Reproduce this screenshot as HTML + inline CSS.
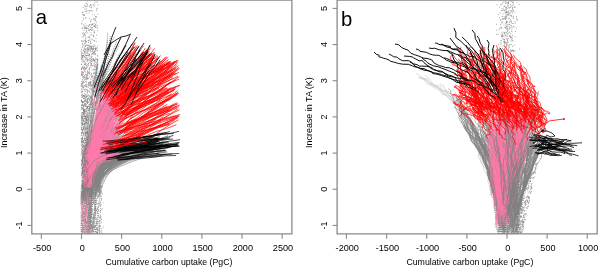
<!DOCTYPE html>
<html><head><meta charset="utf-8"><style>
html,body{margin:0;padding:0;background:#fff;width:598px;height:267px;overflow:hidden}
svg{display:block}
text{font-family:"Liberation Sans",sans-serif;fill:#000}
</style></head><body>
<svg style="will-change:transform" width="598" height="267" viewBox="0 0 598 267">
<rect width="598" height="267" fill="#fff"/>
<defs><clipPath id="pc"><rect x="31.8" y="0" width="260.1" height="233.9"/><rect x="337.1" y="0" width="259.7" height="233.9"/></clipPath></defs>
<g clip-path="url(#pc)">
<path d="M87.8 237.7l-0.6 -4.2 0.6 -4.2 0.9 -5.0 0.0 -4.6 1.2 -4.0 0.2 -3.0 0.1 -4.7 0.2 -3.5 0.7 -3.2 1.0 -5.2M92.7 237.2l-0.6 -5.6 1.5 -5.1 0.3 -5.1 0.0 -3.1 1.5 -4.0 -0.5 -5.5 -0.4 -3.4 -1.3 -5.4 0.3 -5.4 0.4 -5.4 0.7 -5.2M82.4 238.4l-0.5 -4.0 -1.0 -3.2 0.0 -4.1 0.0 -3.2 1.5 -3.3 -0.0 -5.8 0.5 -3.3 0.6 -5.9 -0.4 -3.3 0.1 -5.0 -0.1 -4.9M86.7 238.0l-0.5 -3.8 -0.9 -4.6 0.6 -4.0 -0.3 -5.0 -0.2 -5.7 0.2 -3.7 0.2 -3.2 0.3 -4.0 -1.1 -4.1 0.4 -5.0 -0.8 -5.1 0.9 -4.6 -0.7 -3.4 -0.2 -5.0M88.8 237.1l2.4 -3.1 0.8 -5.2 -0.3 -4.3 -0.5 -5.1 0.1 -5.9 -0.9 -6.0 0.8 -5.8 0.3 -4.4 -0.3 -3.8 -0.3 -5.2 1.1 -5.6 0.5 -3.8M87.9 238.4l-0.1 -4.0 -0.4 -5.1 -0.1 -4.3 0.6 -3.7 0.5 -5.4 0.3 -3.6 -0.1 -3.5 -1.1 -5.0 -0.2 -5.7 0.1 -3.6M90.2 237.3l0.7 -4.8 -0.3 -5.8 -0.8 -5.7 -0.4 -3.4 1.1 -3.3 0.3 -5.1 -2.0 -6.0 -1.5 -4.2 0.6 -3.4 0.2 -4.6 -0.2 -6.0 0.6 -5.2M82.5 238.1l0.7 -5.3 -0.3 -3.1 0.7 -3.9 -0.5 -3.6 0.4 -3.5 0.7 -5.8 0.1 -5.7 -1.3 -3.6 0.2 -5.3 1.0 -3.1M91.7 237.7l-1.0 -5.0 1.0 -5.8 1.5 -4.9 -0.2 -3.2 1.0 -5.0 0.6 -4.1 1.9 -5.6 0.5 -3.1 0.4 -3.2 0.0 -6.0 0.4 -5.5M94.7 236.2l0.7 -5.7 0.6 -4.4 -1.4 -3.5 0.3 -3.2 -1.6 -5.6 -2.0 -5.1 -0.1 -5.2 0.2 -5.3 -0.1 -5.2 0.6 -4.8M86.3 237.4l0.0 -4.7 1.0 -5.6 -0.1 -5.2 0.7 -3.3 0.8 -5.5 0.6 -3.4 0.8 -3.9 0.5 -3.4 0.7 -5.4 0.1 -3.5 -0.3 -3.8 0.7 -5.0 0.0 -3.5M97.0 236.4l0.0 -5.7 1.6 -4.0 -0.6 -5.3 -0.4 -5.7 -0.4 -5.1 0.9 -3.9 2.0 -3.9 -0.8 -3.5 -0.0 -5.7 -0.1 -3.3M89.9 238.2l0.5 -4.3 -0.2 -3.3 -0.7 -4.2 -1.5 -5.6 0.2 -3.0 0.4 -4.8 1.0 -4.2 -0.5 -4.8 0.5 -5.1 1.6 -5.6 0.1 -5.5 -0.5 -3.2 -0.1 -4.1M89.6 237.7l-0.5 -3.5 0.4 -5.4 0.8 -5.3 0.1 -4.9 1.6 -4.0 -1.2 -4.3 0.5 -3.1 -1.4 -4.9 0.1 -4.1 0.3 -4.7 -0.1 -5.4 -0.2 -4.4M96.2 236.5l0.6 -4.5 0.2 -3.9 -1.0 -5.7 -0.1 -3.4 -0.2 -3.6 -0.3 -4.2 0.6 -4.7 -0.8 -5.2 0.5 -5.3M99.0 236.1l0.1 -5.5 0.7 -3.5 0.2 -5.9 -0.2 -4.6 0.6 -3.5 0.1 -5.1 -0.2 -4.6 0.9 -3.2 0.0 -4.0 0.0 -4.1 -0.4 -5.1 0.4 -4.7M90.8 237.9l0.9 -3.6 0.1 -3.3 0.5 -4.6 0.8 -3.8 0.8 -5.2 -1.9 -4.4 0.5 -5.7 -0.6 -5.9 0.7 -5.9 1.1 -5.1 -0.2 -4.8 -0.6 -5.5 0.8 -5.2M89.1 238.4l1.1 -3.2 -0.6 -4.8 -0.3 -3.0 0.7 -4.4 -0.8 -3.4 -0.8 -4.9 -0.4 -4.5 -0.1 -5.5 0.8 -5.6 -1.1 -3.7 1.3 -3.9M82.8 236.0l-1.4 -5.0 -0.3 -5.1 0.3 -5.3 -0.1 -3.3 0.7 -3.9 0.8 -5.2 -0.6 -3.5 0.0 -3.1 -0.1 -3.8 1.2 -5.9 -0.9 -3.2 0.1 -4.9 0.6 -3.4M86.6 238.2l-0.2 -4.0 0.9 -5.9 1.8 -5.0 1.6 -3.7 -0.1 -4.5 0.5 -5.4 0.4 -4.4 -1.7 -5.8 1.8 -4.7 0.1 -5.2M91.2 237.7l0.5 -3.9 0.8 -4.2 -1.3 -4.0 -0.1 -4.8 -1.5 -5.2 1.0 -3.4 0.8 -3.2 0.5 -4.0 1.4 -3.6 0.1 -3.2 0.6 -4.9 -0.1 -4.8 -1.7 -5.7 0.7 -3.1 0.2 -4.7M90.8 238.1l-0.9 -5.1 -0.2 -5.6 -0.2 -3.6 0.4 -4.8 0.3 -5.9 1.5 -4.5 -0.1 -5.3 0.0 -4.3 0.3 -3.7 -0.4 -4.5 -0.3 -4.4M96.8 236.7l0.6 -4.9 -0.3 -3.8 -0.1 -4.5 1.1 -5.9 0.1 -4.6 0.2 -4.9 0.8 -4.3 0.0 -5.4 -1.0 -4.9M81.3 236.6l1.7 -4.0 0.6 -3.6 -1.6 -4.5 -1.0 -5.9 -0.2 -4.5 0.8 -5.4 -0.5 -4.4 0.6 -5.4 -0.9 -3.5 0.0 -3.4 0.2 -4.1M93.6 237.9l-0.3 -3.1 -0.2 -4.2 0.5 -5.4 -1.4 -3.3 2.2 -5.2 0.4 -5.2 0.9 -5.3 -1.2 -5.3 0.3 -5.8 0.1 -5.1 0.3 -3.4 -0.8 -5.3M90.9 237.8l0.1 -3.5 1.6 -5.4 1.3 -4.5 0.1 -5.3 1.1 -4.9 -0.2 -5.4 -0.5 -3.7 2.2 -6.0 -0.9 -3.3 -0.9 -4.8M86.1 238.0l-0.8 -3.1 0.4 -4.4 0.7 -5.1 -0.9 -4.5 -0.3 -5.9 -0.4 -5.8 -0.0 -5.1 0.4 -3.4 0.0 -4.3 -1.4 -5.6 0.0 -4.6 -1.3 -5.2M95.3 238.0l-0.2 -5.0 -1.1 -5.4 -0.5 -5.1 1.6 -4.2 0.4 -5.7 -0.4 -4.0 0.2 -5.8 -0.2 -3.2 0.1 -5.6M88.7 237.4l0.5 -5.7 0.3 -3.3 1.0 -4.4 0.5 -4.8 0.1 -5.2 -0.3 -3.1 -1.3 -4.3 -0.2 -4.0 -0.9 -5.8 -0.2 -5.0M89.9 236.5l-1.0 -3.1 -0.8 -3.6 0.3 -4.8 1.0 -5.9 -0.0 -5.6 0.3 -3.7 -0.5 -4.6 0.7 -4.5 -0.5 -5.7 0.6 -4.0 0.5 -4.7 0.8 -4.5 -1.7 -5.4M89.6 236.9l-0.5 -5.2 0.3 -5.1 -0.1 -5.6 0.4 -5.3 -0.3 -3.8 -0.2 -5.2 -0.3 -3.1 -0.1 -5.9 -0.8 -4.4 -0.5 -3.5 2.0 -3.3 0.1 -5.8 -0.8 -5.3 -0.7 -4.6M88.6 237.0l-0.8 -3.8 -0.3 -3.4 1.5 -3.7 2.2 -3.8 0.5 -3.8 -0.1 -3.6 -0.3 -5.4 1.4 -5.2 0.3 -3.6 0.0 -3.3 -1.9 -4.1 -1.4 -3.9 -0.0 -5.9M84.8 237.2l-0.4 -3.8 0.4 -6.0 0.1 -5.4 1.4 -5.8 -0.3 -3.9 0.6 -5.6 0.5 -4.4 -0.6 -5.2 -0.5 -5.9M85.1 238.2l0.0 -5.9 -0.7 -5.7 0.2 -3.7 -0.1 -3.8 0.5 -3.0 1.0 -3.9 0.9 -4.2 -0.2 -5.9 -0.5 -5.1M88.6 236.5l-0.1 -3.7 0.7 -4.1 0.1 -5.5 -1.3 -3.3 -0.0 -5.8 1.3 -4.9 0.4 -5.6 0.3 -5.5 -1.2 -5.3 0.5 -4.3M86.0 238.5l0.2 -4.3 -0.2 -5.3 0.8 -3.5 0.7 -4.5 0.9 -4.3 -0.1 -3.6 1.1 -4.0 0.8 -5.9 -0.2 -5.1 0.6 -3.7 1.2 -5.8 -0.4 -3.7 1.1 -3.5M89.8 237.1l-0.1 -4.5 0.8 -5.4 -0.8 -4.8 0.3 -5.9 1.0 -5.9 -0.9 -4.3 1.4 -4.6 1.4 -3.5 -0.3 -3.2 -0.3 -5.2 -0.1 -3.9 -1.0 -3.4 -0.0 -4.5M87.7 237.5l-0.0 -4.2 0.0 -5.0 0.7 -4.4 -0.3 -5.8 0.2 -3.7 1.1 -4.6 -0.2 -4.6 -0.8 -3.7 1.4 -5.9 -0.8 -4.1 -1.0 -5.2 0.1 -3.9M81.6 238.3l0.8 -4.5 1.1 -3.9 -0.4 -5.6 0.1 -3.7 -0.9 -3.7 1.6 -4.9 1.2 -3.4 -0.4 -5.4 0.2 -5.3 0.2 -3.2 -0.5 -3.8 1.4 -3.1 0.8 -5.4M83.8 237.1l-0.9 -4.1 -0.1 -5.2 -0.6 -5.3 0.6 -4.7 0.2 -3.5 0.1 -5.3 1.0 -3.5 0.8 -5.0 1.1 -4.3 1.3 -3.7 -0.0 -3.4 -0.6 -5.9M88.7 236.4l0.5 -4.0 1.2 -5.8 0.2 -4.6 -0.8 -4.1 -0.1 -5.1 -0.1 -3.6 -0.4 -5.0 -0.0 -4.1 0.0 -5.8 0.0 -3.2M90.6 238.4l1.2 -3.5 1.1 -5.3 1.0 -4.9 -0.3 -5.2 1.7 -4.2 0.0 -4.4 0.1 -3.2 -0.4 -3.8 -0.8 -5.5 -1.7 -5.6 -0.3 -4.0M88.7 238.0l-0.1 -4.1 0.1 -5.7 -0.7 -5.1 0.1 -3.2 -0.6 -3.4 -1.0 -4.8 -0.3 -3.7 -0.1 -5.5 -0.1 -5.9 1.0 -3.7 0.6 -4.7 0.2 -3.4M84.9 237.4l0.1 -3.4 0.7 -3.5 -0.4 -5.6 -0.6 -5.2 -0.5 -5.3 1.2 -5.2 0.1 -5.4 -0.2 -4.2 -2.0 -4.3 0.9 -4.8M82.1 238.2l-0.8 -4.6 0.6 -5.6 -0.3 -4.7 0.5 -5.3 0.2 -5.9 0.9 -4.4 -0.4 -5.7 -0.3 -5.7 -1.5 -5.6" fill="none" stroke="#828282" stroke-width="0.7" stroke-linejoin="round" stroke-dasharray="0.8 1.3"/>
<path d="M82.9 238.4l-0.3 -4.4 -0.5 -3.7 -0.2 -3.9 -0.5 -5.9 0.1 -3.2 0.3 -5.3 -0.7 -4.1 0.1 -4.9 0.2 -4.2 0.8 -3.9M89.0 237.8l-0.3 -5.9 -0.3 -5.2 -0.6 -4.2 -0.9 -5.3 -0.1 -5.8 0.2 -4.3 -0.2 -4.6 1.2 -5.1 0.1 -3.9 -0.3 -4.9 -0.3 -5.8 0.6 -3.7M81.6 236.1l1.9 -5.0 1.5 -5.2 -0.7 -3.6 0.7 -3.6 0.4 -4.3 0.5 -4.1 -1.0 -5.4 0.1 -5.6 -1.0 -4.2 -1.2 -4.6 0.3 -5.6 -0.0 -5.0 1.0 -4.4M87.0 238.0l0.4 -3.4 1.5 -3.2 -1.5 -5.1 -1.3 -4.9 1.0 -3.9 0.1 -3.2 -0.3 -5.1 0.7 -5.0 0.5 -3.8 0.1 -5.4M88.9 237.5l-0.7 -4.0 -0.6 -3.4 -0.6 -5.2 -1.4 -5.0 -0.4 -3.6 0.4 -5.3 0.8 -4.7 0.7 -4.6 0.6 -3.8M85.1 236.5l0.5 -5.8 -0.2 -3.7 -1.0 -4.2 -0.7 -4.8 2.0 -4.5 -0.0 -5.4 0.0 -3.8 -0.2 -5.8 0.7 -5.1 -0.4 -5.1M86.9 236.3l-0.4 -5.4 1.4 -4.7 -0.7 -4.6 0.2 -4.3 -2.2 -3.9 0.2 -4.6 0.2 -3.2 -1.2 -4.1 -1.1 -5.3 -0.1 -5.9 1.6 -4.0 -2.6 -4.1 -0.7 -4.4M83.6 237.6l-0.1 -3.7 -0.8 -3.0 0.7 -5.8 0.6 -3.1 -0.5 -3.9 0.6 -4.6 -0.7 -5.9 -0.6 -5.5 -0.3 -4.4 -0.8 -5.2M87.4 238.3l-0.0 -3.3 -0.1 -4.2 -0.3 -4.7 -0.6 -4.9 0.4 -5.0 -0.8 -5.8 0.7 -4.4 -0.4 -5.2 -0.9 -3.9 -1.0 -3.2 1.2 -5.3 0.7 -3.4 -0.2 -3.7 0.6 -4.8M84.8 237.9l-0.6 -4.6 -0.4 -5.4 -1.1 -4.9 -0.4 -3.7 0.9 -4.0 -0.9 -4.4 1.2 -6.0 -0.4 -3.4 -0.8 -4.2 0.6 -3.9 0.3 -4.4 -0.3 -3.3 0.8 -4.6M82.8 237.3l0.1 -5.0 0.7 -4.2 1.8 -5.3 -0.0 -5.1 0.6 -5.6 0.3 -5.5 -0.6 -5.1 1.0 -5.4M88.1 236.7l-0.3 -4.3 0.5 -5.4 -0.8 -3.9 -0.1 -4.9 -0.4 -3.5 0.5 -4.7 0.8 -4.7 -0.9 -3.0 1.0 -5.3 -1.5 -3.7 0.4 -4.8 1.0 -5.2 -1.0 -5.6M89.5 237.1l0.3 -6.0 -1.2 -4.9 0.1 -4.6 -1.6 -4.1 -0.0 -3.8 0.5 -3.3 -0.1 -3.6 1.0 -3.9 -0.2 -5.5 0.1 -5.2M84.8 236.0l0.8 -3.2 -0.5 -4.4 0.2 -4.1 -0.5 -4.7 -1.7 -3.4 -0.4 -5.7 0.2 -4.0 0.1 -3.7 -0.1 -3.6 0.3 -4.6 1.6 -3.3 -0.8 -5.8 -1.4 -4.5M85.2 236.7l-0.0 -5.5 -0.2 -4.0 -0.1 -3.0 0.5 -3.7 0.6 -3.4 1.8 -3.2 0.7 -5.4 -1.2 -3.4 1.4 -5.7 -0.2 -5.8 0.2 -3.9" fill="none" stroke="#ff7aaa" stroke-width="0.7" stroke-linejoin="round" stroke-dasharray="0.8 1.3"/>
<path d="M89.3 109.0h0.8M91.3 119.8h0.8M81.8 123.6h0.8M94.4 197.1h0.8M96.3 233.0h0.8M82.0 67.6h0.8M97.2 110.0h0.8M94.8 147.3h0.8M96.9 77.8h0.8M82.5 57.7h0.8M90.1 41.6h0.8M84.4 98.5h0.8M99.2 188.0h0.8M93.7 60.4h0.8M90.8 56.9h0.8M84.7 191.4h0.8M88.3 141.2h0.8M95.4 225.3h0.8M86.0 139.6h0.8M83.1 133.9h0.8M95.7 229.4h0.8M98.8 164.0h0.8M93.0 112.8h0.8M91.6 134.0h0.8M82.2 142.5h0.8M89.2 205.9h0.8M94.8 103.1h0.8M92.5 53.9h0.8M81.0 215.4h0.8M91.9 76.5h0.8M100.2 188.6h0.8M83.1 74.1h0.8M101.3 198.6h0.8M85.4 105.5h0.8M89.6 146.4h0.8M82.4 229.8h0.8M94.0 72.3h0.8M83.2 55.6h0.8M91.3 104.5h0.8M85.3 41.9h0.8M91.1 121.8h0.8M82.7 185.3h0.8M91.0 186.4h0.8M96.3 168.9h0.8M97.6 228.7h0.8M82.5 200.3h0.8M90.3 179.8h0.8M94.2 15.0h0.8M83.6 184.4h0.8M96.7 169.3h0.8M96.7 115.3h0.8M85.7 123.2h0.8M95.0 122.3h0.8M90.4 122.7h0.8M90.9 117.7h0.8M89.3 131.7h0.8M90.6 216.1h0.8M91.3 190.9h0.8M97.3 144.6h0.8M84.0 5.3h0.8M86.7 75.4h0.8M89.7 46.3h0.8M89.6 96.7h0.8M92.3 147.7h0.8M96.0 143.1h0.8M87.8 189.7h0.8M94.0 98.7h0.8M81.1 160.3h0.8M83.4 213.3h0.8M92.3 117.7h0.8M90.3 120.5h0.8M82.1 216.9h0.8M87.1 178.9h0.8M90.8 100.6h0.8M90.1 197.6h0.8M88.1 147.3h0.8M86.4 229.9h0.8M96.7 182.0h0.8M92.9 94.9h0.8M81.0 109.7h0.8M87.0 155.9h0.8M93.5 150.3h0.8M87.5 60.1h0.8M82.4 87.9h0.8M98.0 132.9h0.8M96.3 10.6h0.8M90.9 123.3h0.8M91.0 153.3h0.8M81.0 69.3h0.8M93.4 36.6h0.8M99.2 221.0h0.8M91.6 227.7h0.8M82.8 141.2h0.8M81.7 47.7h0.8M92.0 103.6h0.8M88.1 136.2h0.8M97.0 233.4h0.8M94.4 208.9h0.8M91.3 160.3h0.8M84.5 176.3h0.8M91.2 99.5h0.8M91.6 128.8h0.8M86.5 49.3h0.8M94.6 146.0h0.8M94.3 60.4h0.8M88.6 215.5h0.8M92.2 113.5h0.8M86.1 162.4h0.8M87.8 169.9h0.8M97.7 213.7h0.8M86.8 58.1h0.8M87.3 92.6h0.8M98.6 186.5h0.8M89.9 120.7h0.8M95.4 152.4h0.8M82.5 184.4h0.8M93.7 210.4h0.8M85.3 151.9h0.8M93.6 122.0h0.8M91.4 226.6h0.8M98.0 165.7h0.8M87.8 98.7h0.8M84.3 231.9h0.8M97.0 68.3h0.8M96.7 136.7h0.8M84.4 43.2h0.8M84.7 139.2h0.8M93.5 40.4h0.8M86.3 191.2h0.8M84.5 112.9h0.8M91.9 187.5h0.8M85.9 231.7h0.8M94.1 86.9h0.8M83.4 36.8h0.8M89.7 62.4h0.8M95.8 137.3h0.8M96.1 97.6h0.8M89.9 48.8h0.8M87.3 194.7h0.8M92.7 109.3h0.8M95.1 226.3h0.8M85.3 166.1h0.8M91.1 48.4h0.8M85.9 126.3h0.8M85.5 156.0h0.8M96.6 77.1h0.8M94.6 77.6h0.8M82.4 138.7h0.8M87.6 29.0h0.8M89.3 99.9h0.8M86.5 77.5h0.8M89.3 88.4h0.8M83.6 143.1h0.8M86.8 128.3h0.8M99.4 166.9h0.8M82.2 46.3h0.8M88.5 84.5h0.8M90.4 131.2h0.8M93.9 232.2h0.8M95.8 67.5h0.8M92.1 194.4h0.8M86.4 154.1h0.8M89.5 40.6h0.8M91.5 77.7h0.8M87.7 110.0h0.8M95.3 177.4h0.8M89.8 196.1h0.8M92.0 211.8h0.8M81.7 75.0h0.8M92.2 171.3h0.8M82.0 138.9h0.8M87.4 117.6h0.8M84.8 123.1h0.8M99.5 226.2h0.8M93.3 51.9h0.8M94.0 23.1h0.8M85.7 222.5h0.8M86.8 93.0h0.8M84.2 110.6h0.8M98.1 209.9h0.8M91.4 47.3h0.8M83.3 166.9h0.8M82.1 104.2h0.8M95.3 155.5h0.8M85.7 207.0h0.8M91.9 230.0h0.8M85.8 140.3h0.8M85.5 57.5h0.8M81.5 209.9h0.8M96.3 90.0h0.8M91.9 130.1h0.8M90.9 183.2h0.8M93.8 40.7h0.8M88.2 55.1h0.8M90.9 185.1h0.8M81.4 116.8h0.8M95.9 134.0h0.8M85.2 103.4h0.8M83.2 55.7h0.8M91.2 73.6h0.8M85.1 40.2h0.8M82.1 194.4h0.8M97.0 50.6h0.8M99.9 178.1h0.8M81.6 174.3h0.8M87.4 33.1h0.8M95.0 178.6h0.8M84.9 129.1h0.8M81.5 142.9h0.8M99.8 202.3h0.8M97.2 197.3h0.8M90.0 43.0h0.8M88.6 50.2h0.8M99.4 232.4h0.8M81.1 64.2h0.8M96.2 92.0h0.8M93.6 84.2h0.8M90.9 180.3h0.8M81.5 55.8h0.8M83.1 127.3h0.8M93.5 169.8h0.8M92.7 65.6h0.8M92.3 50.6h0.8M93.9 203.2h0.8M81.8 91.8h0.8M85.5 116.3h0.8M83.6 111.2h0.8M92.8 129.4h0.8M81.9 85.2h0.8M90.6 116.0h0.8M81.2 59.3h0.8M85.3 132.4h0.8M93.0 180.5h0.8M99.9 205.9h0.8M86.0 118.7h0.8M84.0 35.1h0.8M80.8 54.9h0.8M89.0 56.0h0.8M88.0 226.7h0.8M93.9 167.5h0.8M93.6 192.9h0.8M85.6 86.5h0.8M85.0 55.5h0.8M82.9 120.2h0.8M92.6 23.9h0.8M90.2 180.7h0.8M86.0 203.5h0.8M92.8 91.8h0.8M86.4 76.5h0.8M89.8 193.9h0.8M83.5 194.5h0.8M83.9 54.1h0.8M83.8 220.2h0.8M95.3 231.4h0.8M86.3 28.1h0.8M87.0 113.0h0.8M88.9 196.3h0.8M95.4 229.5h0.8M83.7 34.4h0.8M89.0 58.8h0.8M90.3 4.5h0.8M84.6 64.1h0.8M81.7 60.7h0.8M82.1 72.4h0.8M98.7 233.3h0.8M82.0 188.8h0.8M90.6 202.3h0.8M81.2 41.1h0.8M89.4 72.5h0.8M91.5 224.5h0.8M102.2 193.7h0.8M92.6 94.1h0.8M90.4 5.5h0.8M91.5 85.3h0.8M82.8 211.8h0.8M93.2 49.5h0.8M82.6 41.5h0.8M81.0 100.8h0.8M95.5 47.9h0.8M97.3 25.4h0.8M87.6 51.4h0.8M83.9 75.4h0.8M91.4 34.7h0.8M91.6 200.4h0.8M90.6 196.0h0.8M84.6 90.0h0.8M81.3 120.6h0.8M86.8 172.7h0.8M95.3 94.1h0.8M101.9 186.7h0.8M85.5 45.9h0.8M94.3 129.9h0.8M97.7 187.2h0.8M83.8 27.5h0.8M96.9 144.4h0.8M84.5 170.3h0.8M85.8 147.4h0.8M83.0 109.2h0.8M87.1 142.7h0.8M94.5 161.8h0.8M83.2 95.5h0.8M90.4 191.9h0.8M92.6 81.0h0.8M95.4 66.7h0.8M93.2 90.7h0.8M96.7 103.2h0.8M89.5 209.5h0.8M92.5 199.0h0.8M93.5 169.2h0.8M93.6 222.2h0.8M86.1 108.8h0.8M102.8 227.1h0.8M87.0 49.0h0.8M82.4 173.6h0.8M94.1 145.8h0.8M95.6 171.0h0.8M87.9 209.6h0.8M94.0 26.0h0.8M90.3 29.2h0.8M85.7 119.9h0.8M81.7 96.9h0.8M95.0 24.4h0.8M87.6 122.8h0.8M81.0 225.5h0.8M94.4 171.9h0.8M99.0 226.1h0.8M85.2 18.3h0.8M89.0 76.9h0.8M91.5 221.5h0.8M93.1 70.0h0.8M88.8 100.4h0.8M84.5 93.5h0.8M88.9 73.6h0.8M80.9 114.1h0.8M90.8 85.6h0.8M91.3 142.6h0.8M93.4 120.8h0.8M85.3 59.0h0.8M88.0 230.3h0.8M93.4 184.5h0.8M81.3 217.0h0.8M80.9 135.7h0.8M88.1 175.9h0.8M90.9 155.9h0.8M96.7 72.6h0.8M87.7 49.4h0.8M97.9 157.8h0.8M93.8 90.8h0.8M90.6 39.0h0.8M87.3 121.7h0.8M90.5 83.8h0.8M92.4 76.8h0.8M91.8 170.9h0.8M95.8 193.0h0.8M88.9 106.7h0.8M86.5 129.1h0.8M96.4 178.9h0.8M84.1 51.1h0.8M96.0 210.5h0.8M85.1 125.7h0.8M88.9 30.8h0.8M90.4 142.6h0.8M97.6 154.4h0.8M85.4 184.2h0.8M98.8 170.6h0.8M95.9 16.8h0.8M97.3 28.0h0.8M97.8 133.6h0.8M91.0 183.6h0.8M89.6 43.2h0.8M92.6 46.2h0.8M83.7 227.6h0.8M92.2 160.5h0.8M81.4 224.0h0.8M90.5 121.6h0.8M89.7 228.2h0.8M90.0 137.0h0.8M83.3 41.1h0.8M87.3 183.4h0.8M89.5 60.9h0.8M84.7 43.2h0.8M93.6 170.0h0.8M93.5 18.4h0.8M97.3 97.0h0.8M89.4 213.2h0.8M87.4 183.1h0.8M90.7 67.2h0.8M90.9 191.5h0.8M85.0 214.0h0.8M100.2 218.0h0.8M83.6 221.3h0.8M98.8 170.0h0.8M85.9 11.5h0.8M89.9 123.3h0.8M96.8 123.3h0.8M84.2 216.3h0.8M96.2 228.8h0.8M81.1 49.5h0.8M91.7 116.8h0.8M85.9 3.6h0.8M87.4 144.8h0.8M88.1 135.9h0.8M96.1 77.8h0.8M84.4 199.6h0.8M83.7 67.5h0.8M82.4 66.5h0.8M87.1 120.3h0.8M90.4 63.0h0.8M98.3 150.1h0.8M94.2 19.8h0.8M99.5 186.7h0.8M97.0 129.9h0.8M94.8 68.0h0.8M94.4 41.2h0.8M91.2 215.2h0.8M87.6 229.8h0.8M99.9 177.4h0.8M97.1 133.2h0.8M86.7 90.0h0.8M90.4 162.5h0.8M96.7 68.0h0.8M87.3 181.1h0.8M88.8 125.3h0.8M90.5 46.6h0.8M96.8 123.3h0.8M84.7 95.2h0.8M91.6 178.4h0.8M84.0 123.5h0.8M90.0 35.2h0.8M86.9 170.1h0.8M89.0 162.5h0.8M93.7 134.1h0.8M92.2 159.4h0.8M93.2 199.4h0.8M85.9 28.1h0.8M87.7 119.1h0.8M94.0 60.2h0.8M88.1 85.6h0.8M88.2 146.0h0.8M89.5 228.5h0.8M93.0 153.5h0.8M93.7 52.9h0.8M92.7 80.0h0.8M97.4 93.2h0.8M95.3 178.2h0.8M91.3 165.0h0.8M93.8 31.9h0.8M92.6 222.4h0.8M83.2 98.3h0.8M97.5 124.0h0.8M93.5 82.5h0.8M85.4 89.0h0.8M86.5 185.8h0.8M92.5 49.4h0.8M90.6 205.6h0.8M84.5 52.3h0.8M90.0 225.6h0.8M84.5 214.2h0.8M86.9 53.0h0.8M92.4 11.0h0.8M90.7 127.1h0.8M97.2 82.6h0.8M82.5 14.7h0.8M86.9 131.4h0.8M85.2 68.4h0.8M85.5 138.5h0.8M89.3 109.8h0.8M92.8 176.4h0.8M87.7 117.1h0.8M89.6 109.7h0.8M86.9 186.4h0.8M87.4 106.4h0.8M99.2 232.0h0.8M91.8 227.2h0.8M97.4 120.9h0.8M82.8 149.6h0.8M93.5 101.9h0.8M84.8 157.8h0.8M91.8 51.5h0.8M82.5 130.7h0.8M97.2 190.6h0.8M96.8 110.8h0.8M92.2 218.9h0.8M92.7 59.0h0.8M86.6 226.6h0.8M83.9 15.4h0.8M87.7 146.9h0.8M81.6 124.2h0.8M86.3 86.9h0.8M91.1 214.0h0.8M84.9 132.2h0.8M95.2 18.3h0.8M94.9 109.5h0.8M94.8 178.1h0.8M82.6 205.2h0.8M97.0 140.8h0.8M84.0 67.1h0.8M83.8 149.8h0.8M83.3 87.9h0.8M88.7 90.8h0.8M86.4 45.2h0.8M87.7 137.5h0.8M95.9 175.6h0.8M97.4 173.3h0.8M93.8 30.8h0.8M86.2 65.4h0.8M86.9 61.4h0.8M97.4 64.4h0.8M85.2 167.5h0.8M90.1 200.5h0.8M93.2 73.2h0.8M91.1 47.5h0.8M83.9 96.9h0.8M98.7 157.8h0.8M81.3 53.7h0.8M83.0 124.4h0.8M82.8 80.6h0.8M98.8 158.5h0.8M89.2 148.1h0.8M90.8 61.6h0.8M99.2 159.6h0.8M96.2 92.3h0.8M87.5 10.8h0.8M83.3 35.3h0.8M89.4 178.7h0.8M81.0 207.9h0.8M90.9 104.3h0.8M83.2 78.4h0.8M85.3 210.7h0.8M91.5 48.8h0.8M87.7 222.0h0.8M91.0 186.0h0.8M86.3 222.3h0.8M87.8 78.8h0.8M82.8 108.5h0.8M94.5 193.4h0.8M94.5 143.5h0.8M94.4 226.9h0.8M91.6 85.7h0.8M91.5 90.3h0.8M87.1 70.8h0.8M96.9 149.3h0.8M88.7 82.6h0.8M85.4 99.3h0.8M95.3 149.5h0.8M81.1 141.1h0.8M81.4 74.7h0.8M90.1 21.1h0.8M93.3 177.4h0.8M83.7 156.6h0.8M92.7 120.6h0.8M97.0 184.6h0.8M88.1 72.4h0.8M93.8 65.4h0.8M91.9 188.0h0.8M92.5 138.3h0.8M88.5 47.6h0.8M83.1 25.0h0.8M84.1 195.5h0.8M91.2 210.6h0.8M91.6 56.4h0.8M88.4 102.3h0.8M92.2 106.5h0.8M83.3 132.6h0.8M81.3 84.1h0.8M81.5 220.5h0.8M83.1 72.8h0.8M85.3 179.1h0.8M95.1 179.9h0.8M88.7 83.1h0.8M101.2 219.5h0.8M85.9 28.4h0.8M96.5 98.0h0.8M84.6 79.7h0.8M89.9 96.5h0.8M81.1 68.1h0.8M87.1 115.0h0.8M86.5 115.4h0.8M89.3 157.7h0.8M96.8 140.0h0.8M96.6 87.8h0.8M86.8 205.7h0.8M81.4 123.5h0.8M88.2 29.0h0.8M86.4 25.7h0.8M99.0 218.0h0.8M91.5 107.6h0.8M96.8 171.0h0.8M91.0 227.3h0.8M85.3 119.2h0.8M91.5 75.9h0.8M82.4 192.1h0.8M82.0 196.0h0.8M90.7 209.1h0.8M98.2 210.6h0.8M92.2 105.6h0.8M87.4 0.9h0.8M87.7 51.8h0.8M93.8 142.5h0.8M82.0 79.4h0.8M97.7 159.4h0.8M81.0 107.5h0.8M88.6 202.0h0.8M98.4 146.2h0.8M100.1 180.7h0.8M81.0 92.8h0.8M87.4 71.5h0.8M94.2 99.0h0.8M95.8 70.6h0.8M85.3 122.6h0.8M94.4 180.2h0.8M81.9 173.4h0.8M98.0 196.5h0.8M91.6 146.1h0.8M82.0 90.0h0.8M85.9 51.0h0.8M82.1 136.1h0.8M94.0 0.3h0.8M90.3 191.5h0.8M83.0 158.7h0.8M93.7 77.0h0.8M85.4 123.0h0.8M93.7 81.8h0.8M84.7 69.3h0.8M96.7 86.1h0.8M82.5 124.6h0.8M95.1 204.6h0.8M86.1 194.9h0.8M92.7 214.3h0.8M86.8 212.9h0.8M82.2 82.8h0.8M91.1 101.4h0.8M81.8 125.0h0.8M94.5 61.4h0.8M92.0 185.4h0.8M85.6 221.8h0.8M90.0 65.8h0.8M81.6 97.5h0.8M89.2 141.8h0.8M85.9 32.1h0.8M91.1 63.6h0.8M82.1 108.0h0.8M97.1 173.0h0.8M83.2 95.5h0.8M82.1 28.1h0.8M99.4 193.6h0.8M94.8 64.7h0.8M81.7 148.0h0.8M93.9 197.5h0.8M84.2 188.9h0.8M97.3 158.7h0.8M85.3 136.2h0.8M82.5 56.6h0.8M86.1 176.6h0.8M93.3 218.8h0.8M85.1 133.3h0.8M85.1 168.6h0.8M94.9 101.6h0.8M90.6 141.7h0.8M84.8 129.3h0.8M87.3 207.5h0.8M83.8 106.2h0.8M85.5 53.3h0.8M89.5 18.7h0.8M91.8 140.4h0.8M88.5 69.2h0.8M90.6 144.2h0.8M88.0 87.2h0.8M97.4 115.9h0.8M92.5 168.1h0.8M92.4 173.6h0.8M91.1 156.1h0.8M83.6 112.6h0.8M95.6 38.7h0.8M95.1 20.8h0.8M94.3 212.6h0.8M94.4 129.4h0.8M86.6 223.4h0.8M83.5 67.4h0.8M90.8 98.7h0.8M97.1 55.5h0.8M92.7 59.6h0.8M95.2 59.9h0.8M87.5 102.6h0.8M81.3 64.5h0.8M96.3 151.7h0.8M85.2 157.5h0.8M90.6 64.0h0.8M92.3 53.2h0.8M101.6 233.0h0.8M81.4 24.1h0.8M85.2 45.9h0.8M88.8 145.6h0.8M89.3 30.0h0.8M96.6 66.4h0.8M97.0 221.1h0.8M86.7 160.9h0.8M93.7 91.6h0.8M83.3 119.8h0.8M84.9 94.4h0.8M88.7 160.0h0.8M89.0 24.6h0.8M96.4 221.8h0.8M88.9 212.3h0.8M93.8 54.5h0.8M94.2 118.9h0.8M81.9 43.3h0.8M88.9 139.5h0.8M95.8 193.7h0.8M91.8 24.0h0.8M91.2 128.5h0.8M86.0 74.6h0.8M94.4 148.0h0.8M99.3 169.8h0.8M90.1 97.8h0.8M96.5 69.8h0.8M91.2 195.1h0.8M94.4 116.0h0.8M85.1 33.0h0.8M93.3 137.2h0.8M97.6 140.3h0.8M85.1 221.0h0.8M86.2 200.0h0.8M90.5 82.4h0.8M92.5 142.4h0.8M94.9 81.4h0.8M87.1 90.2h0.8M87.5 37.6h0.8M92.7 82.8h0.8M93.3 217.7h0.8M91.2 76.8h0.8M85.3 105.1h0.8M84.9 81.5h0.8M87.5 220.1h0.8M93.4 161.7h0.8M85.9 41.5h0.8M83.9 177.3h0.8M93.9 69.5h0.8M94.6 91.1h0.8M83.4 126.3h0.8M89.2 140.7h0.8M92.1 103.7h0.8M93.9 67.0h0.8M80.8 91.8h0.8M92.4 126.2h0.8M88.1 143.0h0.8M84.6 153.2h0.8M81.7 123.1h0.8M93.8 142.7h0.8M85.3 109.7h0.8M95.5 201.5h0.8M91.3 217.5h0.8M81.4 120.7h0.8M85.3 38.8h0.8M96.7 58.9h0.8M90.8 217.0h0.8M82.0 72.1h0.8M82.9 140.5h0.8M94.5 186.7h0.8M82.9 171.5h0.8M85.7 199.5h0.8M86.0 178.4h0.8M93.3 227.1h0.8M95.9 152.0h0.8M90.2 228.5h0.8M97.3 137.5h0.8M81.4 205.5h0.8M91.9 39.4h0.8M86.9 64.3h0.8M81.7 75.0h0.8M82.2 195.7h0.8M81.6 105.6h0.8M90.4 141.4h0.8M85.9 122.4h0.8M86.9 113.1h0.8M90.9 64.6h0.8M90.7 47.8h0.8M86.6 124.4h0.8M97.0 229.4h0.8M82.3 124.2h0.8M93.2 183.1h0.8M82.2 33.4h0.8M96.2 223.3h0.8M93.1 215.9h0.8M83.1 81.9h0.8M95.3 140.6h0.8M96.4 82.6h0.8M81.0 107.3h0.8M90.5 49.8h0.8M96.0 22.2h0.8M83.4 149.8h0.8M81.3 56.0h0.8M85.5 188.6h0.8M92.0 144.1h0.8M82.2 55.8h0.8M88.8 104.9h0.8M97.8 207.3h0.8M87.7 182.0h0.8M87.8 40.5h0.8M96.8 140.0h0.8M92.4 139.1h0.8M84.8 220.3h0.8M92.8 167.1h0.8M87.9 144.9h0.8M89.8 143.4h0.8M85.8 191.6h0.8M100.5 216.2h0.8M86.5 176.2h0.8M82.9 185.2h0.8M90.3 60.6h0.8M87.4 172.3h0.8M84.7 222.9h0.8M92.2 132.0h0.8M93.5 137.0h0.8M87.7 73.6h0.8M97.4 148.4h0.8M94.9 85.4h0.8M84.7 131.1h0.8M95.6 1.8h0.8M81.8 121.7h0.8M91.2 27.5h0.8M86.6 78.4h0.8M84.3 85.9h0.8M97.9 195.7h0.8M87.6 59.8h0.8M85.0 106.3h0.8M90.4 46.4h0.8M97.3 160.6h0.8M81.2 195.3h0.8M80.9 100.3h0.8M87.4 204.5h0.8M88.1 26.3h0.8M96.7 232.7h0.8M85.7 225.9h0.8M95.2 186.2h0.8M93.7 69.7h0.8M95.0 92.3h0.8M91.3 226.7h0.8M86.5 180.8h0.8M83.0 135.3h0.8M93.3 59.8h0.8M94.0 83.2h0.8M99.3 183.1h0.8M84.9 165.1h0.8M94.8 182.7h0.8M96.7 108.3h0.8M87.6 45.5h0.8M82.2 57.0h0.8M90.0 221.9h0.8M92.2 161.0h0.8M95.9 96.1h0.8M82.7 177.7h0.8M93.0 80.4h0.8M89.0 143.1h0.8M88.7 198.5h0.8M92.2 150.0h0.8M84.7 77.1h0.8M97.2 147.4h0.8M94.1 109.5h0.8M96.0 186.9h0.8M93.0 138.0h0.8M85.4 91.2h0.8M82.4 162.5h0.8M89.3 48.3h0.8M82.7 7.5h0.8M84.4 111.2h0.8M101.1 222.3h0.8M83.8 205.7h0.8M87.8 216.6h0.8M88.7 164.3h0.8M81.2 133.8h0.8M85.1 177.0h0.8M95.3 153.9h0.8M85.6 26.7h0.8M81.4 194.6h0.8M89.5 214.2h0.8M96.0 74.9h0.8M90.7 75.2h0.8M97.8 196.3h0.8M96.1 201.0h0.8M82.1 154.3h0.8M90.1 107.5h0.8M94.7 121.6h0.8M87.7 163.6h0.8M84.0 147.4h0.8M95.1 159.2h0.8M96.9 60.0h0.8M99.5 225.8h0.8M82.2 87.1h0.8M97.1 112.2h0.8M89.0 95.9h0.8M81.7 138.7h0.8M88.9 136.3h0.8M92.6 173.6h0.8M84.6 170.9h0.8M95.2 62.0h0.8M92.1 134.5h0.8M87.0 103.2h0.8M96.2 62.9h0.8M91.7 191.0h0.8M94.7 103.7h0.8M93.4 187.2h0.8M93.2 84.3h0.8M89.0 208.4h0.8M92.5 150.0h0.8M91.7 100.1h0.8M91.1 30.5h0.8M90.3 142.3h0.8M94.7 144.3h0.8M94.3 193.6h0.8M92.2 105.9h0.8M89.0 67.7h0.8M86.5 84.8h0.8M90.5 103.5h0.8M92.4 24.8h0.8M96.7 76.1h0.8M81.4 86.5h0.8M87.2 123.4h0.8M83.9 109.8h0.8M93.6 134.2h0.8M87.0 220.7h0.8M95.2 49.3h0.8M83.1 142.6h0.8M90.2 219.8h0.8M99.2 221.0h0.8M96.4 163.0h0.8M88.8 177.8h0.8M96.9 208.8h0.8M89.2 70.8h0.8M93.5 101.5h0.8M84.8 46.4h0.8M81.5 148.6h0.8M94.2 124.7h0.8M93.2 147.9h0.8M97.1 131.8h0.8M85.1 72.1h0.8M91.6 206.1h0.8M96.8 213.5h0.8M90.7 180.0h0.8M82.3 229.1h0.8M94.6 112.9h0.8M90.1 127.8h0.8M90.0 131.7h0.8M88.2 63.2h0.8M81.3 85.5h0.8M85.7 161.1h0.8M85.4 118.9h0.8M92.6 198.0h0.8M90.0 135.6h0.8M91.8 121.3h0.8M99.4 172.2h0.8M96.2 75.2h0.8M85.1 186.4h0.8M89.6 7.0h0.8M96.6 212.0h0.8M91.7 61.8h0.8M83.3 95.7h0.8M92.0 193.2h0.8M93.6 213.6h0.8M83.6 229.4h0.8M84.4 110.8h0.8M94.0 141.4h0.8M86.0 128.7h0.8M84.4 9.1h0.8M95.5 88.8h0.8M96.7 232.5h0.8M94.4 105.7h0.8M93.2 168.5h0.8M96.7 156.8h0.8M90.2 162.8h0.8M92.5 85.0h0.8M84.8 146.2h0.8M88.8 129.1h0.8M94.7 84.1h0.8M86.3 94.8h0.8M96.5 27.4h0.8M81.4 83.6h0.8M94.5 207.8h0.8M86.0 66.0h0.8M85.1 218.9h0.8M93.4 48.3h0.8M86.0 31.1h0.8M90.1 219.7h0.8M90.4 169.4h0.8M98.2 221.9h0.8M96.7 109.9h0.8M89.4 74.3h0.8M84.8 197.3h0.8M93.2 231.4h0.8M82.2 77.0h0.8M82.0 96.6h0.8M84.8 129.8h0.8M83.8 113.6h0.8M89.7 125.7h0.8M89.5 11.0h0.8M91.1 54.1h0.8M81.8 118.4h0.8M83.7 30.0h0.8M90.8 199.0h0.8M81.5 117.3h0.8M86.0 132.6h0.8M91.4 116.5h0.8M84.9 187.2h0.8M93.2 4.8h0.8M97.8 215.6h0.8M90.2 89.2h0.8M92.0 48.5h0.8M83.9 136.3h0.8M89.2 104.2h0.8M91.1 24.8h0.8M86.1 68.3h0.8M83.1 133.3h0.8M91.9 65.5h0.8M94.7 51.2h0.8M95.6 25.1h0.8M84.3 48.9h0.8M94.9 226.0h0.8M89.3 131.2h0.8M83.7 105.5h0.8M97.3 108.5h0.8M93.8 151.0h0.8M81.6 58.3h0.8M96.2 149.0h0.8M83.5 98.2h0.8M82.8 160.3h0.8M83.8 121.9h0.8M94.7 225.3h0.8M85.5 63.5h0.8M85.8 153.6h0.8M92.7 129.3h0.8M90.4 168.2h0.8M84.2 26.0h0.8M90.2 10.7h0.8M97.5 75.5h0.8M85.8 77.0h0.8M86.7 184.3h0.8M82.3 226.8h0.8M83.8 49.7h0.8M98.4 155.6h0.8M87.1 73.4h0.8M81.8 146.5h0.8M81.7 234.0h0.8M84.3 104.2h0.8M86.6 84.8h0.8M89.2 108.2h0.8M94.2 51.4h0.8M85.0 203.3h0.8M92.5 83.8h0.8M88.1 63.8h0.8M93.9 44.8h0.8M89.3 213.7h0.8M90.1 93.6h0.8M87.2 91.4h0.8M93.9 77.2h0.8M82.5 83.3h0.8M81.3 229.0h0.8M100.6 196.0h0.8M84.8 35.4h0.8M85.2 127.3h0.8M93.9 3.0h0.8M88.4 113.7h0.8M87.8 112.7h0.8M85.0 225.5h0.8M94.2 66.3h0.8M93.0 112.1h0.8M89.3 83.0h0.8M87.3 5.9h0.8M98.6 174.4h0.8M91.0 163.2h0.8M89.8 86.0h0.8M88.5 199.8h0.8M92.2 155.7h0.8M96.3 170.7h0.8M98.4 226.8h0.8M94.7 218.0h0.8M98.2 143.0h0.8M89.9 125.0h0.8M85.9 55.7h0.8M84.6 63.5h0.8M85.8 55.2h0.8M90.0 21.7h0.8M93.2 26.2h0.8M83.0 59.9h0.8M91.7 190.1h0.8M82.2 138.2h0.8M97.1 110.2h0.8M92.3 136.2h0.8M96.3 116.7h0.8M96.5 130.4h0.8M92.3 131.1h0.8M81.3 230.7h0.8M87.9 48.2h0.8M85.6 121.9h0.8M94.3 91.1h0.8M94.3 179.3h0.8M97.1 155.6h0.8M93.2 126.9h0.8M94.9 208.2h0.8M90.9 103.0h0.8M88.2 127.9h0.8M95.4 103.1h0.8M83.0 62.0h0.8M85.8 229.0h0.8M95.4 186.4h0.8M88.7 54.3h0.8M83.7 77.5h0.8M88.7 141.6h0.8M95.7 150.9h0.8M88.2 121.9h0.8M87.2 55.4h0.8M85.6 17.5h0.8M90.1 50.9h0.8M96.0 80.1h0.8M90.8 203.3h0.8M87.1 66.9h0.8M91.0 97.2h0.8M95.6 218.1h0.8M81.6 195.2h0.8M90.7 221.7h0.8M89.5 180.2h0.8M95.6 210.0h0.8M85.5 50.0h0.8M84.5 6.0h0.8M86.5 157.1h0.8M93.1 174.7h0.8M99.2 228.5h0.8M82.8 214.4h0.8M89.5 194.3h0.8M87.0 147.0h0.8M93.6 143.1h0.8M90.9 141.5h0.8M95.1 207.7h0.8M81.7 21.1h0.8M91.2 115.1h0.8M82.7 53.5h0.8M96.5 218.9h0.8M91.2 7.2h0.8M97.8 230.5h0.8M89.2 126.7h0.8M93.5 88.6h0.8M83.2 216.9h0.8M88.3 203.5h0.8M91.4 89.9h0.8M89.1 85.4h0.8M93.7 6.7h0.8M82.2 147.4h0.8M89.8 81.5h0.8M96.5 59.7h0.8M97.3 188.5h0.8M96.0 72.6h0.8M91.4 104.7h0.8M101.2 191.8h0.8M81.2 81.6h0.8M90.9 7.7h0.8M85.9 75.2h0.8M86.9 60.3h0.8M82.1 44.3h0.8M93.1 214.8h0.8M88.9 37.4h0.8M94.0 26.5h0.8M85.5 154.4h0.8M94.9 175.8h0.8M96.6 59.6h0.8M90.5 86.4h0.8M86.1 178.0h0.8M83.2 120.6h0.8M93.3 153.9h0.8M83.5 141.0h0.8M93.5 109.2h0.8M97.7 128.4h0.8M89.0 136.5h0.8M101.0 199.7h0.8M86.3 142.5h0.8M95.6 184.1h0.8M88.2 49.3h0.8M81.9 163.4h0.8M93.4 19.6h0.8M83.0 76.7h0.8M89.1 108.0h0.8M97.8 169.3h0.8M84.3 51.7h0.8M93.9 227.3h0.8M97.4 65.8h0.8M95.0 20.2h0.8M84.7 56.1h0.8M83.1 185.9h0.8M93.6 113.6h0.8M89.5 207.5h0.8M86.9 72.6h0.8M91.0 131.8h0.8M90.0 121.0h0.8M91.4 226.8h0.8M88.7 10.3h0.8M84.5 51.8h0.8M92.8 58.9h0.8M84.3 96.3h0.8M80.8 86.0h0.8M88.1 115.6h0.8M95.2 74.6h0.8M97.5 183.7h0.8M85.2 49.2h0.8M88.7 126.4h0.8M86.7 59.5h0.8M96.5 119.9h0.8M88.2 208.0h0.8M94.0 131.8h0.8M86.7 140.1h0.8M83.5 187.7h0.8M96.9 148.9h0.8M94.5 104.7h0.8M92.3 223.7h0.8M85.4 140.7h0.8M96.0 117.9h0.8M87.0 45.4h0.8M92.9 138.4h0.8M86.5 192.7h0.8M84.3 28.2h0.8M91.2 173.7h0.8M86.5 196.1h0.8M91.0 160.4h0.8M93.7 63.7h0.8M90.0 156.6h0.8M84.3 176.8h0.8M81.8 36.9h0.8M88.0 110.5h0.8M97.4 71.2h0.8M97.0 48.0h0.8M86.9 182.2h0.8M87.0 181.5h0.8M88.7 104.6h0.8M84.3 33.5h0.8M96.3 48.3h0.8M85.7 78.2h0.8M87.3 145.6h0.8M81.4 186.2h0.8M97.5 169.6h0.8M88.5 136.4h0.8M87.6 216.9h0.8M86.7 142.9h0.8M96.0 35.2h0.8M96.1 81.1h0.8M99.4 229.0h0.8M92.7 113.7h0.8M84.9 177.8h0.8M86.1 227.2h0.8M92.4 229.8h0.8M93.7 194.1h0.8M81.1 185.0h0.8M83.6 163.3h0.8M83.6 47.7h0.8M83.4 61.5h0.8M86.4 96.5h0.8M82.0 94.4h0.8M98.8 159.7h0.8M89.6 195.1h0.8M92.6 113.2h0.8M85.6 140.2h0.8M88.9 214.4h0.8M92.0 24.2h0.8M92.5 217.5h0.8M83.7 77.3h0.8M94.1 228.7h0.8M82.1 102.1h0.8M95.1 27.5h0.8M85.0 123.7h0.8M90.0 217.6h0.8M94.5 166.6h0.8M86.0 6.4h0.8M90.5 188.5h0.8M89.8 113.0h0.8M89.3 36.9h0.8M81.0 68.4h0.8M98.0 158.3h0.8M84.2 100.8h0.8M86.9 107.8h0.8M87.4 169.8h0.8M89.7 131.8h0.8M85.2 85.1h0.8M83.1 19.3h0.8M92.7 202.5h0.8M97.8 148.7h0.8M95.7 167.0h0.8M93.6 209.4h0.8M94.4 227.0h0.8M89.4 212.2h0.8M84.3 91.3h0.8M85.5 86.3h0.8M91.5 5.2h0.8M96.6 184.2h0.8M90.2 130.8h0.8M90.2 115.9h0.8M84.0 61.3h0.8M85.6 177.1h0.8M92.8 156.5h0.8M86.6 153.1h0.8M91.5 130.6h0.8M91.3 227.9h0.8M92.1 99.1h0.8M93.3 46.7h0.8M88.2 45.2h0.8M89.4 24.7h0.8M82.4 83.8h0.8M90.6 156.3h0.8M100.9 204.8h0.8M96.1 101.0h0.8M96.4 175.7h0.8M97.4 203.9h0.8M84.7 198.3h0.8M80.8 69.6h0.8M84.4 95.6h0.8M92.4 85.2h0.8M83.3 45.0h0.8M89.2 108.3h0.8M90.2 221.5h0.8M86.9 101.3h0.8M84.4 139.9h0.8M83.0 212.8h0.8M86.8 99.8h0.8M82.7 120.4h0.8M99.3 182.9h0.8M93.4 108.2h0.8M83.7 112.4h0.8M90.6 32.6h0.8M84.6 125.1h0.8M92.1 168.0h0.8M87.3 177.5h0.8M90.0 216.6h0.8M85.2 68.8h0.8M94.5 147.5h0.8M81.0 83.4h0.8M95.9 116.4h0.8M88.0 37.2h0.8M96.7 73.2h0.8M89.1 54.9h0.8M91.2 65.7h0.8M90.3 51.8h0.8M91.2 190.2h0.8M87.2 28.3h0.8M93.3 182.6h0.8M92.8 47.0h0.8M89.7 179.4h0.8M90.1 178.7h0.8M97.1 90.2h0.8M85.4 52.1h0.8M90.9 82.1h0.8M97.2 139.5h0.8M94.5 48.6h0.8M95.1 198.4h0.8M85.5 221.3h0.8M81.7 74.0h0.8M100.0 192.1h0.8M88.1 149.1h0.8M84.1 86.2h0.8M99.6 223.1h0.8M96.1 154.7h0.8M89.4 49.7h0.8M87.3 49.0h0.8M90.1 165.9h0.8M89.6 195.7h0.8M95.3 53.5h0.8M81.0 88.8h0.8M96.1 69.2h0.8M93.0 52.7h0.8M83.6 219.9h0.8M85.2 84.8h0.8M83.1 169.4h0.8M81.8 57.3h0.8M89.0 154.0h0.8M82.7 177.1h0.8M91.0 97.3h0.8M96.2 50.1h0.8M91.2 212.9h0.8M86.2 58.5h0.8M84.6 40.2h0.8M94.4 73.5h0.8M93.5 204.1h0.8M83.4 199.1h0.8M96.9 160.7h0.8M82.3 119.7h0.8M94.9 83.8h0.8M85.0 134.5h0.8M88.6 60.2h0.8M84.4 101.2h0.8M80.9 51.0h0.8M96.6 221.7h0.8M97.2 30.7h0.8M89.2 45.8h0.8M87.2 47.6h0.8M81.3 132.9h0.8M99.8 226.3h0.8M97.6 179.7h0.8M85.5 6.7h0.8M81.9 124.6h0.8M91.9 147.9h0.8M93.0 35.2h0.8M92.6 75.3h0.8M97.2 14.0h0.8M81.1 75.6h0.8M85.0 183.1h0.8M92.0 137.0h0.8M97.1 211.8h0.8M95.5 48.0h0.8M93.0 48.9h0.8M87.8 176.4h0.8M93.9 198.7h0.8M89.8 84.7h0.8M83.3 69.2h0.8M98.1 137.7h0.8M84.5 206.4h0.8M94.5 95.3h0.8M94.8 54.7h0.8M82.9 195.0h0.8M84.2 213.4h0.8M96.8 2.1h0.8M83.0 207.1h0.8M100.0 215.8h0.8M80.9 115.7h0.8M91.7 228.2h0.8M88.0 106.5h0.8M84.7 79.2h0.8M89.5 194.6h0.8M82.1 231.3h0.8M93.6 90.5h0.8M91.3 28.8h0.8M84.6 79.1h0.8M81.5 132.5h0.8M85.2 100.0h0.8M89.1 68.7h0.8M84.7 121.6h0.8M97.0 157.3h0.8M95.7 210.0h0.8M97.6 154.4h0.8M92.7 178.1h0.8M95.3 16.6h0.8M81.7 153.9h0.8M86.3 186.3h0.8M85.5 105.0h0.8M96.0 174.3h0.8M91.0 224.8h0.8M86.1 120.8h0.8M92.5 166.6h0.8M93.6 140.2h0.8M90.7 59.6h0.8M83.2 95.8h0.8M83.0 213.6h0.8M81.0 58.7h0.8M82.2 155.5h0.8M87.6 78.5h0.8M88.6 25.4h0.8M89.5 209.2h0.8M96.6 141.0h0.8M87.3 108.0h0.8M92.1 27.7h0.8M84.3 57.0h0.8M89.7 83.4h0.8M88.8 99.5h0.8M97.2 45.9h0.8M87.4 179.3h0.8M99.2 160.9h0.8M81.8 186.6h0.8M94.3 143.0h0.8M85.4 166.7h0.8M92.5 200.7h0.8M81.2 175.0h0.8M95.5 131.7h0.8M93.6 222.6h0.8M83.3 149.5h0.8M82.3 129.3h0.8M89.0 6.0h0.8M93.5 60.5h0.8M85.7 48.4h0.8M86.9 192.2h0.8M82.7 86.3h0.8M96.2 222.1h0.8M88.1 49.8h0.8M84.4 121.9h0.8M85.7 3.3h0.8M90.9 113.1h0.8M90.8 101.4h0.8M89.0 69.1h0.8M88.7 117.3h0.8M83.9 82.3h0.8M82.3 208.4h0.8M94.4 192.9h0.8M88.9 192.5h0.8M99.5 173.7h0.8M87.4 75.2h0.8M90.8 115.5h0.8M89.6 102.0h0.8M95.1 49.0h0.8M100.6 186.4h0.8M92.4 91.7h0.8M92.0 53.4h0.8M92.0 190.1h0.8M87.8 190.6h0.8M82.2 139.5h0.8M91.8 86.0h0.8M82.6 120.2h0.8M80.9 52.1h0.8M90.1 152.4h0.8M89.5 117.9h0.8M96.1 108.5h0.8M93.5 149.4h0.8M91.3 19.7h0.8M92.9 107.6h0.8M97.4 56.4h0.8M96.5 69.9h0.8M93.9 127.8h0.8M85.0 41.2h0.8M99.0 225.2h0.8M93.2 59.5h0.8M81.2 181.2h0.8M95.0 229.5h0.8M88.9 72.2h0.8M86.5 13.3h0.8M83.9 14.7h0.8M90.5 104.7h0.8M96.6 77.3h0.8M92.9 230.6h0.8M96.4 75.4h0.8M91.7 202.9h0.8M81.1 73.1h0.8M91.7 110.1h0.8M92.2 89.6h0.8M95.4 143.9h0.8M84.7 40.4h0.8M94.5 156.6h0.8M93.2 150.1h0.8M90.6 122.0h0.8M93.5 117.3h0.8M92.6 169.2h0.8M86.0 79.7h0.8M97.5 4.9h0.8M97.3 94.4h0.8M87.6 196.8h0.8M96.6 89.6h0.8M94.3 182.9h0.8M94.3 92.2h0.8M83.0 181.3h0.8M93.4 158.6h0.8M87.2 145.1h0.8M85.7 8.2h0.8M82.5 12.3h0.8M82.6 72.1h0.8M92.2 87.9h0.8M88.0 65.8h0.8M84.6 23.9h0.8M86.0 78.4h0.8M99.9 210.6h0.8M98.2 135.8h0.8M83.4 193.0h0.8M92.2 134.7h0.8M97.7 180.0h0.8M83.1 82.2h0.8M91.3 174.8h0.8M84.1 89.6h0.8M86.7 120.8h0.8M89.7 228.2h0.8M87.5 187.1h0.8M84.7 28.4h0.8M86.0 30.8h0.8M83.2 128.4h0.8M95.9 128.1h0.8M82.0 55.6h0.8M81.2 183.2h0.8M85.2 132.8h0.8M86.0 82.8h0.8M96.7 154.8h0.8M96.0 73.6h0.8M92.0 225.7h0.8M92.6 29.7h0.8M101.9 208.3h0.8M83.5 111.0h0.8M81.7 104.5h0.8M81.1 231.0h0.8M100.6 231.8h0.8M82.3 123.8h0.8M92.3 168.4h0.8M91.3 43.3h0.8M100.8 192.2h0.8M99.0 230.5h0.8M89.8 106.1h0.8M88.7 119.3h0.8M85.5 142.2h0.8M86.4 67.5h0.8M92.6 46.2h0.8M88.3 30.2h0.8M85.2 64.6h0.8M86.5 133.1h0.8M95.7 144.1h0.8M87.9 119.4h0.8M90.1 97.9h0.8M93.1 226.8h0.8M85.1 127.8h0.8M90.0 190.8h0.8M91.9 138.8h0.8M90.0 83.1h0.8M84.1 52.7h0.8M81.9 207.2h0.8M81.6 40.6h0.8M83.9 70.8h0.8M92.3 189.2h0.8M87.0 79.2h0.8M97.3 109.0h0.8M87.8 139.0h0.8M95.5 140.0h0.8M97.4 223.2h0.8M82.6 14.1h0.8M96.3 181.9h0.8M92.3 60.8h0.8M82.5 101.9h0.8M88.1 82.9h0.8M83.2 17.9h0.8M85.6 132.5h0.8M95.2 48.5h0.8M81.6 116.6h0.8M89.1 91.7h0.8M90.9 204.1h0.8M94.5 26.1h0.8M84.5 111.6h0.8M96.1 79.5h0.8M99.9 211.7h0.8M80.9 212.3h0.8M85.2 98.2h0.8M84.3 57.0h0.8M81.7 228.0h0.8M83.8 69.4h0.8M96.7 208.9h0.8M90.8 49.4h0.8M87.3 202.5h0.8M97.1 68.2h0.8M89.3 98.2h0.8M86.9 86.8h0.8M87.0 101.0h0.8M96.3 9.0h0.8M81.8 62.1h0.8M96.4 130.3h0.8M94.8 95.9h0.8M87.1 53.1h0.8M88.6 176.4h0.8M95.7 17.1h0.8M84.7 71.4h0.8M85.4 112.0h0.8M82.5 12.4h0.8M91.2 225.1h0.8M99.5 191.0h0.8M95.6 182.0h0.8M96.7 232.3h0.8M92.1 131.5h0.8M83.0 68.6h0.8M88.9 53.9h0.8M89.9 26.9h0.8M82.0 225.3h0.8M96.5 84.6h0.8M88.7 197.2h0.8M101.2 209.6h0.8M94.9 102.6h0.8M90.1 186.5h0.8M81.6 141.0h0.8M95.7 108.5h0.8M92.8 92.1h0.8M85.5 176.4h0.8M81.8 105.3h0.8M85.9 143.2h0.8M85.5 202.6h0.8M97.2 143.1h0.8M85.7 81.4h0.8M82.0 203.7h0.8M96.4 183.8h0.8M92.1 209.8h0.8M90.9 46.1h0.8M91.1 215.1h0.8M96.8 8.4h0.8M94.2 229.1h0.8M93.6 94.6h0.8M87.3 194.1h0.8M81.4 172.8h0.8M96.9 84.2h0.8M94.2 60.3h0.8M92.5 119.9h0.8M96.4 95.6h0.8M91.9 226.2h0.8M88.8 91.2h0.8M87.1 50.9h0.8M94.6 196.8h0.8M95.1 137.5h0.8M95.4 120.3h0.8M85.1 0.0h0.8M85.9 110.9h0.8M87.3 4.5h0.8M92.8 86.7h0.8M86.2 179.9h0.8M83.2 87.5h0.8M81.1 128.3h0.8M85.2 28.0h0.8M81.4 90.2h0.8M90.8 79.0h0.8M83.7 194.0h0.8M84.5 67.0h0.8M91.3 84.4h0.8M94.6 45.9h0.8M90.2 29.4h0.8M90.8 92.0h0.8M95.0 58.0h0.8M81.2 159.9h0.8M93.3 36.4h0.8M96.6 97.3h0.8M89.9 206.9h0.8M86.3 102.6h0.8M84.2 180.0h0.8M85.7 131.6h0.8M90.3 196.7h0.8M84.0 64.5h0.8M87.4 170.1h0.8M96.0 82.6h0.8M93.0 217.2h0.8M96.4 148.9h0.8M93.8 62.8h0.8M89.0 207.5h0.8M88.0 40.7h0.8M95.1 48.8h0.8M95.3 88.0h0.8M82.2 91.9h0.8M96.7 223.8h0.8M101.4 186.1h0.8M97.3 139.4h0.8M101.3 228.8h0.8M96.5 147.4h0.8M82.7 55.3h0.8M88.3 166.5h0.8M91.9 158.5h0.8M84.1 168.3h0.8M82.3 197.4h0.8M83.6 175.1h0.8M86.6 114.6h0.8M96.4 127.4h0.8M93.3 73.3h0.8M81.2 23.4h0.8M90.0 174.2h0.8M83.1 50.6h0.8M81.4 113.0h0.8M98.2 161.1h0.8M91.1 134.0h0.8M84.0 160.7h0.8M85.9 201.5h0.8M94.9 200.8h0.8M94.8 200.4h0.8M94.0 33.0h0.8M84.8 44.9h0.8M84.6 119.0h0.8M85.2 37.0h0.8M86.7 101.1h0.8M82.9 133.6h0.8M85.1 116.7h0.8M98.1 137.2h0.8M83.1 15.5h0.8M98.5 230.4h0.8M91.9 89.4h0.8M91.7 29.8h0.8M97.4 127.3h0.8M85.2 74.6h0.8M95.2 231.8h0.8M91.2 121.1h0.8M92.5 221.8h0.8M88.3 108.5h0.8M88.4 187.8h0.8M85.0 59.8h0.8M82.4 127.3h0.8M86.0 222.3h0.8M98.5 165.1h0.8M82.0 28.1h0.8M90.0 209.7h0.8M96.5 94.8h0.8M89.9 138.2h0.8M83.0 185.8h0.8M85.0 181.0h0.8M96.6 233.1h0.8M94.3 51.0h0.8M81.1 95.3h0.8M86.1 89.7h0.8M91.8 69.9h0.8M86.4 162.6h0.8M85.2 178.5h0.8M98.7 203.5h0.8M87.5 192.3h0.8M96.0 68.5h0.8M96.5 203.5h0.8M96.2 90.8h0.8M88.1 204.4h0.8M83.7 217.9h0.8M95.6 199.3h0.8M98.1 183.4h0.8M92.4 193.9h0.8M96.6 155.3h0.8M89.5 106.4h0.8M94.8 26.3h0.8M91.8 164.4h0.8M91.3 74.0h0.8M81.5 152.8h0.8M96.9 124.5h0.8M82.3 101.6h0.8M90.6 87.9h0.8M83.3 212.3h0.8M93.1 93.3h0.8M83.3 195.8h0.8M89.8 82.1h0.8M97.2 106.6h0.8M86.6 203.9h0.8M90.7 123.1h0.8M93.7 60.5h0.8M91.4 97.7h0.8M87.6 64.9h0.8M81.7 101.6h0.8M82.5 141.6h0.8M93.6 52.5h0.8M88.8 141.0h0.8M91.9 204.7h0.8M89.9 104.3h0.8M88.9 139.6h0.8M97.5 132.3h0.8M93.2 147.9h0.8M83.2 32.3h0.8M95.3 65.0h0.8M81.4 73.0h0.8M87.6 55.3h0.8M90.8 150.1h0.8M90.2 58.2h0.8M88.9 217.9h0.8M93.0 99.3h0.8M96.5 142.4h0.8M81.5 221.2h0.8M93.6 160.3h0.8M100.5 217.4h0.8M94.0 87.5h0.8M97.7 207.2h0.8M85.9 10.1h0.8M81.9 52.9h0.8M92.0 103.8h0.8M82.3 59.2h0.8M92.1 151.8h0.8M97.5 170.1h0.8M85.7 189.9h0.8M83.9 159.6h0.8M97.2 138.1h0.8M84.2 161.2h0.8M83.5 76.6h0.8M93.9 53.2h0.8M90.9 113.1h0.8M88.7 45.9h0.8M95.3 226.2h0.8M82.0 204.3h0.8M95.9 219.8h0.8M97.1 110.6h0.8M82.4 85.7h0.8M93.7 81.9h0.8M92.0 103.4h0.8M90.9 149.1h0.8M101.1 230.8h0.8M88.5 180.7h0.8M86.9 75.0h0.8M88.7 55.9h0.8M88.2 98.0h0.8M94.9 177.0h0.8M91.3 141.5h0.8M98.5 177.1h0.8M101.1 187.2h0.8M84.4 181.1h0.8M86.0 154.6h0.8M96.7 195.8h0.8M94.5 79.3h0.8M82.6 116.2h0.8M92.1 49.0h0.8M97.1 76.8h0.8M86.2 169.1h0.8M92.4 119.9h0.8M93.9 32.5h0.8M97.1 227.8h0.8M95.3 146.2h0.8M90.2 196.2h0.8M85.7 55.2h0.8M81.4 71.5h0.8M89.7 138.7h0.8M86.5 209.3h0.8M85.3 117.1h0.8M80.9 57.3h0.8M90.8 25.1h0.8M96.9 136.2h0.8M89.7 84.8h0.8M87.0 107.6h0.8M89.6 115.3h0.8M90.0 172.6h0.8M90.6 95.4h0.8M97.8 180.0h0.8M93.5 156.3h0.8M93.7 202.0h0.8M98.9 162.2h0.8M89.4 120.5h0.8M91.4 96.5h0.8M100.6 220.1h0.8M82.2 173.5h0.8M94.4 195.1h0.8M99.5 205.4h0.8M83.4 151.6h0.8M87.6 210.9h0.8M91.0 130.0h0.8M87.3 171.2h0.8M92.0 107.9h0.8M97.4 115.6h0.8M81.0 185.4h0.8M94.4 5.1h0.8M95.1 97.6h0.8M95.4 190.5h0.8M91.2 59.5h0.8M92.7 78.6h0.8M82.4 75.0h0.8M88.0 82.7h0.8M83.6 192.6h0.8M91.2 208.5h0.8M91.5 58.9h0.8M95.4 180.6h0.8M93.2 203.3h0.8M92.5 81.0h0.8M84.0 67.9h0.8M80.9 138.9h0.8M81.8 223.7h0.8M97.9 216.7h0.8M88.1 210.1h0.8M87.4 77.4h0.8M97.9 203.5h0.8M96.9 58.9h0.8M84.8 11.6h0.8M85.5 124.0h0.8M84.9 176.1h0.8M90.9 61.2h0.8M82.2 81.9h0.8M96.6 140.2h0.8M96.6 224.5h0.8M89.5 97.8h0.8M84.4 208.9h0.8M91.1 88.9h0.8M82.1 68.0h0.8M98.2 169.4h0.8M83.3 114.1h0.8M96.9 79.2h0.8M93.2 36.0h0.8M90.5 212.7h0.8M97.3 167.8h0.8M92.9 159.2h0.8M88.0 42.3h0.8M88.6 12.9h0.8M82.9 50.6h0.8M83.1 220.5h0.8M91.3 10.7h0.8M90.3 217.0h0.8M87.5 119.6h0.8M85.6 42.2h0.8M91.2 101.8h0.8M96.4 139.5h0.8M91.0 102.5h0.8M89.5 47.1h0.8" fill="none" stroke="#808080" stroke-width="0.8" />
<path d="M94.0 225.8h0.8M83.3 171.3h0.8M83.0 199.9h0.8M86.8 199.5h0.8M85.1 224.3h0.8M83.1 171.0h0.8M83.6 45.7h0.8M81.7 214.3h0.8M97.9 177.6h0.8M86.3 192.4h0.8M87.8 192.1h0.8M93.8 184.8h0.8M84.5 166.3h0.8M85.9 156.1h0.8M86.8 202.6h0.8M88.3 186.4h0.8M85.3 157.3h0.8M86.8 201.3h0.8M85.8 170.1h0.8M91.9 14.4h0.8M82.0 150.8h0.8M89.4 165.2h0.8M85.8 179.3h0.8M84.5 218.5h0.8M86.8 162.7h0.8M81.3 208.9h0.8M90.4 78.8h0.8M84.9 186.7h0.8M83.5 34.6h0.8M92.3 198.7h0.8M82.7 87.1h0.8M82.0 175.3h0.8M83.3 219.3h0.8M83.7 89.3h0.8M81.9 202.5h0.8M85.8 69.4h0.8M88.2 84.3h0.8M81.2 232.1h0.8M87.7 162.3h0.8M86.6 232.2h0.8M89.7 45.8h0.8M86.4 208.0h0.8M82.1 229.8h0.8M89.4 198.7h0.8M98.7 169.9h0.8M85.5 194.0h0.8M83.9 222.9h0.8M84.2 48.3h0.8M86.2 174.8h0.8M84.1 197.4h0.8M86.2 196.1h0.8M84.5 27.7h0.8M81.6 155.1h0.8M81.2 185.1h0.8M84.1 159.8h0.8M84.0 197.0h0.8M87.4 90.7h0.8M85.3 197.2h0.8M94.6 69.5h0.8M86.4 185.4h0.8M95.4 25.9h0.8M82.3 158.6h0.8M81.9 72.3h0.8M82.4 188.4h0.8M86.9 223.8h0.8M83.8 214.0h0.8M81.6 75.1h0.8M87.7 185.8h0.8M85.1 202.5h0.8M87.3 198.4h0.8M94.4 53.8h0.8M83.8 151.6h0.8M82.2 215.5h0.8M85.7 61.1h0.8M97.3 89.6h0.8M86.5 211.8h0.8M81.0 125.4h0.8M86.5 183.5h0.8M91.0 57.5h0.8M89.7 166.1h0.8M83.8 213.9h0.8M83.8 182.1h0.8M83.0 127.8h0.8M96.3 159.6h0.8M87.4 161.8h0.8M81.2 165.5h0.8M96.5 228.5h0.8M85.1 233.8h0.8M88.6 228.8h0.8M82.1 164.2h0.8M87.0 209.1h0.8M81.8 229.2h0.8M96.3 195.7h0.8M89.1 39.3h0.8M98.7 184.9h0.8M84.7 167.9h0.8M89.9 58.7h0.8M96.0 41.7h0.8M87.7 223.7h0.8M86.1 197.6h0.8M80.9 196.0h0.8M85.1 231.6h0.8M86.3 179.6h0.8M86.7 182.6h0.8M84.2 174.6h0.8M83.1 172.9h0.8M86.0 217.8h0.8M91.3 55.1h0.8M83.9 221.5h0.8M83.3 201.1h0.8M84.4 27.8h0.8M88.1 193.9h0.8M83.6 180.4h0.8M81.5 164.0h0.8M86.7 213.5h0.8M83.1 204.6h0.8M88.2 186.0h0.8M81.0 164.9h0.8M86.6 202.7h0.8M88.5 208.3h0.8M81.6 55.0h0.8M88.0 200.5h0.8M81.8 196.6h0.8M82.3 194.5h0.8M82.6 185.0h0.8M84.6 151.2h0.8M90.0 197.4h0.8M88.1 191.2h0.8M81.9 155.2h0.8M82.6 196.0h0.8M95.2 50.7h0.8M81.8 214.7h0.8M84.9 215.7h0.8M80.9 233.6h0.8M83.3 215.7h0.8M81.6 187.8h0.8M81.0 215.9h0.8M86.2 198.8h0.8M82.3 209.8h0.8M102.8 202.6h0.8M85.6 208.3h0.8M84.6 172.4h0.8M86.9 212.0h0.8M83.6 228.5h0.8M86.3 198.0h0.8M84.8 62.6h0.8M82.6 225.3h0.8M89.0 208.3h0.8M86.7 213.9h0.8M85.8 229.7h0.8M88.3 195.5h0.8M88.9 180.6h0.8M83.6 176.3h0.8M81.9 159.8h0.8M84.9 233.0h0.8M87.3 197.9h0.8M81.9 200.3h0.8M89.6 200.3h0.8M84.1 167.8h0.8M87.4 220.1h0.8M84.0 153.2h0.8M84.0 221.0h0.8M89.8 197.0h0.8M88.7 195.3h0.8M89.5 203.1h0.8M85.1 169.3h0.8M84.8 195.1h0.8" fill="none" stroke="#ff7aaa" stroke-width="0.8" />
<path d="M85.5 190.3l0.2 -4.0 1.2 -3.5 0.4 -3.7 1.6 -3.5 0.9 -3.0 2.0 -3.0 1.3 -3.3 1.8 -2.6 2.5 -2.5 2.6 -2.5 2.2 -2.7 3.1 -2.0 2.9 -1.9 3.5 -2.1M91.7 193.0l0.8 -4.4 0.7 -4.7 1.2 -4.2 1.6 -4.3 2.4 -3.8 1.5 -3.5 2.9 -3.5 3.5 -3.6 2.7 -2.8 3.4 -3.3 4.1 -2.7 4.7 -2.5 3.7 -2.2 5.3 -2.5M99.0 181.4l0.5 -2.4 0.7 -2.8 -0.0 -2.3 0.9 -2.2 0.6 -2.2 0.3 -2.1 0.3 -1.9 0.6 -1.8 0.1 -1.7 0.6 -1.8 0.4 -1.2 0.3 -1.2 0.6 -1.3 0.3 -1.3M96.7 194.6l0.7 -4.7 0.8 -4.6 1.4 -4.4 1.4 -3.7 1.7 -3.5 1.9 -3.2 2.2 -3.6 2.7 -2.9 3.0 -2.3 3.6 -2.3 3.6 -2.2 3.9 -1.6 4.4 -1.1 4.3 -1.6M85.4 187.0l0.7 -2.5 1.6 -2.8 1.5 -2.5 2.6 -2.8 2.4 -2.6 3.6 -3.1 3.6 -2.9 4.2 -3.2 4.9 -2.8 4.9 -3.1 5.9 -3.3 6.5 -2.9 7.2 -3.8 7.1 -3.2M99.3 189.1l-0.0 -3.2 0.3 -3.0 0.5 -2.7 0.0 -3.1 0.4 -3.2 -0.0 -3.0 0.8 -2.9 0.1 -2.8 1.0 -2.6 0.1 -2.7 0.8 -2.9 1.1 -2.5 0.4 -2.7 0.8 -2.6M90.7 197.9l0.9 -3.9 1.2 -4.0 1.5 -3.5 2.5 -3.5 3.7 -3.7 3.5 -3.1 4.7 -3.7 4.9 -3.1 6.2 -2.8 6.2 -2.6 7.4 -3.0 7.6 -2.4 8.2 -2.7 9.1 -2.0M86.5 178.5l0.7 -1.9 1.2 -1.7 -0.3 -2.0 1.6 -2.6 1.2 -2.6 1.3 -2.7 2.4 -3.3 1.4 -3.4 2.6 -3.6 2.0 -3.9 2.3 -4.1 3.5 -4.4 2.8 -4.7 2.9 -5.0M89.2 195.1l0.7 -4.8 0.9 -4.5 2.3 -3.9 2.8 -4.2 3.3 -3.9 4.4 -3.5 4.5 -3.2 5.7 -3.5 6.1 -3.0 7.7 -3.0 7.7 -2.6 8.0 -2.1 9.2 -2.4 10.2 -2.0M87.9 191.0l0.4 -4.3 1.8 -4.3 1.5 -4.1 3.0 -4.1 3.6 -4.2 3.6 -3.6 5.3 -4.0 6.2 -3.5 5.9 -3.5 7.3 -3.7 8.6 -3.3 8.1 -3.4 9.4 -3.3 10.1 -2.6M86.4 182.8l0.7 -2.2 1.4 -2.4 1.9 -2.4 2.5 -2.3 3.7 -2.7 4.1 -2.7 4.9 -2.9 4.7 -2.6 5.6 -3.2 6.1 -2.7 7.1 -3.3 7.1 -3.4 8.7 -3.3 8.6 -3.5M95.7 184.5l0.3 -3.2 1.3 -3.3 1.8 -3.1 2.3 -3.0 3.8 -3.0 4.1 -3.3 4.5 -2.8 5.5 -3.5 6.0 -2.9 7.9 -3.1 7.6 -2.9 8.0 -3.0 9.7 -2.6 9.5 -3.1M90.0 184.8l0.8 -3.9 1.6 -3.1 0.5 -3.3 2.0 -3.0 3.0 -2.7 2.9 -2.5 3.4 -2.8 2.9 -2.2 4.7 -2.0 4.2 -2.1 5.4 -1.7 4.5 -1.7 6.4 -1.5 6.0 -1.4M95.7 193.4l0.8 -3.4 0.6 -3.8 0.5 -3.6 0.8 -3.5 1.1 -3.8 1.2 -3.1 1.0 -4.0 1.3 -3.8 1.4 -3.7 2.0 -3.7 1.0 -4.0 1.9 -3.9 2.1 -3.5 1.9 -4.0M93.1 195.3l0.7 -3.8 1.7 -3.9 1.2 -3.6 1.7 -4.0 3.3 -3.7 2.8 -3.4 3.5 -3.6 3.8 -3.9 4.1 -3.5 5.4 -3.3 5.1 -3.6 6.7 -3.1 5.2 -3.3 7.0 -3.4M86.9 186.5l0.1 -4.0 0.1 -3.0 0.7 -3.7 0.7 -3.1 1.3 -2.4 1.1 -2.4 0.8 -1.7 2.2 -2.3 1.6 -1.4 2.2 -1.4 2.1 -0.8 3.1 -0.9 2.4 -0.1 2.9 -0.3M98.3 192.6l0.3 -4.1 0.5 -3.6 1.3 -3.8 1.8 -3.6 2.1 -3.6 2.4 -3.0 2.9 -3.3 3.6 -3.2 3.9 -2.9 4.1 -3.0 4.5 -2.6 4.9 -2.7 4.8 -2.9 6.7 -2.2M89.4 185.3l0.6 -3.3 1.3 -3.0 2.2 -2.8 1.5 -2.7 3.5 -3.3 3.4 -2.8 4.3 -2.8 4.6 -2.7 4.9 -2.8 6.2 -2.7 5.4 -2.9 7.3 -2.5 7.4 -2.3 7.8 -2.3M93.8 184.9l0.7 -2.5 1.0 -2.5 0.4 -2.6 1.7 -2.6 1.3 -3.0 1.8 -2.6 2.4 -3.4 2.3 -3.2 2.5 -3.4 3.2 -3.6 2.9 -3.8 3.6 -3.7 3.6 -4.0 3.8 -4.0M97.9 188.1l0.6 -2.8 1.1 -2.7 1.5 -3.2 1.8 -3.0 3.7 -2.9 3.1 -3.1 3.8 -3.2 4.6 -3.1 5.9 -3.4 5.9 -3.1 5.9 -3.7 7.0 -3.5 8.3 -3.4 7.9 -3.7M90.3 194.9l0.5 -4.7 1.4 -4.5 2.3 -4.2 2.2 -3.8 3.5 -3.5 3.8 -3.4 3.8 -3.4 4.5 -2.7 5.9 -2.8 5.4 -2.7 6.6 -1.9 6.9 -2.5 7.9 -1.8 8.1 -1.6M91.0 183.3l0.2 -2.7 0.6 -3.2 2.2 -2.6 1.8 -2.8 2.9 -2.5 2.9 -2.5 4.0 -2.7 3.9 -2.5 5.1 -2.2 5.6 -2.4 6.5 -1.9 6.3 -2.4 7.4 -1.7 7.5 -1.9M90.1 191.8l0.9 -4.4 1.2 -4.5 1.8 -4.5 3.1 -4.2 3.9 -4.1 4.3 -4.2 4.8 -3.8 6.3 -4.6 6.7 -3.6 7.4 -3.9 8.4 -3.5 9.0 -3.5 9.5 -3.5 10.7 -3.5M87.6 193.5l0.0 -4.6 1.7 -4.8 2.2 -3.7 2.9 -3.9 3.3 -3.8 4.2 -3.2 5.4 -3.2 5.8 -2.6 7.2 -2.3 7.4 -2.7 7.8 -1.9 9.4 -1.9 9.9 -1.3 10.6 -1.5M88.3 188.0l0.2 -3.3 1.3 -2.8 0.9 -3.4 1.0 -3.2 0.8 -3.4 1.0 -3.1 0.6 -3.7 1.9 -3.4 1.5 -3.3 1.9 -3.9 1.4 -3.3 1.9 -3.8 1.8 -3.6 2.3 -3.8M83.3 191.6l0.0 -3.7 1.5 -3.1 0.3 -3.8 1.1 -3.4 1.6 -3.6 0.9 -4.1 1.0 -3.8 2.2 -4.2 2.1 -3.9 2.1 -4.4 2.2 -4.6 2.3 -4.4 2.9 -4.4 2.7 -4.8M96.3 185.8l0.3 -4.0 1.1 -3.5 0.4 -3.5 0.9 -3.2 1.3 -2.9 1.5 -3.3 1.2 -2.5 1.0 -2.3 2.1 -2.3 1.9 -2.5 2.3 -1.7 2.0 -1.6 2.3 -1.1 2.4 -1.6M91.8 182.6l0.6 -3.1 1.7 -3.6 1.5 -2.5 1.5 -2.7 3.0 -3.0 3.1 -2.5 3.9 -2.5 3.5 -2.3 4.9 -2.0 5.1 -2.0 4.9 -1.7 6.7 -2.3 6.6 -1.0 6.7 -1.6M96.3 186.9l0.8 -2.5 1.5 -2.9 2.0 -2.7 2.1 -2.9 2.8 -3.4 4.1 -3.2 3.2 -3.6 5.2 -3.6 4.9 -3.8 6.1 -3.8 6.2 -4.1 7.0 -4.4 7.2 -4.2 7.9 -4.6M94.5 186.5l0.6 -2.5 1.0 -2.6 1.8 -2.3 2.1 -2.5 2.9 -2.9 4.3 -2.7 4.3 -2.7 5.0 -3.0 5.8 -2.9 6.0 -3.0 7.4 -3.3 7.6 -3.1 7.9 -3.0 9.3 -3.2M86.1 178.5l0.9 -1.8 1.6 -2.4 2.2 -1.5 2.7 -2.1 3.6 -2.1 4.1 -2.1 5.9 -2.1 5.9 -1.8 6.7 -1.8 8.2 -2.1 8.7 -1.8 9.1 -1.7 10.3 -1.8 11.0 -2.1M83.2 196.9l1.2 -4.9 0.3 -4.9 0.8 -4.3 1.1 -4.5 1.2 -4.2 2.0 -3.5 1.7 -3.7 2.1 -3.4 2.2 -2.9 2.7 -3.3 3.0 -2.5 2.8 -2.8 3.3 -2.3 3.4 -1.8M91.5 191.9l0.7 -3.6 0.9 -3.5 2.2 -3.8 1.4 -3.3 2.2 -3.6 2.2 -3.5 4.0 -3.2 2.8 -3.8 3.3 -3.3 4.6 -3.7 3.6 -3.0 5.3 -3.4 5.2 -3.5 5.4 -3.3M95.5 192.6l0.3 -4.1 0.7 -3.8 0.3 -3.6 0.2 -3.2 0.9 -3.0 -0.1 -3.5 0.8 -2.8 0.7 -2.5 1.1 -2.4 0.7 -2.2 1.3 -1.7 0.8 -2.1 0.8 -1.7 0.6 -1.4M99.6 181.0l0.9 -3.0 0.8 -2.9 1.5 -2.9 2.4 -2.8 1.7 -2.9 3.1 -2.5 2.9 -2.4 4.4 -2.2 4.1 -2.2 5.4 -2.5 4.9 -1.9 5.5 -2.1 6.7 -1.8 6.3 -1.7M94.9 181.9l0.5 -2.5 0.9 -2.7 2.5 -2.1 1.6 -2.6 2.3 -1.9 3.4 -2.5 3.7 -1.9 3.9 -2.2 5.5 -2.3 5.5 -2.3 5.8 -2.2 6.7 -1.9 6.8 -2.0 7.9 -2.0M95.1 196.9l0.7 -4.6 1.0 -4.3 1.3 -4.5 2.5 -3.7 2.9 -3.8 2.8 -3.5 3.7 -3.0 4.4 -2.7 3.8 -2.8 5.5 -2.6 5.0 -2.0 6.3 -2.0 6.6 -1.7 6.5 -1.6M87.6 182.3l0.8 -2.6 1.1 -2.7 1.4 -2.4 1.7 -2.7 2.4 -2.3 2.0 -2.2 3.5 -2.5 3.8 -2.1 3.6 -1.6 4.3 -2.4 4.4 -2.0 5.1 -1.5 6.0 -1.9 5.8 -1.6M83.7 194.3l0.2 -4.9 1.0 -5.0 1.1 -4.8 1.1 -5.0 0.9 -4.4 1.6 -4.9 3.0 -5.0 1.6 -4.9 3.4 -4.7 2.6 -4.8 3.5 -5.3 4.2 -5.1 3.6 -5.0 4.6 -4.8M92.7 192.7l0.7 -3.8 0.4 -3.7 1.4 -3.5 2.5 -3.4 2.6 -3.5 2.9 -3.3 4.0 -3.4 5.3 -2.9 4.9 -2.8 5.6 -2.9 6.2 -3.0 7.1 -2.3 7.9 -2.3 8.0 -2.9M90.4 184.9l0.6 -2.7 0.7 -2.6 1.4 -2.9 2.1 -2.7 2.2 -3.0 2.9 -2.6 3.3 -2.2 3.6 -2.6 4.8 -2.4 3.8 -2.6 5.6 -2.5 5.7 -2.1 5.7 -2.4 6.9 -2.3M88.2 185.1l0.8 -3.0 0.2 -3.4 0.8 -3.2 0.6 -3.0 2.5 -3.4 1.4 -3.2 1.5 -3.2 2.3 -3.6 2.3 -3.5 3.1 -3.7 3.3 -3.8 3.2 -3.7 3.5 -3.7 3.8 -3.8M91.2 184.6l0.9 -3.6 0.3 -2.8 1.2 -2.7 1.3 -2.6 0.4 -2.7 1.6 -2.1 1.3 -1.7 1.3 -1.9 2.2 -2.0 0.9 -1.1 1.8 -1.3 2.3 -1.0 1.7 -0.7 2.5 -0.6M98.9 180.4l0.0 -3.1 0.7 -3.2 -0.0 -3.2 0.8 -3.6 1.0 -3.4 0.3 -3.6 0.6 -4.2 0.9 -3.9 1.2 -4.1 1.2 -4.2 0.8 -4.4 1.4 -4.2 0.7 -4.7 2.2 -4.7M90.9 193.3l1.0 -4.9 1.2 -4.2 1.8 -5.0 2.5 -4.2 3.8 -4.2 3.9 -3.8 5.4 -3.8 5.1 -3.9 6.0 -3.6 7.1 -3.6 7.5 -3.5 8.4 -2.9 8.9 -3.2 9.5 -2.7M91.1 191.5l0.5 -4.5 1.8 -4.1 1.7 -3.7 2.6 -3.3 3.9 -3.7 4.8 -3.1 4.8 -2.8 5.7 -3.0 6.1 -2.2 7.6 -2.3 8.2 -2.0 8.8 -1.8 9.6 -1.6 10.2 -1.2M94.4 191.4l0.0 -3.6 0.4 -3.6 1.0 -4.1 0.4 -4.1 1.2 -4.3 0.6 -4.0 1.6 -4.8 1.8 -5.0 1.2 -4.6 1.7 -5.3 1.9 -5.2 2.5 -5.5 1.7 -5.5 3.0 -5.7M97.6 191.1l0.4 -4.0 0.3 -3.9 1.4 -4.1 1.0 -3.8 0.4 -4.3 1.4 -4.4 0.9 -4.4 1.3 -4.8 2.1 -4.6 2.1 -4.6 1.5 -5.2 2.1 -4.6 2.5 -5.3 2.2 -5.1M89.4 189.6l0.5 -3.2 1.1 -3.2 1.8 -3.0 3.1 -3.2 3.0 -3.5 3.5 -3.4 4.5 -3.5 4.5 -3.7 7.1 -3.3 5.5 -4.0 7.3 -3.4 7.1 -3.9 8.7 -3.7 8.9 -3.9M98.8 193.2l0.5 -4.1 0.8 -4.2 1.3 -3.9 2.1 -3.9 2.8 -4.2 3.1 -4.3 4.3 -3.9 4.7 -4.4 4.7 -3.9 5.7 -4.4 6.1 -4.1 6.9 -3.9 7.2 -4.7 7.6 -4.2M92.8 197.6l0.5 -4.4 0.2 -4.0 0.2 -4.1 1.5 -4.3 0.1 -4.2 0.8 -4.4 0.8 -4.4 1.6 -4.5 1.4 -4.3 1.3 -4.7 1.3 -4.5 1.6 -4.3 1.6 -4.9 2.2 -4.5M88.1 192.5l0.6 -3.8 1.0 -3.9 1.6 -3.7 2.1 -3.5 2.3 -3.3 2.4 -3.2 3.3 -2.8 3.3 -3.1 3.8 -2.3 4.2 -2.0 4.1 -2.4 5.5 -1.9 4.6 -1.6 6.3 -1.7M95.7 180.4l0.1 -2.2 1.7 -2.4 0.3 -2.1 1.2 -2.2 1.3 -2.3 1.5 -2.7 1.4 -2.2 1.5 -2.6 2.0 -2.4 1.8 -2.6 1.8 -2.4 2.7 -3.2 2.3 -2.6 2.4 -2.6M89.8 196.3l0.6 -4.3 0.0 -4.4 1.1 -4.1 1.6 -3.8 1.5 -4.0 2.4 -3.4 2.8 -3.6 3.6 -3.4 3.2 -2.7 4.0 -3.2 4.3 -2.9 4.8 -2.6 5.6 -3.0 5.2 -2.2M99.8 197.6l0.5 -4.7 1.0 -4.5 1.5 -4.4 2.2 -4.4 2.4 -4.2 3.4 -4.4 3.3 -4.2 3.7 -3.8 4.3 -4.1 5.0 -3.7 5.6 -3.6 6.0 -3.7 6.2 -3.5 6.8 -3.4M98.1 192.4l0.0 -4.8 0.4 -4.1 1.9 -4.1 1.5 -3.9 1.6 -4.1 2.8 -3.5 2.7 -3.4 3.6 -3.2 4.1 -3.4 4.4 -2.8 4.5 -2.6 5.1 -2.4 5.7 -2.6 6.0 -2.0M99.6 191.2l0.6 -3.3 0.7 -3.6 1.6 -2.8 1.3 -3.0 3.0 -3.1 3.0 -2.9 4.0 -3.1 3.6 -3.0 4.5 -2.7 5.1 -3.0 5.7 -2.5 6.3 -2.9 6.7 -2.5 7.4 -2.7M95.0 196.1l0.7 -4.3 1.0 -3.9 0.9 -3.8 1.5 -4.3 1.4 -3.8 2.2 -3.9 1.4 -3.4 2.4 -3.7 3.1 -3.6 2.5 -3.1 3.5 -3.2 3.0 -3.3 3.6 -2.7 4.1 -3.2M88.6 183.6l0.5 -2.3 1.4 -3.0 1.9 -2.9 3.4 -2.9 3.4 -3.0 4.7 -3.5 4.9 -3.1 6.2 -3.5 6.9 -3.6 7.9 -3.9 8.3 -3.7 9.4 -4.0 9.7 -4.2 10.7 -4.2M88.1 179.9l0.2 -2.7 0.3 -2.9 1.2 -3.4 0.2 -3.1 1.0 -3.2 1.4 -3.9 0.6 -3.6 1.3 -3.7 1.5 -4.3 1.2 -4.1 1.9 -4.1 1.7 -4.6 2.3 -4.6 2.2 -4.7M96.4 178.6l0.5 -1.8 1.1 -1.6 1.4 -1.5 2.6 -2.1 2.2 -2.1 2.8 -2.5 3.4 -2.5 3.9 -2.3 4.2 -2.9 4.5 -2.7 5.8 -3.2 5.9 -3.2 5.9 -3.7 6.5 -3.5M86.0 189.6l0.3 -4.0 1.5 -3.7 2.0 -3.8 2.3 -3.6 3.5 -3.6 4.1 -3.4 4.7 -3.0 5.6 -3.4 6.6 -2.7 6.7 -3.2 7.6 -2.7 8.7 -3.0 9.1 -2.1 10.0 -2.5M83.0 193.7l0.2 -4.7 0.5 -4.1 1.2 -4.4 1.3 -4.1 1.2 -4.4 1.7 -3.9 2.8 -4.3 2.6 -4.2 2.1 -3.9 3.5 -3.7 3.2 -4.0 3.8 -3.6 3.5 -3.6 5.0 -3.7M89.8 195.3l-0.1 -4.9 0.5 -4.8 0.4 -4.7 0.7 -5.0 0.5 -4.9 0.9 -5.0 1.4 -4.8 1.1 -5.1 1.2 -5.0 1.7 -5.0 1.5 -5.1 1.5 -4.8 2.8 -4.8 1.7 -5.4M98.4 187.7l0.1 -3.2 0.9 -3.1 1.7 -2.9 1.4 -2.5 2.1 -3.0 2.0 -2.2 3.3 -2.5 2.8 -2.0 4.1 -2.4 3.8 -1.7 4.9 -2.5 4.4 -1.3 5.7 -1.7 5.9 -1.6M84.9 184.9l0.3 -2.5 0.8 -2.3 0.9 -2.7 1.0 -2.3 1.2 -2.4 0.8 -2.1 1.2 -1.9 1.4 -2.4 2.1 -1.9 1.7 -1.8 2.4 -1.8 2.2 -2.0 2.3 -1.8 2.1 -1.4M89.0 187.8l0.4 -4.1 1.4 -3.8 1.1 -3.5 2.0 -3.7 2.7 -3.0 2.8 -3.6 3.6 -2.9 3.4 -2.5 4.5 -2.8 4.5 -2.5 5.1 -2.1 5.2 -2.3 6.8 -2.1 6.1 -1.6M94.3 185.7l-0.0 -2.9 0.4 -3.0 0.7 -2.8 0.4 -2.3 1.1 -3.1 0.8 -2.4 0.5 -2.4 1.4 -2.3 1.6 -2.2 1.1 -2.2 1.7 -1.9 1.4 -1.8 2.2 -1.9 1.9 -2.0M87.7 189.3l0.7 -2.7 0.8 -3.0 1.7 -3.4 2.4 -2.8 3.4 -2.8 2.8 -2.6 3.8 -3.1 4.5 -2.3 5.6 -2.9 5.8 -2.9 6.2 -2.2 6.3 -2.8 7.2 -2.5 8.0 -2.5M99.2 180.3l0.3 -2.0 1.8 -1.4 1.6 -2.2 2.4 -2.2 3.7 -1.9 3.5 -2.1 5.1 -2.3 5.2 -2.6 5.7 -2.4 6.8 -2.4 7.0 -2.6 8.2 -2.8 8.5 -2.4 9.5 -3.0M97.9 186.3l0.2 -4.0 0.5 -3.7 1.2 -3.6 1.1 -3.3 0.8 -3.4 1.8 -3.2 1.4 -2.8 1.5 -2.5 1.5 -2.9 1.9 -2.5 2.5 -2.2 2.7 -1.9 2.5 -2.0 2.8 -1.8M91.6 188.9l1.2 -3.9 0.1 -3.5 0.8 -3.9 0.3 -3.2 0.6 -3.3 1.1 -2.6 1.1 -3.0 1.6 -2.4 1.0 -2.4 0.7 -1.7 1.4 -2.3 2.2 -2.1 0.7 -1.1 1.8 -1.2M89.9 187.4l0.9 -4.0 1.1 -4.2 1.7 -3.9 3.0 -3.8 3.2 -3.6 3.4 -4.1 4.4 -3.9 4.3 -3.3 5.9 -3.5 5.8 -3.6 7.0 -3.3 7.2 -3.3 8.3 -3.2 8.5 -3.4M88.6 197.3l0.5 -4.1 1.9 -4.9 1.7 -4.0 2.6 -3.8 3.6 -4.0 3.9 -3.4 4.8 -3.4 5.6 -3.3 5.6 -3.4 6.3 -2.8 7.5 -2.8 7.5 -2.5 8.7 -2.3 9.2 -2.2M97.5 183.5l0.2 -3.1 1.2 -3.3 2.0 -3.1 2.4 -3.2 3.3 -3.3 3.9 -3.0 4.4 -3.1 4.8 -2.9 6.2 -3.2 6.3 -2.7 7.4 -3.3 8.0 -2.7 8.5 -3.2 9.3 -2.7M99.8 178.7l0.4 -1.3 1.3 -1.6 1.3 -1.9 2.7 -1.8 3.6 -2.0 4.3 -2.3 4.2 -2.5 5.0 -2.3 6.2 -2.7 6.6 -2.9 6.9 -3.3 8.3 -3.0 8.3 -3.1 9.8 -3.8M93.3 179.0l0.2 -2.3 0.8 -2.1 1.5 -2.4 1.4 -2.2 2.1 -2.8 2.9 -2.1 2.8 -2.7 3.0 -2.5 3.5 -2.4 4.4 -2.5 4.2 -2.8 4.9 -2.5 5.5 -2.6 5.5 -2.7M97.4 189.0l0.5 -4.1 1.5 -3.7 1.3 -3.7 1.9 -3.6 1.7 -3.7 2.8 -2.7 2.2 -3.6 3.6 -3.3 3.5 -3.0 3.7 -2.7 4.3 -2.8 4.4 -2.7 4.8 -2.6 5.5 -2.5M99.3 195.4l0.4 -4.4 -0.0 -3.8 0.2 -3.7 0.4 -3.3 0.3 -3.2 0.9 -3.3 -0.2 -2.5 1.0 -2.4 1.0 -2.5 0.3 -2.2 0.6 -1.7 0.5 -1.5 1.6 -1.2 0.7 -1.3M95.3 185.4l0.7 -4.0 1.5 -3.3 2.0 -3.7 2.3 -3.4 3.5 -3.4 4.0 -3.1 4.3 -3.2 4.9 -2.7 6.3 -3.0 6.5 -2.4 6.8 -2.7 8.0 -2.4 8.7 -2.0 8.9 -2.3M96.2 195.9l0.3 -3.9 1.4 -3.9 1.3 -3.6 2.4 -3.8 2.3 -4.1 3.0 -3.8 4.1 -4.0 3.6 -4.2 5.0 -4.0 4.7 -4.1 5.6 -4.2 6.4 -4.3 6.0 -4.2 7.1 -4.0M83.0 188.0l-0.4 -3.3 0.8 -3.7 1.0 -3.8 0.9 -3.6 1.8 -3.8 1.5 -4.3 2.0 -4.2 2.5 -4.3 2.1 -4.3 3.2 -4.9 2.8 -4.7 3.7 -4.8 4.3 -5.1 3.7 -5.0M97.1 187.7l0.2 -4.2 0.9 -3.6 0.3 -3.4 1.3 -3.2 1.4 -2.8 2.3 -2.8 1.2 -2.2 2.5 -2.1 2.8 -2.0 2.6 -1.8 2.5 -1.0 3.4 -1.0 3.6 -0.9 3.7 -0.5M94.5 181.1l0.6 -2.8 1.1 -3.1 0.8 -2.3 1.4 -3.5 1.6 -2.5 2.0 -2.9 2.0 -3.1 2.4 -2.5 2.6 -2.7 3.1 -2.9 3.1 -2.6 3.6 -2.6 3.2 -2.5 4.2 -2.7M83.1 186.1l0.2 -3.6 1.4 -3.6 1.0 -3.2 2.2 -3.1 1.8 -2.7 2.9 -2.5 2.8 -2.7 3.7 -2.2 4.3 -2.3 3.9 -2.4 4.8 -1.6 5.7 -1.5 5.3 -1.7 6.0 -1.2M85.1 179.9l0.6 -2.0 1.2 -2.2 0.9 -2.0 1.3 -2.3 2.2 -2.0 2.1 -2.5 2.3 -2.7 2.8 -2.3 2.9 -2.8 3.4 -2.5 4.1 -3.2 4.0 -2.8 4.2 -3.3 4.6 -2.8M84.8 184.4l0.6 -3.1 0.8 -3.4 2.4 -2.9 2.0 -3.1 3.5 -2.8 3.5 -3.0 4.2 -2.2 5.4 -2.8 5.4 -2.4 6.6 -2.2 7.0 -2.5 7.9 -2.1 7.6 -1.8 9.3 -2.0M84.6 188.5l0.0 -3.9 0.3 -3.6 1.4 -3.5 0.8 -3.3 1.9 -2.8 1.6 -3.2 2.2 -2.6 2.0 -2.3 2.6 -2.8 2.3 -1.8 4.0 -1.6 3.3 -2.1 3.0 -1.6 4.0 -1.2M96.4 187.7l0.7 -4.1 1.3 -3.2 2.0 -4.2 2.1 -3.7 2.4 -3.2 3.3 -3.3 3.5 -3.5 4.1 -3.2 4.1 -3.4 5.6 -3.0 5.6 -3.1 6.0 -2.7 6.8 -2.8 7.0 -2.7M93.7 188.8l0.8 -3.6 0.6 -3.5 1.3 -3.1 1.5 -3.4 1.6 -3.0 2.2 -2.8 1.8 -2.7 2.8 -2.6 3.3 -2.2 3.4 -2.1 2.5 -2.1 4.1 -2.2 3.7 -1.7 4.5 -1.5M96.1 179.8l0.4 -2.9 1.0 -2.9 1.5 -2.8 2.9 -2.7 2.6 -2.3 4.0 -2.5 3.9 -2.4 5.1 -2.0 5.6 -2.2 6.3 -2.3 7.2 -1.7 7.3 -1.5 8.3 -1.6 9.0 -1.7M93.5 187.9l0.9 -4.1 0.5 -3.9 2.0 -3.4 3.1 -3.3 3.3 -3.2 3.0 -2.9 4.7 -2.4 5.2 -2.3 5.4 -2.1 5.8 -2.0 7.1 -1.6 7.6 -1.2 7.7 -1.4 8.7 -0.6M88.3 183.6l0.5 -2.4 0.6 -2.2 0.8 -2.3 1.4 -2.6 1.3 -2.0 1.9 -2.4 2.5 -2.4 2.2 -2.3 2.6 -2.3 3.4 -2.4 3.2 -2.4 3.2 -2.4 3.9 -2.5 4.5 -2.2M83.4 194.2l0.3 -3.5 1.7 -3.5 1.8 -3.6 2.6 -3.4 2.9 -3.5 4.2 -3.7 4.3 -2.8 5.5 -3.5 5.5 -3.2 6.7 -2.9 7.0 -3.1 7.7 -2.9 9.2 -2.8 8.4 -2.8M96.7 186.3l0.2 -3.9 1.0 -3.5 1.2 -4.0 0.5 -4.1 1.3 -3.9 1.5 -3.7 1.4 -4.3 2.0 -3.9 2.4 -4.0 1.8 -4.3 1.9 -4.3 2.5 -4.1 2.6 -4.1 2.8 -4.7M88.5 185.3l0.5 -2.8 0.9 -2.6 2.0 -3.1 3.1 -2.5 3.5 -2.7 3.9 -2.7 5.4 -3.2 5.6 -3.0 6.3 -2.6 7.1 -2.8 8.1 -3.0 8.3 -3.4 9.8 -2.9 10.3 -3.0M95.2 197.5l0.3 -5.1 0.7 -5.3 0.1 -5.0 0.4 -4.6 0.5 -4.8 0.4 -4.5 0.6 -4.2 0.3 -3.9 0.5 -4.0 1.2 -4.0 0.7 -3.8 0.2 -3.6 0.8 -3.2 0.8 -3.4M93.7 187.6l0.4 -3.1 0.3 -2.8 0.8 -3.3 0.8 -2.7 0.5 -3.2 2.3 -2.6 1.8 -3.1 1.7 -2.8 2.3 -3.5 2.3 -2.6 3.1 -3.2 3.3 -2.7 2.7 -3.5 3.9 -2.8M89.9 191.3l-0.0 -3.4 1.6 -3.8 1.9 -3.4 1.9 -3.5 3.8 -3.7 3.9 -4.0 4.6 -3.7 5.1 -4.0 6.1 -4.2 7.0 -4.1 7.0 -4.1 8.6 -4.2 8.9 -4.4 9.6 -4.7M92.0 180.8l0.8 -2.7 1.2 -2.8 1.9 -2.4 2.2 -3.0 2.1 -2.3 3.7 -2.7 3.7 -2.7 4.2 -2.7 4.9 -2.4 5.5 -3.2 5.5 -2.6 6.2 -2.8 7.0 -2.3 7.5 -2.7M85.0 187.2l0.8 -3.9 1.1 -4.0 1.5 -3.7 2.4 -3.3 3.2 -4.0 4.6 -3.3 4.1 -3.0 5.0 -3.1 5.8 -3.1 6.9 -3.1 6.7 -2.8 8.1 -2.8 8.3 -2.8 9.3 -2.5M83.2 194.9l0.2 -4.4 1.4 -4.4 2.3 -4.0 2.9 -4.2 4.2 -4.0 4.4 -4.0 5.6 -4.2 6.6 -3.8 7.3 -4.4 8.2 -3.8 9.2 -3.9 9.1 -3.7 11.0 -3.8 11.7 -3.8M96.2 186.5l0.6 -4.2 1.1 -3.4 1.5 -3.8 1.1 -3.3 1.6 -3.7 2.8 -2.9 3.0 -3.6 2.8 -2.7 3.1 -3.0 4.7 -2.9 4.5 -2.5 4.1 -2.6 5.3 -2.2 5.2 -2.5M84.3 183.4l0.5 -2.1 0.8 -2.1 0.8 -2.5 1.7 -2.4 2.2 -2.3 2.1 -3.0 3.7 -2.7 2.3 -3.3 3.3 -2.6 4.6 -3.6 4.7 -3.0 4.9 -3.4 5.1 -3.7 6.2 -3.7M95.3 193.0l-0.1 -4.4 0.9 -4.2 0.1 -4.3 0.8 -4.0 -0.1 -3.6 0.7 -3.6 0.5 -3.6 0.1 -3.2 0.2 -2.7 0.3 -3.3 0.4 -2.8 0.2 -2.4 0.4 -2.7 0.6 -2.3M97.7 184.0l0.7 -3.3 0.3 -3.2 0.6 -3.2 0.8 -3.5 0.2 -3.5 2.3 -3.9 0.7 -3.7 1.8 -3.8 1.3 -4.0 1.6 -4.0 2.3 -4.1 1.3 -4.3 1.8 -3.9 2.5 -4.8M85.4 187.9l-0.2 -3.3 1.3 -3.2 1.7 -3.2 1.3 -3.5 2.1 -3.1 2.6 -3.1 3.7 -3.5 3.4 -3.1 4.2 -3.2 4.6 -3.2 5.3 -3.3 5.2 -3.1 6.2 -3.3 6.5 -3.1M84.5 191.4l1.3 -3.7 0.9 -3.1 1.6 -3.5 1.7 -3.3 3.6 -2.9 3.8 -2.9 3.7 -3.0 4.9 -2.2 5.1 -2.8 6.1 -2.3 6.3 -2.1 6.7 -1.8 7.9 -1.8 8.2 -1.9M98.1 185.3l0.4 -2.9 1.2 -3.0 1.8 -3.1 2.3 -3.0 2.7 -3.4 3.6 -3.1 3.8 -3.4 5.2 -3.3 4.8 -3.2 5.7 -3.4 6.1 -3.3 6.4 -4.3 8.0 -3.5 7.8 -3.6M85.3 197.8l0.4 -5.3 1.3 -5.3 1.1 -5.0 0.9 -4.6 2.4 -5.0 2.0 -4.0 2.6 -4.6 3.1 -3.9 3.6 -4.4 3.5 -3.7 4.6 -3.5 4.3 -3.4 4.4 -3.4 5.4 -3.2" fill="none" stroke="#828282" stroke-width="0.7" stroke-linejoin="round" />
<path d="M91.8 175.1l0.4 -5.1 0.7 -4.8 2.1 -5.4 2.2 -5.0 2.5 -5.3 3.2 -5.1 3.9 -5.2 4.1 -5.2 4.6 -5.7 5.4 -5.0M85.6 193.2l-0.1 -7.9 1.5 -7.8 2.0 -7.7 2.5 -7.8 3.2 -9.1 2.6 -8.3 4.5 -8.4 5.0 -8.8 5.1 -9.0 5.9 -9.1M91.1 155.3l1.3 -1.4 -0.3 -1.7 2.1 -1.8 1.9 -1.9 2.8 -1.9 3.5 -2.5 4.9 -2.6 4.9 -2.8 5.2 -3.2 5.7 -3.0M87.2 184.2l0.5 -4.7 1.3 -5.4 1.8 -5.4 1.9 -5.2 3.7 -5.2 4.0 -6.1 4.2 -6.2 4.4 -6.4 6.4 -6.3 5.7 -6.5M84.8 168.3l0.2 -3.8 0.7 -4.0 1.7 -4.6 1.6 -5.0 2.4 -4.7 2.7 -5.7 3.6 -5.9 4.3 -6.3 4.8 -6.2 4.7 -7.2M90.8 187.5l1.0 -8.0 1.4 -7.9 1.5 -8.1 2.7 -8.2 3.4 -7.9 1.8 -8.3 3.2 -7.8 3.8 -8.2 3.8 -8.2 3.9 -7.8M89.3 194.3l0.7 -6.3 1.9 -6.1 1.6 -7.2 2.5 -7.4 3.1 -6.9 3.1 -7.4 3.7 -8.4 4.6 -8.2 4.3 -8.6 5.1 -8.8M84.1 151.2l1.1 -0.9 1.8 -1.3 2.8 -1.4 2.4 -1.7 3.5 -2.3 3.8 -2.0 4.5 -2.3 5.5 -2.8 5.7 -2.9 5.8 -3.4M84.3 203.1l0.6 -9.0 1.5 -8.8 1.6 -9.6 2.6 -9.6 2.5 -10.3 3.4 -10.2 3.5 -10.7 3.8 -10.9 4.6 -11.1 5.1 -12.1M88.2 152.4l0.7 -2.5 0.6 -2.3 1.3 -2.5 1.9 -2.1 2.9 -3.0 3.3 -2.6 3.5 -3.5 4.7 -2.9 5.2 -3.1 5.1 -3.1M84.3 163.0l1.0 -4.8 1.4 -4.2 2.3 -5.4 1.8 -5.4 2.9 -5.3 2.4 -6.1 3.5 -5.9 4.3 -6.4 4.4 -6.5 4.5 -7.0M83.7 157.9l1.6 -0.4 2.3 -0.7 2.4 -1.1 3.3 -1.1 3.8 -1.7 4.9 -1.9 5.9 -2.2 6.2 -2.6 6.3 -2.7 7.6 -3.1M85.8 170.3l1.0 -5.1 1.8 -4.9 1.7 -5.6 2.4 -4.8 2.4 -6.0 3.6 -5.6 3.1 -5.5 3.8 -5.8 4.4 -6.0 5.1 -6.1M89.1 166.8l1.5 -3.2 1.7 -2.5 1.8 -3.5 3.2 -2.5 3.0 -4.0 3.8 -3.2 4.1 -3.6 5.4 -3.5 4.8 -3.6 5.9 -3.2M86.1 201.3l1.1 -10.1 1.3 -9.5 1.1 -10.3 2.9 -10.3 1.6 -10.3 3.2 -10.8 2.8 -10.8 4.1 -11.2 4.0 -11.0 4.2 -11.2M82.4 172.2l0.2 -4.2 1.5 -4.8 1.6 -5.1 3.1 -5.0 2.9 -5.2 3.8 -5.7 5.1 -5.3 5.0 -6.6 6.5 -6.6 7.2 -6.2M82.1 203.0l0.7 -9.0 1.7 -9.0 1.7 -9.4 2.5 -8.9 1.9 -9.1 3.6 -9.0 3.1 -9.2 5.1 -9.1 3.9 -9.4 5.2 -9.1M89.7 176.2l1.5 -4.1 1.1 -4.4 2.3 -5.1 2.4 -4.7 2.5 -5.3 2.8 -5.1 3.5 -5.7 4.3 -5.9 3.7 -5.5 5.3 -6.3M82.9 198.9l0.8 -5.3 1.2 -5.6 1.6 -5.9 2.7 -6.2 4.1 -6.2 3.6 -6.3 5.7 -6.2 5.8 -6.7 5.8 -7.1 8.0 -7.0M91.6 166.8l0.3 -1.6 1.4 -2.7 2.2 -2.5 1.8 -2.5 2.2 -3.2 3.4 -3.2 3.6 -3.2 4.6 -4.0 4.7 -3.5 5.5 -4.3M86.9 172.0l0.4 -10.4 0.1 -10.6 1.0 -10.1 0.8 -10.9 1.4 -10.8 1.1 -10.8 0.9 -11.1 1.8 -11.0 1.3 -10.8 2.1 -11.5M83.9 192.8l0.3 -6.6 1.9 -6.8 1.9 -6.8 2.7 -7.5 3.0 -6.6 3.7 -7.0 5.1 -7.7 4.9 -7.5 6.2 -7.3 6.7 -7.6M90.8 152.4l1.7 -3.6 1.1 -3.1 1.0 -3.2 2.6 -3.3 2.3 -3.6 3.5 -3.7 2.4 -3.9 3.9 -3.8 4.1 -4.0 3.9 -4.2M84.4 185.2l1.2 -3.2 1.6 -3.0 2.7 -3.5 3.1 -3.4 3.7 -4.4 4.3 -4.5 5.0 -4.0 5.1 -5.3 6.4 -5.1 6.6 -5.4M88.8 190.0l0.6 -6.3 1.5 -5.9 1.1 -6.6 1.8 -6.0 2.8 -6.7 3.7 -6.2 4.0 -6.9 4.7 -6.6 4.6 -7.2 5.3 -6.5M91.8 154.1l0.5 -0.4 1.2 -0.4 1.9 -0.7 2.0 -0.9 2.7 -0.8 3.7 -1.1 3.8 -1.1 5.0 -1.3 4.8 -1.2 5.6 -1.6M89.5 158.0l0.5 -6.1 0.5 -5.8 1.4 -6.6 1.3 -6.3 1.3 -7.1 2.5 -7.0 2.7 -6.9 3.0 -7.6 3.3 -7.2 3.9 -8.1M91.1 196.6l-0.2 -11.6 1.0 -11.7 -0.3 -12.3 1.5 -12.6 1.1 -12.9 1.4 -13.0 1.1 -13.8 1.7 -13.3 2.2 -14.6 1.3 -14.3M85.0 196.3l0.8 -11.6 1.4 -12.0 0.8 -12.4 1.1 -12.8 2.0 -12.8 1.5 -13.3 2.5 -13.9 2.1 -13.4 2.2 -14.4 2.7 -14.2M82.1 174.1l0.6 -4.8 1.2 -4.6 2.3 -5.5 3.4 -4.8 3.3 -5.1 4.4 -4.9 4.9 -4.9 5.1 -5.0 6.6 -5.6 6.9 -5.0M91.1 197.9l0.3 -3.6 2.6 -3.9 3.4 -4.6 1.9 -4.9 4.0 -5.2 3.4 -5.4 5.6 -6.2 4.8 -6.1 5.8 -6.7 6.4 -7.1M82.6 182.2l1.2 -5.3 1.9 -5.6 2.0 -6.1 2.8 -6.2 3.5 -6.0 4.3 -6.8 3.9 -7.2 5.0 -7.0 6.0 -7.5 5.9 -8.0M88.7 169.0l1.0 -6.7 1.0 -7.6 1.4 -7.0 1.8 -7.5 2.9 -7.2 2.6 -7.1 3.0 -7.2 3.3 -7.9 4.0 -7.4 4.2 -7.5M82.8 159.2l0.6 -1.7 1.6 -2.9 1.7 -3.0 2.9 -2.8 3.6 -3.5 3.8 -4.1 4.7 -4.2 5.2 -4.5 5.8 -4.9 7.0 -5.1M86.4 165.5l0.5 -2.5 1.1 -3.0 1.1 -2.9 2.5 -3.5 3.7 -3.8 2.9 -3.9 4.2 -4.4 5.3 -4.3 6.3 -4.7 5.8 -5.3M91.9 194.2l0.7 -8.0 1.4 -8.2 1.9 -8.6 1.3 -8.0 2.8 -8.6 2.2 -7.9 3.4 -8.3 2.9 -8.5 4.0 -8.6 4.0 -8.3M86.3 157.1l0.8 -0.4 0.9 -1.1 2.4 -0.4 3.6 -0.6 3.3 -1.2 4.9 -0.5 5.6 -0.8 6.1 -1.3 7.0 -0.8 7.9 -1.2M86.4 165.0l0.5 -4.6 1.6 -4.6 2.0 -4.4 1.8 -5.1 2.8 -4.6 2.9 -4.8 4.4 -4.9 4.0 -4.9 4.9 -5.0 5.0 -5.3M88.7 204.4l0.4 -9.1 1.1 -9.2 1.5 -9.0 1.7 -9.8 2.9 -9.5 3.2 -10.0 3.2 -9.4 4.3 -10.5 4.4 -9.4 4.9 -10.6M85.4 168.3l0.9 -8.6 1.0 -9.0 1.4 -9.4 0.1 -9.8 2.5 -10.4 1.2 -9.9 1.7 -11.4 2.5 -10.6 2.6 -12.1 2.5 -11.7M81.8 194.0l1.6 -6.8 1.5 -6.7 1.2 -7.4 2.5 -7.5 4.0 -8.1 3.2 -8.7 3.6 -8.7 4.8 -9.5 4.9 -9.2 5.1 -10.1M82.6 203.5l0.9 -6.2 1.0 -7.1 2.7 -6.8 2.8 -7.4 3.9 -7.6 4.5 -8.2 4.7 -8.0 5.6 -8.9 6.4 -9.1 7.4 -9.0M90.2 169.8l0.6 -6.4 1.4 -6.5 1.6 -6.6 1.9 -6.6 2.6 -6.3 3.2 -6.7 2.9 -7.0 3.2 -6.6 4.2 -7.1 3.9 -6.7M91.4 176.7l1.0 -5.3 1.3 -6.0 1.7 -5.9 1.7 -5.8 1.8 -6.5 2.1 -6.2 3.2 -6.7 3.1 -6.8 3.2 -7.3 3.7 -7.3M82.4 187.7l1.1 -5.5 1.6 -5.8 2.2 -6.0 2.8 -5.3 3.3 -6.2 4.0 -6.2 4.7 -6.2 5.8 -6.6 5.8 -7.2 6.7 -6.7M90.9 197.7l0.9 -6.2 1.6 -6.1 1.6 -6.7 2.6 -6.6 3.4 -6.9 2.7 -7.6 4.1 -7.5 3.6 -8.0 5.1 -8.3 5.8 -8.1M81.1 200.3l0.8 -9.6 2.2 -9.3 1.6 -9.4 2.8 -9.8 3.4 -9.8 2.7 -10.5 3.7 -9.5 4.6 -9.6 4.8 -10.6 5.2 -10.2M88.5 168.7l0.9 -3.8 1.4 -4.2 1.8 -4.6 2.0 -4.6 2.2 -5.1 2.6 -4.8 2.5 -5.9 2.9 -6.3 3.8 -6.2 3.8 -6.6M83.8 200.6l1.1 -9.2 1.1 -9.0 1.9 -9.2 2.2 -9.2 2.7 -9.1 2.7 -9.1 2.8 -9.5 4.0 -9.2 3.9 -9.8 4.5 -9.0M86.1 171.3l0.6 -10.4 0.2 -11.5 0.3 -10.6 0.8 -10.8 1.1 -11.2 1.1 -11.6 1.9 -11.1 1.6 -11.3 2.2 -11.7 2.0 -11.7M82.9 163.8l1.0 -4.0 1.0 -4.0 1.9 -4.8 2.4 -5.1 3.3 -5.0 2.9 -6.2 3.7 -5.7 4.7 -6.6 5.6 -6.5 4.9 -7.0M84.0 198.2l0.8 -7.9 1.0 -7.9 2.0 -8.6 2.1 -8.9 2.9 -9.2 2.6 -9.5 2.9 -10.1 3.8 -10.6 4.7 -11.0 4.6 -11.0M82.3 190.0l0.7 -8.8 1.7 -8.9 2.0 -9.1 1.7 -9.2 2.8 -9.3 4.2 -9.6 3.6 -9.9 4.8 -9.6 5.3 -10.1 5.5 -10.0M84.2 190.9l1.4 -3.3 1.3 -4.3 2.8 -3.7 2.6 -4.0 4.3 -4.0 4.5 -4.7 5.5 -4.2 5.9 -4.7 6.5 -5.0 7.3 -4.9M82.1 193.8l0.4 -3.5 1.5 -3.9 1.4 -4.0 3.7 -5.3 3.0 -5.0 5.4 -4.8 4.8 -6.0 6.9 -6.5 7.1 -6.1 7.5 -7.2M84.6 162.9l1.2 -5.4 0.9 -5.5 1.9 -6.1 1.9 -6.3 1.6 -6.1 3.1 -7.5 2.6 -7.0 3.4 -6.5 2.8 -8.0 3.9 -8.3M84.2 183.3l1.1 -7.8 0.3 -7.8 1.7 -8.7 1.5 -8.8 3.0 -8.7 2.9 -9.9 4.4 -9.8 4.2 -10.5 4.6 -10.7 5.3 -11.1M86.0 201.6l-0.1 -8.3 1.7 -8.7 2.3 -9.3 0.8 -9.4 2.4 -9.9 2.5 -10.1 2.6 -10.1 3.5 -11.1 3.6 -10.8 3.9 -11.9M86.5 189.8l0.8 -9.8 0.6 -9.8 1.0 -10.3 2.0 -9.7 2.0 -11.0 2.5 -10.8 2.9 -11.4 2.6 -11.4 4.4 -11.3 3.7 -11.9M84.1 175.1l0.6 -7.0 1.6 -7.0 1.5 -6.7 2.0 -7.4 2.4 -7.3 3.3 -7.1 3.2 -7.5 2.6 -7.0 3.9 -7.3 3.9 -7.6M89.4 181.1l0.3 -8.6 0.8 -8.1 1.6 -8.4 0.9 -8.7 2.1 -8.1 1.8 -8.5 3.6 -8.6 3.1 -9.0 2.6 -8.0 3.2 -8.6M84.8 169.8l1.1 -4.3 1.5 -4.4 1.6 -4.9 2.5 -5.3 3.2 -5.3 3.9 -5.8 4.6 -5.8 5.1 -6.8 5.0 -6.6 6.0 -7.0M91.7 198.6l0.1 -7.3 0.7 -7.5 1.9 -7.9 1.7 -8.3 3.2 -8.0 2.9 -8.7 2.4 -8.8 4.8 -9.2 4.2 -9.0 5.0 -9.4M81.2 204.6l0.1 -9.1 2.0 -9.5 0.6 -9.8 2.3 -10.5 2.3 -10.7 2.9 -10.7 3.6 -11.4 3.7 -11.6 4.3 -12.1 5.0 -12.4M86.6 201.9l0.8 -6.1 0.9 -6.7 1.4 -6.5 3.1 -6.2 2.8 -6.7 3.7 -6.6 4.0 -6.4 4.5 -7.0 5.3 -6.3 5.7 -6.7M86.7 160.5l-0.1 -3.5 1.7 -3.5 0.9 -3.3 2.5 -3.8 1.7 -4.0 2.8 -4.2 4.2 -3.7 3.0 -4.5 5.0 -4.0 4.8 -4.7M90.1 172.9l1.7 -6.8 0.0 -6.9 2.5 -6.6 2.1 -7.4 2.4 -6.6 3.2 -7.1 2.5 -7.0 3.7 -7.0 4.4 -7.1 4.4 -6.9M90.2 175.3l0.5 -4.7 0.4 -4.6 2.0 -4.9 2.3 -4.4 2.1 -4.4 3.9 -4.9 3.1 -4.9 4.4 -5.0 5.1 -5.1 4.9 -4.5M91.6 162.4l1.3 -1.5 1.6 -2.0 1.8 -2.2 2.1 -2.8 3.1 -3.3 4.1 -3.1 3.5 -3.7 4.6 -3.6 5.0 -4.6 5.5 -4.4M85.8 158.6l0.9 -5.9 1.8 -5.6 1.8 -6.2 1.3 -5.7 2.8 -6.2 2.6 -6.4 2.6 -6.3 3.4 -6.3 3.7 -6.5 2.9 -6.8M90.6 184.7l0.9 -3.5 1.7 -3.6 2.2 -3.8 2.4 -3.8 3.3 -3.7 4.0 -4.0 5.1 -4.5 4.5 -4.4 5.5 -4.2 6.2 -4.7M81.9 166.0l0.4 -6.3 1.6 -6.3 2.4 -6.9 2.3 -6.5 2.2 -6.7 3.5 -7.2 4.4 -7.2 3.3 -6.9 4.3 -7.7 4.9 -7.4M89.2 193.5l0.6 -9.5 1.6 -9.0 1.3 -9.4 1.7 -9.9 1.7 -9.2 2.1 -10.1 1.9 -9.7 2.9 -10.2 3.0 -10.4 2.7 -10.2M82.6 172.7l0.0 -4.6 1.3 -4.5 2.5 -4.5 2.9 -4.7 3.1 -4.8 4.2 -4.7 5.2 -5.1 6.4 -5.2 7.0 -5.1 6.7 -5.2M87.6 192.0l0.8 -8.8 1.0 -8.5 1.5 -9.0 1.6 -9.0 3.2 -8.6 2.8 -9.0 3.8 -9.2 4.1 -9.2 4.3 -9.4 5.3 -9.2" fill="none" stroke="#828282" stroke-width="0.7" stroke-linejoin="round" />
<path d="M83.8 181.2l1.4 -5.5 1.3 -5.3 2.1 -4.9 2.7 -5.4 1.9 -5.4 4.1 -4.9 3.8 -5.3 4.4 -5.5 5.1 -5.0 4.8 -5.3M83.2 181.4l1.4 -4.6 1.5 -4.6 1.5 -5.4 2.7 -5.6 3.5 -5.5 3.5 -6.7 2.8 -6.6 4.3 -6.8 4.7 -7.8 4.6 -7.5M85.9 168.3l-0.0 -1.6 1.2 -3.0 1.3 -4.7 0.8 -5.8 1.7 -7.5 1.3 -8.3 2.6 -10.2 2.2 -11.1 2.5 -13.1 3.4 -14.2M87.9 173.5l0.9 -2.9 0.6 -3.5 2.6 -4.4 2.1 -5.2 2.9 -5.1 3.5 -6.0 3.9 -6.9 3.3 -6.8 4.9 -8.6 4.9 -8.4M85.9 152.7l0.5 0.8 0.5 -0.9 0.6 -2.7 1.0 -3.9 1.2 -6.1 0.3 -7.6 1.9 -9.2 1.6 -11.0 1.0 -12.5 1.9 -14.0M85.4 159.9l0.7 -2.5 1.2 -3.7 1.5 -4.4 2.2 -5.4 2.0 -5.7 1.6 -6.9 2.5 -7.7 2.9 -8.5 3.8 -9.5 3.4 -10.1M84.0 158.5l0.8 0.5 1.0 -0.1 2.4 -0.7 2.6 -1.3 3.3 -1.9 3.5 -2.7 5.0 -2.6 6.2 -3.7 6.0 -4.0 6.7 -4.9M84.4 186.8l1.3 -6.7 1.1 -7.1 3.0 -5.5 2.7 -5.2 4.2 -4.7 2.9 -3.4 5.0 -3.3 5.3 -2.8 5.6 -2.6 6.3 -0.9M87.6 151.7l0.3 2.5 0.8 1.7 1.6 1.1 2.1 -0.2 2.8 0.4 3.0 -0.9 3.9 -1.1 3.6 -2.2 4.6 -2.5 5.2 -3.4M90.4 179.6l0.4 -3.5 0.8 -3.8 2.2 -3.7 1.3 -3.3 2.7 -3.5 3.0 -3.3 3.7 -2.8 4.0 -2.8 4.3 -2.5 5.0 -2.7M85.2 158.4l1.2 -0.3 1.3 -1.0 2.8 -2.0 3.1 -2.6 3.4 -3.4 4.5 -4.2 4.8 -5.0 5.4 -5.7 6.3 -6.5 7.2 -7.3M85.0 170.4l0.9 -3.4 0.6 -4.9 1.7 -5.6 1.3 -6.9 2.7 -7.6 1.4 -8.9 3.1 -9.4 3.5 -11.1 4.1 -11.8 3.8 -13.0M84.6 161.6l1.1 -4.2 1.5 -5.0 2.9 -4.5 2.1 -5.4 3.2 -5.3 3.1 -5.8 3.8 -5.6 5.2 -6.2 4.4 -6.6 5.4 -7.0M86.7 149.9l0.1 2.0 1.1 0.6 1.1 -1.5 1.0 -2.7 1.7 -4.3 1.9 -6.2 2.5 -7.4 1.3 -9.2 3.4 -11.0 2.7 -12.2M87.7 170.9l1.0 -2.4 1.5 -2.6 2.1 -4.4 2.4 -4.7 2.7 -6.4 3.4 -6.4 3.1 -7.6 4.4 -9.2 4.6 -9.8 4.4 -11.0M86.8 185.5l0.4 -7.6 1.3 -7.0 2.0 -6.5 1.2 -6.2 3.4 -6.2 2.9 -5.0 3.7 -5.2 3.6 -4.2 4.3 -3.9 4.5 -3.6M91.3 159.4l1.6 -3.4 1.4 -3.3 1.9 -4.1 2.5 -3.1 3.4 -3.8 2.8 -3.8 3.3 -3.9 4.0 -3.5 4.6 -4.0 4.8 -4.0M89.5 162.6l1.4 -2.2 1.1 -2.7 2.6 -3.5 1.8 -4.1 2.5 -4.5 3.6 -4.8 3.8 -5.9 3.3 -6.1 4.5 -6.6 4.7 -7.5M87.3 171.4l0.6 -2.0 0.8 -2.7 2.7 -3.6 1.6 -4.5 3.4 -5.2 4.4 -5.9 4.2 -6.5 5.6 -7.8 5.2 -8.1 6.9 -9.0M85.6 174.3l1.5 -5.8 0.7 -6.5 2.1 -6.0 1.4 -6.7 1.8 -6.3 2.7 -6.9 3.5 -6.6 2.4 -6.8 3.3 -7.2 4.4 -6.9M88.5 158.3l0.8 0.5 1.8 -0.9 2.4 -1.4 2.1 -3.1 2.7 -4.6 3.8 -5.0 3.4 -7.4 4.1 -7.7 4.1 -9.2 4.8 -10.1M89.4 170.3l1.5 -4.0 1.9 -4.2 1.0 -5.3 2.8 -5.5 2.7 -6.7 2.9 -6.7 3.0 -7.1 3.9 -8.2 3.7 -8.4 4.6 -9.3M86.8 164.3l0.2 -0.5 1.8 -1.5 1.9 -1.1 2.4 -1.6 3.2 -2.4 4.8 -2.5 4.2 -2.8 5.6 -3.5 6.2 -3.6 6.8 -4.2M91.2 168.8l1.1 -1.8 1.2 -1.7 1.1 -2.2 2.1 -2.5 1.7 -2.3 2.1 -2.7 2.6 -2.4 3.4 -3.4 3.3 -2.6 3.1 -3.2M87.4 158.0l0.7 -1.0 2.2 -1.2 2.4 -2.2 1.9 -2.5 4.5 -3.7 3.6 -4.1 5.0 -5.0 5.2 -5.9 5.8 -6.3 6.8 -7.4M84.7 169.4l0.9 -3.7 1.1 -4.9 2.0 -5.1 2.6 -7.2 2.0 -6.7 3.3 -7.7 3.1 -9.0 3.7 -9.7 4.8 -10.5 4.2 -11.0M86.2 177.2l1.1 -6.5 0.2 -6.7 1.3 -6.9 1.7 -7.6 1.2 -7.6 2.7 -8.5 2.1 -8.5 2.6 -9.1 2.6 -9.5 3.3 -9.9M87.4 150.1l1.0 1.2 1.8 0.6 2.1 0.3 1.9 -0.8 2.7 -1.0 2.7 -1.3 3.6 -2.3 3.0 -2.5 4.4 -3.3 3.8 -3.7M87.4 178.8l0.9 -4.6 1.3 -5.7 0.5 -6.6 2.3 -7.3 1.7 -8.3 2.4 -10.1 3.5 -10.9 2.4 -11.6 3.6 -12.5 4.0 -13.9M89.9 181.6l0.5 -4.9 0.3 -6.6 2.0 -6.6 1.1 -7.7 1.5 -8.6 3.6 -9.1 2.9 -10.2 3.3 -11.0 4.2 -11.2 4.0 -12.8M87.9 149.2l1.1 2.8 1.6 2.1 1.8 2.1 2.1 1.3 1.8 1.0 2.5 0.6 2.7 0.3 2.5 -0.6 4.0 -0.6 3.4 -1.1M86.2 145.4l0.9 3.1 1.7 1.4 1.7 0.2 2.1 -1.1 3.8 -2.8 4.3 -4.3 4.7 -5.5 5.1 -6.9 5.5 -8.5 6.3 -9.6M84.0 185.9l0.6 -5.6 0.3 -6.3 1.5 -7.3 0.9 -8.5 1.5 -9.6 2.8 -9.2 2.7 -10.6 3.3 -12.0 3.0 -12.2 4.5 -13.8M89.6 173.1l0.9 -4.1 0.5 -4.0 2.2 -4.5 2.1 -4.0 2.8 -4.4 3.4 -4.0 3.7 -4.1 4.4 -4.2 4.3 -4.3 5.5 -4.4M89.9 151.2l0.3 -0.2 0.5 -0.2 1.6 -0.8 1.1 -1.1 2.8 -1.4 2.1 -1.6 3.8 -1.9 2.8 -2.3 3.6 -2.4 4.7 -2.8M91.4 175.9l1.2 -3.3 2.1 -3.3 1.8 -4.0 2.1 -4.5 2.4 -4.9 3.8 -5.3 4.1 -6.6 4.7 -6.9 4.3 -6.8 5.3 -8.3M86.9 160.6l1.3 -3.4 1.3 -4.5 1.8 -4.7 2.2 -5.5 2.5 -5.9 2.0 -6.9 3.6 -7.3 3.0 -8.4 2.9 -8.2 4.0 -9.6M88.7 151.9l1.1 -0.5 1.0 -2.1 1.6 -2.8 1.6 -4.1 1.5 -5.4 2.7 -6.7 1.5 -7.9 2.9 -9.7 2.8 -10.6 2.7 -11.5M87.0 155.7l0.5 -2.5 1.8 -3.2 2.3 -2.3 2.0 -3.3 3.4 -2.9 3.3 -3.2 3.8 -3.6 4.5 -3.6 4.9 -4.1 5.3 -3.6M86.0 173.9l0.5 -2.8 0.6 -3.7 1.1 -4.8 1.5 -5.8 1.7 -6.9 2.9 -8.0 3.0 -8.5 2.9 -10.2 4.0 -10.4 3.5 -12.1M83.0 182.2l0.8 -5.5 2.5 -5.7 1.9 -5.9 2.6 -6.6 3.9 -7.1 4.1 -6.3 4.2 -7.6 4.9 -7.4 6.3 -7.8 6.6 -8.1M86.2 148.2l0.6 0.1 1.2 -1.9 1.4 -2.3 1.9 -3.5 3.2 -4.8 2.4 -5.6 3.9 -7.1 4.5 -7.6 3.3 -9.0 4.9 -10.4M91.9 149.6l1.4 0.2 1.2 -0.4 2.5 -1.6 2.7 -1.8 3.0 -3.7 3.2 -3.5 3.9 -4.9 3.7 -5.8 4.0 -6.9 5.6 -7.6M91.6 146.2l0.8 2.8 1.5 2.8 0.5 2.1 1.7 1.5 1.9 0.8 2.7 0.3 2.1 -0.1 2.2 -0.3 2.7 -0.9 2.7 -1.7M89.1 170.4l1.1 -5.2 1.3 -4.8 1.8 -6.1 1.8 -6.8 1.6 -7.5 2.1 -8.6 3.0 -8.2 1.9 -10.2 3.1 -10.5 2.9 -11.5M88.0 181.4l1.1 -5.6 1.7 -5.4 1.5 -5.2 2.2 -5.0 3.2 -5.0 4.1 -4.2 3.0 -4.0 4.5 -3.7 5.1 -3.8 5.4 -3.2M91.6 146.1l0.9 1.9 0.8 0.9 1.7 0.6 1.8 -0.4 3.3 -1.7 2.9 -2.0 2.6 -2.7 4.2 -4.0 5.1 -4.0 4.5 -5.4M89.0 174.3l0.7 -2.5 1.7 -2.9 1.6 -3.2 2.2 -4.2 2.3 -4.3 3.2 -5.8 3.5 -5.9 5.3 -6.9 3.9 -7.0 5.3 -8.1M88.3 148.7l1.0 1.8 1.5 1.2 1.9 1.0 1.7 0.7 1.7 -0.1 2.6 -0.4 3.6 -1.1 2.7 -1.2 2.7 -1.6 3.7 -2.1M83.4 184.7l0.9 -4.6 2.1 -5.9 2.5 -6.5 2.4 -7.2 3.3 -7.5 3.5 -8.7 4.3 -8.6 4.4 -9.9 5.6 -10.3 5.3 -11.0M83.0 179.0l0.8 -7.3 1.4 -7.0 1.6 -7.6 1.7 -7.6 3.8 -7.7 3.3 -7.7 4.1 -7.4 4.5 -7.8 5.3 -8.3 5.2 -7.8M84.2 151.5l0.6 -0.1 1.4 -0.2 2.0 -0.8 2.6 -0.7 4.0 -1.0 4.6 -1.6 3.7 -1.7 6.5 -2.5 6.1 -2.4 7.3 -2.4M89.0 170.2l0.9 -5.4 1.7 -5.5 1.3 -4.8 2.7 -5.2 2.0 -4.8 3.9 -4.1 3.1 -4.8 3.9 -4.2 3.5 -4.6 4.8 -3.8M87.4 170.9l0.9 -1.5 1.7 -2.4 1.9 -2.6 2.7 -2.6 2.1 -4.1 4.0 -3.9 3.6 -4.8 4.6 -5.4 4.5 -5.8 5.5 -6.2" fill="none" stroke="#ff7aaa" stroke-width="0.7" stroke-linejoin="round" />
<path d="M90.3 162.7l0.8 -2.9 0.9 -3.0 1.1 -3.1 1.6 -3.0 2.0 -3.7 2.6 -3.3 3.4 -4.0 4.2 -3.3 3.6 -4.0 4.8 -3.7M89.1 167.0l0.9 -1.4 0.5 -2.1 2.3 -1.8 2.4 -2.2 3.9 -2.3 5.1 -2.4 4.8 -2.8 5.3 -2.8 7.0 -2.8 7.6 -3.6M87.5 191.9l0.6 -2.9 0.8 -3.5 2.6 -3.3 3.4 -4.0 4.2 -4.2 4.4 -4.5 6.0 -5.4 6.2 -5.1 7.2 -5.6 7.7 -6.3M84.1 194.2l0.9 -4.8 1.3 -5.5 1.5 -5.5 2.2 -6.0 4.2 -6.0 4.0 -6.8 4.7 -6.4 5.5 -7.1 6.9 -6.9 6.6 -7.4" fill="none" stroke="#828282" stroke-width="0.7" stroke-linejoin="round" />
<path d="M85.3 152.7l0.0 -0.2 2.0 -1.6 1.1 -3.3 1.4 -4.3 2.0 -5.6 2.9 -7.5 3.3 -9.0 3.2 -10.1 3.3 -11.7 3.8 -13.1M84.0 184.4l1.1 -6.7 2.3 -6.2 1.1 -6.1 2.9 -5.7 3.8 -5.3 3.1 -5.0 4.3 -4.9 4.9 -4.5 5.1 -4.4 5.3 -3.7M86.8 175.7l1.3 -5.1 2.1 -5.1 1.5 -4.6 2.4 -4.2 2.9 -4.1 3.4 -3.4 3.9 -3.5 4.1 -3.0 4.4 -2.4 4.6 -2.5M84.6 150.7l0.9 0.4 1.4 -0.4 1.4 -1.6 1.5 -2.8 2.9 -3.5 2.8 -4.3 3.4 -5.8 3.9 -6.1 4.1 -7.5 4.2 -8.5M90.8 147.3l1.3 0.0 1.4 -1.1 1.2 -2.3 1.9 -2.5 2.2 -4.1 3.0 -4.9 3.1 -5.7 4.0 -6.8 3.5 -7.1 4.4 -8.5M83.5 150.1l0.5 -1.8 1.9 -2.9 1.6 -3.0 2.7 -4.3 1.8 -5.0 3.7 -6.0 2.7 -6.9 4.7 -7.1 4.2 -8.6 4.9 -9.1M88.1 152.2l0.4 1.8 1.2 1.0 1.3 0.5 1.9 -0.2 2.8 -0.5 3.3 -1.3 4.0 -1.8 4.5 -2.4 5.1 -3.0 5.6 -3.9M84.5 147.9l0.6 -0.4 1.2 -1.4 0.4 -2.5 1.4 -4.2 2.2 -5.3 1.4 -7.0 3.0 -8.1 2.7 -9.1 3.9 -11.0 2.5 -11.8M89.8 150.3l1.0 1.6 1.0 0.9 1.9 -0.3 2.1 -1.0 3.1 -2.2 3.7 -3.0 3.7 -3.7 4.2 -5.3 4.3 -5.5 5.1 -7.0M86.5 150.1l0.8 1.5 1.5 1.3 3.0 -0.1 2.1 -0.4 3.7 -1.5 3.8 -2.2 4.1 -3.3 5.5 -4.3 5.1 -4.8 6.5 -5.9M88.0 152.2l0.4 -2.9 1.2 -2.8 0.9 -4.3 0.8 -4.8 1.7 -5.7 1.1 -6.9 2.5 -7.5 1.6 -8.5 2.1 -8.9 2.6 -10.2M84.3 152.6l0.5 2.0 0.3 1.0 2.7 0.9 2.6 0.8 3.1 1.0 4.0 -0.1 5.2 -0.2 5.8 -1.0 6.6 -0.1 7.1 -1.3M87.1 173.3l0.4 -4.6 0.8 -4.7 2.0 -6.1 2.5 -6.6 1.4 -7.4 2.6 -8.2 3.4 -8.9 3.9 -9.2 3.8 -10.7 4.6 -10.9M89.6 187.7l1.2 -7.5 0.8 -7.7 1.2 -8.5 2.4 -8.7 2.1 -9.2 1.8 -9.9 3.0 -9.9 2.9 -10.7 3.3 -11.0 3.2 -11.3M85.3 187.3l1.0 -9.2 1.5 -9.5 1.4 -9.5 1.7 -9.6 2.7 -9.5 2.5 -9.4 2.7 -10.4 2.7 -9.1 3.4 -10.4 4.0 -9.7M86.4 173.6l0.8 -2.4 1.8 -3.2 2.2 -4.3 1.3 -5.8 2.4 -6.7 2.8 -7.5 2.5 -9.1 3.2 -10.0 3.2 -10.6 3.8 -12.0M85.4 179.4l1.2 -3.8 1.6 -3.6 2.5 -3.3 2.7 -3.0 3.1 -3.1 3.6 -2.6 3.8 -2.4 4.5 -2.1 4.9 -1.9 5.2 -1.6M84.1 164.5l0.4 -4.3 1.7 -3.9 1.5 -3.8 2.1 -3.8 3.0 -3.7 3.4 -3.1 3.9 -3.3 4.6 -2.9 5.8 -2.2 5.4 -2.7M89.5 176.6l0.7 -3.4 0.6 -3.1 1.4 -3.4 1.5 -3.6 2.2 -3.1 2.6 -3.4 3.3 -3.2 3.4 -3.3 4.5 -3.5 4.6 -3.1M86.3 171.8l0.8 -5.2 1.0 -4.7 2.2 -4.9 1.6 -4.5 2.9 -5.3 3.5 -4.6 3.2 -4.6 4.2 -4.7 4.8 -4.8 5.1 -4.4M91.7 187.3l1.6 -5.3 1.0 -5.3 2.1 -4.5 1.6 -5.0 2.4 -4.5 2.3 -4.4 3.0 -4.5 3.6 -4.5 2.1 -4.2 3.7 -3.7M91.3 152.9l0.7 -2.6 0.1 -3.6 1.0 -4.2 0.8 -5.0 0.8 -6.1 0.9 -6.5 2.4 -8.1 1.2 -8.1 1.7 -9.5 1.9 -10.0M88.1 150.6l1.1 1.1 2.5 0.6 2.5 0.5 2.1 -0.4 4.7 -0.6 3.5 -1.4 3.6 -1.7 4.9 -2.2 5.5 -2.4 6.1 -3.1M90.2 162.9l1.1 -3.7 1.1 -3.3 2.1 -3.3 1.3 -3.1 1.9 -2.6 3.2 -2.6 2.1 -2.6 3.6 -2.3 2.7 -2.0 4.1 -1.9M87.8 187.7l0.7 -7.2 1.9 -8.0 0.9 -8.1 1.9 -8.7 1.0 -9.8 1.6 -10.0 1.1 -10.4 1.8 -11.7 1.5 -11.7 1.5 -12.1M87.5 169.5l0.5 -0.9 2.3 -1.4 1.9 -1.1 3.2 -1.1 2.8 -1.2 4.0 -1.3 3.4 -1.1 4.2 -1.3 5.0 -1.0 5.8 -1.2M86.3 172.9l1.2 -2.1 1.9 -2.3 2.6 -1.8 2.8 -2.0 3.6 -1.8 3.7 -1.5 4.4 -1.9 4.5 -1.2 5.1 -1.1 6.1 -1.3M90.0 172.9l0.4 -3.5 1.2 -2.9 1.2 -3.2 1.4 -2.7 1.4 -3.2 2.8 -2.3 3.2 -2.1 2.0 -1.7 3.8 -1.8 3.4 -1.2M91.8 176.6l1.8 -4.0 1.4 -4.4 1.5 -4.7 3.0 -4.5 2.6 -5.8 2.3 -5.1 3.7 -6.2 3.7 -6.1 4.0 -6.0 4.4 -7.0M88.3 187.7l0.7 -4.8 1.0 -5.5 1.8 -5.6 2.5 -6.8 1.5 -6.8 3.3 -7.6 3.2 -7.7 4.3 -8.6 3.8 -9.1 4.9 -9.4M85.7 179.8l1.7 -2.9 1.1 -3.7 3.0 -3.9 3.4 -3.7 2.9 -4.3 4.5 -4.4 5.2 -4.8 4.9 -4.7 5.9 -4.8 6.6 -5.3M89.1 159.6l1.0 0.1 2.1 -1.0 1.6 -2.7 2.0 -3.6 2.7 -5.2 2.9 -6.3 2.6 -7.5 3.7 -9.1 4.0 -10.2 4.1 -11.5M87.5 185.7l0.8 -5.6 0.5 -6.2 1.5 -5.4 2.1 -5.0 2.0 -5.2 2.6 -4.7 3.4 -4.4 3.0 -5.0 4.2 -4.2 4.6 -3.8M90.0 168.5l0.3 -2.2 1.3 -2.9 2.0 -2.5 1.3 -3.1 3.1 -2.3 2.5 -2.7 3.6 -2.7 2.8 -3.4 5.1 -3.2 3.6 -3.1M90.7 158.3l0.4 -3.9 0.9 -4.6 0.7 -5.3 0.8 -6.2 1.3 -6.3 1.1 -7.6 0.3 -7.9 1.9 -8.3 0.9 -9.4 1.7 -9.7M90.2 182.0l0.6 -4.2 0.9 -4.7 1.5 -5.0 1.7 -6.3 2.6 -6.8 2.4 -7.5 4.0 -8.3 3.3 -8.9 5.0 -9.5 4.5 -10.2M87.4 155.8l1.3 0.2 0.7 -0.4 2.2 -2.4 1.9 -4.4 1.6 -6.1 2.0 -7.8 2.8 -9.7 2.7 -11.4 3.4 -12.7 3.2 -14.8M89.4 160.9l0.5 -2.4 1.4 -2.7 1.5 -2.9 2.5 -3.1 3.4 -3.2 4.2 -3.6 3.9 -4.2 5.9 -4.0 5.6 -4.5 6.5 -4.8M86.5 175.4l1.2 -5.3 1.2 -5.5 1.4 -5.9 2.0 -6.8 2.5 -6.8 3.2 -7.5 3.5 -7.6 4.3 -8.3 4.4 -8.3 4.6 -9.2M91.2 154.7l1.3 0.1 0.5 -1.7 1.0 -2.4 1.4 -4.2 0.8 -5.4 0.7 -7.2 1.7 -8.2 0.3 -9.8 0.8 -10.9 0.8 -12.5M89.0 172.2l0.9 -2.9 1.5 -3.4 2.0 -3.1 1.7 -3.2 3.8 -2.9 4.0 -3.0 3.2 -3.0 5.1 -2.9 4.7 -3.1 6.2 -3.1M86.6 145.9l1.0 2.7 1.0 1.1 2.8 -0.7 2.3 -2.3 2.7 -3.5 2.7 -5.2 3.0 -7.0 3.8 -8.5 3.9 -9.9 4.8 -11.4M88.1 178.9l1.6 -3.7 1.4 -3.5 2.5 -2.8 2.3 -3.5 2.5 -2.3 3.5 -2.2 3.4 -2.1 4.0 -2.2 4.2 -1.7 4.8 -1.1M90.4 168.0l1.6 -2.0 0.8 -1.7 1.8 -2.4 2.0 -1.5 2.5 -1.8 3.4 -1.9 3.1 -1.8 3.2 -1.2 3.6 -1.6 4.3 -1.5M84.5 187.0l1.5 -8.0 0.7 -8.4 2.1 -8.4 2.3 -9.1 2.5 -9.5 2.9 -9.3 2.3 -10.5 4.2 -10.4 2.8 -11.1 4.3 -10.7M91.4 168.0l1.0 -5.6 1.4 -5.2 1.7 -4.9 2.0 -5.1 2.5 -5.0 2.9 -5.4 4.0 -4.6 4.3 -5.1 4.5 -4.6 5.1 -4.9M90.8 146.8l0.7 2.3 1.3 2.6 2.1 2.2 1.4 1.0 2.9 1.1 2.2 0.6 2.3 0.1 3.7 -0.1 3.1 -0.7 4.3 -1.0M88.0 179.4l0.8 -7.1 1.7 -7.4 1.2 -7.1 2.6 -6.9 2.9 -7.4 3.6 -6.4 3.0 -6.6 4.5 -7.0 4.3 -6.4 5.4 -6.6M84.8 178.4l0.8 -4.0 1.3 -4.1 3.3 -4.0 2.0 -3.4 4.0 -3.0 4.8 -3.0 4.3 -2.5 5.3 -2.4 6.3 -2.0 6.4 -1.9M87.2 156.2l0.7 1.3 1.6 0.8 1.1 0.7 2.4 0.3 1.9 0.1 2.4 -0.1 2.8 -0.2 3.5 -0.8 3.2 -0.7 4.1 -1.4M85.9 177.5l0.7 -6.4 1.9 -7.0 2.1 -6.8 2.7 -6.8 2.8 -6.5 4.0 -6.7 4.8 -6.3 4.1 -6.6 5.6 -7.0 5.8 -6.3M90.0 170.3l0.2 -1.6 1.6 -1.9 1.6 -3.3 2.3 -4.1 3.1 -4.5 2.9 -5.6 4.2 -6.5 3.9 -6.9 4.7 -8.2 5.1 -8.5M89.3 183.4l0.5 -7.2 0.2 -7.5 1.7 -7.6 1.8 -8.2 2.2 -8.9 1.7 -8.7 2.3 -9.4 2.6 -10.0 3.0 -9.9 3.7 -10.3" fill="none" stroke="#ff7aaa" stroke-width="0.7" stroke-linejoin="round" />
<path d="M81.8 161.5l1.6 -4.8 1.0 -4.6 2.0 -5.2 3.3 -4.5 3.3 -4.7 4.3 -5.1 4.3 -4.9 5.5 -5.4 5.7 -4.9 6.1 -5.2M91.7 202.2l-0.0 -7.5 1.0 -7.4 0.6 -7.8 2.8 -8.4 1.4 -8.3 1.4 -9.3 3.1 -8.2 2.2 -9.7 3.2 -9.4 4.0 -10.2M89.5 154.6l-0.0 -8.4 1.0 -8.3 1.0 -8.7 0.8 -8.4 1.8 -8.3 1.6 -8.8 2.3 -8.9 1.9 -8.9 2.3 -8.6 3.1 -9.0" fill="none" stroke="#828282" stroke-width="0.7" stroke-linejoin="round" />
<path d="M85.4 157.1l-0.0 -1.3 1.2 -1.7 2.1 -1.7 2.9 -1.3 2.8 -1.6 2.7 -1.6 4.0 -1.4 5.2 -1.7 5.5 -1.6 5.8 -1.5M88.8 155.7l0.3 1.1 0.9 1.0 1.6 0.7 0.7 0.1 1.8 0.3 3.1 -0.8 2.5 -0.3 2.8 -0.9 3.7 -0.8 3.8 -1.6M91.9 154.5l1.0 -2.8 0.6 -3.5 1.1 -4.4 1.4 -5.0 2.3 -6.4 1.3 -6.6 1.9 -8.3 2.3 -8.7 2.4 -9.7 2.4 -10.5M90.5 186.6l0.9 -4.6 0.5 -4.9 2.6 -5.5 2.9 -5.5 3.0 -5.7 3.4 -5.6 4.6 -6.4 4.9 -6.6 4.7 -7.1 6.6 -7.3M88.2 150.1l0.7 1.6 0.7 1.1 1.9 -0.1 1.5 0.6 2.3 -0.4 4.1 -0.9 3.4 -1.3 4.5 -1.5 4.3 -2.2 5.5 -2.7M85.9 163.4l1.7 -0.8 0.8 -0.1 2.8 -0.4 2.4 -0.5 4.2 -0.8 3.3 -1.5 4.4 -1.1 5.2 -1.5 5.1 -1.2 5.9 -1.8M88.4 148.8l1.5 0.1 1.8 -0.2 2.5 -0.8 2.6 -2.3 3.7 -2.4 3.1 -3.4 3.0 -3.7 5.3 -4.5 4.6 -5.1 5.3 -6.1M86.0 176.2l1.0 -2.8 1.0 -3.7 1.4 -2.7 2.9 -3.3 2.3 -2.4 3.1 -3.2 4.4 -3.0 3.8 -3.2 4.6 -2.9 5.3 -3.3M87.4 155.0l0.9 -0.8 1.3 -1.9 1.4 -3.5 1.6 -4.0 1.0 -6.0 1.7 -7.7 1.9 -8.3 2.6 -9.9 2.1 -11.1 2.5 -12.6M91.0 162.2l-0.1 0.1 1.0 0.2 0.9 -0.0 1.6 -0.3 1.2 -0.7 2.4 -0.6 2.3 -0.7 2.6 -1.2 3.2 -0.7 3.2 -1.4M88.6 183.7l0.4 -7.3 1.5 -7.4 1.9 -8.3 1.2 -8.5 2.3 -9.0 2.7 -9.5 3.0 -9.7 2.8 -10.2 3.4 -10.8 3.7 -10.8M89.0 172.9l0.8 -4.6 2.0 -5.5 1.2 -6.1 1.1 -6.1 3.0 -6.7 2.0 -6.9 2.2 -8.6 3.0 -7.7 3.0 -8.5 2.7 -9.6M86.8 162.5l0.4 -0.6 0.8 -1.2 1.6 -0.8 2.5 -0.8 2.9 -1.4 4.0 -1.4 4.3 -1.3 4.4 -1.0 5.9 -1.2 6.0 -1.6M88.1 159.7l1.2 -0.8 1.0 -1.7 1.7 -2.4 1.8 -4.9 0.9 -5.2 1.9 -7.1 2.2 -8.0 1.7 -9.4 1.9 -10.2 2.2 -12.0M91.3 149.6l0.3 0.5 1.3 -0.7 2.1 -0.3 1.9 -1.7 3.3 -1.6 3.9 -2.9 4.0 -3.0 4.6 -3.9 5.5 -4.7 5.9 -5.3M90.0 170.5l0.7 -3.9 0.9 -3.3 0.8 -3.6 3.0 -3.1 2.3 -3.0 3.5 -3.1 3.9 -2.2 4.1 -2.2 4.6 -2.5 5.6 -1.7M84.1 179.4l1.2 -5.1 1.5 -5.9 1.5 -5.8 1.6 -6.7 2.7 -7.5 3.0 -8.1 2.2 -8.5 3.7 -9.3 3.4 -9.5 3.9 -10.5M90.1 156.1l0.7 1.2 1.1 0.9 1.2 0.9 2.9 0.1 1.6 -0.3 3.6 -0.7 2.8 -0.7 4.6 -1.5 4.0 -1.8 4.4 -2.4M84.5 158.7l1.3 -2.0 1.5 -2.1 2.3 -2.9 2.7 -3.7 3.2 -4.6 4.8 -4.9 4.5 -5.2 6.0 -6.8 5.4 -6.9 7.0 -7.5M84.6 170.1l0.5 -2.2 0.5 -2.7 2.3 -4.1 1.7 -4.2 3.4 -5.3 3.7 -6.3 4.2 -7.5 5.2 -8.0 4.8 -8.7 6.4 -10.0M89.9 187.8l0.2 -6.7 1.7 -6.5 1.6 -6.7 3.0 -7.2 3.2 -6.7 4.0 -7.0 4.8 -7.7 4.7 -7.2 6.3 -7.2 6.8 -7.7M85.9 164.3l0.3 -0.2 1.5 -1.0 1.3 -0.4 2.1 -0.5 2.7 -1.2 3.1 -1.1 4.0 -0.8 3.8 -0.9 5.0 -1.4 5.8 -1.4M87.5 181.7l0.5 -4.2 1.7 -4.9 1.8 -5.6 3.5 -6.9 1.9 -7.9 2.8 -8.5 3.2 -9.5 4.0 -10.5 5.0 -11.2 4.5 -12.3M90.5 163.1l1.2 -3.7 1.0 -3.5 0.6 -5.9 0.7 -5.6 0.5 -7.4 1.5 -8.0 0.1 -9.1 -0.0 -9.7 1.2 -10.8 -0.2 -11.9M91.3 154.3l-0.0 0.1 1.0 -0.3 0.5 -0.1 1.9 -0.4 1.7 -0.6 2.2 -0.6 2.3 -1.2 3.6 -0.5 2.5 -1.7 4.1 -1.2M89.7 154.6l0.9 1.1 0.3 0.3 1.6 -0.9 2.7 -1.8 2.5 -2.3 2.4 -3.7 3.8 -4.2 3.6 -5.3 4.7 -6.8 4.8 -6.9M89.8 165.5l0.2 -2.6 0.4 -3.5 0.9 -4.6 1.8 -5.3 1.0 -6.5 1.4 -7.3 2.6 -8.8 2.1 -9.7 2.5 -10.2 2.8 -11.7M84.4 157.2l0.5 -0.7 1.5 -1.8 1.5 -3.3 1.9 -3.4 3.1 -4.3 3.1 -5.5 4.1 -6.3 5.0 -7.0 5.5 -8.4 5.7 -9.0M86.8 166.9l1.3 -2.4 0.7 -2.0 1.8 -2.1 2.1 -2.0 1.8 -1.7 3.1 -1.6 3.3 -1.9 3.2 -1.5 4.4 -1.2 4.3 -1.6M83.6 149.2l1.7 2.3 0.7 2.1 1.8 1.4 2.9 1.1 3.3 0.8 3.9 -0.1 4.2 -0.5 4.2 -0.2 5.4 -1.7 5.5 -1.8M83.5 179.7l0.9 -4.0 1.1 -3.5 1.6 -3.3 3.2 -3.1 3.1 -2.6 4.1 -2.2 4.1 -2.2 5.5 -1.9 5.7 -1.9 6.6 -1.1M86.3 187.7l-0.1 -7.3 1.2 -7.9 1.1 -8.0 1.8 -8.1 0.9 -9.1 2.9 -9.1 1.5 -9.1 3.2 -10.0 2.9 -9.9 3.4 -10.3M87.6 159.2l0.9 0.2 1.5 -1.1 2.8 -1.9 2.1 -2.9 2.4 -4.0 4.1 -5.0 3.8 -6.1 4.6 -7.2 5.1 -7.9 5.0 -9.3M84.6 178.1l1.4 -4.7 1.7 -4.0 1.6 -3.8 2.1 -3.9 2.6 -3.2 2.2 -3.0 3.9 -3.4 3.6 -2.1 3.2 -2.2 3.3 -2.1M87.3 145.3l0.2 -0.4 0.7 -1.5 2.4 -1.8 1.8 -2.5 2.9 -3.3 4.2 -3.6 4.1 -4.6 4.7 -4.9 5.8 -5.8 6.5 -6.5M83.3 178.2l0.3 -5.9 1.6 -5.6 1.1 -5.7 2.4 -5.0 3.5 -5.1 3.6 -4.8 3.3 -4.1 5.1 -4.0 5.9 -3.8 5.6 -4.0M84.8 156.3l1.9 -2.1 1.8 -2.3 1.3 -2.3 3.3 -2.3 2.6 -1.9 3.6 -2.8 3.9 -3.1 4.8 -2.3 4.7 -2.0 5.0 -3.0M88.9 164.1l0.7 -0.9 1.7 -1.2 1.5 -1.2 1.7 -1.8 1.7 -0.9 2.7 -1.3 2.4 -1.2 3.4 -1.6 2.5 -1.5 3.4 -1.4M91.6 174.7l0.7 -6.7 0.9 -6.3 0.4 -8.0 2.1 -7.8 1.1 -8.8 1.9 -9.2 2.0 -9.5 1.6 -10.1 2.6 -10.6 2.7 -11.4M91.9 158.2l0.6 -1.6 0.3 -1.9 1.7 -1.7 2.2 -2.4 1.4 -3.0 2.7 -3.0 3.3 -3.5 3.8 -3.7 4.1 -4.0 4.4 -4.3M85.9 157.6l0.9 -1.6 1.1 -2.5 1.7 -3.0 2.0 -3.8 2.6 -4.8 3.6 -5.9 3.7 -6.0 4.8 -7.4 5.2 -7.9 5.7 -8.5M85.5 170.4l1.2 -5.6 1.2 -5.6 1.8 -4.5 2.3 -4.5 2.6 -4.0 2.9 -3.6 3.6 -3.7 3.1 -2.6 4.2 -1.9 4.9 -2.4M83.8 145.7l0.9 1.4 2.0 0.3 1.8 -1.4 2.0 -3.1 2.5 -4.4 2.4 -5.9 3.2 -7.3 3.6 -8.8 3.8 -9.9 4.1 -11.9M84.9 150.1l0.3 2.0 1.9 2.3 1.6 1.4 1.4 0.9 3.0 0.8 2.9 -0.0 3.2 0.2 3.7 -0.3 4.3 -1.1 5.2 -1.4M83.5 171.0l0.6 -2.4 1.4 -3.5 1.5 -4.6 2.1 -6.3 1.2 -6.9 3.4 -8.6 2.6 -9.8 4.1 -10.8 3.3 -12.8 4.3 -13.5M89.2 184.7l1.6 -4.8 1.0 -5.8 2.2 -6.5 1.9 -7.4 2.6 -8.3 2.9 -9.4 2.8 -9.4 2.5 -10.8 3.2 -12.0 4.1 -12.6M85.5 148.0l1.2 2.5 1.5 1.1 2.5 -0.5 2.0 -1.7 3.4 -3.2 3.5 -5.2 4.5 -6.0 4.9 -7.9 5.6 -9.3 5.6 -10.5M91.0 184.7l0.6 -6.5 0.6 -6.4 1.4 -5.9 2.9 -4.8 2.9 -4.9 3.4 -4.6 3.2 -3.3 6.0 -3.6 5.0 -2.8 5.9 -2.4M87.7 155.9l0.4 -0.7 1.2 -0.4 1.8 -1.3 2.6 -1.1 3.2 -0.9 3.5 -1.5 4.3 -1.2 5.1 -1.5 5.9 -1.6 6.0 -1.8M84.9 179.5l1.2 -5.2 1.8 -5.8 1.7 -5.6 3.2 -4.8 3.1 -5.2 3.6 -5.0 4.3 -4.5 3.9 -4.4 6.2 -5.0 5.1 -4.0M87.7 180.7l1.4 -4.7 1.0 -6.1 1.8 -6.4 1.5 -6.5 2.8 -7.5 2.9 -7.7 2.2 -8.2 4.4 -9.2 3.0 -8.9 4.4 -10.2M84.1 157.1l1.1 -1.4 1.8 -2.6 1.7 -2.8 2.8 -3.3 2.7 -3.9 4.0 -4.7 3.6 -5.2 3.7 -6.0 5.3 -6.3 5.2 -6.9M90.4 182.3l1.7 -8.0 1.2 -7.9 1.7 -7.7 2.5 -7.6 2.6 -7.9 2.8 -7.9 2.5 -7.6 3.1 -7.5 4.3 -7.6 3.7 -7.8" fill="none" stroke="#ff7aaa" stroke-width="0.7" stroke-linejoin="round" />
<path d="M88.9 168.4l0.7 -2.0 1.3 -2.1 1.9 -2.2 2.8 -2.4 4.0 -2.2 4.5 -2.2 5.1 -2.3 6.0 -2.0 7.2 -2.2 7.5 -2.7M82.7 159.9l0.7 -5.8 1.5 -5.8 1.7 -5.7 1.9 -6.7 3.0 -6.4 3.2 -6.9 3.3 -7.2 4.3 -7.8 4.4 -7.7 5.6 -7.9M85.6 185.4l1.7 -3.1 1.8 -3.6 2.2 -3.2 3.2 -4.3 3.8 -3.5 4.6 -4.2 4.7 -4.1 5.7 -4.4 6.1 -4.7 6.5 -4.8" fill="none" stroke="#828282" stroke-width="0.7" stroke-linejoin="round" />
<path d="M81.4 132.7h0.8M81.8 150.5h0.8M83.2 140.8h0.8M81.9 161.2h0.8M81.3 186.9h0.8M85.7 101.4h0.8M87.0 188.5h0.8M81.9 173.3h0.8M82.9 113.8h0.8M82.0 117.5h0.8M83.5 123.9h0.8M86.6 125.7h0.8M81.8 174.2h0.8M86.1 144.6h0.8M87.6 98.3h0.8M84.0 148.8h0.8M87.3 133.4h0.8M84.0 145.3h0.8M82.1 185.5h0.8M87.5 139.1h0.8M86.4 174.7h0.8M81.9 176.0h0.8M84.4 158.9h0.8M87.8 189.8h0.8M86.6 132.5h0.8M83.7 129.5h0.8M87.2 163.3h0.8M82.2 169.3h0.8M87.6 101.3h0.8M85.0 146.0h0.8M87.6 161.7h0.8M85.2 164.1h0.8M85.8 138.3h0.8M84.9 164.7h0.8M83.4 186.8h0.8M88.0 180.2h0.8M83.7 165.1h0.8M83.5 145.3h0.8M86.3 171.2h0.8M83.5 112.0h0.8M82.0 167.3h0.8M84.8 166.3h0.8M83.4 110.8h0.8M81.6 180.3h0.8M87.9 140.3h0.8M86.5 122.5h0.8M87.5 133.7h0.8M86.2 184.1h0.8M87.5 114.4h0.8M86.6 127.7h0.8M85.2 158.2h0.8M86.3 132.3h0.8M87.1 188.1h0.8M82.7 173.8h0.8M86.2 118.4h0.8M87.2 138.6h0.8M87.8 142.7h0.8M87.5 96.3h0.8M86.2 122.7h0.8M85.4 151.1h0.8M86.3 137.1h0.8M83.4 176.8h0.8M84.7 163.4h0.8M84.5 158.5h0.8M82.0 159.7h0.8M86.9 133.6h0.8M86.0 111.8h0.8M84.3 138.4h0.8M86.0 119.7h0.8M83.3 110.5h0.8M84.1 103.9h0.8M84.6 101.2h0.8M81.7 143.1h0.8M83.6 104.3h0.8M84.5 182.7h0.8M82.2 153.1h0.8M81.4 167.8h0.8M85.2 187.5h0.8M87.1 133.9h0.8M83.4 113.4h0.8M87.1 171.1h0.8M82.1 123.3h0.8M84.1 161.3h0.8M87.9 180.3h0.8M85.5 189.6h0.8M86.1 188.0h0.8M87.7 117.7h0.8M84.8 100.0h0.8M85.6 117.7h0.8M85.0 146.6h0.8M83.6 171.9h0.8M87.3 141.9h0.8M82.2 130.6h0.8M84.1 142.8h0.8M84.8 145.1h0.8M83.8 128.6h0.8M85.3 181.7h0.8M81.6 173.9h0.8M81.7 151.4h0.8M85.6 113.7h0.8M85.3 165.3h0.8M82.1 132.8h0.8M85.2 179.2h0.8M87.4 98.8h0.8M81.1 101.8h0.8M87.4 132.3h0.8M82.6 125.1h0.8M85.6 161.2h0.8M84.3 187.6h0.8M84.9 135.1h0.8M82.7 102.1h0.8M82.5 167.9h0.8M83.3 177.3h0.8M82.9 114.1h0.8M83.9 118.6h0.8M87.9 162.4h0.8M83.9 134.1h0.8M83.1 167.2h0.8M86.0 123.1h0.8M87.2 103.1h0.8M82.8 109.1h0.8M82.3 146.3h0.8M87.7 106.3h0.8M85.2 141.8h0.8M86.1 188.4h0.8M86.2 163.3h0.8M87.2 188.3h0.8M85.8 120.1h0.8M80.9 117.0h0.8M87.0 128.5h0.8M87.6 119.1h0.8M87.0 179.6h0.8M82.1 144.3h0.8M80.9 188.1h0.8M86.9 169.4h0.8M86.8 145.0h0.8M84.0 154.5h0.8M85.1 167.9h0.8M84.9 182.3h0.8M87.3 137.6h0.8M82.2 161.1h0.8M85.2 145.4h0.8M83.9 138.2h0.8M84.8 164.4h0.8M86.8 108.2h0.8M81.7 161.0h0.8M86.3 169.3h0.8M85.1 111.8h0.8M85.9 97.1h0.8M84.6 140.5h0.8M87.5 164.8h0.8M82.3 114.6h0.8M87.2 171.0h0.8M84.4 130.8h0.8M82.5 129.0h0.8M81.5 164.2h0.8M83.3 110.5h0.8M86.1 171.9h0.8M81.3 140.8h0.8M83.3 172.0h0.8M81.0 148.9h0.8M85.8 160.2h0.8M83.5 127.1h0.8M86.3 106.6h0.8M87.0 153.3h0.8M82.5 152.3h0.8M86.7 188.7h0.8M84.6 182.8h0.8M82.8 141.4h0.8M86.5 120.2h0.8M80.8 171.9h0.8M86.1 137.0h0.8M84.7 186.8h0.8M82.9 170.1h0.8M82.2 156.7h0.8M82.9 180.6h0.8M82.4 161.7h0.8M85.0 168.0h0.8M82.8 146.6h0.8M84.0 160.5h0.8M86.7 181.1h0.8M81.0 161.2h0.8M83.8 154.2h0.8M84.1 139.1h0.8M85.5 146.0h0.8M86.4 177.1h0.8M83.2 109.7h0.8M87.9 129.4h0.8M86.8 132.2h0.8M81.7 112.5h0.8M84.8 148.8h0.8M82.4 118.6h0.8M85.1 134.0h0.8M85.6 184.6h0.8M87.6 111.2h0.8M85.3 120.5h0.8M85.2 150.3h0.8M81.7 163.9h0.8M84.2 158.1h0.8M81.9 141.6h0.8M86.5 129.7h0.8M85.6 162.7h0.8M85.2 145.5h0.8M83.3 98.6h0.8M86.2 147.1h0.8M81.8 115.1h0.8M86.6 99.6h0.8M84.2 109.8h0.8M82.3 171.0h0.8M83.3 121.8h0.8M83.8 151.4h0.8M82.8 184.4h0.8M81.7 171.1h0.8M82.6 129.3h0.8M81.1 151.2h0.8M81.4 144.7h0.8M88.0 175.8h0.8M87.3 139.6h0.8M87.4 169.7h0.8M83.2 128.9h0.8M80.9 142.6h0.8M82.6 95.3h0.8M83.2 147.1h0.8M83.3 145.9h0.8M86.8 107.8h0.8M87.4 143.9h0.8M84.4 125.3h0.8M81.4 133.3h0.8M83.5 118.3h0.8M82.2 137.5h0.8M84.3 109.6h0.8M83.7 124.0h0.8M86.5 123.4h0.8M83.9 132.4h0.8M83.7 184.5h0.8M83.9 116.0h0.8M83.7 126.6h0.8M84.5 101.7h0.8M82.8 182.4h0.8M84.7 185.5h0.8M84.5 115.0h0.8M82.1 177.4h0.8M83.6 163.3h0.8M86.7 95.9h0.8M81.6 176.9h0.8M86.6 101.6h0.8M86.6 126.7h0.8M86.3 156.7h0.8M83.8 159.1h0.8M84.5 158.7h0.8M86.9 100.2h0.8M85.7 153.8h0.8M81.0 100.5h0.8M85.5 116.1h0.8M87.6 182.2h0.8M81.9 178.1h0.8M86.3 118.1h0.8M84.2 174.3h0.8M84.0 127.3h0.8M82.8 151.3h0.8M87.8 137.5h0.8M86.7 160.9h0.8M85.3 185.3h0.8M82.0 180.7h0.8M87.6 158.9h0.8M87.2 174.4h0.8M84.1 114.1h0.8M86.9 106.8h0.8M87.2 179.0h0.8M84.9 135.4h0.8M87.0 182.7h0.8M82.0 171.7h0.8M87.2 153.4h0.8M84.2 117.0h0.8M87.5 164.5h0.8M86.7 174.7h0.8M83.5 151.1h0.8M84.3 124.6h0.8M81.7 166.7h0.8M84.4 157.4h0.8M87.9 95.2h0.8M85.9 133.3h0.8M84.7 118.4h0.8M80.9 145.3h0.8M82.0 131.8h0.8M83.0 106.1h0.8M81.1 100.3h0.8M85.4 171.1h0.8M85.8 160.3h0.8M84.0 152.8h0.8M85.4 117.0h0.8M84.4 104.7h0.8M82.0 162.1h0.8M83.0 112.6h0.8M83.8 134.8h0.8M85.2 104.0h0.8M84.6 100.3h0.8M82.1 105.8h0.8M86.0 135.8h0.8M85.0 148.4h0.8M81.1 129.5h0.8M81.2 127.7h0.8M86.9 137.5h0.8M80.8 154.6h0.8M86.1 139.6h0.8M86.9 143.9h0.8M84.4 165.9h0.8M85.2 176.2h0.8M86.3 120.5h0.8M82.0 104.9h0.8M85.9 135.1h0.8M87.3 102.9h0.8M81.9 123.0h0.8M82.9 145.6h0.8M83.7 175.4h0.8M83.2 173.9h0.8M82.2 149.8h0.8M81.9 150.1h0.8M84.3 138.5h0.8M81.5 95.8h0.8M86.5 131.2h0.8M87.5 161.5h0.8M81.6 116.4h0.8M86.2 127.9h0.8M84.6 171.0h0.8M83.6 111.7h0.8M84.3 96.6h0.8M83.1 175.8h0.8M86.5 137.6h0.8M84.3 151.7h0.8M87.7 136.3h0.8M85.3 166.3h0.8M82.0 118.2h0.8M82.1 101.8h0.8M87.5 151.9h0.8M87.6 95.3h0.8M81.2 118.6h0.8M80.8 138.6h0.8M87.1 99.0h0.8M84.4 109.3h0.8M81.8 108.1h0.8M85.4 153.6h0.8M84.1 189.5h0.8M85.4 137.0h0.8M82.6 112.4h0.8M87.3 164.8h0.8M83.4 142.8h0.8M83.9 164.1h0.8M87.3 162.1h0.8M84.7 162.7h0.8M82.5 130.1h0.8M86.4 142.4h0.8M81.2 109.1h0.8M83.6 102.7h0.8M84.8 118.6h0.8M81.5 118.4h0.8M82.5 168.0h0.8M85.9 108.8h0.8M86.0 145.2h0.8M83.5 169.4h0.8M81.4 141.1h0.8M84.6 115.5h0.8M87.6 110.2h0.8M86.4 96.8h0.8M83.2 109.0h0.8M83.2 102.0h0.8M83.1 114.1h0.8M85.8 133.4h0.8M81.8 121.6h0.8M81.2 101.6h0.8M87.3 176.7h0.8M84.3 177.6h0.8M85.6 149.2h0.8M84.8 116.9h0.8M87.5 168.4h0.8M81.9 102.7h0.8M87.2 180.3h0.8M84.6 173.9h0.8M87.5 148.2h0.8M84.3 167.0h0.8M82.0 144.7h0.8M86.6 172.9h0.8M88.0 169.5h0.8M84.7 143.5h0.8M85.6 116.5h0.8M87.1 126.1h0.8M85.7 148.4h0.8M85.0 161.3h0.8M85.5 149.6h0.8M83.9 147.4h0.8M85.8 114.1h0.8M86.1 122.2h0.8M84.2 169.8h0.8M84.2 115.7h0.8M81.2 165.1h0.8M87.2 188.1h0.8M83.3 116.3h0.8M82.8 186.1h0.8M81.9 187.0h0.8M85.5 169.2h0.8M82.2 131.7h0.8M87.4 188.9h0.8M82.8 176.9h0.8M83.0 116.5h0.8M85.2 171.0h0.8M81.3 152.9h0.8M81.4 119.3h0.8M86.0 110.7h0.8M82.0 170.6h0.8M80.8 126.8h0.8M86.6 107.4h0.8M83.5 107.1h0.8M83.5 157.0h0.8M87.7 172.3h0.8M86.4 179.3h0.8M87.5 147.0h0.8M87.1 150.3h0.8M81.5 135.2h0.8M86.9 108.0h0.8M85.9 133.7h0.8M85.8 106.2h0.8M86.4 151.0h0.8M82.5 116.5h0.8M87.5 180.9h0.8M81.3 186.5h0.8M86.9 144.2h0.8M86.9 124.6h0.8M86.1 139.4h0.8M83.0 105.6h0.8M82.7 171.8h0.8M81.7 145.6h0.8M82.4 138.2h0.8M82.5 95.9h0.8M84.2 165.6h0.8M83.4 170.5h0.8M87.7 137.1h0.8M81.0 105.2h0.8M83.1 183.4h0.8M84.4 151.0h0.8M86.5 117.2h0.8M83.8 153.4h0.8M82.3 156.8h0.8M87.8 109.6h0.8M84.3 121.1h0.8M85.5 144.4h0.8M85.9 152.3h0.8M81.2 141.2h0.8M86.5 130.6h0.8M81.0 175.4h0.8M81.7 117.9h0.8M86.8 160.5h0.8M82.5 170.9h0.8M83.7 140.2h0.8M85.6 97.5h0.8M86.4 167.5h0.8M81.2 130.0h0.8M83.8 111.6h0.8M80.9 122.8h0.8M81.7 156.8h0.8M82.2 153.2h0.8M85.3 96.9h0.8M87.5 144.0h0.8M85.2 142.5h0.8M86.9 116.9h0.8M83.5 144.7h0.8M87.2 131.9h0.8M83.2 189.1h0.8M81.5 163.1h0.8M84.3 159.4h0.8M86.7 116.2h0.8M85.9 178.9h0.8M82.4 147.4h0.8M84.1 150.1h0.8M83.6 97.2h0.8M85.1 129.0h0.8M86.9 177.1h0.8M82.1 112.7h0.8M83.7 153.8h0.8M85.5 149.1h0.8M87.3 162.5h0.8M83.9 123.8h0.8M81.2 168.6h0.8M87.0 127.7h0.8M84.6 184.2h0.8M82.3 156.7h0.8M83.3 146.7h0.8M83.6 155.9h0.8M81.1 138.7h0.8M85.3 140.4h0.8M84.9 128.6h0.8M84.0 148.1h0.8M87.4 116.3h0.8M82.0 102.7h0.8M85.0 176.8h0.8M83.0 107.0h0.8M85.0 154.8h0.8M86.0 104.1h0.8M87.4 116.5h0.8M86.6 171.8h0.8M82.6 108.7h0.8" fill="none" stroke="#808080" stroke-width="0.8" />
<path d="M125.9 122.2l7.3 -4.8 8.3 -5.1 7.0 -4.3 8.2 -4.8 7.7 -4.4 7.4 -4.9M124.1 116.6l7.5 -6.2 8.2 -5.5 7.3 -5.9 8.1 -5.8 7.8 -5.0 7.6 -6.3M126.5 123.3l9.5 -4.8 7.7 -5.9 8.4 -4.5 8.1 -5.3 9.8 -4.7 8.1 -5.2M105.2 93.6l8.5 -6.6 8.3 -6.2 8.2 -6.3 8.5 -6.4 7.8 -6.7 8.6 -6.2M117.7 103.0l9.6 -5.9 9.9 -5.8 9.7 -5.5 9.7 -6.8 9.6 -4.8 9.9 -6.1M127.4 87.5l5.8 -8.7 5.4 -8.9 5.4 -9.3 5.5 -8.9M111.6 93.9l9.5 -11.2 8.0 -10.3 9.3 -11.0 9.1 -10.4M127.2 73.9l6.1 -6.4 5.7 -7.2 5.8 -7.8 5.6 -6.8M110.1 105.5l10.4 -5.0 11.4 -5.8 10.1 -5.5 10.6 -4.9 10.6 -4.7 10.4 -5.8M121.2 143.0l9.4 -5.3 10.0 -5.5 9.7 -6.2 9.7 -5.6 9.7 -5.6 9.8 -5.1M103.0 100.3l1.3 -2.5 1.5 -2.5 1.6 -2.8 1.8 -2.4M122.2 112.1l9.4 -8.1 9.1 -6.6 9.9 -7.9 9.3 -6.8 9.6 -7.9 9.2 -7.3M111.2 108.6l8.0 -3.1 7.9 -4.2 8.0 -2.9 8.0 -3.5 8.4 -3.2 7.6 -3.5M110.2 97.9l6.7 -7.5 6.8 -7.6 7.3 -7.6 6.2 -7.2 7.5 -7.2 6.9 -7.7M127.3 85.9l5.5 -9.5 5.5 -8.7 5.3 -9.6 5.4 -9.1M119.9 104.5l8.9 -7.6 8.4 -6.8 8.4 -6.8 8.3 -7.9 8.8 -7.0 8.4 -7.2M116.3 105.9l7.3 -8.4 7.1 -7.8 7.7 -9.4 7.1 -7.3 7.1 -8.6 7.9 -8.7M117.5 106.9l10.8 -3.3 9.8 -4.1 10.5 -3.6 10.8 -3.5 9.9 -3.6 10.6 -3.8M117.4 133.9l9.9 -5.0 10.3 -5.5 9.1 -5.1 10.4 -5.1 9.6 -5.5 10.0 -5.0M109.6 88.5l1.3 -3.0 1.5 -2.4 1.5 -2.4 1.3 -2.7M117.1 110.0l8.6 -3.8 8.5 -3.1 8.1 -4.4 9.1 -3.4 7.6 -3.6 8.5 -3.4M102.2 89.9l1.8 -2.5 1.4 -2.1 2.3 -2.9 1.8 -2.1M112.0 102.6l11.5 -6.3 9.8 -5.8 12.1 -6.2 10.9 -6.4 11.0 -5.8 11.3 -6.1M119.5 83.8l5.6 -8.3 6.1 -8.0 5.7 -7.7 5.8 -8.2M125.0 128.6l8.6 -5.7 9.0 -6.7 8.1 -6.2 9.8 -6.7 8.2 -6.1 9.1 -6.6M114.9 113.7l9.6 -6.0 10.1 -5.8 9.2 -6.1 9.8 -6.4 10.0 -5.7 9.3 -5.7M126.1 138.6l5.4 -2.6 6.2 -2.1 6.3 -2.7 6.0 -2.1 5.2 -2.2 6.1 -2.5M112.2 111.8l10.2 -7.6 9.2 -8.5 9.4 -8.5 10.0 -7.6 10.5 -7.9 9.4 -8.1M108.4 98.0l7.3 -11.0 6.5 -11.5 7.0 -10.9 7.0 -11.6M123.6 133.6l8.8 -2.7 9.6 -3.5 9.7 -2.5 8.2 -3.7 9.7 -2.6 9.2 -2.9M114.0 113.3l10.5 -8.6 10.4 -8.5 10.6 -9.2 10.6 -8.8 10.2 -8.5 10.4 -9.1M102.6 90.5l10.6 -4.3 10.1 -4.4 10.4 -5.0 10.6 -4.1 10.7 -3.8 10.3 -4.6M105.6 91.0l1.4 -2.7 2.0 -2.7 1.1 -2.8 1.8 -2.0M118.9 100.0l7.4 -6.8 8.2 -6.1 7.4 -6.2 8.5 -6.6 7.2 -5.6 7.7 -6.5M105.4 88.0l3.3 -5.2 3.9 -3.5 3.4 -4.5 3.8 -4.7M112.8 83.7l5.4 -10.2 6.0 -10.5 5.3 -10.0 5.4 -10.6M118.2 120.3l9.6 -5.1 9.9 -5.2 8.6 -5.7 10.6 -4.3 9.0 -5.6 9.4 -5.1M120.1 117.4l8.9 -9.5 9.5 -8.1 8.3 -8.6 8.9 -8.7 9.7 -9.5 8.7 -8.9M111.2 88.4l8.2 -10.7 8.3 -10.7 7.5 -10.3 8.4 -11.0M119.3 122.2l9.3 -5.0 9.0 -5.3 9.6 -6.4 8.8 -5.3 9.0 -4.8 9.4 -5.8M119.2 100.8l9.2 -4.6 8.8 -3.6 8.4 -4.6 9.5 -3.2 9.1 -3.7 8.7 -4.6M120.4 119.6l8.0 -4.5 7.7 -4.9 7.6 -4.6 9.0 -5.5 7.9 -4.9 7.7 -4.6M114.4 96.0l5.8 -6.8 6.7 -7.2 5.3 -7.0 6.5 -7.7 5.7 -7.8 6.2 -6.3M104.2 99.2l1.6 -2.8 1.3 -2.3 1.6 -2.9 1.3 -2.5M105.9 97.9l6.5 -4.5 6.5 -5.9 6.5 -4.6 6.3 -5.8 7.1 -4.5 6.1 -5.9M108.0 95.6l7.3 -7.3 7.3 -7.1 7.9 -6.7 7.0 -6.4 7.1 -7.9 7.8 -6.5M118.8 124.3l9.9 -10.9 10.3 -9.9 9.1 -10.7 10.6 -10.4 9.3 -9.7 9.9 -10.8M120.3 133.0l8.0 -4.8 7.2 -4.8 8.6 -4.9 6.9 -4.4 8.3 -5.0 7.9 -4.8M106.2 97.0l7.3 -6.4 8.0 -7.0 7.7 -6.8 8.1 -5.9 8.6 -6.0 7.2 -6.9M120.7 103.9l8.5 -12.1 8.1 -11.7 7.7 -13.1 8.0 -11.5M120.6 116.3l3.5 -2.0 5.1 -0.9 3.9 -2.7 3.9 -2.0 3.9 -1.1 4.6 -1.8M113.7 134.5l10.7 -6.3 10.8 -7.5 10.3 -6.6 10.1 -7.4 9.9 -6.6 11.0 -6.7M113.3 87.8l6.1 -4.8 6.6 -5.6 6.4 -4.7 6.5 -5.3 6.0 -5.3 6.8 -4.8M120.0 118.5l8.1 -6.0 8.4 -5.7 8.7 -6.2 8.0 -6.3 8.0 -5.3 8.4 -6.2M116.7 101.5l6.2 -4.6 6.4 -4.0 7.1 -4.5 6.1 -3.9 5.9 -4.3 6.6 -4.2M110.8 102.1l6.6 -8.2 8.2 -8.2 7.0 -8.2 6.9 -7.8 7.1 -8.4 7.4 -7.8M112.6 94.4l8.3 -11.7 7.9 -11.3 8.6 -11.2 8.0 -12.1M125.7 115.5l7.3 -5.2 8.2 -4.4 6.7 -4.3 7.8 -5.0 8.2 -4.1 6.9 -4.7M105.6 86.9l4.6 -6.3 4.4 -6.3 4.4 -6.8 4.3 -6.3M109.5 100.2l7.2 -7.0 8.2 -7.0 7.2 -7.0 7.6 -7.4 7.6 -6.5 7.5 -7.3M109.2 104.0l11.9 -6.4 11.1 -5.0 12.2 -6.6 12.5 -5.5 10.9 -5.9 11.8 -6.3M122.1 94.2l7.9 -11.3 8.4 -11.8 8.0 -11.2 8.1 -11.5M110.8 82.1l6.3 -8.6 7.7 -9.1 7.1 -8.7 6.5 -8.8M110.9 105.4l5.9 -2.9 5.6 -2.2 5.7 -2.1 5.6 -2.3 5.8 -3.2 5.4 -1.7M115.3 132.4l10.7 -2.9 10.6 -3.4 11.1 -2.5 11.2 -3.0 10.3 -2.6 10.7 -3.6M109.1 105.6l11.8 -5.1 10.4 -5.8 10.8 -6.0 11.2 -5.3 11.3 -5.4 10.7 -5.6M126.6 90.7l5.4 -9.3 5.2 -10.2 5.0 -9.1 5.4 -10.5M108.2 92.5l6.2 -10.5 5.3 -9.6 6.3 -9.3 5.1 -10.5M114.8 110.1l9.0 -3.4 8.8 -4.2 8.6 -3.2 8.7 -3.7 8.6 -4.4 8.7 -3.5M110.9 103.9l11.1 -5.5 11.8 -5.3 11.0 -4.7 11.5 -5.6 11.5 -4.9 11.2 -5.5M119.4 145.3l9.9 -4.9 10.2 -4.6 9.7 -4.5 9.7 -5.0 10.2 -4.8 9.5 -5.1M103.7 84.2l7.9 -10.2 8.3 -9.2 8.0 -9.7 8.1 -9.5M110.4 96.8l9.8 -6.8 9.1 -7.0 9.5 -6.2 8.5 -6.5 9.9 -6.2 9.6 -7.0M121.3 105.0l7.4 -5.4 7.6 -6.4 7.6 -5.0 8.1 -6.2 7.2 -5.3 7.9 -5.6M127.5 85.4l4.2 -7.7 4.3 -8.1 4.0 -7.9 4.3 -7.5M110.9 89.3l2.1 -4.2 1.9 -2.9 2.5 -4.6 2.3 -3.6M116.4 114.3l10.6 -5.9 10.4 -5.6 10.4 -6.0 10.4 -5.7 10.3 -7.0 10.7 -5.2M116.4 98.2l4.8 -1.4 4.8 -2.3 5.0 -2.5 4.7 -2.2 4.5 -1.5 4.9 -2.1M125.5 129.3l8.1 -2.1 8.7 -2.6 8.1 -1.9 8.4 -2.7 8.7 -2.3 8.2 -2.1M118.6 110.3l8.0 -8.4 7.6 -8.2 7.8 -8.4 8.0 -8.7 7.4 -8.5 8.0 -8.6M113.9 97.3l10.3 -3.6 10.5 -4.3 10.3 -4.1 10.8 -3.4 10.1 -4.9 10.6 -3.8M107.5 104.0l6.7 -3.9 7.1 -4.8 6.5 -3.3 7.1 -4.4 7.3 -4.7 6.6 -3.4M103.5 92.8l8.3 -5.8 7.9 -6.2 7.9 -5.6 8.9 -6.0 8.4 -5.4 7.3 -6.0M124.1 131.9l8.7 -4.0 9.1 -3.8 8.0 -3.7 9.6 -4.0 8.7 -4.7 8.8 -3.7M115.4 111.1l7.2 -2.3 7.6 -2.4 7.4 -2.7 6.8 -1.5 7.4 -3.0 7.3 -2.6M123.8 96.7l7.2 -11.1 6.8 -10.7 6.6 -11.0 7.2 -11.1M117.2 100.0l6.5 -11.6 7.1 -11.5 7.8 -10.8 6.6 -11.9M123.2 131.0l6.7 -5.0 7.0 -4.4 6.4 -4.6 7.3 -4.1 6.4 -4.4 6.8 -4.8M115.8 104.3l5.5 -3.4 4.5 -2.9 4.7 -5.4 4.4 -2.5 5.0 -3.4 5.2 -3.4M115.2 146.5l10.5 -3.8 10.2 -3.5 9.6 -3.2 10.7 -4.5 10.0 -2.8 10.2 -4.0M114.2 105.1l5.1 -2.4 6.2 -2.8 5.3 -2.4 5.8 -2.6 5.3 -2.5 5.9 -2.8M116.4 116.0l10.4 -5.2 10.6 -4.9 10.6 -5.3 10.8 -4.7 10.1 -5.7 10.6 -4.6M116.3 97.6l9.9 -6.1 9.8 -6.1 10.6 -5.8 10.5 -5.7 10.2 -6.7 10.1 -5.6M106.3 100.9l4.0 -7.7 3.8 -7.3 4.4 -7.5 3.8 -7.2M113.1 106.7l9.9 -4.4 9.0 -4.1 9.5 -3.1 9.7 -4.7 9.5 -3.5 9.5 -4.4M111.7 106.9l9.2 -5.8 10.5 -5.9 9.0 -5.9 9.4 -5.7 9.5 -6.5 10.0 -6.4M111.6 109.8l9.6 -7.8 9.9 -8.2 9.4 -7.4 9.6 -8.2 9.4 -8.0 9.8 -8.3M110.5 101.3l8.4 -7.5 6.6 -7.9 7.9 -7.0 7.0 -8.4 8.6 -7.7 7.3 -7.5M124.3 118.7l7.4 -3.6 8.2 -3.3 8.7 -3.0 7.6 -4.1 7.9 -3.6 7.9 -3.1M113.7 106.5l10.3 -5.5 9.7 -5.8 10.2 -6.0 9.9 -5.2 10.3 -6.2 9.5 -5.4M115.8 99.6l6.0 -3.0 6.4 -2.1 5.7 -1.9 6.1 -2.9 5.8 -2.2 6.1 -2.7M125.2 85.0l6.1 -9.3 6.6 -9.2 6.5 -9.6 6.3 -9.3M124.6 89.3l5.6 -9.5 5.4 -9.2 5.9 -9.3 5.8 -9.5M121.1 112.6l9.8 -7.1 9.7 -6.9 9.1 -7.6 9.4 -6.6 9.4 -7.6 9.3 -6.9M114.7 107.8l7.5 -7.9 6.4 -9.5 7.9 -7.8 7.0 -8.7 6.8 -8.2 7.1 -8.1M104.4 97.2l2.0 -2.6 1.0 -2.8 0.9 -1.9 2.4 -3.0M118.3 148.5l10.2 -6.6 10.1 -6.6 9.4 -5.9 10.1 -7.5 10.2 -6.7 9.9 -6.6M107.6 95.6l6.3 -10.1 7.2 -11.2 7.1 -11.1 6.5 -10.6M117.7 134.2l9.9 -7.0 10.4 -6.5 10.0 -7.0 9.1 -7.5 10.2 -6.3 10.4 -7.4M108.1 100.8l9.0 -7.0 8.9 -7.7 7.8 -7.7 9.0 -7.6 8.4 -7.2 9.2 -7.9M109.0 104.6l6.0 -2.7 5.4 -2.8 6.5 -3.5 5.7 -2.9 6.2 -2.3 6.0 -3.4M120.7 132.2l6.4 -2.1 6.5 -1.1 7.4 -2.1 6.5 -1.7 7.4 -2.0 6.3 -1.6M107.7 88.7l5.8 -8.0 5.8 -9.0 5.8 -7.9 5.7 -8.6M114.8 113.3l9.3 -8.0 9.8 -7.2 9.9 -7.4 9.5 -7.2 9.5 -7.4 9.8 -7.3M122.0 113.9l8.4 -3.7 8.7 -4.1 9.1 -3.5 8.8 -4.0 8.5 -4.7 8.5 -3.3M122.2 106.3l7.1 -8.3 7.2 -8.0 7.5 -8.4 7.0 -8.9 7.7 -7.8 7.1 -8.2M119.9 142.7l6.9 -4.2 7.6 -4.2 7.3 -4.4 6.7 -3.6 8.0 -4.9 7.3 -4.7M110.1 91.0l10.5 -5.5 10.4 -4.2 10.0 -4.5 10.2 -4.8 10.6 -4.8 10.1 -4.6M124.3 128.1l7.5 -3.1 7.7 -3.3 7.7 -2.8 7.3 -3.6 7.6 -2.6 7.4 -3.3M120.9 126.7l9.2 -4.1 9.8 -3.7 9.1 -3.0 9.5 -4.7 9.6 -3.1 9.5 -4.1M115.1 85.3l3.9 -7.8 4.1 -7.6 4.7 -7.5 4.0 -7.9M116.1 132.7l8.5 -3.5 10.0 -2.9 8.1 -3.5 9.4 -2.8 8.6 -3.6 9.0 -3.2M122.2 136.2l7.0 -2.3 8.9 -2.7 8.2 -1.3 7.5 -2.1 7.8 -2.2 7.9 -2.2M105.7 87.1l8.2 -3.7 7.9 -4.2 8.6 -3.2 8.1 -3.8 8.1 -3.7 8.5 -3.4M116.1 129.1l8.3 -3.7 8.3 -3.6 9.2 -3.8 8.2 -4.1 9.0 -3.8 8.3 -3.6M125.0 134.8l8.9 -3.4 8.3 -2.6 8.8 -2.8 8.8 -3.1 8.5 -2.9 8.7 -2.9M124.3 142.8l7.5 -2.9 7.1 -4.6 7.9 -3.1 6.7 -3.6 7.4 -4.0 7.6 -3.0M118.8 113.6l8.6 -3.3 8.6 -3.3 8.9 -2.9 9.4 -2.9 8.7 -3.3 8.5 -3.4M110.7 103.9l9.1 -8.1 10.0 -7.5 9.7 -7.8 9.8 -8.2 9.6 -7.1 9.3 -8.0M111.0 94.0l8.9 -4.2 9.2 -4.6 8.9 -4.5 8.7 -4.3 8.9 -4.0 9.4 -4.3M122.7 113.6l7.6 -8.6 7.8 -9.1 7.1 -8.5 7.7 -8.6 7.8 -9.0 7.2 -8.4M117.9 108.6l9.3 -4.9 8.2 -6.7 8.9 -5.1 8.3 -5.1 9.4 -5.1 8.5 -6.0M119.4 101.6l8.4 -6.2 9.5 -5.2 9.4 -6.2 8.3 -5.7 9.0 -5.6 8.9 -6.1M107.2 92.6l7.3 -11.0 7.9 -11.8 6.0 -11.1 7.5 -11.2M122.6 127.1l9.0 -10.3 8.8 -10.5 9.4 -10.6 9.6 -10.3 8.7 -10.7 9.0 -10.3M104.9 86.6l5.4 -7.9 6.2 -8.0 5.2 -7.4 6.0 -8.1M116.3 143.0l6.4 -3.9 6.8 -2.8 6.4 -3.5 6.2 -3.5 6.3 -3.6 6.9 -2.9M124.2 115.1l7.1 -4.2 8.1 -4.1 6.9 -4.3 8.2 -3.5 6.8 -4.3 7.5 -4.3M117.9 97.4l6.2 -7.3 7.1 -5.2 6.0 -6.9 6.9 -5.8 6.2 -7.0 6.9 -6.3M113.3 86.2l6.9 -8.6 6.5 -10.1 7.3 -8.6 6.5 -9.1M104.0 94.7l1.2 -2.3 1.4 -3.1 2.0 -2.8 1.2 -2.3M108.1 87.4l2.2 -2.9 2.1 -3.3 2.5 -2.7 1.8 -3.8M101.4 88.4l7.7 -9.6 8.1 -8.7 7.6 -9.8 7.4 -8.7M112.1 106.5l8.3 -5.6 8.2 -5.9 8.5 -5.9 8.6 -5.2 8.4 -5.4 8.3 -6.3M112.6 97.0l9.3 -6.2 9.6 -5.4 9.9 -5.9 8.8 -5.9 9.8 -6.2 9.5 -5.6M119.1 146.7l9.3 -4.6 9.3 -4.4 8.7 -4.1 9.7 -5.0 9.8 -3.5 9.0 -5.2M116.5 148.0l10.8 -5.6 10.3 -5.3 9.9 -5.4 11.6 -5.2 10.0 -5.6 10.7 -5.2M111.2 101.2l8.0 -6.3 8.4 -6.4 7.7 -6.9 8.5 -6.5 8.0 -5.6 8.2 -6.6M115.3 141.6l9.8 -5.9 8.7 -5.2 8.9 -5.6 10.7 -6.2 9.1 -5.6 9.1 -6.0M118.3 121.1l8.6 -3.4 8.2 -4.0 8.5 -3.6 9.0 -3.3 9.0 -3.9 8.3 -3.6M108.5 96.6l7.4 -12.5 7.0 -13.3 7.4 -12.7 7.2 -12.6M117.7 116.0l9.1 -6.6 8.3 -6.5 9.7 -6.8 8.9 -6.2 8.8 -6.7 9.2 -6.9M105.6 87.3l2.0 -2.5 1.4 -2.4 0.9 -2.5 2.2 -2.7M108.5 93.4l9.0 -4.5 9.8 -4.0 8.8 -3.6 8.9 -4.6 8.5 -4.0 9.4 -4.4M132.3 148.1l7.3 -5.4 8.2 -3.8 7.6 -4.5 7.5 -5.2 7.5 -4.9 8.0 -4.4M102.9 92.7l1.5 -2.8 1.8 -2.8 1.6 -3.2 1.9 -2.7M114.7 128.2l10.6 -4.0 10.9 -4.9 9.9 -4.0 10.8 -3.8 10.6 -4.2 10.4 -3.8M108.2 89.6l7.5 -6.0 7.9 -6.3 7.0 -6.2 7.7 -6.0 7.8 -6.1 7.3 -5.8M126.5 114.5l8.8 -6.4 8.6 -6.5 8.9 -6.2 9.2 -6.2 7.8 -6.3 9.5 -6.4M102.9 90.6l2.7 -3.0 2.3 -2.9 2.7 -2.8 2.0 -2.9M119.3 96.8l6.8 -9.9 6.3 -10.0 6.8 -11.0 6.5 -10.0M127.6 114.8l6.8 -3.6 7.0 -4.3 7.0 -3.6 6.9 -3.5 6.2 -3.3 7.3 -4.1M106.5 90.9l12.1 -5.1 12.1 -4.8 11.8 -5.5 12.0 -5.0 11.7 -5.3 12.2 -4.8M126.4 123.6l7.1 -2.3 6.8 -2.4 7.6 -1.6 6.4 -2.7 6.9 -2.2 7.3 -2.0M121.8 103.6l8.8 -6.3 8.9 -7.2 8.3 -7.3 8.1 -7.0 9.3 -6.3 8.4 -6.8M109.9 100.2l8.7 -5.1 8.7 -5.7 7.8 -4.9 9.4 -6.2 8.7 -5.2 8.4 -5.4M132.4 91.5l4.8 -9.9 6.6 -9.9 5.0 -9.7 5.8 -10.0M112.8 102.4l7.7 -3.2 8.6 -3.3 8.5 -3.7 7.5 -3.1 8.0 -3.2 7.9 -2.9M114.8 145.5l6.8 -4.2 7.1 -4.4 6.9 -3.9 6.7 -5.1 7.0 -4.9 6.8 -4.0M111.7 103.0l6.8 -7.5 6.7 -8.2 7.1 -7.6 7.1 -8.0 6.6 -7.3 6.6 -8.0M129.9 118.7l5.7 -3.2 4.4 -3.2 4.9 -2.9 5.5 -3.2 5.5 -2.9 4.7 -3.5M113.5 90.9l9.2 -4.2 9.0 -5.1 9.4 -3.4 9.0 -4.0 9.6 -4.1 9.2 -4.5M116.9 99.2l8.2 -6.3 9.2 -6.9 8.8 -6.2 8.2 -6.6 8.9 -7.3 8.4 -6.3M121.8 114.8l6.4 -2.5 7.0 -3.0 6.9 -2.5 6.8 -2.4 6.4 -3.2 6.4 -2.6M121.9 136.6l7.6 -2.0 8.9 -2.3 7.7 -1.9 7.9 -2.3 8.5 -1.7 7.9 -2.5M114.6 114.5l9.7 -4.3 10.2 -4.7 11.0 -3.8 9.3 -4.3 10.7 -4.4 9.9 -4.4M125.1 116.0l6.5 -4.0 5.7 -3.6 6.3 -4.4 6.3 -3.9 6.3 -3.3 5.9 -4.3M115.6 116.6l9.8 -5.6 10.5 -7.2 9.3 -5.2 11.0 -7.1 9.4 -5.8 10.5 -6.1M122.9 124.1l9.3 -3.3 9.5 -3.2 9.9 -3.0 9.0 -3.0 9.6 -3.2 9.6 -3.4M111.2 81.5l6.5 -9.6 5.4 -9.6 6.2 -10.1 6.0 -9.3M125.6 126.9l8.6 -5.4 9.0 -5.5 9.3 -5.7 7.9 -6.2 9.7 -5.3 8.7 -5.7M118.9 106.2l9.1 -7.2 8.8 -6.9 8.0 -7.6 9.2 -7.8 8.6 -6.7 8.6 -7.3M118.4 108.8l9.6 -3.5 9.6 -3.6 9.6 -3.2 9.5 -4.0 9.6 -3.7 9.2 -3.5M121.1 139.6l9.4 -5.3 9.0 -5.9 9.4 -5.9 9.4 -5.5 9.5 -5.7 9.0 -5.2M121.3 142.4l9.5 -3.9 9.2 -4.8 9.8 -3.6 9.3 -3.6 9.6 -4.5 9.5 -4.1M117.3 97.9l7.1 -6.2 8.0 -6.1 7.4 -5.9 7.1 -6.3 7.6 -6.4 7.7 -6.0M110.0 91.9l7.6 -5.4 8.7 -6.3 7.6 -6.4 8.1 -5.3 8.1 -7.0 7.9 -5.6M109.3 106.4l11.7 -5.2 11.3 -4.3 11.9 -5.5 10.8 -5.0 10.9 -4.5 12.1 -5.5M119.2 118.4l9.4 -9.4 8.7 -9.8 9.8 -9.7 8.4 -9.7 9.9 -9.2 9.4 -9.7M108.4 91.5l9.7 -2.9 8.0 -4.7 9.1 -3.9 9.3 -3.1 8.8 -4.2 9.7 -3.7M116.2 105.0l8.7 -7.0 9.4 -7.6 8.3 -7.1 9.5 -7.0 8.7 -7.6 9.1 -7.0M120.2 111.5l8.7 -8.5 9.5 -8.1 8.7 -8.4 9.5 -8.4 10.0 -7.7 8.7 -8.3M117.8 98.7l10.1 -6.3 9.6 -6.4 9.8 -6.4 9.5 -6.2 10.5 -6.4 9.3 -6.3M120.3 88.4l7.2 -9.6 6.0 -9.5 6.9 -9.6 6.4 -10.0M107.6 104.7l9.1 -6.8 8.0 -5.9 9.7 -6.5 9.1 -6.8 8.2 -6.7 9.2 -6.3M114.5 108.4l9.7 -6.9 9.4 -6.8 9.0 -7.4 9.9 -6.8 8.6 -6.2 9.5 -7.6M134.8 88.5l4.4 -8.2 4.8 -8.3 4.9 -8.3 4.3 -8.6M107.7 84.5l7.8 -3.5 7.6 -3.1 7.0 -3.3 7.2 -2.8 8.0 -3.8 7.3 -3.3M119.5 99.6l9.0 -5.8 9.5 -4.6 9.3 -5.1 9.4 -5.2 9.7 -5.2 9.1 -5.0M118.0 135.4l9.2 -5.0 9.4 -5.4 9.2 -4.8 9.3 -5.3 10.1 -5.0 8.9 -4.8M101.7 93.6l8.4 -6.8 7.8 -6.8 8.0 -6.3 8.5 -6.8 7.8 -6.6 8.4 -6.6M116.0 129.3l10.5 -4.1 10.6 -4.2 10.1 -3.1 10.9 -3.4 11.0 -4.4 9.9 -3.6M118.2 128.4l8.4 -3.8 7.3 -3.6 8.7 -3.3 7.9 -3.7 7.6 -3.6 8.6 -3.5M112.4 97.3l9.3 -5.4 9.9 -6.5 8.7 -5.3 9.9 -6.0 9.3 -5.3 9.3 -5.7M128.8 98.8l5.7 -10.3 6.4 -10.7 6.2 -10.0 6.6 -10.3M118.1 99.9l9.0 -6.8 8.7 -6.6 8.5 -6.0 9.0 -6.1 8.3 -7.5 8.6 -5.7M105.8 87.0l2.1 -3.5 2.3 -3.7 2.9 -3.4 2.0 -4.0M119.0 116.5l8.2 -4.2 8.1 -4.2 8.2 -3.9 8.2 -4.4 8.4 -3.5 8.1 -4.3M119.5 132.4l9.9 -6.6 9.2 -5.7 9.3 -6.8 9.9 -6.1 9.9 -6.5 9.6 -6.1M124.1 132.9l8.1 -4.0 7.6 -2.7 7.6 -4.9 7.9 -3.6 8.0 -3.6 7.8 -3.7" fill="none" stroke="#ff0000" stroke-width="0.7" stroke-linejoin="round" />
<path d="M99.8 106.9l1.0 -11.1 2.1 -10.8 0.4 -10.9 2.0 -11.9 0.9 -11.1 1.3 -11.0M99.8 84.2l3.8 -6.8 2.4 -6.4 4.1 -6.3 2.3 -6.9 3.4 -5.9 3.3 -7.1M97.5 96.1l3.5 -6.8 1.3 -7.9 3.4 -6.1 2.6 -6.8 2.5 -7.4 3.1 -6.9M94.1 88.1l4.3 -5.5 5.1 -4.4 4.2 -5.6 4.0 -5.6 4.5 -5.1 4.6 -5.3M96.5 103.4l3.2 -9.3 4.6 -7.2 3.5 -7.7 4.2 -9.5 3.3 -7.6 4.1 -8.6M100.5 98.1l1.3 -10.9 0.8 -10.8 1.4 -11.2 1.1 -10.7 2.0 -11.5 0.6 -10.6M98.0 109.8l1.9 -8.3 1.0 -10.3 2.6 -9.6 2.1 -9.5 1.3 -8.8 2.4 -9.6M100.4 85.9l2.2 -8.4 1.4 -8.1 1.4 -8.4 1.2 -8.4 2.2 -7.3 1.6 -9.1M95.1 83.4l2.0 -5.4 2.5 -6.5 1.7 -5.6 2.0 -5.5 1.6 -5.7 2.4 -5.9M97.4 93.8l3.2 -8.5 3.6 -9.6 2.7 -7.7 2.9 -8.6 3.4 -9.0 3.3 -8.5M95.4 86.5l2.6 -8.0 3.8 -8.4 3.3 -7.6 2.2 -8.7 3.3 -8.4 3.4 -8.1M94.8 88.2l4.4 -8.0 4.6 -7.7 4.2 -9.6 4.1 -7.4 4.2 -8.5 4.4 -8.3" fill="none" stroke="#6a6a6a" stroke-width="0.8" stroke-linejoin="round" stroke-dasharray="0.9 1.1"/>
<path d="M94.1 87.4l4.3 -10.3 3.6 -9.6 3.1 -10.5 3.9 -9.9 2.8 -9.8 4.1 -10.2M102.6 91.1l4.5 -8.9 4.8 -9.5 4.2 -9.5 4.3 -8.8 5.1 -9.5 4.4 -9.7M101.8 88.2l6.0 -8.4 5.7 -9.0 5.4 -8.3 6.0 -8.4 6.3 -8.4 5.8 -8.7M118.7 83.0l3.9 -6.0 4.6 -7.1 4.2 -6.7 4.7 -7.6 3.9 -6.8 4.1 -5.8M125.0 92.4l3.8 -7.6 4.6 -7.8 3.7 -8.0 4.9 -8.6 4.1 -7.2 3.9 -8.3M130.8 104.7l4.2 -8.4 3.3 -8.6 4.0 -8.3 4.0 -8.7 4.8 -7.6 3.9 -9.1M102.5 76.3l3.1 -6.3 3.2 -7.3 3.5 -5.8 2.3 -6.1 3.3 -7.0 3.1 -6.7M98.5 91.3l4.2 -7.5 5.2 -7.7 5.4 -7.6 3.3 -8.0 5.1 -7.3 4.3 -8.1M108.4 83.7l4.1 -6.5 4.3 -6.4 4.2 -4.9 4.8 -7.3 3.5 -5.6 4.8 -6.0M121.1 89.7l3.9 -6.5 4.4 -6.3 4.9 -6.0 4.2 -5.9 4.2 -6.2 4.3 -6.9M115.7 95.6l3.5 -8.1 4.5 -7.0 4.3 -7.9 4.2 -7.6 3.2 -7.0 4.6 -8.0M94.8 97.0l2.8 -10.0 2.7 -8.6 2.9 -9.0 2.2 -8.8 3.2 -9.2 2.3 -9.4M100.2 101.6l4.9 -8.5 4.8 -7.9 4.6 -8.1 3.9 -8.6 4.9 -8.3 4.7 -8.1M112.7 97.9l3.9 -6.5 4.0 -6.1 4.2 -7.4 3.4 -6.6 3.6 -6.1 4.2 -7.1M126.6 100.2l3.7 -6.4 2.1 -6.1 2.7 -6.7 2.7 -5.8 2.1 -7.2 3.2 -5.9M120.7 109.7l5.2 -7.0 5.3 -9.0 4.3 -7.1 4.9 -8.3 5.0 -7.8 4.6 -7.4M107.4 79.8l4.1 -6.2 3.8 -5.4 4.7 -6.2 3.9 -6.0 4.0 -5.7 4.3 -6.3M100.4 90.4l4.0 -6.4 3.5 -5.3 4.7 -6.1 3.8 -5.3 3.3 -6.2 4.4 -5.9M111.1 93.5l5.2 -7.8 4.6 -8.4 4.7 -8.4 3.8 -7.1 5.0 -8.2 4.7 -7.7M104.0 55.0l6.0 -11.0 6.0 -4.0 5.0 -3.0 5.0 -1.0 5.0 -2.0M110.8 85.7l7.0 -6.9 6.1 -6.8 6.7 -6.6 6.7 -6.7 6.8 -6.9M130.6 77.8l3.6 -4.6 3.4 -5.4 2.4 -4.8 3.9 -4.8 3.3 -4.9M121.5 84.2l5.3 -6.4 6.1 -5.6 5.8 -5.9 5.5 -5.9 5.9 -6.4M112.2 87.1l6.2 -6.0 6.2 -7.0 6.1 -6.6 5.8 -7.5 6.6 -6.4M117.6 84.3l5.7 -6.8 6.4 -6.7 5.8 -7.4 5.7 -6.5 5.9 -6.7M116.9 86.3l6.4 -7.2 6.3 -6.8 6.2 -7.2 5.3 -6.3 7.1 -7.3M134.5 90.4l5.1 -7.0 4.4 -5.8 4.9 -6.8 5.6 -6.3 4.3 -6.9M121.0 81.0l5.7 -6.0 4.7 -5.7 5.5 -5.4 5.6 -5.4 5.0 -5.9M135.5 94.1l5.0 -6.8 4.9 -7.3 4.5 -7.2 5.8 -6.2 4.5 -7.1" fill="none" stroke="#000" stroke-width="0.85" stroke-linejoin="round" />
<path d="M105.4 152.2l11.9 -1.6 13.8 -0.4 11.3 -3.2 11.7 -1.7 13.2 -1.4 12.0 -1.4M106.9 143.9l10.5 -2.3 10.4 -1.7 10.9 -1.7 10.4 -2.2 10.3 -1.9 10.5 -2.5M118.8 144.9l8.5 -0.8 8.8 -2.4 8.3 -1.3 8.6 -0.6 8.7 -0.2 8.5 -1.7M113.4 156.5l11.4 -1.9 9.7 -2.5 10.2 -1.1 11.9 -2.2 10.1 -1.1 11.0 -2.2M113.5 151.9l8.9 -1.8 10.1 -0.9 8.4 -0.7 8.5 -1.7 8.8 -0.8 9.2 -0.9M108.5 158.1l11.4 -2.5 10.3 -2.2 10.7 -1.8 9.3 -1.1 10.2 -1.9 11.3 -2.2M121.5 154.1l7.5 -0.5 7.3 -0.7 7.1 -0.4 7.9 -0.9 7.9 -0.0 6.6 -1.2M120.3 150.8l7.7 -0.8 9.3 -0.5 7.6 -2.5 7.8 0.1 8.3 -1.3 7.4 -1.3M101.5 152.8l10.0 -2.4 9.9 -2.3 9.3 -1.0 9.4 -3.2 9.1 -2.2 9.8 -1.8M100.6 149.6l9.5 -2.2 9.6 -1.4 9.4 -1.5 10.6 -3.4 8.7 -1.2 10.0 -1.5M119.3 152.2l9.6 -1.3 8.9 -0.7 9.1 -0.9 9.9 -1.6 8.9 -1.2 9.6 -0.9M118.1 155.6l10.0 -2.4 10.3 -2.3 10.3 -1.4 10.6 -2.6 10.0 -1.6 10.0 -2.4M103.0 141.2l11.7 -0.9 11.8 -1.1 11.7 -1.9 11.1 -0.7 12.5 -2.3 11.9 -0.8M108.8 146.8l8.4 -0.9 9.2 -0.1 7.5 -2.0 8.1 -0.8 8.1 -0.7 8.7 -1.5M105.3 149.4l9.3 -1.0 8.5 -1.5 8.5 -1.5 9.0 -1.1 10.2 -1.1 8.7 -2.0M118.2 160.0l8.8 -1.6 8.7 -0.1 9.6 -1.4 9.4 -0.1 8.9 -1.9 8.7 -1.1M116.8 158.5l8.4 -1.5 8.1 -0.9 7.7 -2.0 8.0 -1.0 8.8 -2.3 7.6 -0.3M119.8 143.3l9.9 -1.5 10.0 -2.1 9.7 -2.5 9.4 -2.5 10.6 -1.2 9.6 -2.1M117.2 157.2l7.4 -2.0 7.5 -2.2 7.1 -1.0 8.8 -2.6 6.3 -1.6 7.9 -2.5M106.4 152.1l8.5 -1.3 10.3 -1.7 8.4 -0.7 8.2 -2.2 9.5 -1.5 9.2 -1.6M121.5 155.1l9.2 -1.4 10.2 -2.7 9.5 -1.1 9.6 -0.9 9.9 -2.0 9.3 -1.7M108.1 143.2l8.6 -1.8 9.0 -1.1 9.0 -1.3 8.6 -1.8 8.7 -1.5 8.8 -1.0M117.6 150.2l8.0 -2.0 5.5 -1.8 7.5 -1.4 6.7 -2.5 6.6 -3.0 7.9 -1.5M109.8 148.6l11.8 -0.6 12.0 -0.6 9.6 -0.9 12.7 -0.6 10.9 -0.9 11.4 -0.7M117.0 160.0l9.3 -0.7 9.5 -0.7 10.6 -0.6 10.5 -1.2 9.0 -1.0 10.1 -0.3M113.4 142.5l7.3 -0.7 7.7 -1.0 7.6 -1.1 7.2 0.2 6.4 -2.1 8.3 0.3M108.2 145.0l8.7 -1.7 8.1 -2.6 9.2 -0.7 8.9 -2.3 8.7 -1.7 8.0 -1.9M109.1 151.4l11.5 -1.0 10.8 -1.5 12.1 -1.5 10.9 -0.4 11.8 -1.9 11.5 -0.8M106.3 158.0l8.3 -0.6 9.1 -0.2 9.3 -1.1 8.9 -1.3 9.3 -0.6 8.0 -1.0M116.5 142.8l6.6 -0.7 7.1 -1.0 6.2 -0.9 7.3 -0.0 7.2 -0.5 6.4 -0.9M118.6 150.8l7.3 -1.6 8.2 -1.8 6.7 -0.7 7.9 -1.5 6.8 -1.4 8.1 -1.0M106.1 142.1l10.5 -1.0 8.8 -0.4 9.6 0.2 10.9 -2.2 9.6 0.4 9.5 -0.9M115.4 156.8l7.7 -1.9 7.0 -1.4 6.8 -2.4 7.6 -1.9 6.9 -0.7 7.7 -1.3M116.2 149.2l6.5 -0.9 8.0 -2.3 6.2 -1.1 7.3 -1.0 6.7 -1.0 7.0 -1.5M108.3 150.1l11.9 -1.3 11.2 -1.7 12.5 -2.1 11.8 -1.4 12.8 -2.3 11.6 -1.6M118.8 145.8l8.3 -1.5 9.9 -0.7 9.2 -0.6 8.3 -2.6 8.8 -0.5 9.8 -0.9M120.3 141.2l7.7 -1.8 8.1 -1.3 7.6 -1.0 7.5 -1.3 7.8 -2.4 7.9 -0.5M100.1 153.1l13.3 -0.6 13.2 -1.6 13.6 -1.1 13.2 -0.8 12.2 -3.0 13.9 0.5M117.2 149.6l9.9 -1.1 10.6 0.2 9.3 -1.4 10.7 -0.2 9.4 -0.5 10.1 -0.7M104.1 151.1l9.8 -1.0 10.6 -0.5 10.1 -1.5 11.2 -1.3 10.4 -0.2 10.4 -1.5M119.5 160.0l7.5 -0.6 7.8 -2.0 7.4 -0.6 9.7 -0.7 6.1 -1.6 7.6 -0.3M108.0 151.8l10.8 -1.7 9.1 -2.4 10.9 -1.9 9.8 -0.4 10.5 -2.3 9.9 -1.2M121.4 149.8l7.8 -1.3 8.9 -0.3 8.2 0.3 8.0 -1.9 8.6 -1.0 8.3 -0.6M106.2 159.7l12.9 -1.5 11.0 -0.6 12.9 -1.6 11.7 -0.2 12.1 -1.7 12.3 -0.6M116.3 148.2l9.6 -2.1 9.8 -1.8 9.2 -2.6 9.8 -1.9 9.7 -1.4 9.0 -3.0M105.8 153.9l8.1 -1.4 8.9 -2.9 9.0 -1.0 7.4 -2.0 8.9 -2.6 8.3 -1.3" fill="none" stroke="#000" stroke-width="0.7" stroke-linejoin="round" />
<path d="M101.6 148.2l15.1 -1.8 15.3 -2.0 15.0 -2.0M102.4 148.5l9.5 -1.6 8.9 -1.1 9.0 -1.5M111.9 143.9l9.6 -2.7 9.6 -2.9 9.7 -2.3M105.4 143.5l12.7 -3.4 12.5 -3.5 12.6 -3.1M111.8 149.7l8.5 -3.2 7.9 -2.8 8.8 -3.4M102.8 144.4l12.7 -1.9 12.4 -1.8 12.8 -1.7M100.3 147.9l14.9 -2.8 14.9 -3.0 14.6 -3.3M107.4 148.9l7.4 -1.4 6.5 -1.9 7.1 -1.5" fill="none" stroke="#ff0000" stroke-width="0.7" stroke-linejoin="round" />
<path d="M506.3 200.2h0.8M526.2 179.1h0.8M515.4 185.6h0.8M509.5 163.6h0.8M500.7 161.6h0.8M516.9 214.9h0.8M529.6 174.9h0.8M528.4 196.8h0.8M506.0 173.1h0.8M529.9 181.6h0.8M520.8 213.1h0.8M530.2 152.9h0.8M516.3 230.2h0.8M516.9 187.3h0.8M524.3 203.9h0.8M514.1 161.8h0.8M524.4 170.1h0.8M509.6 172.5h0.8M516.7 154.4h0.8M518.0 160.0h0.8M518.5 228.6h0.8M530.5 193.4h0.8M515.6 180.5h0.8M495.4 183.7h0.8M501.4 209.5h0.8M495.7 157.6h0.8M527.6 155.0h0.8M506.5 175.9h0.8M498.8 163.0h0.8M514.0 208.1h0.8M497.1 150.6h0.8M520.6 216.9h0.8M527.3 165.8h0.8M517.5 178.3h0.8M531.9 171.0h0.8M500.3 226.9h0.8M493.5 160.2h0.8M511.9 202.5h0.8M508.9 181.0h0.8M499.2 213.2h0.8M497.0 188.7h0.8M522.1 166.8h0.8M498.3 158.1h0.8M517.6 156.5h0.8M528.5 168.0h0.8M493.5 191.6h0.8M517.5 231.8h0.8M501.7 227.2h0.8M522.9 160.9h0.8M500.1 223.8h0.8M503.7 192.5h0.8M531.0 185.3h0.8M523.7 170.4h0.8M515.3 166.6h0.8M497.6 202.9h0.8M535.5 168.5h0.8M516.3 227.3h0.8M510.8 219.6h0.8M517.6 232.4h0.8M517.4 227.1h0.8M516.3 183.5h0.8M535.5 159.1h0.8M518.2 224.6h0.8M527.2 201.1h0.8M525.9 153.4h0.8M512.9 204.6h0.8M522.1 199.2h0.8M519.7 186.6h0.8M530.1 178.4h0.8M524.6 201.6h0.8M529.1 178.1h0.8M530.1 189.1h0.8M500.1 217.9h0.8M501.7 183.7h0.8M538.1 154.8h0.8M531.6 163.0h0.8M504.9 211.3h0.8M508.6 220.3h0.8M516.6 188.0h0.8M520.2 150.0h0.8M515.2 163.8h0.8M519.9 216.2h0.8M526.7 171.2h0.8M506.0 216.8h0.8M527.1 200.6h0.8M520.5 209.3h0.8M510.1 195.6h0.8M509.9 166.7h0.8M501.5 231.6h0.8M509.1 196.4h0.8M515.3 207.6h0.8M514.2 180.7h0.8M504.6 178.7h0.8M513.7 210.5h0.8M521.3 196.3h0.8M516.9 190.5h0.8M521.5 184.1h0.8M502.0 214.0h0.8M508.5 202.8h0.8M528.9 181.6h0.8M517.8 225.4h0.8M507.8 179.9h0.8M528.2 202.3h0.8M517.3 204.3h0.8M529.1 154.5h0.8M517.2 216.6h0.8M511.9 189.3h0.8M522.8 178.0h0.8M502.0 199.4h0.8M519.3 213.7h0.8M524.9 151.4h0.8M522.8 172.5h0.8M516.7 217.5h0.8M508.1 173.7h0.8M524.4 159.3h0.8M521.3 191.8h0.8M522.7 187.7h0.8M520.6 152.5h0.8M514.5 183.7h0.8M507.5 215.0h0.8M504.7 207.2h0.8M530.3 165.7h0.8M510.2 222.9h0.8M527.1 182.6h0.8M520.5 223.9h0.8M528.0 184.0h0.8M498.6 192.1h0.8M516.3 157.4h0.8M520.1 212.3h0.8M522.7 198.8h0.8M496.6 169.7h0.8M520.5 167.8h0.8M526.6 177.6h0.8M520.5 226.8h0.8M512.9 202.1h0.8M517.5 221.1h0.8M519.9 154.3h0.8M501.7 197.0h0.8M513.6 204.6h0.8M515.9 195.7h0.8M514.8 219.8h0.8M505.1 206.1h0.8M514.0 212.7h0.8M512.5 231.7h0.8M516.9 217.9h0.8M512.4 198.9h0.8M528.0 203.5h0.8M529.7 166.6h0.8M516.3 225.2h0.8M499.7 194.7h0.8M526.4 163.8h0.8M502.2 185.0h0.8M532.6 161.1h0.8M518.4 220.4h0.8M526.7 208.4h0.8M520.7 162.5h0.8M521.9 233.2h0.8M515.7 226.4h0.8M525.3 203.7h0.8M526.6 174.5h0.8M498.9 171.1h0.8M505.1 212.0h0.8M515.4 178.3h0.8M522.4 217.4h0.8M526.8 201.9h0.8M523.5 179.4h0.8M523.2 222.1h0.8M513.9 157.8h0.8M519.5 205.0h0.8M534.7 172.3h0.8M531.2 156.7h0.8M517.6 232.7h0.8M509.8 200.9h0.8M535.1 164.9h0.8M495.3 165.0h0.8M505.2 170.3h0.8M510.5 155.7h0.8M507.7 193.5h0.8M497.9 194.3h0.8M515.4 158.1h0.8M492.3 183.7h0.8M517.7 190.8h0.8M517.5 202.8h0.8M500.8 196.3h0.8M517.9 160.6h0.8M518.0 200.2h0.8M524.1 160.2h0.8M525.3 183.9h0.8M529.0 191.3h0.8M518.5 232.3h0.8M503.4 187.0h0.8M523.5 195.8h0.8M511.0 220.7h0.8M516.6 158.8h0.8M497.1 186.2h0.8M499.9 206.9h0.8M518.7 151.0h0.8M508.3 220.7h0.8M527.9 187.3h0.8M499.6 200.3h0.8M527.1 201.5h0.8M505.8 213.3h0.8M517.4 184.1h0.8M524.1 211.2h0.8M504.1 161.1h0.8M498.0 197.4h0.8M523.9 219.6h0.8M499.8 223.9h0.8M502.5 221.8h0.8M516.2 201.5h0.8M502.1 195.4h0.8M492.4 157.0h0.8M523.4 153.2h0.8M504.8 179.5h0.8M520.6 230.6h0.8M505.2 165.4h0.8M520.5 209.8h0.8M506.9 208.9h0.8M527.8 177.1h0.8M516.6 212.4h0.8M514.4 225.4h0.8M534.7 159.3h0.8M526.9 175.2h0.8M521.7 166.8h0.8M496.8 166.3h0.8M530.7 154.1h0.8M528.7 186.0h0.8M511.9 226.6h0.8M521.8 169.6h0.8M504.9 200.8h0.8M520.3 223.0h0.8M517.9 224.0h0.8M506.3 183.8h0.8M493.2 157.2h0.8M502.3 214.8h0.8M495.6 179.6h0.8M529.6 164.2h0.8M520.3 232.2h0.8M536.6 158.1h0.8M506.6 222.5h0.8M524.9 150.5h0.8M515.3 210.8h0.8M523.6 166.0h0.8M517.2 177.6h0.8M519.6 220.6h0.8M499.6 157.1h0.8M502.5 201.3h0.8M531.6 153.0h0.8M531.2 174.1h0.8M518.8 158.7h0.8M518.8 154.8h0.8M517.0 225.7h0.8M494.6 197.8h0.8M522.2 166.9h0.8M522.9 173.8h0.8M511.6 221.8h0.8M533.7 151.1h0.8M521.2 206.5h0.8M519.5 225.3h0.8M517.6 183.2h0.8M493.7 191.2h0.8M516.8 161.8h0.8M507.5 171.4h0.8M502.7 176.2h0.8M496.0 195.0h0.8M520.9 220.8h0.8M501.6 212.4h0.8M508.2 201.5h0.8M518.5 150.2h0.8M531.2 187.2h0.8M515.6 218.7h0.8M516.9 224.9h0.8M521.0 213.6h0.8M496.0 160.2h0.8M525.1 168.4h0.8M522.3 222.6h0.8M522.7 213.3h0.8M499.1 216.3h0.8M517.0 195.4h0.8M506.9 232.5h0.8M505.6 191.1h0.8M519.3 182.8h0.8M521.7 224.4h0.8M519.1 220.2h0.8M521.3 201.3h0.8M516.2 191.0h0.8M516.3 224.5h0.8M499.1 201.3h0.8M506.9 221.7h0.8M528.7 188.7h0.8M518.4 211.6h0.8M518.2 227.0h0.8M526.6 199.9h0.8M528.7 198.2h0.8M527.5 182.7h0.8M529.6 173.2h0.8M496.1 187.9h0.8M525.2 205.3h0.8M494.6 202.1h0.8M523.7 217.4h0.8M528.2 159.9h0.8M519.7 216.1h0.8M519.2 184.7h0.8M499.4 208.7h0.8M538.6 153.9h0.8M498.8 222.0h0.8M526.2 170.4h0.8M498.3 178.4h0.8M507.4 227.9h0.8M519.1 188.0h0.8M507.5 221.4h0.8M508.0 233.3h0.8M523.6 221.8h0.8M503.8 224.7h0.8M520.1 187.4h0.8M492.3 153.9h0.8M496.4 168.0h0.8M533.8 154.6h0.8M517.0 178.4h0.8M531.1 154.0h0.8M527.6 192.0h0.8M523.1 171.6h0.8M522.7 190.7h0.8M517.9 218.9h0.8M500.1 228.0h0.8M518.0 232.0h0.8M495.4 179.9h0.8M501.5 205.0h0.8M505.8 233.1h0.8M520.4 181.2h0.8M502.7 184.6h0.8M525.8 197.0h0.8M495.0 203.8h0.8M520.0 189.8h0.8M501.2 155.6h0.8M525.0 173.5h0.8M527.9 206.0h0.8M516.8 209.7h0.8M528.4 170.4h0.8M522.5 180.3h0.8M498.5 209.5h0.8M518.7 158.6h0.8M520.7 205.8h0.8M511.3 166.2h0.8M511.9 196.3h0.8M517.8 227.5h0.8M523.2 228.1h0.8M493.6 171.1h0.8M508.9 229.2h0.8M520.7 221.4h0.8M531.3 177.2h0.8M508.7 225.9h0.8M508.2 233.6h0.8M489.8 169.2h0.8M525.9 197.8h0.8M508.4 156.7h0.8M505.8 225.4h0.8M518.7 184.4h0.8M526.3 173.7h0.8M515.5 231.7h0.8M518.1 181.6h0.8M524.9 182.6h0.8M496.7 170.1h0.8M515.9 229.8h0.8M509.4 215.9h0.8M526.3 151.3h0.8M525.9 175.3h0.8M528.7 193.0h0.8M515.0 224.2h0.8M527.7 202.6h0.8M522.6 226.9h0.8M523.0 186.9h0.8M522.8 221.9h0.8M519.8 198.4h0.8M503.4 217.2h0.8M506.8 217.4h0.8M509.9 213.8h0.8M528.8 197.3h0.8M538.6 154.2h0.8M492.7 162.6h0.8M519.2 189.0h0.8M521.9 190.3h0.8M516.8 219.9h0.8M521.1 208.7h0.8M506.5 198.3h0.8M519.9 233.0h0.8M520.1 217.4h0.8M505.5 231.4h0.8M530.6 169.0h0.8M506.7 162.1h0.8M499.8 160.5h0.8M505.5 165.5h0.8M517.9 212.7h0.8M503.7 227.4h0.8M532.8 152.5h0.8M494.1 150.9h0.8M520.2 228.9h0.8M533.4 178.0h0.8M507.1 229.2h0.8M529.8 186.5h0.8M521.0 210.0h0.8M511.7 187.5h0.8M518.1 214.4h0.8M495.3 151.6h0.8M500.9 209.8h0.8M501.1 198.0h0.8M527.8 168.0h0.8M498.6 230.9h0.8M505.1 215.2h0.8M514.1 221.9h0.8M526.0 166.2h0.8M500.9 225.0h0.8M518.9 230.3h0.8M525.4 188.1h0.8M503.3 205.5h0.8M496.7 152.3h0.8M530.1 181.5h0.8M510.9 188.9h0.8M524.1 171.6h0.8M516.3 207.5h0.8M520.7 199.4h0.8M519.9 226.9h0.8M524.2 181.6h0.8M512.2 185.9h0.8M519.3 227.9h0.8M501.4 179.2h0.8M519.6 204.5h0.8M508.4 233.2h0.8M510.3 224.1h0.8M516.7 193.4h0.8M506.6 199.7h0.8M523.6 150.5h0.8M515.3 176.9h0.8M498.9 164.2h0.8M520.3 153.8h0.8M527.9 185.8h0.8M516.7 172.4h0.8M517.5 160.6h0.8M507.8 198.7h0.8M494.9 203.3h0.8M516.5 194.3h0.8M515.5 192.1h0.8M532.1 150.3h0.8M535.1 162.0h0.8M525.9 189.8h0.8M515.7 221.3h0.8M532.4 151.5h0.8M497.0 167.4h0.8M506.1 160.8h0.8M533.3 150.6h0.8M512.2 159.3h0.8M497.7 218.8h0.8M528.0 159.6h0.8M518.6 203.2h0.8M515.4 209.0h0.8M514.2 219.8h0.8M520.2 200.8h0.8M518.3 225.0h0.8M527.0 207.9h0.8M521.2 210.9h0.8M536.7 163.5h0.8M504.2 202.6h0.8M523.6 198.1h0.8M532.0 158.2h0.8M529.4 175.4h0.8M533.1 173.7h0.8M519.5 167.7h0.8M501.5 167.7h0.8M521.3 176.9h0.8M513.3 214.8h0.8M512.5 200.7h0.8M497.3 199.9h0.8M524.4 214.6h0.8M517.1 233.5h0.8M491.7 168.7h0.8M505.2 199.0h0.8M534.1 172.4h0.8M509.0 221.2h0.8M504.9 227.3h0.8M503.8 226.6h0.8M528.1 154.0h0.8M493.3 159.4h0.8M518.5 160.7h0.8M523.4 215.3h0.8M518.3 187.6h0.8M516.1 231.3h0.8M509.4 150.1h0.8M501.0 231.5h0.8M510.1 214.0h0.8M519.4 164.4h0.8M523.2 198.4h0.8M504.1 205.8h0.8M522.6 185.0h0.8M514.3 204.2h0.8M509.1 170.7h0.8M518.6 151.3h0.8M505.3 218.2h0.8M521.5 154.7h0.8M498.2 222.9h0.8M521.8 223.1h0.8M500.1 211.4h0.8M514.9 204.9h0.8M519.2 193.2h0.8M508.4 157.5h0.8M501.2 177.3h0.8M510.3 157.6h0.8M522.6 206.2h0.8M518.8 197.6h0.8M504.8 217.1h0.8M508.4 222.2h0.8M527.5 195.6h0.8M523.2 207.4h0.8M502.3 226.0h0.8M517.4 156.1h0.8M527.2 164.7h0.8M501.5 207.8h0.8M516.8 151.9h0.8M516.3 197.0h0.8M521.9 208.1h0.8M517.3 225.8h0.8M501.2 193.6h0.8M536.5 156.9h0.8M525.4 203.2h0.8M500.5 184.9h0.8M524.0 219.1h0.8M518.4 156.7h0.8M502.2 233.4h0.8M520.1 176.8h0.8M521.8 202.5h0.8M522.1 204.4h0.8M518.9 151.2h0.8M520.6 197.8h0.8M517.5 211.6h0.8M522.6 208.9h0.8M516.6 209.4h0.8M521.9 225.3h0.8M518.6 202.8h0.8M516.9 201.7h0.8M516.0 186.8h0.8M523.2 215.9h0.8M501.4 231.6h0.8M516.9 203.3h0.8M519.6 200.5h0.8M524.6 188.2h0.8M521.0 190.8h0.8M523.3 193.2h0.8M490.8 153.5h0.8M528.7 201.8h0.8M520.5 216.1h0.8M521.1 221.3h0.8M531.3 187.9h0.8M516.8 209.0h0.8M523.6 222.0h0.8M498.3 223.8h0.8M509.7 160.1h0.8M528.9 175.6h0.8M517.9 170.1h0.8M513.9 213.1h0.8M516.4 184.9h0.8M527.0 189.6h0.8M506.7 217.0h0.8M498.4 215.3h0.8M531.0 186.9h0.8M525.0 201.3h0.8M519.9 231.8h0.8M514.0 216.3h0.8M504.9 231.3h0.8M509.3 191.2h0.8M510.1 228.5h0.8M492.7 185.1h0.8M491.9 175.6h0.8M529.4 150.6h0.8M502.1 228.5h0.8M508.8 172.7h0.8M509.5 184.5h0.8M511.5 221.7h0.8M527.5 176.2h0.8M517.4 213.4h0.8M527.8 197.8h0.8M517.8 198.8h0.8M535.4 152.3h0.8M499.3 157.4h0.8M514.1 222.6h0.8M504.4 209.4h0.8M529.0 200.2h0.8M531.5 188.2h0.8M511.2 203.2h0.8M523.0 222.7h0.8M521.5 199.5h0.8M509.7 183.1h0.8M506.3 175.0h0.8M519.2 155.8h0.8M499.4 201.0h0.8M500.3 170.9h0.8M515.8 173.3h0.8M511.6 191.0h0.8M524.3 193.8h0.8M521.8 225.2h0.8M518.2 171.8h0.8M509.5 175.8h0.8M529.3 180.4h0.8M527.6 206.5h0.8M505.7 193.7h0.8M522.9 176.2h0.8M497.6 182.7h0.8M524.2 182.1h0.8M519.3 219.1h0.8M516.6 229.8h0.8M505.4 160.8h0.8M519.5 195.7h0.8M521.9 155.4h0.8M532.1 153.0h0.8M521.0 153.6h0.8M520.5 204.5h0.8M530.1 192.3h0.8M519.9 222.6h0.8M511.2 182.3h0.8M530.9 187.7h0.8M523.5 209.1h0.8M510.2 208.8h0.8M489.4 162.5h0.8M521.9 224.7h0.8M498.8 186.2h0.8M492.9 155.8h0.8M506.4 228.3h0.8M516.2 179.1h0.8M520.7 153.3h0.8M534.4 164.4h0.8M500.0 228.0h0.8M525.8 188.2h0.8M531.7 164.0h0.8M505.5 211.3h0.8M514.2 160.8h0.8M507.9 179.2h0.8M528.8 151.8h0.8M523.6 151.9h0.8M519.8 208.7h0.8M518.5 221.9h0.8M515.6 225.9h0.8M534.7 171.2h0.8M531.6 163.4h0.8M518.2 212.4h0.8M507.8 225.5h0.8M504.7 203.1h0.8M517.1 203.4h0.8M524.9 170.6h0.8M518.1 213.1h0.8M501.2 224.2h0.8M507.0 232.6h0.8M501.6 187.9h0.8M497.9 213.1h0.8M511.0 204.4h0.8M524.8 151.5h0.8M532.4 173.4h0.8M495.9 209.0h0.8M497.5 195.4h0.8M524.9 219.8h0.8M511.2 217.6h0.8M534.6 167.6h0.8M532.9 153.7h0.8M512.1 225.7h0.8M523.2 183.7h0.8M520.5 171.4h0.8M521.7 187.4h0.8M517.9 190.4h0.8M520.3 199.7h0.8M500.7 178.7h0.8M507.1 189.7h0.8M516.4 227.6h0.8M519.6 181.9h0.8M518.8 224.5h0.8M514.2 212.4h0.8M522.1 219.8h0.8M515.2 215.1h0.8M526.1 188.7h0.8M515.7 233.3h0.8M532.1 164.3h0.8M522.7 181.5h0.8M498.9 224.9h0.8M509.2 152.8h0.8M491.8 160.2h0.8M508.8 208.0h0.8M526.0 159.5h0.8M498.4 200.4h0.8M519.5 208.3h0.8M524.9 190.6h0.8M498.2 218.0h0.8M523.0 186.0h0.8M517.2 186.3h0.8M499.3 189.7h0.8M520.7 232.3h0.8M492.1 179.5h0.8M500.3 216.5h0.8M521.8 212.2h0.8M534.8 163.4h0.8M497.4 164.0h0.8M488.1 150.6h0.8M503.0 229.8h0.8M515.9 185.3h0.8M508.1 230.0h0.8M523.7 196.4h0.8M517.5 191.5h0.8M518.5 207.4h0.8M531.8 168.9h0.8M523.6 202.7h0.8M522.1 210.1h0.8M516.4 208.7h0.8M524.3 202.3h0.8M531.1 184.2h0.8M525.6 210.3h0.8M511.0 215.8h0.8M494.9 196.0h0.8M509.4 216.6h0.8M524.8 158.3h0.8M504.0 187.7h0.8M517.6 227.2h0.8M527.0 151.9h0.8M520.2 175.2h0.8M525.2 156.6h0.8M516.6 196.9h0.8M502.5 228.6h0.8M521.9 185.2h0.8M506.5 152.3h0.8M521.5 221.3h0.8M524.2 207.0h0.8M504.7 229.6h0.8M502.5 171.9h0.8M498.1 208.4h0.8M522.1 221.0h0.8M519.9 233.6h0.8M512.5 194.3h0.8M522.5 230.1h0.8M509.4 196.5h0.8M497.7 174.5h0.8M507.1 152.9h0.8M518.0 179.9h0.8M517.2 170.7h0.8M525.9 176.7h0.8M528.2 172.9h0.8M516.9 208.1h0.8M536.4 165.1h0.8M527.0 196.3h0.8M496.4 157.7h0.8M512.2 220.3h0.8M511.4 226.7h0.8M498.8 217.4h0.8M497.8 210.0h0.8M510.8 203.3h0.8M527.7 197.4h0.8M515.2 181.2h0.8M530.8 167.3h0.8M506.2 187.8h0.8M525.4 187.9h0.8M496.2 157.8h0.8M511.7 170.6h0.8M503.7 155.5h0.8M521.9 200.4h0.8M502.1 212.7h0.8M524.3 217.2h0.8M519.9 183.7h0.8M497.2 166.8h0.8M499.9 203.2h0.8M516.7 228.9h0.8M497.8 195.5h0.8M520.7 227.0h0.8M527.2 179.4h0.8M496.0 171.5h0.8M516.9 220.2h0.8M535.8 160.8h0.8M521.6 197.1h0.8M521.3 167.5h0.8M518.5 199.2h0.8M502.4 190.2h0.8M522.4 183.0h0.8M514.7 201.0h0.8M513.3 230.8h0.8M496.7 187.5h0.8M529.9 173.9h0.8M509.6 204.5h0.8M495.6 189.3h0.8M488.3 155.1h0.8M509.1 210.9h0.8M526.7 159.2h0.8M512.9 152.7h0.8M505.6 185.6h0.8M517.4 213.4h0.8M494.5 189.3h0.8M525.9 159.8h0.8M503.8 227.7h0.8M520.3 199.2h0.8M499.8 180.1h0.8M525.0 213.8h0.8M527.1 157.3h0.8M518.7 169.2h0.8M493.6 185.5h0.8M495.3 164.8h0.8M509.0 176.5h0.8M514.8 181.4h0.8M523.5 210.9h0.8M494.1 171.8h0.8M511.2 167.8h0.8M532.4 172.6h0.8M497.9 214.0h0.8M514.0 159.4h0.8M520.0 206.1h0.8M519.3 178.7h0.8M527.0 163.6h0.8M517.0 224.3h0.8M519.8 228.3h0.8M515.6 188.9h0.8M521.1 158.4h0.8M512.7 211.5h0.8M503.5 212.1h0.8M534.4 161.5h0.8M523.2 226.4h0.8M530.6 189.9h0.8M503.6 220.6h0.8M519.7 229.4h0.8M506.9 231.7h0.8M534.9 173.3h0.8M517.3 167.7h0.8M521.6 212.1h0.8M505.2 214.5h0.8M504.4 204.2h0.8M515.7 231.9h0.8M527.5 187.5h0.8M499.6 215.8h0.8M522.9 223.9h0.8M520.3 224.4h0.8M510.3 224.7h0.8M510.4 226.2h0.8M518.5 228.0h0.8M524.6 150.3h0.8M498.3 154.8h0.8M517.5 230.3h0.8M504.0 175.0h0.8M494.0 198.8h0.8M526.6 152.4h0.8M495.8 154.1h0.8M501.3 203.9h0.8M504.4 227.9h0.8M505.5 204.5h0.8M499.7 173.9h0.8M522.8 168.1h0.8M497.4 187.7h0.8M514.4 151.3h0.8M512.7 201.6h0.8M530.6 177.8h0.8M527.7 178.0h0.8M523.6 151.8h0.8M496.7 182.0h0.8M517.8 175.7h0.8M490.5 171.0h0.8M533.9 176.9h0.8M514.3 154.3h0.8M504.9 160.9h0.8M524.5 189.7h0.8M513.3 211.8h0.8M505.4 160.1h0.8M491.7 156.9h0.8M504.6 210.2h0.8M511.2 152.2h0.8M519.7 232.5h0.8M502.8 191.5h0.8M522.8 200.3h0.8M524.0 171.5h0.8M529.8 178.1h0.8M521.4 170.2h0.8M528.3 178.5h0.8M531.6 183.4h0.8M519.7 188.8h0.8M493.0 158.6h0.8M530.3 173.9h0.8M526.0 168.6h0.8M515.7 182.7h0.8M516.1 187.8h0.8M503.3 153.1h0.8M520.1 167.6h0.8M516.0 207.0h0.8M512.7 175.7h0.8M518.2 194.5h0.8M518.8 204.4h0.8M523.9 198.1h0.8M515.8 231.0h0.8M526.9 184.2h0.8M523.9 152.7h0.8M524.1 150.8h0.8M507.5 151.4h0.8M503.7 151.1h0.8M525.4 187.3h0.8M527.6 188.9h0.8M517.0 175.7h0.8M496.9 213.9h0.8M525.4 202.3h0.8M500.3 166.1h0.8M525.4 207.6h0.8M504.4 156.6h0.8M499.9 152.5h0.8M533.0 157.9h0.8M507.8 208.4h0.8M522.3 172.5h0.8M522.5 219.4h0.8M511.7 233.7h0.8M501.2 215.4h0.8M527.8 197.4h0.8M517.9 216.2h0.8M525.2 204.3h0.8M522.1 164.3h0.8M502.7 226.6h0.8M525.2 176.8h0.8M503.5 158.1h0.8M497.6 168.3h0.8M498.6 230.0h0.8M516.6 218.3h0.8M522.2 207.4h0.8M519.3 190.0h0.8M515.4 215.7h0.8M508.5 221.8h0.8M517.4 212.6h0.8M534.5 160.0h0.8M515.6 182.7h0.8M530.0 180.3h0.8M532.9 177.6h0.8M499.3 210.8h0.8M524.2 157.9h0.8M519.8 208.6h0.8M503.1 228.7h0.8M526.8 155.4h0.8M512.3 176.4h0.8M498.9 158.6h0.8M520.3 181.5h0.8M523.3 222.5h0.8M517.9 208.5h0.8M501.5 164.7h0.8M526.3 171.9h0.8M519.7 184.7h0.8M521.7 182.0h0.8M509.3 218.2h0.8M515.9 192.6h0.8M525.8 204.9h0.8M493.7 196.2h0.8M526.3 200.1h0.8M500.8 227.0h0.8M493.0 184.0h0.8M503.9 219.1h0.8M505.9 207.0h0.8M520.8 172.3h0.8M526.6 150.9h0.8M517.5 231.9h0.8M504.1 208.7h0.8M498.3 199.5h0.8M525.8 215.9h0.8M520.8 232.0h0.8M521.9 226.1h0.8M521.3 229.0h0.8M530.2 157.0h0.8M515.0 216.6h0.8M519.6 154.3h0.8M530.9 152.4h0.8M514.6 227.4h0.8M520.0 164.1h0.8M517.4 218.9h0.8M517.9 179.5h0.8M519.5 159.6h0.8M522.1 231.7h0.8M525.1 167.2h0.8M501.0 224.1h0.8M522.8 224.9h0.8M509.0 152.6h0.8M528.5 197.7h0.8M536.4 163.4h0.8M527.6 172.9h0.8M523.2 217.0h0.8M525.9 213.8h0.8M510.3 227.3h0.8M521.6 168.6h0.8M529.9 171.7h0.8M510.7 207.9h0.8M507.9 192.2h0.8M504.1 201.6h0.8M503.0 222.4h0.8M525.7 188.6h0.8M528.9 200.1h0.8M499.2 227.7h0.8M513.9 217.0h0.8M522.5 227.2h0.8M509.0 166.8h0.8M519.2 203.7h0.8M522.2 210.7h0.8M516.6 166.9h0.8M502.0 226.0h0.8M495.3 157.2h0.8M515.2 187.3h0.8M517.9 214.1h0.8M495.4 173.7h0.8M500.8 180.9h0.8M524.3 186.9h0.8M521.2 193.2h0.8M513.9 232.5h0.8M496.9 167.8h0.8M504.5 230.4h0.8M523.2 171.7h0.8M518.9 214.2h0.8M531.6 175.1h0.8M517.5 209.4h0.8M515.6 230.2h0.8M496.6 197.1h0.8M522.0 229.6h0.8M515.4 169.6h0.8M527.9 151.3h0.8M493.8 196.5h0.8M511.6 221.0h0.8M506.9 186.4h0.8M512.0 199.3h0.8M505.9 212.2h0.8M505.4 154.0h0.8M517.3 182.6h0.8M521.0 217.1h0.8M524.9 200.8h0.8M505.9 163.4h0.8M531.1 191.6h0.8M522.7 221.3h0.8M523.3 215.5h0.8M522.4 221.1h0.8M530.0 161.7h0.8M493.9 150.9h0.8M516.3 210.1h0.8M496.8 165.9h0.8M523.1 210.1h0.8M492.5 163.2h0.8M517.8 153.4h0.8M502.7 232.9h0.8M514.5 223.7h0.8M522.4 200.4h0.8M527.6 187.6h0.8M508.6 227.8h0.8M506.5 220.3h0.8M507.4 204.9h0.8M524.8 192.1h0.8M505.5 224.2h0.8M521.0 216.2h0.8M519.9 233.6h0.8M519.5 198.5h0.8M518.3 169.1h0.8M529.4 183.3h0.8M521.4 209.7h0.8M524.8 214.1h0.8M528.3 167.4h0.8M531.9 178.7h0.8M489.4 163.5h0.8M506.5 207.9h0.8M517.8 222.1h0.8M520.9 182.8h0.8M491.1 171.7h0.8M528.9 172.2h0.8M520.1 190.2h0.8M511.4 195.0h0.8M520.0 177.5h0.8M521.4 209.7h0.8M528.4 197.9h0.8M508.2 11.0h0.8M502.0 34.4h0.8M505.9 14.0h0.8M500.0 27.3h0.8M501.8 36.4h0.8M508.6 26.9h0.8M501.5 36.9h0.8M508.1 2.8h0.8M508.3 3.7h0.8M507.0 28.5h0.8M510.4 51.1h0.8M496.0 24.3h0.8M504.5 42.8h0.8M509.1 29.2h0.8M510.0 37.6h0.8M510.8 11.7h0.8M507.8 24.7h0.8M507.1 24.9h0.8M505.4 25.4h0.8M504.2 44.9h0.8M508.3 38.3h0.8M505.4 42.8h0.8M514.9 23.1h0.8M502.6 10.4h0.8M508.5 13.9h0.8M505.8 16.2h0.8M498.0 44.3h0.8M500.9 0.5h0.8M502.4 35.8h0.8M506.3 32.2h0.8M504.7 19.1h0.8M500.5 19.7h0.8M509.7 44.7h0.8M506.6 39.4h0.8M515.0 31.5h0.8M512.5 17.2h0.8M504.5 27.1h0.8M510.7 38.9h0.8M514.7 7.1h0.8M510.8 22.2h0.8M503.9 41.0h0.8M505.6 15.1h0.8M507.3 3.8h0.8M501.7 19.3h0.8M511.7 50.2h0.8M509.8 36.7h0.8M506.5 44.6h0.8M504.1 48.3h0.8M511.3 11.1h0.8M514.8 51.0h0.8M510.6 40.9h0.8M506.1 3.1h0.8M504.7 13.1h0.8M506.0 47.1h0.8M503.5 24.2h0.8M502.5 16.7h0.8M511.5 39.8h0.8M503.0 9.3h0.8M505.5 42.7h0.8M506.5 36.0h0.8M496.0 30.2h0.8M516.8 19.8h0.8M515.7 28.0h0.8M509.9 50.8h0.8M501.9 16.5h0.8M507.0 12.7h0.8M504.9 46.4h0.8M509.6 27.7h0.8M511.5 28.8h0.8M500.4 40.3h0.8M505.8 46.7h0.8M504.3 32.4h0.8M496.6 5.0h0.8M508.3 49.8h0.8M501.3 4.9h0.8M510.9 44.4h0.8M501.5 28.3h0.8M505.9 18.2h0.8M514.6 36.6h0.8M503.9 33.9h0.8M502.5 35.3h0.8M508.9 36.3h0.8M511.9 50.3h0.8M508.3 2.9h0.8M498.2 14.8h0.8M512.2 7.7h0.8M508.1 45.6h0.8M503.5 41.4h0.8M505.9 11.7h0.8M509.6 12.9h0.8M508.8 24.4h0.8M509.4 35.6h0.8M505.5 1.5h0.8M511.7 1.7h0.8M513.2 26.5h0.8M512.2 35.8h0.8M511.2 16.5h0.8M498.5 29.3h0.8M501.5 10.6h0.8M510.1 33.5h0.8M500.1 24.7h0.8M509.2 44.9h0.8M516.8 20.1h0.8M516.0 16.5h0.8M506.3 44.0h0.8M507.7 42.3h0.8M501.6 50.6h0.8M511.2 6.1h0.8M504.7 35.7h0.8M508.4 33.1h0.8M505.8 9.3h0.8M511.5 31.8h0.8M496.2 34.4h0.8M508.2 1.7h0.8M508.4 47.0h0.8M510.7 15.3h0.8M499.2 17.7h0.8M511.7 27.4h0.8M501.4 10.5h0.8M510.8 36.7h0.8M507.3 33.9h0.8M510.8 1.1h0.8M506.9 41.1h0.8M503.5 45.8h0.8M502.5 18.6h0.8M505.7 38.4h0.8M513.6 50.5h0.8M503.0 19.3h0.8M504.8 18.4h0.8M510.6 20.7h0.8M510.0 4.4h0.8M505.4 12.5h0.8M502.3 3.4h0.8M510.3 10.7h0.8M504.9 27.5h0.8M497.7 34.3h0.8M506.2 11.4h0.8M501.6 46.2h0.8M505.4 34.9h0.8M501.8 8.5h0.8M501.3 40.7h0.8M499.2 47.1h0.8M507.3 39.0h0.8M511.0 25.9h0.8M504.2 43.5h0.8M507.3 30.3h0.8M505.7 16.6h0.8M504.4 33.6h0.8M505.4 9.0h0.8M505.8 27.9h0.8M507.5 29.7h0.8M510.8 21.9h0.8M508.3 5.6h0.8M512.4 2.5h0.8M511.6 50.7h0.8M508.3 14.0h0.8M501.1 27.4h0.8M503.5 36.6h0.8M505.2 7.2h0.8M511.8 23.5h0.8M512.0 5.4h0.8M500.0 4.8h0.8M503.4 6.8h0.8M504.7 17.7h0.8M509.1 32.2h0.8M503.6 18.5h0.8M503.9 39.6h0.8M505.5 23.2h0.8M501.8 48.5h0.8M507.9 48.4h0.8M498.2 50.4h0.8M505.9 23.9h0.8M506.4 47.8h0.8M505.9 21.2h0.8M505.6 10.7h0.8M499.5 28.9h0.8M506.4 21.4h0.8M508.9 22.4h0.8M513.1 51.5h0.8M501.0 36.4h0.8M507.5 15.2h0.8M504.4 16.9h0.8M504.6 41.5h0.8M511.9 9.9h0.8M506.1 49.8h0.8M516.1 18.3h0.8M501.4 34.2h0.8M506.4 32.7h0.8M512.6 11.2h0.8M512.2 12.8h0.8M508.3 12.2h0.8M504.1 10.9h0.8M511.9 40.9h0.8M509.7 21.2h0.8M511.0 51.3h0.8M501.6 35.5h0.8M509.4 24.2h0.8M508.2 14.8h0.8M504.8 19.6h0.8M506.0 28.0h0.8M506.2 45.3h0.8M503.2 1.9h0.8M502.1 22.3h0.8M509.1 8.0h0.8M503.0 39.3h0.8M506.4 22.4h0.8M504.3 6.0h0.8M506.5 29.3h0.8M511.0 37.6h0.8M508.0 18.5h0.8M500.1 44.2h0.8M504.5 6.5h0.8M506.8 42.6h0.8M501.6 21.5h0.8M507.0 31.5h0.8M503.4 32.2h0.8M518.7 4.5h0.8M506.1 18.0h0.8M513.3 23.4h0.8M506.0 7.9h0.8M501.6 32.4h0.8M507.2 2.6h0.8M509.6 15.2h0.8M505.0 27.8h0.8M504.5 32.7h0.8M507.3 8.3h0.8M514.1 7.2h0.8M514.7 21.2h0.8M513.1 18.5h0.8M506.0 12.5h0.8M506.4 16.0h0.8M512.9 50.5h0.8M512.9 4.1h0.8M510.2 7.1h0.8M504.6 51.6h0.8M514.5 12.1h0.8M498.1 50.1h0.8M505.1 3.4h0.8M506.9 42.7h0.8M509.9 1.1h0.8M502.0 38.7h0.8M501.1 36.3h0.8M505.1 0.1h0.8M499.6 42.2h0.8M513.8 6.0h0.8M506.8 34.3h0.8M511.3 31.1h0.8M513.6 26.8h0.8M506.4 12.0h0.8M501.4 23.0h0.8M503.9 39.4h0.8M509.1 28.0h0.8M507.3 40.4h0.8M509.2 47.3h0.8M504.5 41.8h0.8M510.1 49.9h0.8M510.2 19.6h0.8M509.5 7.5h0.8M510.3 25.7h0.8M506.6 36.4h0.8M513.2 0.6h0.8M504.4 10.0h0.8M513.9 45.2h0.8M512.2 38.3h0.8M507.1 5.6h0.8M508.0 50.8h0.8M505.2 17.2h0.8M507.9 7.2h0.8M519.0 49.1h0.8M516.4 2.1h0.8M512.6 40.9h0.8M502.8 14.1h0.8M506.0 26.5h0.8M499.1 7.3h0.8M507.2 40.1h0.8M503.7 42.0h0.8M509.7 35.6h0.8M506.9 26.7h0.8M507.0 14.6h0.8M512.9 2.7h0.8M500.0 19.9h0.8M513.0 10.4h0.8M512.2 9.0h0.8M512.0 46.5h0.8M506.0 7.5h0.8M506.3 22.0h0.8M512.6 7.8h0.8M508.7 12.9h0.8M513.0 16.3h0.8M507.0 22.0h0.8M505.9 22.3h0.8M499.7 13.1h0.8M507.0 44.9h0.8M501.3 43.0h0.8M506.4 12.0h0.8M512.3 50.8h0.8M509.2 18.1h0.8M504.6 2.0h0.8M503.7 42.3h0.8M510.6 15.5h0.8" fill="none" stroke="#808080" stroke-width="0.8" />
<path d="M496.6 87.4l1.6 1.7 1.2 1.5 -0.3 2.4 2.1 2.8 2.4 1.7 0.3 2.6 2.5 3.3 1.1 2.8 1.2 3.2 -1.5 3.2 -1.2 3.3 -1.1 2.9 -2.6 4.6 -4.8 3.5 -1.8 4.5 -1.6 3.4 -4.9 4.1 -1.4 4.2 -2.7 3.1 -1.0 3.7 0.5 3.4 0.0 3.6 0.6 3.9 0.1 2.9 2.3 4.2 2.6 1.8 0.0 3.8 2.3 3.0 1.4 4.7 1.4 3.5 0.5 4.9 1.8 4.8 -1.0 5.9M504.4 102.5l0.3 1.2 0.8 2.1 1.4 3.7 1.9 2.0 1.6 2.0 1.7 2.6 1.2 3.7 0.6 2.5 0.7 3.5 -1.1 1.8 -3.2 2.0 -2.1 1.8 -3.5 3.4 -2.4 1.7 -4.7 1.8 -4.7 2.2 -4.0 2.2 -3.6 2.4 -2.3 2.8 -1.5 3.0 -0.3 2.3 0.0 3.4 -1.5 2.6 2.4 4.3 1.6 3.2 2.1 2.2 1.6 4.7 0.5 3.7 3.4 4.1 -0.7 4.6M501.7 95.5l-0.2 2.0 2.0 1.6 0.3 2.1 2.9 2.4 1.0 2.6 1.7 2.3 -0.8 3.5 1.4 3.4 -0.4 2.6 0.7 2.9 -1.7 2.9 -2.7 2.4 -4.0 2.2 -2.2 3.8 -5.3 2.1 -2.1 3.4 -5.6 3.0 -1.8 3.1 -3.1 3.8 -2.1 2.8 -1.2 3.3 -0.1 3.6 3.2 3.1 -1.1 1.9 2.8 3.3 0.8 4.7 1.8 2.6 2.2 4.6 -0.2 3.6 1.4 4.0 0.9 4.4 2.0 5.2M488.3 75.2l0.3 0.8 -0.1 2.5 4.1 1.7 -0.2 2.3 0.7 2.4 1.9 2.9 1.9 2.4 0.4 3.3 0.9 3.2 -0.1 3.4 -0.2 4.1 -2.3 4.1 -1.4 6.0 -0.6 4.6 -2.7 5.2 -2.5 5.8 -1.9 5.5 -0.7 5.3 -1.6 4.7 -0.4 5.1 0.5 3.1 -1.5 4.3 2.8 3.7 0.1 3.4 1.5 2.9 0.7 2.7 1.8 3.9 1.6 2.3 0.9 4.5 0.8 3.7 2.2 5.2 -0.8 4.8M497.6 205.5l-1.8 -5.0 -0.6 -6.2 -1.7 -4.3 1.9 -5.1 -3.2 -4.6 1.1 -4.2 -2.9 -3.3 -2.1 -3.2 -2.2 -3.4 0.0 -3.7 0.2 -3.1 -0.2 -4.5 -2.0 -2.0 -1.1 -2.7 -1.6 -3.1 -1.4 -2.8 -0.6 -3.1 -0.4 -2.1 0.4 -2.6 -1.3 -2.5 1.0 -1.2 -4.3 -3.1 1.7 -2.6 -1.6 -1.3 -2.9 -3.0 -0.7 -1.8 -3.9 -3.6 -1.0 -2.4 -1.1 -1.9 -2.1 -1.7 -1.7 -2.9 -2.0 -2.2 -1.3 -2.1 -1.6 -1.9 -1.5 -3.0 -2.3 -1.5 -2.9 -1.6 -2.5 -2.4 -0.9 -2.9 -1.5 -0.8 -0.5 -2.1 -0.7 -2.1 -2.7 -1.4 -1.5 -0.4M494.3 194.5l-0.3 -4.9 -0.5 -4.0 -2.0 -5.0 -1.0 -4.8 -1.1 -2.1 -1.1 -3.7 -1.0 -4.4 -2.4 -3.1 2.2 -4.2 -1.9 -2.5 -3.1 -1.9 1.4 -4.6 -4.1 -3.0 1.4 -1.7 -1.3 -3.3 -1.8 -2.6 -0.6 -2.2 0.9 -2.3 -1.4 -2.2 -3.9 -2.5 -1.0 -3.0 0.4 -1.4 -3.3 -2.2 -1.1 -2.9 1.6 -3.0 -2.7 -1.3 -1.7 -2.3 -1.7 -1.9 -2.0 -2.1 -2.2 -3.9 -0.1 -1.9 -2.8 -1.1 -4.4 -2.8 -1.7 -2.9 -2.7 -3.5 -5.8 -3.0 -3.7 -3.2 -5.2 -1.9 -3.4 -2.8 -1.9 -3.1 -5.1 -1.5 -0.9 -1.7M491.1 189.8l-0.8 -4.8 -0.4 -4.1 -1.2 -3.8 -0.4 -2.9 -0.5 -3.9 -2.2 -4.4 -0.5 -3.3 -0.2 -4.3 -3.0 -1.8 -1.3 -2.9 -0.3 -3.8 -0.2 -2.5 -0.9 -2.9 -1.8 -2.7 -0.7 -2.9 -0.2 -2.1 -2.1 -2.7 -0.2 -2.1 -0.1 -1.1 -3.0 -3.3 0.8 -2.1 -1.1 -2.8 -1.3 -2.3 -1.3 -2.0 -5.4 -2.8 1.6 -2.4 -1.3 -1.1 -2.4 -3.3 -2.4 -1.8 -2.3 -2.3 -0.5 -2.4 -5.3 -2.7 -3.5 -3.2 -5.6 -4.2 -2.0 -3.4 -6.3 -3.5 -3.7 -2.0 -3.7 -3.1 -3.7 -2.5 -2.4 -1.8 -3.2 -2.5M496.2 205.8l1.0 -6.1 -3.0 -5.2 -0.4 -4.4 0.6 -4.2 -1.7 -5.3 -1.9 -3.1 0.0 -4.4 -2.1 -4.2 -0.4 -2.6 -3.0 -3.4 -0.2 -3.4 1.5 -2.8 -2.4 -4.2 -1.6 -3.1 -1.0 -2.2 -1.0 -3.0 -0.3 -2.8 -0.5 -2.6 -2.1 -2.5 -0.2 -1.3 -2.7 -3.3 -0.7 -1.6 2.3 -3.0 -3.0 -2.7 -4.0 -1.5 0.9 -3.2 -1.9 -1.9 -2.1 -2.7 1.0 -1.0 -3.5 -3.7 -0.9 -2.3 -2.8 -1.7 -2.4 -2.9 -3.5 -1.9 -1.9 -3.1 -5.0 -3.5 -4.9 -0.4 -0.5 -3.1 -7.0 -3.6 -3.5 -2.0 -4.9 -2.4 -1.3 -2.6 -3.7 -2.4 -3.2 -1.0M496.9 206.3l-1.5 -6.7 0.3 -4.9 -5.7 -4.7 2.2 -4.8 -1.8 -4.4 -1.4 -4.4 -0.3 -3.2 -1.6 -4.2 -0.7 -2.9 -3.3 -3.4 1.7 -3.0 -2.5 -3.0 1.3 -3.9 -1.3 -2.5 -3.7 -3.3 1.8 -3.0 -1.1 -2.1 -1.7 -3.0 -1.6 -2.2 -0.7 -2.8 -1.9 -2.3 0.4 -2.4 -0.7 -1.7 -1.2 -2.8 -1.8 -1.8 -1.8 -2.1 0.8 -4.0 -4.1 -1.9 -2.6 -0.6 -1.4 -3.4 -1.4 -2.1 -0.2 -2.0 -2.9 -2.7 -2.4 -2.4 -3.8 -2.0 -2.9 -3.5 -2.1 -1.8 -3.8 -4.4 -0.3 -3.5 -6.0 -1.4 -4.3 -3.3 -1.2 -2.8 -2.8 -1.7 -1.9 -1.9M499.7 206.9l-2.2 -6.7 2.3 -5.2 -2.4 -4.4 -0.6 -5.6 1.1 -3.9 -1.7 -4.6 0.8 -3.8 -2.0 -3.2 -2.4 -3.4 -0.4 -3.7 -0.1 -2.5 -2.3 -4.6 -2.7 -2.8 2.0 -3.1 -2.3 -3.4 -1.1 -2.7 0.1 -2.6 -0.9 -2.1 -0.6 -2.1 -1.2 -2.0 -1.1 -2.8 -2.0 -1.8 -0.5 -2.1 -2.3 -2.7 -1.8 -2.7 -0.3 -2.2 -0.4 -3.1 -1.9 -1.2 -1.4 -1.4 -1.4 -2.9 -2.7 -2.6 -0.6 -2.1 -4.9 -2.8 -1.7 -2.1 -4.0 -3.0 -2.4 -2.7 -4.5 -3.0 -5.8 -2.7 -5.2 -3.1 -3.9 -2.5 -3.9 -2.1 -3.2 -2.7 -6.5 -2.2 -1.2 -1.2M498.5 200.5l2.1 -6.0 -3.9 -4.9 -0.1 -4.6 0.8 -5.2 -2.4 -2.8 0.5 -3.8 -2.1 -3.5 -1.9 -3.8 1.1 -3.4 -2.5 -4.1 -2.1 -1.9 0.8 -3.3 -0.1 -3.9 -2.8 -1.7 -1.5 -2.4 -0.5 -3.9 -0.8 -2.6 -2.1 -2.5 1.1 -1.9 0.9 -2.5 -2.8 -3.3 -1.0 -1.5 0.2 -2.5 -2.4 -0.9 -3.8 -3.7 -2.0 -2.9 0.3 -1.9 -3.4 -2.8 -1.1 -2.5 0.8 -2.0 -4.0 -1.6 0.5 -2.8 -3.0 -1.6 -2.8 -1.7 -1.0 -2.3 -4.1 -0.8 -0.0 -1.3 -1.9 -2.0 -2.5 -0.6 -0.1 -1.4 -2.8 -0.7 0.9 -0.3 -2.3 -1.0" fill="none" stroke="#c4c4c4" stroke-width="0.6" stroke-linejoin="round" />
<path d="M497.0 206.3l-0.5 5.7 0.3 5.2 -0.8 4.8 1.1 5.5 1.5 2.9 -0.5 3.6M491.9 189.4l2.9 5.1 0.1 5.7 1.1 5.9 1.3 6.1 0.6 5.2 2.0 4.9 3.3 4.8 -0.4 3.5 0.4 3.4M493.1 200.3l0.9 5.3 1.3 6.5 0.4 5.0 1.0 5.7 -1.0 4.7 1.5 3.6 0.9 2.9M495.1 199.8l3.1 6.0 -0.0 5.1 0.9 7.0 1.3 5.4 0.2 3.2 0.9 4.5 -0.2 3.0M505.5 234.0l-1.5 -2.9 -0.6 -4.0 -1.5 -4.4 1.2 -5.2 -2.7 -5.9 -2.8 -6.0M503.9 234.0l-0.5 -2.7 -0.7 -4.0 -1.0 -4.8 -1.8 -5.4 -1.7 -6.2 -0.4 -4.5 -3.8 -6.9 0.2 -5.0M498.6 234.0l-0.3 -3.1 -1.3 -2.8 0.2 -5.1 0.2 -6.3 -2.9 -4.8 -0.3 -5.6 0.5 -6.2 -4.4 -5.0 0.7 -5.3M501.0 234.0l-0.6 -1.9 -0.4 -4.9 -0.3 -5.2 -0.4 -5.3 -2.0 -5.3 -1.0 -5.6M503.6 234.0l1.6 -3.1 -4.1 -3.7 -1.7 -5.3 0.1 -4.3 -1.1 -6.6 -1.5 -4.7M499.5 234.0l-1.5 -3.7 1.2 -3.8 1.3 -4.4 -1.3 -4.9 -0.4 -5.3 0.8 -5.0M498.3 234.0l0.5 -3.5 -0.4 -3.2 -0.7 -5.4 1.0 -5.3 0.1 -3.9 -0.8 -7.5 0.6 -4.8" fill="none" stroke="#828282" stroke-width="0.6" stroke-linejoin="round" stroke-dasharray="0.8 1.2"/>
<path d="M513.3 226.3l-0.5 -3.8 0.6 -4.7 2.0 -6.2 -1.9 -5.9M500.0 211.6l-0.1 -2.3 -0.1 -3.4 0.2 -2.8M508.5 234.0l-1.1 -3.2 -0.5 -3.6 -2.3 -5.8 -1.2 -5.1 -2.7 -5.3M512.0 234.0l0.6 -1.9 1.1 -2.9 0.1 -4.0 0.2 -3.9 2.1 -4.1 1.3 -3.8M509.0 216.6l0.1 -1.7 -0.5 -3.4 1.0 -3.4 1.5 -2.9 0.0 -4.5 -0.2 -4.7M514.7 229.2l-0.8 -2.8 -1.6 -5.4 -1.0 -4.4 -0.2 -5.7M501.6 223.6l-1.6 -3.3 2.6 -4.8 -1.9 -4.9 1.8 -6.5 1.3 -7.2M502.3 209.8l0.2 -2.0 1.6 -2.6 -0.1 -3.9M509.1 234.0l-0.5 -2.6 -1.0 -3.9 -1.5 -5.4 -3.7 -5.9 -1.5 -5.3M511.4 232.9l0.6 -2.4 -1.6 -3.5 0.3 -3.9 -0.5 -5.2 -0.1 -4.3 -0.7 -4.4 -2.1 -5.4M510.4 208.7l-0.1 -2.5 -1.5 -5.1M505.6 227.8l-1.4 -2.3 0.1 -3.5 1.4 -4.1 1.0 -2.9 -1.1 -5.7 0.7 -4.8M512.9 234.0l-0.3 -3.0 1.2 -2.1 0.7 -3.3 0.1 -4.7 0.6 -3.1 0.7 -5.2 2.5 -4.4 1.1 -4.4 0.4 -4.8M508.9 228.0l-0.1 -3.2 0.4 -4.3 0.9 -4.6 -0.8 -5.8 1.2 -5.8M501.0 219.2l0.4 -3.4 0.8 -4.4 -0.5 -5.4 -0.4 -5.5M516.5 229.1l-0.0 -2.7 1.3 -4.7 1.1 -3.9 -0.7 -5.2 -0.6 -4.6M504.6 234.0l-0.9 -2.8 -1.2 -4.0 -0.6 -4.9 -1.7 -5.8 -0.5 -5.8 -1.5 -5.8M513.1 210.2l-1.5 -2.5 2.0 -1.8 0.2 -4.0 2.0 -2.0 -1.0 -3.8M499.6 234.0l0.6 -3.1 -1.0 -4.1 0.4 -4.2 -2.2 -5.5 0.5 -6.0 -0.1 -5.6 -0.3 -5.9 -0.9 -5.5M515.6 234.0l1.1 -2.4 -0.0 -2.0 0.2 -4.3 1.5 -3.3 -1.7 -3.9 1.8 -5.0 0.7 -4.2 -0.2 -4.6 1.5 -4.7M513.4 233.0l-0.7 -3.0 -0.3 -3.7 -0.1 -4.5 -0.3 -5.0 -1.0 -5.4 -1.8 -5.9 0.6 -5.4M509.2 226.5l-0.2 -2.0 1.5 -3.1 0.5 -3.2 0.3 -3.5 -1.9 -4.1 3.3 -5.2 2.7 -3.4M507.7 227.7l-1.3 -4.2 1.5 -4.2 0.4 -6.2 -2.0 -6.0M503.7 234.0l-1.1 -3.0 0.3 -4.2 -2.7 -4.8 -0.5 -5.3M504.3 230.1l0.8 -3.5 0.4 -5.9 1.9 -5.7M509.7 221.7l0.7 -2.9 -2.5 -3.3 -1.1 -3.6 2.0 -4.0 -2.4 -5.0M504.2 216.3l-0.2 -2.8 -0.5 -3.1 0.5 -5.6 1.0 -4.4M512.2 234.0l0.8 -2.1 -0.1 -3.0 2.3 -3.6 -0.6 -3.7 1.6 -3.8 1.3 -4.9 0.3 -4.4M502.2 207.2l0.7 -2.6 0.7 -4.0 -1.2 -4.9M502.2 225.8l1.0 -2.4 0.3 -3.4 -0.3 -3.6 1.3 -3.5M515.5 212.0l-1.0 -3.1 1.3 -3.6M501.1 205.5l-0.2 -3.1 -1.3 -1.5M503.9 214.8l0.8 -1.7 -1.1 -2.6M507.0 234.0l-1.1 -3.5 0.0 -3.6 -4.0 -4.3 1.1 -5.9 -1.9 -5.4M504.7 206.6l-0.2 -1.7M512.9 218.2l-0.8 -3.5 1.7 -3.4M509.8 210.4l-0.6 -1.9 -0.0 -2.4 0.9 -3.6 -0.4 -2.0M511.2 208.7l-0.8 -3.2 -0.6 -1.4 -1.8 -4.1 0.5 -4.7M500.1 231.7l0.6 -2.7 -1.0 -5.3 -1.1 -5.1 -0.0 -5.0 0.4 -6.1 -1.9 -5.8 -1.3 -5.4M513.1 218.2l-0.7 -3.3M505.8 205.1l-1.1 -2.4M514.9 214.0l0.5 -2.3M514.8 234.0l-0.4 -2.9 1.5 -2.2 0.5 -3.5 0.9 -3.6 -0.2 -4.0 0.1 -4.7M501.1 211.7l0.5 -1.6 -0.1 -1.8 1.0 -2.8 0.7 -2.7 2.2 -3.9M517.1 234.0l0.5 -2.3 -0.2 -2.8 1.5 -3.8 -1.2 -3.1 0.3 -4.6 1.6 -4.6 -0.2 -4.3 2.4 -4.1M501.2 225.7l0.8 -4.2 -1.1 -4.5 0.1 -6.9 0.4 -5.3M506.7 222.6l-0.3 -2.6 -0.1 -4.4 2.1 -5.6 0.5 -5.4M500.6 230.0l0.1 -2.9 2.1 -2.8 -1.3 -5.2 1.6 -5.3 2.4 -4.9M507.1 219.0l-0.3 -2.1 -0.5 -3.7 -0.5 -3.3 -0.9 -4.9 0.1 -3.6 1.3 -5.0M501.6 218.4l-0.6 -2.2 0.1 -3.1 -0.4 -3.7 0.5 -3.0 0.6 -5.7 -0.3 -4.3 0.6 -3.8M507.8 234.6l-0.7 -2.5 0.8 -4.1 2.1 -4.4 -1.9 -3.6 0.1 -5.8 -0.7 -5.4M503.0 234.3l-0.2 -2.8 1.0 -2.8 -0.9 -5.1 2.8 -4.5 -0.7 -5.1M500.7 217.7l-0.1 -1.9 0.4 -2.9M499.4 234.0l-0.2 -4.0 -0.6 -3.3 -0.7 -5.0 0.2 -4.5 -1.1 -6.3 -1.1 -5.8M512.4 212.0l1.3 -3.7 -0.8 -3.7 -0.0 -5.2 -1.6 -4.8M500.3 216.6l-1.7 -1.2 2.2 -3.1 -0.5 -2.2 0.6 -3.5 -1.3 -3.9M514.0 225.2l-0.6 -3.4 -0.8 -1.8 -1.1 -4.9 0.3 -3.8 -1.2 -4.7 -1.4 -5.0 -2.4 -4.6M508.1 210.7l-0.5 -3.1 1.3 -4.6 -0.3 -5.3 1.7 -5.6M509.6 206.1l-0.7 -3.0M503.0 226.0l1.5 -3.2 0.3 -4.7 0.4 -5.5 2.7 -5.0 -0.7 -6.6M512.0 214.5l-0.8 -2.2 -0.9 -3.2 2.1 -4.4 -1.1 -3.5M508.0 221.7l-1.0 -3.7 1.2 -3.1 1.4 -5.5 0.4 -6.1 0.6 -5.7M502.1 234.0l0.3 -2.8 -1.2 -4.5 -1.1 -4.4 -0.8 -5.6 -1.7 -5.1 -0.7 -6.5M511.7 214.6l-0.1 -1.4 -0.4 -3.5 0.7 -3.2 0.3 -3.4 2.3 -3.9M504.8 234.0l-0.7 -3.1 -1.5 -3.6 -1.2 -5.3 0.1 -5.1 -2.4 -5.8 1.1 -5.7 -2.5 -5.4M515.2 206.5l0.6 -1.7 -1.2 -2.2 -0.4 -3.3 0.2 -2.6M510.6 223.7l0.7 -2.8 -0.4 -4.2 1.0 -5.7 0.9 -5.6 -2.1 -6.7M513.7 234.8l-0.3 -3.6 0.8 -5.6 0.2 -5.5 1.0 -6.6 -0.8 -7.5M500.5 215.7l-0.9 -3.0 1.3 -2.5M512.7 222.8l-0.2 -1.9 0.0 -3.2 -0.5 -2.9 0.2 -4.0 -0.9 -3.9M509.2 227.5l-0.2 -2.2 -1.0 -3.9 -0.0 -3.0 -0.7 -5.4 1.3 -4.6 -1.8 -5.4 -1.3 -5.1 -1.0 -5.1M516.2 218.8l0.9 -2.9 -1.0 -3.3 1.6 -4.0M504.0 227.4l-0.6 -3.3 1.1 -4.5 -0.6 -4.7 2.4 -6.3M513.3 228.9l-1.1 -3.3 2.1 -4.2 -1.1 -4.4 -0.2 -5.1 1.2 -5.6M502.6 224.2l1.0 -4.2 -2.3 -3.9 0.4 -5.3 0.1 -4.8 0.3 -7.4M507.2 234.0l1.8 -2.8 0.2 -2.5 0.7 -2.5 0.7 -4.4 3.4 -3.9 1.8 -3.6 1.3 -5.4M510.5 220.1l0.6 -2.8 0.6 -3.9 -1.3 -3.2 1.3 -5.1M511.0 232.7l2.5 -3.3 -2.4 -3.2 -0.4 -4.2 -0.4 -4.5 -1.1 -5.8 1.2 -5.1M506.6 230.7l0.8 -3.0 -0.5 -3.6 0.7 -3.6 -1.7 -5.5 1.5 -5.7 1.3 -5.7 0.4 -6.6 -0.6 -5.4M508.0 234.0l1.1 -2.4 1.4 -3.1 1.1 -2.6 1.2 -4.0 1.8 -3.9 1.6 -3.8 1.8 -5.0M505.0 215.3l1.1 -2.1 0.8 -2.1 -1.0 -3.8 2.3 -2.5 0.2 -4.3 1.4 -4.4M515.0 232.1l-0.5 -2.5 0.8 -5.8 -0.5 -5.0 1.2 -5.4 -0.0 -5.9 0.4 -6.4M511.2 234.0l0.7 -2.6 2.0 -2.4 -0.7 -3.6 1.1 -4.1 1.4 -3.9 2.2 -4.3M518.0 234.0l0.7 -2.2 -1.1 -3.3 1.3 -2.8 0.1 -4.0 1.1 -4.3 -1.6 -4.0M499.3 234.0l-1.4 -3.1 2.3 -4.2 -1.4 -4.5 0.8 -5.3 -2.6 -6.2M503.7 219.1l-0.1 -3.2 -0.2 -3.5M515.1 235.5l0.9 -4.4 0.0 -4.1 -0.9 -5.4 0.5 -6.6M501.5 218.6l0.4 -3.5 -0.7 -3.7 1.0 -5.2 0.3 -6.5 1.1 -6.4M502.1 218.0l0.4 -3.0 -1.4 -3.3 1.0 -4.5 -2.3 -4.9M501.1 210.6l0.5 -1.7 0.1 -1.8 -1.2 -3.3 -0.4 -3.2 -0.2 -3.4 1.5 -2.7M503.8 226.3l0.7 -4.1 1.1 -3.7 -1.9 -5.8 0.2 -5.6 1.4 -6.3 0.3 -7.3M509.5 234.0l-0.3 -2.5 -0.9 -4.3 0.9 -4.6 1.2 -4.5 -0.9 -4.5M514.2 221.6l2.6 -3.8 -2.7 -2.8 1.4 -4.5 0.2 -5.0M512.3 234.0l1.9 -2.8 -0.3 -2.0 0.3 -3.5 0.5 -3.4 0.7 -4.7 2.2 -3.8 1.2 -4.0 -0.0 -5.0M518.5 234.0l0.0 -2.1 0.6 -3.2 -0.5 -3.0 -0.0 -3.7 0.9 -3.9 0.3 -4.4 1.3 -4.0 -1.0 -5.1 0.8 -4.8 0.4 -4.9M504.1 233.9l0.6 -2.6 -1.2 -4.0 -1.1 -4.5 0.7 -4.6 -1.2 -5.8 -0.1 -5.7M509.9 207.8l-1.4 -2.2 1.4 -2.2 -0.5 -4.4M509.0 226.3l-0.4 -3.6 -0.2 -4.0 -0.7 -3.9M514.5 211.6l-0.3 -2.9 -1.6 -2.2 -2.6 -4.0M514.3 223.0l-0.3 -3.3 1.0 -4.0 -0.3 -6.2 -1.2 -4.2 -1.2 -6.3M516.4 224.2l-1.4 -3.7 1.9 -3.1 -1.7 -5.4 -1.3 -4.1M513.1 219.6l-0.5 -2.6 -0.0 -2.7 -1.8 -3.5 -1.2 -4.7 -0.9 -4.1M503.1 214.8l-0.1 -3.1 -0.1 -4.2 -1.0 -4.9 2.4 -4.2M511.8 231.6l0.4 -3.5 -0.2 -3.3 1.1 -5.0 -1.3 -5.4 0.9 -6.7M516.2 208.2l1.1 -2.5M501.7 234.0l-1.3 -2.8 0.7 -4.1 -1.1 -5.2 -1.7 -4.7 -1.4 -5.7 -1.1 -6.0M511.2 229.8l-0.0 -3.9 -0.0 -3.9 0.3 -6.2 0.1 -6.0M505.7 234.0l-2.6 -2.7 0.2 -4.9 -0.1 -4.1 -1.2 -5.8 -2.1 -6.2M516.3 217.4l-0.1 -2.0 1.8 -2.1 -0.2 -3.8M501.1 234.0l0.8 -2.9 -1.6 -4.1 -2.5 -4.9 1.9 -5.6 -1.1 -5.7M516.7 231.3l-1.1 -2.0 1.5 -3.7 0.5 -2.9 -1.5 -4.4 1.2 -4.8 -0.8 -4.8 0.3 -4.2 0.9 -4.7 0.5 -4.4M513.1 205.3l-1.0 -2.7 1.1 -1.8 -0.5 -3.3 -0.2 -4.3M502.9 206.9l-0.9 -2.3 0.8 -3.4 1.0 -3.6M500.8 217.9l0.8 -2.4 -0.4 -4.1 -0.6 -4.1 1.2 -4.5M515.4 226.0l-0.6 -2.2 -0.1 -3.2 1.1 -3.7 -2.1 -4.1 1.8 -5.2 -1.7 -4.5 1.2 -5.2 1.0 -3.5M506.3 219.5l1.1 -3.1 -2.3 -2.6 -0.8 -3.5 -1.2 -4.0 0.2 -4.8 -1.5 -4.2 -2.6 -5.0M516.3 234.0l-0.8 -2.2 0.8 -3.2 1.8 -2.7 -0.2 -3.7 0.1 -4.6 0.7 -4.3 1.7 -4.8 0.5 -4.5 -0.1 -4.6M515.0 234.0l1.0 -2.4 0.1 -2.7 0.1 -3.7 1.3 -3.3 0.2 -4.9 0.2 -4.6M515.3 234.0l0.1 -2.3 1.3 -2.7 -0.6 -3.8 1.1 -3.1 0.7 -4.1 -0.4 -4.6 0.7 -4.8M512.5 236.0l0.8 -2.7 1.1 -3.9 -0.8 -4.4 -2.0 -5.5 1.8 -4.6 0.0 -6.6 0.1 -4.1M513.1 230.6l0.3 -2.9 1.2 -4.8 -0.1 -5.4 0.0 -5.6 0.6 -5.5 -0.1 -7.1 3.0 -7.5M502.1 218.8l-1.4 -3.5 0.6 -3.9 -1.4 -5.6M507.6 234.0l0.6 -2.7 1.1 -2.5 1.1 -3.2 2.2 -4.1 0.4 -4.1 2.0 -4.2 1.5 -4.8 2.5 -4.8 -0.1 -4.2 3.3 -4.5M508.4 234.0l-1.2 -2.9 -1.5 -4.1 -1.3 -4.8 -1.2 -5.8 -3.1 -5.5 -0.8 -5.6M509.0 234.0l2.1 -2.3 0.1 -2.3 -0.1 -4.0 2.1 -3.7 2.3 -3.8 0.8 -3.5 1.9 -4.9 0.2 -4.8 2.1 -4.6 0.9 -5.2M511.8 214.6l-0.5 -2.3 1.1 -3.7M515.5 234.0l-0.7 -2.4 0.7 -2.5 1.6 -4.2 0.2 -3.5 0.9 -3.8 0.5 -4.2 0.3 -5.9 2.5 -3.5 -0.5 -4.8 1.6 -4.1M513.3 229.3l-0.4 -3.4 -2.0 -3.5 1.0 -5.7 -2.1 -5.9 -1.0 -7.0 -0.7 -5.7 -1.1 -7.2M515.5 232.6l0.7 -3.4 -1.6 -3.5 0.5 -5.0 0.4 -6.2 0.9 -5.1 0.1 -6.0 0.6 -7.0M514.8 234.0l0.9 -2.3 1.1 -2.7 0.4 -3.5 1.2 -3.3 -0.7 -4.3 1.4 -4.2 0.7 -4.2 0.4 -5.2M508.2 234.0l1.5 -2.2 0.0 -3.3 2.3 -2.8 0.6 -3.9 1.8 -3.8 0.5 -4.0 1.4 -4.8 1.9 -4.8 1.8 -5.1 2.5 -4.5M503.0 210.2l1.3 -1.4 -1.1 -3.4M508.0 230.0l0.5 -3.7 -0.0 -4.9 0.3 -4.0 1.1 -6.5M510.0 207.9l-0.1 -2.6 1.2 -2.2 -1.3 -3.4 1.5 -3.5 -0.3 -3.6M500.4 228.0l-1.0 -2.7 -0.8 -3.9 -0.1 -4.8 0.4 -5.8M514.5 215.8l-0.8 -2.3 1.1 -3.1 0.3 -4.4M504.7 235.3l0.5 -3.6 0.2 -4.5 0.2 -5.9 0.9 -6.1 1.3 -7.0 -0.7 -6.3M502.6 227.5l-0.4 -3.2 -1.7 -4.9 0.4 -4.5 -0.9 -5.3 -1.2 -7.0M505.2 234.0l-0.7 -2.8 -0.2 -4.0 -1.6 -4.8 -0.3 -5.8 -2.8 -6.3 -1.4 -4.4 -1.1 -6.4M509.6 226.0l-0.8 -3.1 -0.5 -3.4 1.0 -6.0 -3.2 -5.6 0.6 -5.5M502.0 213.3l-0.8 -2.7 1.2 -2.6 -1.1 -4.3 -1.4 -3.5M501.1 218.5l2.2 -3.2 -1.6 -3.5 -1.2 -4.2 -0.2 -5.9 -1.0 -5.1 0.4 -5.3M509.9 214.6l-0.3 -2.5 -0.2 -2.2 -1.0 -3.5 -2.0 -3.3 0.9 -4.1 -1.2 -4.7M503.5 235.3l-0.0 -2.9 0.8 -5.3 1.1 -5.5 1.3 -6.4 0.2 -6.5M506.6 234.0l1.3 -2.2 2.1 -3.2 1.2 -2.9 0.6 -3.9 1.7 -4.4 1.9 -4.4M502.8 234.0l-1.0 -3.0 -0.4 -4.4 -0.0 -4.6 -1.1 -5.4 -2.1 -5.5 1.2 -6.1 -2.6 -4.9 -0.3 -5.8M502.2 227.8l0.6 -3.7 -0.7 -4.8 -0.0 -5.3 -0.8 -6.4 -0.4 -7.4 0.2 -6.5M510.6 231.1l-0.6 -3.0 2.1 -3.8 -2.2 -5.1 -0.7 -5.8 0.4 -6.0 -0.9 -5.6 1.4 -6.3M508.7 221.5l0.7 -3.1 0.1 -4.0M505.1 212.5l-0.2 -1.4 -0.5 -2.8 2.0 -1.9 0.6 -3.5M500.6 235.8l0.7 -3.1 -1.6 -3.4 0.5 -4.4 -0.1 -4.8 1.0 -5.8 0.3 -5.7 -1.0 -4.6 0.5 -6.2M513.2 211.9l0.6 -2.6M509.8 221.3l0.4 -4.2 -0.4 -2.8 -1.1 -4.3M514.4 209.7l0.3 -2.2M512.4 234.0l-0.6 -2.8 0.2 -3.5 2.0 -5.4 -2.8 -5.2M505.2 215.5l0.1 -3.2 -0.8 -3.6 0.5 -5.4M503.5 232.9l-0.7 -3.0 1.3 -4.2 -0.9 -5.6 0.1 -5.2 2.3 -5.7M512.1 212.3l1.4 -3.2 -0.6 -3.1 -0.2 -4.4 2.4 -4.8 0.0 -6.0M511.6 218.5l0.2 -2.5 -2.6 -4.2 2.3 -4.1 -1.8 -4.9M511.7 234.2l0.2 -3.7 1.0 -5.9 0.5 -4.2 1.2 -7.4 0.0 -6.7 1.3 -9.2M504.7 228.1l1.0 -3.7 -0.8 -4.9 0.6 -3.5 0.2 -7.3 -0.9 -6.6 2.8 -6.2M508.3 229.7l-0.5 -3.4 0.1 -4.8 -2.2 -5.5M511.6 226.0l-0.2 -2.6 0.2 -4.0 -2.4 -4.1 1.3 -4.3 -1.6 -5.6M506.5 211.3l0.5 -2.2M501.5 220.5l1.1 -3.0 -1.3 -3.8 -1.1 -5.6 0.0 -3.9M513.7 222.7l1.0 -3.0 -1.9 -4.1 1.6 -5.2M498.3 234.0l-1.0 -3.4 -0.6 -3.3 1.8 -5.7 -0.3 -5.0 -0.7 -5.3 -0.4 -5.3 -1.1 -6.6M513.3 211.2l-0.8 -2.8 2.0 -2.3M506.1 234.0l-0.8 -3.5 -2.1 -3.3 -0.9 -4.9 -1.0 -5.6M519.1 234.0l0.5 -1.9 0.1 -3.5 -0.3 -3.0 0.2 -3.6 -0.5 -5.0 1.1 -4.2 -1.3 -4.6 1.9 -3.5M503.7 214.5l0.5 -2.9 0.5 -4.7 0.1 -4.7M509.9 208.1l-0.5 -3.6 0.8 -3.5M514.1 211.6l-0.0 -2.7 1.0 -2.7 0.3 -3.6M506.0 234.0l1.2 -2.3 0.5 -2.4 2.3 -4.1 1.7 -3.8 1.6 -3.9 1.4 -4.3 1.5 -4.7 2.4 -4.5M515.1 206.4l-0.7 -1.8M500.9 217.4l-0.7 -2.3 0.7 -4.5 -0.4 -3.5 -1.6 -5.2 0.3 -4.2 -0.3 -6.0M502.8 234.0l-0.2 -2.9 -0.2 -4.2 -1.6 -5.0 -0.9 -5.3 -2.4 -6.3 -0.9 -4.8M508.8 209.7l-0.5 -2.3 -2.1 -5.0 0.6 -4.5M512.9 227.5l0.1 -3.4 1.1 -2.4 -0.1 -3.8 0.0 -5.1 2.7 -3.4 0.3 -5.4M511.2 234.0l1.4 -2.0 -0.1 -3.5 0.1 -3.5 1.9 -3.9 0.6 -3.9 2.5 -4.3 0.5 -4.3 0.8 -5.2 1.2 -3.9M506.7 234.0l-1.0 -3.3 -0.3 -3.7 -2.0 -5.0 -1.4 -5.4 -3.4 -5.1 -1.2 -6.9M508.8 228.2l0.6 -2.7 1.8 -5.6 -3.2 -5.8 1.2 -4.9 1.0 -7.0M512.3 221.8l0.5 -2.1 -0.4 -2.7 -0.3 -3.5 -0.6 -3.1M510.1 225.8l-0.5 -2.7 1.1 -2.6 -0.2 -3.4 -0.9 -3.7 -0.4 -4.1 -0.6 -4.5 -0.3 -4.9 1.1 -3.6M505.6 212.5l-0.2 -3.2M507.4 229.8l-0.5 -3.2 -1.5 -4.8 -0.5 -4.5 1.8 -6.5 -1.2 -5.1 -1.2 -7.2M511.9 217.2l-0.9 -2.9 2.1 -3.8 1.4 -3.7M502.0 225.0l1.2 -3.9 0.6 -4.2 0.0 -6.3 0.8 -6.9 2.1 -5.9M504.9 231.9l-0.3 -3.0 0.3 -3.0 2.3 -4.6 1.7 -5.8 -1.2 -4.9M504.3 235.7l-0.1 -3.0 -0.9 -5.6 2.1 -5.4 -1.3 -4.9 -2.4 -6.9 -0.2 -6.6M500.0 234.0l-0.4 -3.1 -0.0 -4.5 -0.3 -4.4 -1.9 -5.8 0.9 -5.3 -2.4 -5.7M503.7 226.0l0.4 -2.3 -1.4 -3.5 2.5 -3.9 -1.8 -4.7M501.9 220.2l-1.1 -3.3 2.0 -2.8 1.1 -4.9 -1.0 -4.4M504.0 213.4l-0.4 -3.7M516.3 229.2l-0.1 -3.8 0.1 -3.9 -0.3 -4.5 -0.9 -6.0 0.4 -6.2 -1.3 -6.8M501.6 234.0l-0.3 -2.9 -0.2 -4.4 -1.6 -4.8 -0.3 -5.2 -1.6 -5.0M514.0 232.2l0.0 -3.9 0.7 -4.8 -0.8 -6.1 -2.2 -5.9M508.4 234.0l-1.2 -3.2 -2.6 -3.5 -1.1 -5.4 0.4 -5.5 -3.4 -5.2 -1.7 -6.4 -2.1 -5.3M511.2 206.9l1.2 -2.1 -1.4 -4.4 0.0 -3.9M507.5 233.1l-0.6 -4.1 1.0 -5.7 0.7 -5.6 -1.1 -7.2M515.4 234.0l-0.4 -2.3 0.7 -2.8 0.9 -3.5 0.3 -4.1 1.2 -4.2 0.4 -4.9 0.4 -4.1 1.9 -4.6 0.8 -4.6M508.8 213.2l1.2 -3.0 -0.2 -4.1 -0.5 -4.9M506.7 220.4l1.4 -2.3 -1.4 -2.7 0.0 -2.8 0.5 -4.7M511.8 235.3l1.0 -3.1 -1.1 -4.1 -0.7 -3.9 0.6 -5.6 -1.4 -4.7 -0.5 -5.8 0.7 -6.2M502.7 205.5l-0.9 -0.8 0.4 -2.9 1.1 -2.3M507.9 214.6l0.8 -1.8 -1.1 -4.5M508.1 207.9l-0.1 -2.3M501.1 229.8l1.9 -2.5 -1.5 -3.1 0.8 -3.5 2.1 -3.8 -0.6 -4.5 3.2 -4.2 -0.1 -4.0M506.1 209.9l-1.4 -2.8 1.4 -2.1 -1.0 -4.7 -0.2 -3.0M504.3 216.1l-0.4 -2.7 1.3 -3.2 -0.2 -4.6 0.5 -4.4 -0.9 -6.0M513.1 231.3l0.7 -3.6 -0.6 -3.5 -0.8 -4.1 1.0 -5.2 -0.3 -6.7 -1.2 -5.5 2.0 -7.3M508.6 213.9l-0.7 -2.7M514.0 221.3l0.1 -3.2 -0.1 -2.7 2.5 -3.8 -2.3 -4.1 1.8 -5.9 -1.3 -5.4M504.7 219.1l0.5 -2.9 -0.9 -4.2 0.2 -5.3M510.5 211.4l-0.4 -3.2M507.4 223.2l0.5 -3.1 0.9 -4.3 -0.1 -4.1M500.2 234.0l0.1 -2.5 -1.0 -4.6 -1.1 -4.6 -0.1 -4.8 -2.2 -6.9 -1.1 -5.0M515.8 224.6l-0.5 -2.9 0.3 -4.8 1.1 -4.2 0.8 -6.7 -0.6 -5.5 0.1 -6.4M516.7 234.4l0.5 -2.7 -0.2 -4.3 -0.2 -4.4 -0.7 -7.0 0.2 -5.5M509.1 215.2l-2.1 -1.9 2.1 -4.3 -0.2 -3.7 -2.3 -3.1 1.4 -4.9 -2.0 -5.0M516.7 235.1l0.5 -4.6 -0.9 -4.6 -1.6 -6.0 2.6 -7.3M513.0 208.7l-0.7 -2.0 0.0 -2.4 1.4 -2.9 0.4 -3.9 -0.1 -2.8M516.9 216.6l0.5 -2.7M511.3 233.2l-1.0 -3.6 -0.2 -3.3 0.3 -4.2 -0.1 -5.1 0.1 -4.6M504.9 234.0l-0.8 -3.0 -1.4 -4.2 -1.7 -5.3 -0.2 -5.3 -2.5 -5.2 -1.5 -5.8 -1.8 -5.8M503.9 235.9l1.3 -2.7 -1.3 -5.6 0.2 -5.9 3.5 -7.1 -0.2 -5.1M511.5 208.1l-0.3 -1.2M508.3 219.4l1.2 -2.0 -1.0 -3.4 0.5 -3.1 0.6 -4.2 1.8 -3.8 -1.7 -5.0 2.5 -4.7M509.5 234.0l1.4 -2.4 1.3 -2.9 -0.0 -2.8 1.3 -4.1 1.8 -3.6 2.2 -5.1 0.6 -3.9M516.0 220.5l0.4 -3.4 0.2 -4.0 -1.6 -5.2 -0.5 -4.8M504.4 235.3l0.2 -3.5 0.6 -3.6 1.2 -5.3 0.7 -4.8 1.1 -5.5 0.9 -6.4 0.4 -6.5M505.8 208.4l-0.5 -2.0" fill="none" stroke="#828282" stroke-width="0.7" stroke-linejoin="round" stroke-dasharray="0.8 1.2"/>
<path d="M507.5 208.2l0.9 -3.2 -2.5 -4.5M499.6 215.2l0.3 -4.1M507.5 214.7l-1.3 -2.8 2.2 -3.7 -0.1 -5.3M497.4 222.8l-1.1 -3.6 1.8 -4.4 1.3 -5.6 -0.8 -4.5M500.6 218.3l-1.0 -2.2M502.7 219.6l0.2 -3.6M507.8 208.6l0.9 -4.0M505.1 203.6l-0.1 -3.4M502.4 224.5l0.2 -3.7 2.1 -5.1M501.9 216.1l0.5 -4.2 1.8 -4.7M506.8 223.0l-0.1 -3.6 2.6 -4.7 1.6 -6.6M501.3 212.7l0.5 -3.2M503.7 224.7l0.4 -4.2 -0.7 -5.0M499.6 206.5l0.5 -3.1M501.0 218.4l0.9 -2.4 0.7 -3.9 1.0 -6.0 2.4 -5.4M495.4 227.0l-0.1 -3.1 1.9 -5.0 -1.5 -6.1 -1.1 -4.9 1.8 -8.0M505.5 213.9l0.2 -3.6 1.0 -5.8M500.6 218.7l1.7 -3.9 3.0 -3.6 0.6 -6.9 -1.4 -5.8M498.3 209.4l0.6 -4.0M500.4 224.4l0.7 -4.9 0.8 -5.6M506.0 224.9l-0.4 -4.3 1.1 -4.1 0.3 -6.6 -1.1 -6.3M496.4 223.6l0.2 -4.1 -0.5 -5.7 -1.3 -6.6 1.4 -7.2M496.3 226.8l1.0 -4.5 1.5 -4.9 2.2 -6.3M507.7 225.7l-0.1 -3.5 -0.5 -5.0 -2.6 -6.9 0.0 -7.0M501.6 200.9l0.8 -3.0M500.3 225.8l-0.4 -3.7 -0.8 -6.4 -0.1 -5.1M501.0 227.2l0.6 -4.9 -1.7 -5.4 1.0 -6.7M500.3 209.6l-0.2 -3.4 -0.3 -5.3M503.9 214.5l-0.4 -3.3M504.1 205.3l0.7 -2.7M496.2 217.7l1.6 -3.8 2.6 -4.5 0.5 -5.6 3.3 -5.1M504.3 207.7l0.7 -3.2 2.0 -4.1M496.9 223.1l0.9 -3.6 -2.1 -4.2 0.6 -6.7M503.4 221.4l0.2 -3.7 1.7 -4.6 1.2 -4.6 0.8 -7.0M496.1 222.7l0.4 -3.1 0.8 -5.9 1.0 -4.8M503.4 221.8l-0.1 -4.7 -1.6 -5.5M496.5 215.7l0.7 -3.5 -3.6 -4.5 1.4 -3.7M495.5 223.2l0.7 -3.5 -0.2 -5.8 2.9 -5.8M497.3 219.6l1.0 -3.4 0.2 -4.6 -0.0 -6.2M495.2 223.9l0.3 -3.6 0.8 -4.1M495.2 217.5l0.9 -3.5 3.1 -5.4 -0.2 -4.4M507.6 223.2l1.4 -4.0 -1.4 -4.8 0.1 -5.6 -1.1 -7.6M499.4 212.1l0.4 -2.4 0.1 -5.0 2.3 -5.5M499.9 203.3l1.6 -2.2M498.6 224.8l0.8 -3.2 0.1 -4.7M495.5 219.7l1.0 -3.8 -0.6 -3.6 3.4 -5.7 2.4 -4.6M504.0 204.1l1.0 -3.4M504.4 211.0l2.4 -2.7 1.6 -4.1M500.2 220.4l1.3 -3.9 -0.9 -5.5 1.3 -6.8M499.5 213.4l0.3 -3.3 1.9 -5.4M505.0 215.8l-0.0 -3.2M503.0 216.9l0.6 -3.0M501.0 214.0l0.3 -2.9 0.6 -4.4M496.1 218.5l0.2 -4.1M495.2 225.0l1.1 -3.8 0.9 -3.5 3.7 -5.9 -0.3 -7.1M495.1 219.5l0.6 -4.0 -0.0 -5.0 -1.2 -5.7M503.7 223.3l-0.3 -4.3 1.2 -5.7M500.5 225.8l-0.7 -5.6 0.9 -5.6 2.9 -6.4M495.8 224.2l1.1 -3.5 -0.9 -3.6 0.8 -6.0 -0.9 -5.4M507.5 221.1l1.0 -4.7 -1.5 -4.6M500.9 213.4l0.6 -3.8M500.5 216.9l1.7 -2.9 -0.5 -5.8 -0.4 -6.0M503.0 213.1l-1.6 -4.6 1.7 -3.9 -0.8 -5.3M507.5 211.1l1.6 -3.3 -1.3 -5.1M503.7 227.5l1.4 -3.8 -0.3 -5.0 0.2 -6.8M502.9 220.5l-0.3 -3.2 -0.8 -4.0 -1.8 -5.0M497.5 212.5l0.6 -3.4 -1.1 -3.1 -0.0 -5.1M496.4 220.0l-0.7 -3.6 1.1 -3.8 -1.9 -5.8M497.7 211.7l0.3 -3.1 -0.8 -4.7" fill="none" stroke="#ff7aaa" stroke-width="0.7" stroke-linejoin="round" stroke-dasharray="0.8 1.4"/>
<path d="M513.6 205.6l-0.8 -7.7 0.9 -7.4 1.0 -7.7 0.1 -6.7 -1.9 -7.3 1.8 -7.5 0.6 -6.4 -0.3 -4.5 0.6 -6.3 -0.6 -5.0 1.8 -6.1 1.2 -4.9 -1.3 -5.3 1.2 -3.8 -0.7 -4.0 1.0 -4.0 1.7 -2.6 -0.6 -2.9M500.0 203.1l-0.5 -4.1 0.7 -4.0 -1.8 -4.0 0.9 -4.4 0.2 -4.7 -0.8 -4.7 1.8 -4.0 -2.2 -3.5 1.5 -4.5 0.1 -3.4 2.0 -2.8 -2.0 -4.5 3.1 -4.1 0.5 -3.0 1.7 -4.3 -1.3 -2.9 1.4 -3.6 0.2 -2.3 0.7 -1.3M500.7 211.0l0.1 -5.4 -2.1 -5.9 -2.1 -5.1 -1.8 -4.1 -0.6 -4.6 -1.0 -3.5 0.1 -3.1 -1.1 -3.9 0.2 -2.6 -1.6 -3.3 -0.7 -3.3 -0.5 -3.3 -1.7 -2.9 -0.8 -3.4 -2.2 -3.0 -1.2 -4.3 -2.2 -3.0 -1.6 -3.5 -2.4 -3.8 -1.5 -2.5 -0.1 -4.3 -3.4 -3.6 -1.6 -3.3 -2.6 -3.5 -0.8 -3.8 -2.3 -3.9 -2.4 -4.5 -1.9 -4.3 -1.7 -2.1 -0.8 -3.5 -1.4 -1.6M517.3 213.4l1.2 -4.8 -0.4 -4.3 2.3 -5.6 2.5 -3.6 1.1 -4.1 2.5 -6.1 -0.1 -5.2 4.3 -5.1 1.9 -5.3 1.2 -5.4 2.5 -5.0 1.9 -4.2 1.2 -3.6 2.1 -2.6M510.8 196.0l-0.1 -4.7 -0.4 -5.0 1.3 -3.6 -1.1 -3.7 3.5 -4.3 -1.0 -3.8 -0.5 -3.0 0.9 -4.3 1.2 -3.6 -1.1 -3.6 1.9 -4.3 0.7 -2.8 -1.0 -2.9 1.8 -3.4 0.2 -2.0 -0.4 -2.1M511.0 211.0l-2.1 -6.7 -0.2 -7.1 -2.0 -6.6 -0.9 -7.2 -1.5 -4.8 -2.6 -6.6 -1.0 -5.2 -2.0 -5.6 -0.8 -4.9 -2.0 -4.5 -4.3 -5.7 -2.2 -4.9 -2.1 -4.0 -2.1 -4.8 -2.8 -3.8 -1.5 -3.1 -2.2 -3.6 -0.5 -2.0M503.7 196.9l-3.0 -5.4 3.0 -6.7 -1.0 -7.7 -0.7 -6.1 1.5 -6.1 -0.0 -5.4 -0.2 -4.8 -0.6 -5.8 3.8 -4.1 -0.2 -5.1 0.9 -5.0 2.1 -4.7 -0.0 -4.5 1.8 -4.1 1.4 -3.1 -1.5 -3.6 1.9 -2.0M504.1 201.3l2.0 -3.4 1.0 -4.1 1.5 -4.7 1.8 -3.8 -1.0 -4.4 2.7 -5.3 -1.2 -3.0 4.5 -3.1 -0.0 -3.5 3.6 -3.4 -1.1 -4.6 5.3 -4.0 2.7 -3.3 2.0 -3.2 3.2 -3.7 2.1 -2.6 1.7 -3.3 0.3 -2.5 2.6 -1.9M500.9 210.9l-0.2 -5.9 -2.2 -5.4 -2.3 -5.7 -1.1 -3.9 0.4 -4.4 -1.4 -3.3 -0.7 -3.5 -1.0 -3.5 0.2 -3.0 -0.3 -3.3 -1.7 -3.0 -0.5 -2.5 -0.1 -3.5 -2.6 -3.1 0.5 -3.7 -2.3 -2.4 -3.2 -3.5 -0.9 -3.0 -2.2 -3.5 -0.1 -2.9 -2.3 -3.9 -2.0 -3.0 -2.1 -2.9 -0.5 -4.0 -2.0 -3.5 -2.2 -3.6 -1.4 -3.4 -2.9 -3.6 -0.8 -3.5 -1.3 -2.0 -0.7 -1.8M507.2 203.9l0.4 -5.6 0.0 -5.0 -0.6 -5.2 -0.7 -3.4 -1.6 -3.9 0.2 -4.7 -1.6 -4.8 -0.4 -3.6 -0.4 -4.0 -2.4 -4.2 -0.1 -3.2 -0.3 -3.6 -0.3 -2.4 -1.0 -2.3 -0.7 -2.9M508.8 201.1l2.1 -3.7 1.7 -5.7 -0.5 -5.5 -0.8 -6.6 0.3 -5.4 0.3 -6.9 1.0 -5.2 0.5 -4.7 0.3 -5.0 0.3 -5.3 1.4 -4.0 -0.2 -5.9 1.7 -3.9 -0.1 -4.2 0.3 -4.7 -0.4 -3.8 1.9 -3.8 0.7 -2.6 0.0 -3.1 0.8 -2.7M506.3 204.4l-0.8 -4.9 0.5 -4.6 0.1 -4.8 0.6 -4.6 -1.3 -5.0 1.7 -2.5 -0.9 -4.3 -0.8 -4.7 0.7 -3.1 1.3 -3.1 -0.2 -4.2 -1.2 -3.3 1.3 -3.7 -1.8 -3.5 0.1 -1.9 1.1 -2.3M520.0 199.1l2.3 -4.1 1.4 -4.2 2.6 -5.1 1.0 -5.3 3.7 -5.0 -0.6 -5.8 3.0 -5.1 0.8 -4.4 2.4 -4.2 1.7 -3.7 0.9 -2.5M510.4 204.3l2.3 -6.8 -1.0 -6.6 1.1 -7.3 -0.9 -5.0 -0.1 -5.7 1.9 -4.7 -0.4 -5.5 0.1 -4.2 0.4 -5.0 -0.3 -5.2 -0.2 -5.0 1.6 -4.0 0.1 -4.1 1.3 -4.4 0.4 -2.9 -1.7 -3.5 1.3 -1.7M501.3 200.5l1.3 -6.2 -1.0 -7.2 0.9 -6.2 -0.8 -6.4 -0.2 -5.9 -0.5 -6.8 -1.1 -5.6 0.8 -4.4 -1.2 -4.1 -0.3 -5.6 1.6 -4.1 -1.8 -5.9 -0.0 -3.8 -0.4 -5.0 -0.7 -3.9 1.1 -2.7 -3.2 -3.8 1.4 -2.1M517.5 208.1l1.5 -6.7 -0.2 -4.9 1.8 -6.8 -0.3 -4.5 1.3 -5.0 0.6 -5.9 0.8 -3.8 0.6 -4.6 -0.0 -5.1 3.1 -4.2 0.7 -5.1 0.4 -4.4 2.3 -3.2 0.8 -3.4 2.1 -3.6 1.7 -2.5 0.2 -2.2M498.2 204.8l-0.7 -4.9 -1.8 -5.3 -1.4 -5.0 -0.8 -3.9 -1.5 -3.9 -1.5 -2.9 -1.0 -3.8 -0.0 -3.7 -0.2 -3.0 -3.1 -2.4 -0.1 -3.4 -1.0 -3.0 0.1 -2.3 -1.9 -2.0 -1.6 -2.6 -1.1 -1.7 -0.8 -2.4 -0.6 -1.6 -1.8 -2.3 -0.8 -2.2 -1.1 -2.2 -1.4 -2.0 -1.5 -2.0 0.4 -2.9 -3.8 -2.8 -1.9 -2.6 0.6 -1.9 -1.1 -1.9 -1.1 -1.5 -0.9 -2.0M514.8 196.0l-0.3 -4.1 0.9 -4.6 3.1 -3.5 1.8 -4.1 0.4 -3.0 0.4 -3.7 2.0 -3.3 1.0 -3.7 0.0 -3.9 2.3 -2.7 1.5 -4.4 0.7 -2.9 3.6 -3.2 2.5 -2.9 2.4 -2.2 0.9 -2.3 -0.1 -2.3M496.5 194.1l-0.3 -4.7 -0.9 -3.4 0.5 -3.4 -0.9 -3.5 -1.8 -4.0 -0.8 -2.7 -0.2 -3.0 -0.6 -3.6 -0.6 -2.7 -0.9 -2.9 0.2 -2.5 -1.6 -3.5 -0.9 -1.6 -0.8 -2.0 -1.7 -2.2 -1.2 -2.0 -1.6 -1.9 -0.5 -1.8 -2.0 -2.6 -0.4 -2.2 -1.4 -2.8 -0.4 -1.9 -1.5 -3.4 -1.1 -2.5 -0.2 -2.0 -2.1 -2.0 -0.1 -1.1 -1.4 -2.0M520.5 199.5l1.9 -4.3 1.8 -5.4 1.0 -5.3 1.4 -6.5 2.5 -5.7 0.5 -6.2 2.2 -6.1 2.5 -5.3 1.8 -5.9 2.2 -4.3 0.5 -3.0M509.8 200.1l-1.3 -5.1 -0.7 -7.0 -2.0 -4.3 -0.7 -4.6 -2.7 -4.4 -1.5 -3.9 -1.7 -5.6 -3.8 -4.8 -3.0 -3.4 -1.4 -4.5 -5.0 -4.0 -2.7 -3.8 -1.2 -2.8 -0.8 -2.7 -2.6 -2.1M515.3 201.9l0.6 -4.9 -0.2 -4.5 0.8 -3.7 1.1 -3.7 1.4 -3.7 0.0 -4.6 0.6 -2.9 0.9 -3.7 0.8 -4.1 2.5 -3.5 -0.1 -3.7 -0.3 -2.5 2.5 -3.0 -0.3 -1.7 0.1 -2.7M506.2 207.1l0.7 -7.1 0.3 -7.5 -0.3 -6.4 -0.5 -8.5 -0.1 -6.7 0.0 -6.1 0.4 -5.6 -1.1 -5.3 -2.2 -6.7 -0.7 -5.1 -1.3 -5.1 -1.9 -5.2 -0.3 -4.1 0.2 -4.7 -1.6 -4.2 -2.3 -4.7 -0.0 -2.7 -0.9 -2.6M499.7 216.7l-1.8 -5.9 -1.8 -5.1 -0.2 -6.1 -1.0 -4.9 -3.2 -4.9 0.7 -3.6 -1.0 -3.7 -1.1 -3.9 -0.5 -3.1 -2.9 -3.1 1.4 -2.8 -1.2 -2.6 -1.8 -3.6 0.4 -3.5 -3.0 -3.4 -0.5 -2.3 -2.6 -3.1 -1.3 -3.4 -2.1 -2.5 -1.6 -3.6 -1.7 -2.3 -0.4 -2.8 -3.0 -3.3 -2.2 -2.3 -2.5 -4.0 -0.4 -3.3 -2.6 -3.6 -1.1 -3.5 -1.8 -2.1 -2.2 -3.7 -0.8 -2.0 -1.4 -1.7M503.7 208.9l-0.2 -2.3 1.8 -1.4 -1.3 -2.1 0.0 -2.9 1.3 -2.8 -1.7 -3.2 1.1 -4.3 -0.3 -2.4 0.7 -2.7 0.2 -3.6 1.1 -1.9 -0.0 -2.7 1.5 -4.5 -0.4 -2.3 0.0 -3.0 0.8 -3.3 0.7 -3.9 1.9 -2.4 -0.1 -3.3 0.6 -2.3 0.5 -1.7 0.4 -1.5M507.4 215.0l0.6 -7.4 -0.4 -7.1 0.4 -7.8 1.9 -7.6 1.0 -7.8 2.5 -6.7 -1.7 -7.3 4.9 -6.9 0.7 -4.8 0.7 -6.2 3.2 -5.0 0.4 -5.3 3.5 -5.1 3.0 -5.5 1.3 -4.1 2.7 -5.2 0.8 -3.3 2.2 -3.8 0.6 -2.3M506.3 202.9l-0.2 -6.0 -2.6 -3.9 -2.1 -5.6 -1.4 -5.2 -0.8 -4.1 -2.5 -3.6 -0.2 -4.5 -2.5 -3.9 -2.3 -4.4 -0.5 -4.0 -2.9 -4.2 -1.6 -3.6 -2.4 -4.2 -2.4 -3.0 -1.3 -3.1 -0.9 -2.4 -1.6 -2.0M505.0 200.3l1.4 -5.5 0.1 -5.3 -0.5 -6.2 0.7 -5.0 -0.9 -6.7 2.5 -4.2 2.2 -4.3 -0.6 -4.9 3.1 -4.2 0.5 -5.3 2.6 -4.0 2.3 -3.6 2.3 -4.1 0.5 -5.1 4.2 -2.5 -0.2 -4.0 2.9 -2.7 0.7 -1.9M517.7 208.6l1.4 -4.8 2.4 -4.2 0.2 -4.2 2.5 -5.2 2.0 -5.1 1.4 -5.0 1.3 -5.9 3.5 -5.2 0.5 -5.6 1.9 -4.7 1.7 -4.4 1.0 -4.3 1.8 -2.2M502.4 195.7l1.8 -5.3 1.3 -5.3 0.6 -6.8 -1.1 -6.0 1.9 -5.3 0.7 -5.8 1.3 -5.1 2.4 -4.7 -1.4 -4.6 1.4 -4.3 1.5 -4.7 0.5 -5.1 1.3 -4.1 0.1 -5.0 0.5 -3.4 1.8 -4.1 1.4 -2.7 -0.8 -2.8 1.6 -2.3M504.6 212.9l-0.6 -5.3 0.4 -3.9 0.9 -5.3 -0.5 -4.9 2.2 -4.3 0.0 -3.8 -0.0 -3.9 2.6 -4.3 -1.0 -4.1 1.7 -4.2 3.1 -4.1 -0.2 -3.4 1.9 -3.4 0.9 -3.3 1.9 -3.7 1.8 -3.7 0.4 -1.8 1.1 -1.8M515.8 205.4l-0.7 -4.6 0.4 -5.6 2.1 -5.6 -0.7 -5.8 0.7 -6.3 -0.5 -5.3 0.6 -5.5 1.5 -5.9 1.9 -5.1 -0.2 -4.3 1.8 -4.4 1.0 -4.6 3.1 -4.6 -0.5 -4.5 3.6 -4.3 -0.2 -3.8 2.6 -3.5 0.9 -3.7 0.9 -2.2 1.5 -2.5M499.6 200.9l-0.6 -4.0 -0.8 -4.0 -0.1 -3.1 -1.2 -4.4 -1.4 -4.5 0.9 -4.1 -2.2 -4.2 -1.6 -4.9 -1.2 -3.1 -0.8 -2.7 -0.5 -3.8 -3.9 -3.6 0.0 -3.4 -0.8 -4.6 -1.2 -2.8 -2.7 -3.6 -0.2 -4.3 -1.1 -1.3 -2.4 -2.2 0.5 -2.3M503.5 210.4l2.0 -3.4 -0.4 -3.0 -0.3 -4.0 -0.8 -3.5 2.1 -3.4 -2.0 -5.1 2.2 -3.5 -1.4 -4.2 2.4 -2.4 -0.5 -3.9 -3.2 -2.8 1.2 -3.7 -2.0 -3.5 0.7 -4.3 -1.5 -3.6 -0.2 -2.4 0.2 -3.4 -0.4 -2.1 -1.5 -2.9 0.5 -1.5M501.1 211.3l-1.5 -6.2 -1.6 -5.3 -1.3 -5.1 -2.2 -4.8 -2.0 -4.3 -1.1 -3.4 -0.0 -3.3 -0.5 -3.0 0.4 -2.9 -1.5 -2.8 0.2 -3.4 -1.5 -2.7 -1.5 -4.4 -1.8 -3.4 -0.7 -4.3 -3.1 -3.4 -3.3 -4.2 -2.1 -3.9 -2.7 -4.2 -1.8 -4.3 -3.0 -3.9 -1.7 -3.4 -1.1 -4.6 -1.8 -4.7 -2.9 -4.7 -3.9 -4.5 -2.7 -4.4 -1.5 -4.3 -2.1 -3.4 -0.2 -3.7 -2.3 -1.9M504.5 204.9l0.6 -2.5 0.0 -1.7 -0.6 -3.5 2.5 -3.2 -0.0 -3.5 0.1 -3.3 0.3 -3.1 0.3 -3.5 2.3 -2.7 -0.8 -3.4 0.4 -2.7 0.4 -3.5 2.0 -2.7 -0.8 -3.9 3.1 -3.5 -1.0 -3.0 1.0 -3.0 -1.2 -3.0 1.1 -1.9 0.9 -2.8 0.1 -1.3M513.9 211.2l0.3 -5.6 -0.3 -5.4 0.2 -6.0 -1.8 -7.3 1.7 -5.9 -1.8 -6.6 2.3 -5.8 -0.7 -6.0 -0.6 -5.2 1.3 -5.7 1.3 -4.9 0.0 -4.5 3.4 -4.1 -1.1 -5.0 1.4 -4.6 2.3 -4.7 -0.1 -4.3 1.8 -2.2 0.0 -2.7 0.7 -3.0M509.7 200.4l0.7 -4.1 0.3 -3.9 0.5 -4.1 -1.1 -2.9 -0.4 -3.1 -0.2 -3.6 0.3 -3.6 -0.4 -3.0 -1.0 -3.3 -1.0 -3.9 -1.6 -2.8 0.1 -3.3 -0.9 -3.4 -0.9 -3.0 -1.0 -4.1 -0.8 -1.8 -0.9 -2.2 -0.4 -1.6M508.5 195.2l-2.4 -4.3 -0.8 -5.6 -3.6 -4.1 0.7 -5.6 -2.0 -4.0 -2.1 -4.8 -1.5 -3.6 0.4 -4.3 -2.8 -3.8 -2.1 -4.1 -1.4 -3.9 -2.1 -3.6 -3.2 -4.3 -2.2 -3.9 -0.6 -2.7 -1.8 -3.2 -0.9 -2.4 -2.0 -2.0M495.9 196.4l-0.8 -7.2 0.5 -6.3 -2.4 -5.3 -0.4 -5.4 0.1 -3.4 -1.8 -5.2 -2.6 -4.9 -0.1 -4.3 -1.4 -4.2 -2.0 -5.7 -0.7 -3.3 -2.4 -4.3 -1.2 -3.3 0.1 -2.9 -0.6 -1.8M512.4 214.9l0.1 -3.2 -1.0 -4.0 0.8 -4.8 -0.8 -5.7 0.1 -5.2 -0.6 -4.6 0.3 -5.5 -0.7 -6.0 -0.6 -4.4 -0.6 -4.6 1.0 -4.0 -0.6 -4.0 -0.0 -4.6 -0.1 -4.7 3.8 -4.8 -3.5 -3.5 2.3 -3.6 -1.1 -3.6 0.6 -2.7 1.3 -3.6 -0.3 -1.5M504.7 202.7l0.7 -5.2 1.9 -3.6 -1.2 -5.1 -2.3 -5.8 1.7 -5.6 -1.4 -5.5 0.9 -6.4 -2.4 -5.9 1.5 -4.9 -0.0 -4.3 -0.5 -5.3 -1.0 -4.5 -0.6 -4.2 -1.2 -4.6 0.5 -5.1 -0.2 -3.2 -0.2 -3.8 -0.9 -4.4 -1.3 -3.1 0.7 -3.3 -0.8 -1.4M505.1 208.5l1.2 -3.1 -1.8 -4.4 -0.3 -5.0 -0.6 -4.6 0.2 -4.8 -1.2 -6.8 -0.0 -6.0 -1.0 -6.1 0.9 -5.6 -1.6 -5.7 0.0 -4.7 0.7 -4.8 -0.5 -5.5 0.4 -4.2 -0.6 -3.7 -0.5 -5.0 0.8 -4.2 -0.4 -4.0 1.1 -4.4 -1.1 -2.9 -0.7 -2.5 0.6 -2.4M515.4 211.7l-0.6 -2.9 1.7 -3.6 -0.8 -4.0 1.5 -5.4 -0.9 -3.3 -0.1 -5.4 1.3 -4.5 -0.1 -4.7 0.4 -3.5 2.2 -5.0 -0.8 -4.5 1.4 -3.1 2.6 -4.1 0.5 -3.2 2.6 -4.7 2.5 -4.0 1.4 -2.5 -0.1 -3.4 2.1 -2.6 2.1 -2.8 0.1 -1.9M517.1 213.1l2.2 -4.5 1.0 -4.2 1.2 -5.0 0.5 -4.2 1.9 -3.8 2.1 -5.9 0.5 -4.9 2.7 -5.4 1.8 -5.7 0.9 -4.7 2.2 -5.0 1.4 -4.0 0.6 -3.4 1.2 -2.8M505.4 198.8l-0.6 -2.5 1.8 -4.2 -1.2 -2.6 0.8 -4.4 1.6 -1.9 2.2 -3.2 0.7 -3.5 0.3 -2.9 3.1 -2.5 1.8 -4.5 1.7 -3.0 1.9 -2.9 -0.2 -2.9 3.4 -3.1 0.1 -1.8 1.3 -3.4 0.9 -0.7M501.7 205.0l0.3 -2.3 2.3 -2.2 -0.6 -3.4 -0.9 -4.2 1.9 -4.1 1.6 -3.2 0.8 -4.5 1.1 -4.4 -0.7 -4.4 1.0 -3.8 -0.4 -3.6 3.5 -2.7 1.3 -4.4 0.6 -3.9 1.0 -3.3 1.5 -3.1 0.4 -4.2 2.4 -3.6 -0.8 -3.2 2.3 -2.3 0.2 -2.6 0.5 -1.6M521.8 204.4l-1.9 -4.9 1.0 -4.2 1.7 -5.3 0.7 -5.1 1.9 -5.2 1.3 -5.1 1.3 -5.8 1.3 -5.7 0.3 -4.8 1.2 -4.5 0.7 -3.8 1.6 -3.2M501.3 204.8l-0.9 -7.8 0.1 -6.1 0.6 -8.1 -2.5 -8.0 1.6 -6.8 -2.3 -5.8 1.8 -6.1 -0.9 -6.5 0.5 -5.5 -3.6 -4.8 0.9 -5.7 -0.9 -5.0 -0.5 -5.1 -2.0 -4.3 0.4 -3.8 -1.6 -4.7 -0.1 -3.0 -1.2 -2.2M508.9 204.6l-1.3 -5.1 -0.1 -6.2 -1.0 -5.9 0.9 -6.2 -0.1 -6.1 -0.9 -5.3 1.0 -5.3 0.8 -4.3 -0.4 -4.8 -0.3 -4.7 0.7 -5.5 2.1 -4.2 -3.0 -3.6 0.6 -5.2 -0.3 -3.1 1.0 -2.8 -1.1 -3.8 0.4 -1.8M505.6 208.9l1.0 -5.1 0.7 -5.8 0.3 -4.7 2.4 -6.1 1.1 -5.3 -0.1 -3.8 2.6 -4.3 1.0 -4.8 2.5 -3.7 1.1 -5.3 2.0 -4.2 2.6 -3.6 1.5 -3.8 2.0 -3.9 0.7 -3.2 0.5 -2.6 0.7 -2.0M506.3 196.3l-2.5 -6.3 1.3 -3.6 -3.1 -4.6 0.3 -4.9 -1.1 -3.7 -0.9 -4.0 -1.5 -3.4 -1.1 -4.9 -3.1 -2.8 -1.9 -5.1 -3.4 -4.1 -1.2 -3.1 0.2 -2.3 -3.1 -3.7 -2.1 -2.0 -0.5 -2.6M502.0 192.7l0.6 -4.1 0.2 -4.8 -2.3 -4.3 -0.3 -4.2 1.9 -3.5 -0.2 -3.9 -0.0 -4.2 -1.3 -4.0 0.5 -3.7 -0.8 -2.9 -1.1 -3.6 0.0 -3.1 0.3 -3.2 0.3 -2.5 -0.3 -1.8M507.5 208.7l-0.5 -5.3 0.6 -5.8 -0.7 -4.9 0.8 -4.8 -1.2 -4.6 1.5 -4.1 0.3 -4.4 -1.6 -4.4 -0.5 -4.6 0.4 -3.7 1.1 -4.1 -0.3 -3.5 -1.3 -4.0 1.0 -2.2 -0.5 -3.6 0.3 -1.9M504.9 214.1l-1.6 -5.7 1.5 -5.1 -0.5 -6.1 0.5 -4.5 -1.0 -5.0 1.5 -4.3 -0.5 -4.6 -0.8 -3.9 0.2 -4.7 -1.4 -4.0 -0.1 -4.6 -3.2 -3.9 0.3 -3.6 -1.4 -3.2 2.6 -3.6 -2.0 -3.0 -0.5 -1.7M501.0 212.9l-0.4 -3.8 -1.4 -3.2 -0.5 -3.6 0.2 -4.3 0.9 -3.7 -0.8 -2.9 -2.0 -5.9 -0.9 -2.2 0.4 -3.5 0.7 -3.8 -0.8 -3.8 -1.4 -2.7 -1.3 -4.6 0.5 -3.2 -1.5 -2.8 -0.3 -4.2 1.1 -2.7 -3.0 -2.3 1.0 -3.0 -1.3 -1.2M495.9 205.1l1.9 -5.3 -0.5 -5.4 -0.8 -3.8 -0.3 -3.9 -1.6 -4.2 -2.5 -3.8 1.4 -2.5 0.5 -3.4 -2.2 -2.7 0.7 -3.5 -1.0 -2.5 -0.5 -4.0 -1.5 -3.6 -1.9 -3.3 -2.4 -4.1 -2.1 -3.3 -1.0 -3.6 -3.3 -3.4 -0.9 -3.6 -2.1 -3.0 -1.6 -2.9 -3.6 -4.7 -0.3 -4.6 -3.3 -2.6 0.4 -4.5 -4.0 -4.3 -0.6 -3.9 -2.6 -2.8 -0.4 -2.3 -1.2 -2.5M511.2 194.7l1.5 -6.4 -0.1 -6.7 -1.1 -5.6 1.2 -7.1 0.5 -5.5 -0.3 -6.3 2.1 -4.8 -0.6 -5.1 -0.3 -5.0 3.4 -4.5 -0.5 -4.7 0.5 -5.2 2.6 -4.2 0.3 -4.0 1.2 -4.0 2.0 -3.3 0.7 -2.4 0.3 -2.6M499.5 202.7l1.4 -3.4 0.4 -4.2 -0.9 -2.0 -0.1 -5.2 0.7 -3.1 0.4 -3.3 1.7 -3.5 0.6 -2.4 1.5 -4.1 -0.6 -3.3 0.9 -3.2 1.7 -3.0 2.5 -3.7 -1.5 -2.6 2.3 -2.4 1.3 -2.0 -0.6 -2.1M507.0 196.9l-0.7 -5.1 0.1 -4.9 -2.3 -4.8 -1.3 -4.6 0.5 -3.4 -2.7 -3.5 -0.8 -4.5 -2.1 -4.0 0.7 -3.8 -2.4 -4.8 -1.9 -2.8 0.9 -3.7 -0.3 -2.5 -2.9 -2.8 0.2 -2.2M510.3 192.0l0.8 -5.8 2.6 -5.4 -0.3 -7.0 -0.1 -5.9 2.3 -6.4 1.8 -6.7 -0.2 -4.6 3.5 -4.8 2.4 -5.6 1.6 -3.5 2.0 -6.0 0.0 -3.7 4.7 -5.0 1.7 -4.6 1.0 -3.4 1.9 -2.7 1.6 -2.9 1.3 -2.7M508.9 203.1l0.5 -4.0 0.6 -4.3 -2.5 -6.0 0.9 -5.1 0.8 -5.6 -0.5 -6.6 -1.5 -5.4 -0.6 -5.5 2.4 -5.9 -1.2 -4.6 0.4 -5.0 -0.3 -5.2 -2.1 -4.3 -1.5 -4.9 -0.0 -3.9 -0.4 -4.6 -1.3 -3.1 0.3 -4.5 0.4 -3.0 -1.0 -3.5 -0.6 -1.7M507.3 201.0l1.5 -7.1 2.0 -5.9 2.0 -6.7 1.7 -6.6 -0.6 -6.1 2.7 -4.7 0.2 -4.9 2.7 -5.0 2.5 -5.6 1.4 -4.8 1.3 -4.5 2.4 -4.4 2.2 -4.3 2.0 -3.9 0.9 -3.3 0.6 -2.2 1.8 -3.1M511.3 201.2l-1.2 -4.7 0.3 -4.6 -0.9 -5.5 1.4 -4.9 -1.3 -4.6 0.7 -4.5 -0.9 -4.5 -1.7 -3.4 -1.3 -4.1 0.1 -3.8 -1.7 -3.9 -1.3 -4.7 -2.5 -3.1 -0.1 -4.0 -1.8 -3.4 -1.1 -2.7 -0.2 -2.3 -1.2 -2.1M510.6 197.6l2.0 -6.1 0.6 -6.0 1.1 -6.3 1.3 -5.0 0.6 -6.0 0.6 -5.3 3.0 -4.2 1.0 -4.8 1.6 -5.3 2.3 -4.6 2.1 -4.5 2.9 -3.9 -0.4 -3.5 3.0 -4.6 0.7 -3.5 3.5 -2.7 -0.2 -2.2M496.8 205.0l-1.2 -5.0 0.0 -5.3 -2.0 -4.8 -0.2 -4.1 -1.4 -3.8 0.6 -3.5 -1.9 -3.6 -1.0 -2.8 -0.2 -3.0 -2.4 -3.2 -0.8 -3.2 -0.1 -2.4 -1.7 -3.7 0.3 -2.7 -3.5 -2.2 -0.3 -2.6 0.7 -2.4 -3.0 -2.6 -2.2 -2.5 -0.5 -2.5 -1.4 -3.0 -2.1 -2.4 0.3 -3.3 -3.5 -2.7 -1.7 -2.3 -0.2 -3.6 -2.3 -2.1 -1.8 -2.6 -1.5 -2.2 -0.0 -1.6M514.6 199.1l0.3 -3.4 0.3 -3.7 1.9 -4.9 -0.0 -4.6 -0.5 -3.0 1.9 -3.8 0.5 -2.6 -0.2 -3.4 1.7 -3.6 0.5 -4.0 0.5 -3.8 1.6 -3.5 1.1 -3.2 -0.8 -2.5 1.1 -2.2 1.3 -3.3 -0.0 -1.7M497.7 200.0l-1.7 -5.7 0.4 -3.8 -0.9 -4.7 0.1 -3.8 -1.3 -3.8 -1.2 -3.1 -3.2 -3.2 2.3 -3.3 -0.4 -3.0 -1.5 -2.7 -0.1 -2.3 -0.7 -3.3 -1.2 -2.4 -0.7 -1.5 -0.8 -2.4 -0.6 -1.5 -0.3 -1.2 -1.7 -3.2 -1.9 -0.1 0.2 -1.9 -1.7 -2.9 -0.2 -1.6 -1.9 -3.0 -0.2 -2.0 -1.6 -2.0 0.2 -1.7 -1.4 -2.8 -1.7 -0.7 0.2 -1.4M514.3 196.7l-1.9 -4.4 -0.0 -3.7 -1.6 -3.7 -1.0 -4.2 -0.3 -2.6 -0.0 -4.8 -0.2 -2.0 -2.6 -3.5 -1.6 -3.7 -0.3 -3.9 -2.5 -3.0 -1.3 -3.3 -2.6 -3.7 -0.3 -2.9 -1.4 -2.9 -1.2 -2.1 -1.7 -2.3 -1.1 -2.1M510.7 198.8l-0.5 -4.8 1.1 -7.7 0.1 -6.7 -2.2 -6.2 0.4 -5.3 -1.1 -5.5 0.5 -5.0 1.0 -4.8 -1.7 -5.4 -1.7 -4.4 0.5 -4.5 -2.1 -4.9 -2.9 -3.5 1.9 -4.3 -1.5 -3.6 -2.1 -2.3 0.3 -2.5M514.6 206.0l0.6 -6.8 -0.6 -8.2 0.9 -6.9 0.7 -7.4 0.8 -6.5 -0.4 -5.1 -0.1 -5.8 1.4 -5.1 1.1 -6.3 2.4 -5.1 0.4 -5.3 -1.2 -4.8 4.0 -4.3 -1.1 -4.8 2.3 -3.3 0.1 -3.6 0.3 -2.4M501.0 210.2l-0.3 -5.2 0.2 -4.7 1.5 -3.6 -1.2 -6.6 -1.1 -4.1 0.7 -5.4 -0.1 -4.4 -1.0 -5.2 1.5 -4.6 1.6 -4.2 -0.9 -3.9 -1.0 -4.5 -1.3 -3.5 -0.6 -4.3 2.3 -4.7 -0.9 -2.6 -0.3 -5.1 -0.9 -2.5 0.7 -2.3 -0.4 -2.0M508.2 209.0l0.3 -3.6 0.3 -3.6 -3.1 -5.1 3.8 -4.4 0.4 -5.1 -0.1 -6.1 0.1 -5.8 1.6 -6.4 1.1 -5.2 -0.2 -5.9 1.1 -3.8 2.0 -5.5 -0.6 -3.7 1.8 -5.3 2.1 -4.8 2.5 -3.4 0.3 -4.1 0.3 -5.0 3.3 -3.4 0.6 -3.7 0.4 -2.5 1.5 -2.1M511.4 206.9l0.1 -4.6 -0.3 -5.5 -0.1 -3.8 -0.9 -4.2 0.7 -4.3 -0.4 -4.0 -0.4 -3.9 0.7 -3.7 -2.3 -2.8 2.0 -4.5 -2.9 -3.1 1.3 -4.3 -1.2 -2.8 1.1 -3.4 -0.3 -2.7 -0.6 -1.7 -0.1 -2.5M504.3 192.9l-0.8 -5.0 0.4 -4.7 -2.4 -4.1 1.9 -3.6 -1.8 -5.1 -0.5 -4.0 0.3 -4.6 -1.1 -3.5 -3.0 -4.1 1.4 -3.4 -2.6 -3.6 1.1 -3.7 -0.5 -2.6 -0.1 -1.5M517.6 208.5l1.7 -4.9 -0.1 -5.5 1.5 -4.8 0.1 -5.5 2.4 -6.3 -2.0 -4.3 1.6 -5.7 2.7 -4.3 0.8 -4.2 0.4 -4.0 1.9 -4.6 0.9 -4.5 2.8 -3.8 0.4 -4.6 2.8 -3.6 0.4 -3.1 2.0 -3.1 -0.5 -2.5 1.1 -2.7M506.3 208.6l0.3 -5.6 -0.7 -7.2 0.1 -6.5 1.2 -7.3 -1.2 -5.8 2.4 -6.3 0.7 -4.7 -0.1 -5.5 0.0 -4.3 3.2 -5.1 2.0 -4.9 0.4 -5.2 0.2 -5.1 2.4 -3.7 1.4 -4.2 0.0 -2.9 1.5 -3.0 0.1 -2.5M514.2 206.3l-0.4 -6.2 -0.2 -5.8 0.1 -6.2 -0.3 -5.2 0.9 -6.4 -0.8 -5.5 0.5 -3.8 -3.3 -4.8 0.8 -4.1 -1.8 -5.3 -0.0 -4.5 -2.7 -4.5 1.9 -3.9 -1.7 -4.1 -0.5 -2.8 -0.4 -2.9 -0.5 -2.1M502.2 198.5l-0.5 -6.7 -0.3 -7.4 -1.3 -6.8 -0.4 -5.8 0.2 -6.7 -0.7 -5.2 -0.5 -4.3 -2.5 -5.8 -0.9 -5.2 -1.6 -4.8 -0.6 -4.4 -2.1 -4.7 -1.2 -5.1 -3.3 -3.3 0.9 -4.6 -2.7 -1.8 0.5 -2.8M517.2 208.9l0.9 -4.7 1.8 -4.4 1.2 -4.4 3.6 -6.1 1.6 -5.6 0.7 -5.7 3.9 -7.1 1.7 -6.6 1.6 -6.5 2.0 -6.0 -0.1 -5.4 1.7 -4.5 2.0 -3.8M511.7 205.1l2.9 -4.9 0.8 -6.0 -1.8 -4.5 0.0 -5.3 2.4 -5.3 0.5 -4.9 1.8 -4.1 1.1 -4.7 2.7 -4.7 2.6 -4.0 1.1 -4.4 1.7 -4.0 1.6 -4.6 3.1 -1.9 2.4 -4.2 1.1 -2.4 2.9 -3.6 0.3 -1.9M510.4 206.6l0.1 -5.4 -2.3 -6.1 1.8 -5.1 -0.8 -4.6 0.6 -4.5 -1.3 -4.4 0.2 -4.8 2.2 -3.9 -3.3 -4.0 1.7 -4.0 -1.7 -5.1 1.0 -3.4 -0.3 -2.7 -1.0 -3.7 1.0 -2.4 -0.4 -2.1M508.6 191.7l0.3 -5.2 2.0 -5.2 0.6 -4.4 -0.6 -4.4 0.8 -5.1 1.6 -4.1 -0.6 -4.7 2.3 -4.2 -0.0 -4.1 2.3 -4.0 -0.0 -3.6 -0.5 -3.2 1.3 -3.3 0.6 -1.6M517.8 209.3l0.6 -4.5 2.9 -4.6 -0.8 -5.3 2.8 -5.2 0.1 -5.3 1.8 -6.5 -0.6 -6.3 1.5 -6.7 0.9 -6.0 1.6 -5.9 -0.1 -4.7 -0.4 -5.2 1.1 -3.0M509.7 196.1l0.8 -3.2 2.7 -4.0 -0.5 -3.7 0.6 -3.5 1.8 -3.1 0.2 -3.6 1.8 -3.1 1.4 -3.4 1.7 -3.6 0.5 -3.9 1.0 -2.8 1.8 -3.6 0.6 -2.6 1.9 -3.0 0.7 -1.5 0.6 -2.0M516.3 201.1l-1.8 -6.7 1.7 -7.0 0.5 -5.0 0.2 -5.7 -0.3 -6.2 0.5 -5.0 -2.3 -3.8 -0.9 -5.8 -0.9 -4.2 -0.5 -6.1 0.5 -3.6 -3.1 -4.7 1.6 -3.2 -0.7 -3.0 -2.4 -2.9 1.1 -2.9M517.9 213.2l-0.8 -5.1 1.7 -4.5 2.8 -4.7 0.5 -3.7 0.8 -4.7 1.2 -4.4 1.4 -5.8 1.0 -5.4 1.1 -5.9 1.3 -4.5 1.6 -4.9 0.3 -4.1 0.7 -3.7 0.8 -2.8M518.5 213.4l2.0 -5.1 1.4 -4.6 -1.1 -4.5 1.9 -4.9 -0.4 -4.4 1.6 -5.3 1.2 -5.4 -0.6 -6.0 0.6 -4.9 1.6 -5.9 1.6 -4.3 -0.7 -5.0 0.8 -3.8 1.0 -2.9M497.1 210.8l0.4 -5.5 -0.5 -5.2 0.8 -5.5 -2.8 -4.9 1.2 -3.3 -2.1 -4.3 -0.3 -3.5 -0.3 -3.3 -0.7 -3.5 -0.2 -2.8 -0.9 -3.2 -0.2 -3.2 -1.9 -2.7 1.0 -2.3 -3.1 -2.6 -1.3 -2.9 0.4 -1.7 -2.6 -2.7 -1.1 -2.3 -1.3 -2.7 -0.6 -1.7 -2.3 -3.3 -0.5 -2.0 -0.8 -2.4 -2.0 -3.5 -1.3 -2.7 -1.3 -2.4 -0.9 -2.5 -0.7 -2.2 -0.6 -1.8 -1.2 -1.6M503.4 212.3l-0.4 -4.4 -0.6 -4.9 0.7 -5.5 -1.4 -5.2 -3.0 -5.2 3.2 -5.2 -2.0 -5.8 -0.1 -5.0 -1.4 -3.8 0.4 -5.0 -2.4 -3.8 0.5 -4.6 -0.2 -4.7 -2.0 -3.7 0.2 -4.6 -1.4 -4.4 -1.1 -3.1 -1.8 -2.9 1.5 -2.9 -1.8 -2.1M515.6 214.9l1.4 -7.5 -0.7 -6.4 0.6 -6.9 0.5 -8.7 2.4 -6.5 -1.4 -6.7 2.1 -5.3 0.7 -5.5 2.9 -5.3 3.5 -6.1 -0.3 -4.9 2.4 -4.2 1.7 -5.1 1.5 -4.6 3.5 -4.4 1.3 -3.4 1.0 -3.8 1.0 -2.4M503.6 193.3l0.3 -5.7 1.8 -7.2 -0.9 -5.8 0.7 -6.3 1.1 -5.9 -0.2 -5.3 0.9 -5.2 1.0 -4.3 0.1 -5.6 1.3 -4.9 -1.2 -5.2 0.3 -3.6 0.3 -4.5 0.9 -4.3 -0.7 -3.6 0.7 -1.5 0.4 -3.1M499.9 202.3l1.0 -6.1 -1.1 -5.8 -0.4 -5.4 1.5 -5.9 -2.9 -5.4 1.4 -4.8 -0.6 -4.2 0.7 -4.5 -1.8 -5.8 1.4 -4.0 0.9 -4.5 -0.1 -3.8 -0.1 -4.1 -0.2 -4.2 0.9 -3.1 1.6 -3.8 0.5 -1.8 -0.7 -2.8M501.4 194.5l-1.5 -3.3 1.4 -4.1 -1.2 -3.3 -0.8 -2.8 -0.3 -4.3 1.7 -2.5 -1.8 -3.9 -2.1 -3.0 -0.1 -3.1 -0.8 -4.1 -0.4 -2.9 -2.6 -2.8 1.8 -2.2 -1.0 -2.7 -2.5 -2.0 0.9 -2.0M505.6 193.5l-0.6 -6.9 1.3 -7.3 0.9 -6.7 -0.9 -6.1 1.6 -4.4 -1.2 -6.2 0.7 -4.3 1.9 -5.8 -1.0 -4.4 1.7 -5.1 0.3 -4.6 -0.2 -3.7 1.9 -4.5 1.0 -3.9 0.2 -2.3 -0.4 -3.0M509.5 213.6l0.4 -7.0 -3.0 -5.0 -1.4 -5.3 2.0 -5.8 0.2 -5.0 -1.7 -4.0 -2.1 -4.4 1.7 -5.0 -0.9 -4.0 -4.1 -4.6 0.3 -4.5 -2.0 -3.3 -0.5 -3.9 -1.6 -4.3 -2.6 -3.3 -0.5 -2.1 -0.6 -2.5M515.6 205.5l2.1 -5.1 -0.2 -4.6 2.4 -5.7 1.5 -5.6 -0.3 -4.9 1.1 -5.2 2.3 -4.1 0.5 -4.1 1.7 -4.8 1.0 -4.8 3.0 -3.9 1.0 -5.1 2.6 -3.1 -0.2 -3.8 1.6 -3.7 2.2 -2.2 1.3 -2.9 0.7 -2.6M518.8 204.8l1.9 -5.4 1.3 -4.2 1.1 -6.1 1.9 -6.2 -0.6 -5.9 2.2 -7.7 1.8 -6.4 1.4 -7.4 0.3 -6.2 1.7 -6.6 0.7 -5.1 1.1 -3.1M521.4 194.9l2.0 -5.2 0.6 -5.8 0.5 -6.8 2.1 -7.0 3.1 -7.0 0.7 -6.6 2.3 -6.2 1.1 -5.5 1.1 -4.4 1.0 -3.9M501.9 206.6l-0.6 -6.4 0.1 -5.8 -1.6 -5.3 -0.5 -5.6 -0.3 -4.3 -0.1 -4.6 -2.9 -5.8 -0.6 -3.5 -0.1 -5.1 -0.0 -3.3 0.1 -4.6 -2.9 -4.2 0.6 -4.3 -1.2 -2.7 -0.8 -2.6 -1.2 -2.1M509.3 199.0l-1.1 -3.1 1.4 -3.7 0.5 -4.4 0.4 -4.6 -1.8 -3.7 1.0 -4.1 -0.5 -4.5 -0.6 -3.6 0.6 -3.4 0.1 -3.6 0.2 -5.2 -0.5 -2.1 -0.8 -4.3 -0.3 -2.6 0.4 -4.5 0.6 -2.5 -1.0 -2.6 1.3 -2.2 -1.7 -2.1M507.7 214.8l1.4 -5.5 -0.2 -6.4 -2.9 -6.0 0.5 -5.6 -0.5 -6.1 -1.0 -6.3 -0.4 -5.6 -0.5 -5.2 -0.7 -3.8 -3.5 -5.6 0.6 -4.9 -2.4 -4.0 -2.8 -4.9 -1.4 -4.5 -1.2 -3.9 -3.5 -3.6 0.4 -3.6 -1.4 -3.1 -1.2 -1.9M510.0 202.5l0.6 -3.4 -0.6 -4.8 -1.9 -4.7 1.3 -5.1 -1.1 -4.3 -3.7 -3.9 -1.5 -4.9 1.2 -3.4 -3.0 -4.0 -2.4 -4.9 -1.7 -3.1 -2.2 -4.0 -1.9 -4.1 -1.9 -3.4 -2.6 -4.0 -0.5 -2.7 -2.6 -2.8 -1.8 -1.9 -0.4 -2.7M512.3 199.0l0.7 -6.5 -1.6 -7.1 1.4 -6.4 -3.1 -5.7 -0.3 -5.8 1.0 -5.7 -1.9 -4.5 -1.5 -5.2 -1.1 -4.2 -2.8 -4.9 -0.6 -5.2 1.0 -4.7 -4.1 -4.5 -0.6 -3.6 -1.5 -3.3 -2.3 -2.8 0.3 -2.4M514.0 207.8l-0.5 -6.2 0.8 -5.5 -0.2 -5.9 -0.7 -5.6 -1.3 -6.1 0.2 -5.3 -0.4 -4.6 -0.5 -5.3 0.2 -4.3 -1.3 -3.9 0.0 -4.5 -0.9 -4.7 0.1 -4.5 0.3 -4.3 -1.0 -3.3 -0.7 -3.3 0.7 -2.7 -1.3 -2.3M508.7 201.9l-0.9 -4.3 -1.3 -5.0 -1.6 -5.4 -0.5 -3.2 0.4 -4.3 -3.7 -4.5 -0.9 -3.7 -1.4 -3.9 -1.8 -3.5 -1.4 -4.7 -2.7 -3.8 -3.9 -3.7 -1.1 -3.1 -2.2 -3.2 -1.1 -3.0 -1.3 -2.9 -1.9 -1.5M504.3 198.5l-2.4 -5.4 1.1 -5.8 -0.4 -5.4 1.3 -6.3 -0.5 -5.0 -2.0 -5.4 1.8 -5.0 -1.3 -4.4 -0.3 -5.4 -1.5 -3.8 0.6 -4.4 -2.5 -4.2 1.9 -4.5 -1.1 -3.1 -0.6 -3.8 -0.7 -4.2 -1.2 -2.6 1.2 -1.8M512.7 207.6l0.2 -5.3 0.0 -5.9 0.2 -6.9 1.4 -5.7 -1.5 -5.8 2.4 -4.6 -0.1 -4.5 -0.8 -4.9 0.6 -4.9 0.2 -4.8 0.0 -4.7 0.1 -4.0 0.3 -5.1 0.0 -2.6 -0.4 -4.0 -0.2 -3.1 0.7 -1.8M517.3 205.7l-0.4 -3.3 0.8 -3.5 2.0 -5.6 -0.4 -4.6 1.4 -4.7 1.6 -5.4 -0.9 -4.2 2.2 -5.7 0.0 -5.2 0.1 -3.5 1.7 -3.5 1.8 -5.0 2.8 -4.6 0.2 -3.7 2.3 -4.1 0.1 -3.7 2.0 -3.5 1.3 -3.6 1.8 -3.1 0.0 -2.6 1.2 -2.1M495.8 205.5l-0.9 -6.0 -1.2 -5.2 -1.0 -4.4 -1.9 -3.4 0.1 -4.1 -2.3 -3.3 0.2 -3.9 -0.6 -3.5 -1.6 -3.4 -0.5 -2.8 -0.8 -3.6 -2.2 -2.1 -0.5 -2.4 0.3 -1.8 -2.3 -2.1 -0.7 -1.7 -1.6 -1.8 -1.7 -1.3 -1.6 -2.8 0.6 -1.1 -2.1 -1.8 -1.2 -1.5 -1.8 -2.6 -0.9 -2.4 -1.1 -1.6 -0.6 -2.2 -2.1 -2.3 -0.6 -1.3 -0.4 -1.3 -0.6 -1.5M511.6 209.7l2.5 -7.3 -0.3 -6.6 -2.9 -7.6 2.5 -7.8 -0.5 -6.3 -1.4 -6.0 1.0 -6.5 0.8 -4.6 -1.1 -5.9 -1.2 -5.1 1.8 -5.0 1.4 -5.6 0.4 -4.7 -0.1 -4.1 0.9 -3.8 -0.7 -3.2 2.3 -4.7 -1.3 -2.0M499.9 210.4l-1.1 -4.8 -1.3 -6.0 -1.9 -4.4 -0.4 -5.3 -0.5 -4.5 -2.8 -2.4 0.8 -4.1 -0.5 -3.5 -0.7 -1.9 -0.2 -3.4 -0.6 -3.6 -1.5 -2.8 -0.9 -4.5 -0.8 -2.7 -2.7 -3.9 -0.7 -3.1 -2.2 -3.5 -2.9 -3.9 -3.5 -3.6 0.8 -5.0 -4.0 -2.5 -1.0 -3.9 -2.4 -3.9 -2.9 -4.6 -1.3 -4.0 -2.2 -3.7 -1.4 -4.4 -3.0 -3.9 -1.3 -3.3 -0.5 -3.1 -2.3 -2.2M517.9 209.4l0.7 -2.4 1.1 -3.7 0.7 -3.7 -0.5 -4.7 1.4 -4.1 -1.5 -3.8 2.0 -3.3 1.5 -3.7 0.8 -4.3 1.0 -2.3 0.0 -3.0 0.1 -4.4 3.9 -3.7 -0.6 -3.1 2.0 -2.3 -1.9 -3.7 3.1 -3.2 -1.5 -2.1 2.0 -1.5M498.5 210.8l-1.2 -5.2 0.8 -5.7 -2.3 -5.4 -1.2 -4.5 0.1 -3.9 -2.7 -4.0 1.4 -3.4 -0.7 -3.5 -0.6 -3.2 -1.4 -3.0 -0.3 -3.3 -1.2 -3.1 -0.2 -2.4 -0.5 -3.0 -3.2 -2.6 -1.4 -1.1 0.3 -2.9 -1.2 -2.1 -1.7 -2.1 -0.7 -1.7 0.1 -2.1 -1.8 -2.7 -0.9 -1.6 -1.6 -2.9 -1.9 -2.9 -1.0 -2.0 -0.9 -2.2 -2.0 -3.3 0.2 -1.3 -0.5 -2.2 -1.6 -1.1M518.1 195.4l-0.5 -5.2 1.6 -3.2 -0.8 -3.0 -0.2 -3.8 0.6 -4.5 -0.0 -4.6 -0.9 -3.5 -0.0 -3.8 -0.4 -3.2 0.7 -3.0 0.7 -3.4 -0.5 -1.8 0.0 -2.2M512.3 193.2l-0.4 -3.9 0.1 -3.6 -1.2 -4.1 0.7 -3.8 -0.4 -4.5 0.9 -3.6 -1.7 -3.9 -2.6 -2.7 -0.7 -4.4 -1.5 -3.0 -1.3 -4.0 0.0 -3.7 -3.3 -3.0 -0.6 -3.5 -1.9 -3.3 -1.4 -2.6 -0.8 -2.9 -0.8 -1.3M503.9 197.6l0.3 -4.2 -1.4 -4.4 1.1 -4.5 -1.9 -4.8 1.5 -4.5 0.1 -4.5 0.8 -4.4 0.6 -4.3 0.1 -3.7 -1.0 -4.3 1.7 -3.6 1.8 -3.8 -1.7 -3.9 3.6 -3.9 -0.1 -3.2 1.0 -3.6 0.7 -3.1 -0.3 -2.4 1.5 -1.7M501.9 202.9l0.5 -6.1 -1.0 -4.5 2.7 -5.8 0.3 -5.7 0.6 -4.6 -1.4 -5.0 0.8 -4.4 0.5 -4.5 1.4 -4.2 0.8 -4.5 0.2 -5.1 0.3 -3.3 -0.0 -4.2 1.5 -4.6 0.9 -2.4 -1.0 -3.6 1.8 -2.1 -0.5 -2.5M516.0 194.5l-0.5 -5.1 -0.7 -4.3 -1.0 -4.2 -0.2 -4.0 -2.0 -4.1 -0.6 -3.3 -1.5 -3.8 -1.1 -4.6 -0.3 -3.4 -1.0 -3.3 -0.3 -4.0 -0.2 -2.6 -0.1 -2.5 -1.6 -1.8M499.2 192.4l-1.5 -4.4 -0.8 -4.7 -0.9 -4.4 -1.3 -4.7 -1.3 -3.2 -1.7 -4.0 -2.2 -4.4 -0.5 -4.4 -2.4 -3.4 -0.8 -3.6 -2.3 -4.1 -1.1 -2.3 -2.5 -2.3 0.1 -3.4 -1.0 -1.9M520.7 199.5l2.1 -4.9 0.6 -4.6 0.3 -6.2 0.8 -5.5 1.2 -6.7 0.7 -6.3 1.3 -6.1 0.2 -5.9 0.8 -5.3 1.4 -4.5 -0.1 -3.5M517.9 212.4l1.1 -4.3 0.4 -4.5 1.8 -4.5 1.5 -4.2 -1.0 -3.7 3.4 -5.1 0.5 -4.9 2.3 -3.8 1.9 -4.5 2.2 -4.9 1.1 -4.0 1.6 -3.3 1.5 -3.6 0.8 -2.4M518.3 208.7l1.6 -4.9 1.5 -3.7 0.1 -4.9 3.0 -5.5 -1.2 -5.8 2.1 -5.6 2.7 -7.1 1.8 -6.0 1.4 -6.5 1.6 -6.3 2.0 -4.5 2.1 -4.8 0.3 -3.1M513.5 204.1l-0.7 -6.4 1.0 -5.8 0.6 -4.7 1.9 -4.3 -1.8 -4.8 0.8 -4.7 1.6 -4.7 0.1 -4.0 0.7 -4.0 0.0 -4.5 1.4 -3.9 -2.0 -2.8 0.4 -3.8 -0.2 -2.8 2.4 -2.2M518.0 191.8l-0.2 -5.7 0.4 -6.5 -0.8 -5.6 1.9 -5.3 -1.4 -4.8 3.2 -3.9 1.4 -6.3 -0.3 -4.5 0.7 -4.8 -0.3 -4.4 3.6 -4.1 -1.6 -4.3 2.3 -3.2 0.7 -3.3 -0.8 -2.1M500.0 205.9l0.7 -6.3 -1.1 -5.5 0.8 -7.2 0.3 -6.1 -2.0 -7.5 0.6 -6.3 -0.5 -5.8 -1.4 -5.7 -0.4 -4.5 0.1 -5.0 -0.2 -4.7 -1.9 -6.0 -0.2 -4.0 0.4 -4.9 -0.7 -3.6 -1.6 -4.6 -0.9 -3.0 2.8 -3.2 -2.3 -2.5M503.7 213.4l1.2 -1.8 -1.8 -3.2 0.3 -3.4 -1.9 -3.8 1.7 -3.9 -1.7 -4.0 -1.4 -5.2 0.2 -4.3 -0.3 -3.8 0.7 -2.9 -2.3 -4.5 0.2 -3.8 -1.2 -3.6 -0.5 -3.9 -0.3 -3.5 -0.5 -3.2 -2.1 -4.5 -0.7 -2.5 -1.7 -4.0 0.2 -2.4 -1.7 -2.3 0.4 -2.1M522.2 194.7l1.7 -4.3 1.7 -4.7 2.3 -5.0 3.2 -5.2 3.9 -5.0 1.4 -5.1 3.1 -4.9 2.2 -3.4 -0.3 -3.7 3.2 -2.6M499.4 205.3l-2.0 -5.6 -0.7 -6.0 -1.8 -3.5 -2.0 -3.6 -0.3 -4.6 -1.0 -3.5 -0.6 -2.8 -0.5 -3.2 -1.6 -2.6 1.1 -4.0 -0.4 -2.3 -2.1 -3.5 -2.0 -3.2 -0.6 -3.5 -1.3 -1.9 -1.5 -3.1 -0.9 -3.3 -2.4 -2.6 -2.8 -2.9 -0.2 -2.7 -1.2 -3.5 -1.8 -2.6 -2.1 -3.4 -2.5 -3.5 -1.2 -3.4 -2.6 -3.7 -0.3 -2.8 -1.3 -2.1 -2.0 -2.9 -0.2 -1.8M521.5 194.8l2.1 -5.4 2.1 -5.8 -0.4 -6.9 2.9 -7.2 -0.3 -7.0 2.6 -6.6 0.3 -6.6 1.9 -5.4 0.4 -5.0 0.9 -3.7M512.4 208.5l-1.2 -3.7 0.9 -4.1 -0.1 -5.2 -0.7 -4.9 0.9 -5.5 -1.8 -4.9 0.1 -4.0 -0.0 -4.4 1.1 -4.3 0.4 -4.6 -0.2 -3.9 0.1 -3.6 0.2 -4.4 -0.6 -3.8 -0.2 -4.4 1.0 -3.9 -0.6 -3.0 -0.9 -3.8 2.5 -1.0 -1.8 -2.6M522.6 195.1l0.6 -4.3 1.0 -5.1 2.2 -4.5 0.8 -4.6 2.6 -5.1 0.5 -4.7 2.5 -4.2 0.8 -4.1 0.8 -3.2 0.9 -2.7M506.9 190.9l-1.0 -6.2 -1.8 -5.9 0.3 -7.5 -3.0 -4.8 -0.1 -4.5 -3.2 -4.9 -3.1 -5.6 -1.3 -4.6 -1.8 -5.0 -2.0 -4.5 -1.0 -4.0 -1.6 -3.8 -2.9 -3.5 -1.1 -3.1 -0.8 -2.3M517.2 196.4l-0.9 -5.8 -0.6 -5.2 0.1 -6.9 1.1 -4.3 0.6 -4.7 -1.1 -4.6 0.0 -4.4 -0.2 -5.8 3.2 -3.8 -3.1 -4.7 0.4 -5.0 0.2 -2.3 -0.3 -4.1 0.7 -2.4 -0.2 -2.5M520.0 204.3l1.9 -5.0 0.9 -4.3 0.4 -5.0 -0.1 -5.8 1.8 -6.1 0.8 -6.7 0.0 -6.3 1.6 -6.2 1.1 -5.8 -0.6 -5.4 2.5 -4.7 -0.6 -3.2M522.5 194.7l1.3 -4.8 3.4 -6.0 2.1 -6.1 1.8 -7.2 2.7 -6.5 3.2 -6.1 2.0 -6.8 1.9 -4.2 2.4 -5.4 0.8 -3.3M503.1 205.4l2.1 -2.8 -1.5 -3.1 2.1 -4.2 0.7 -3.8 0.3 -4.3 2.9 -2.9 -1.2 -5.5 1.2 -3.6 0.0 -3.2 1.2 -2.4 2.3 -4.2 -1.2 -4.1 2.0 -3.3 -0.3 -2.5 3.5 -4.5 -2.1 -2.8 2.5 -2.8 0.8 -2.3 0.3 -2.6 -0.0 -2.0M509.8 210.9l1.1 -7.0 -1.4 -6.8 1.0 -7.7 -0.2 -6.7 -0.6 -5.8 2.6 -6.4 0.3 -5.8 0.4 -4.5 1.2 -5.8 2.8 -5.6 0.4 -4.3 1.8 -5.8 2.5 -4.4 1.9 -4.4 -0.6 -3.3 1.2 -4.7 0.9 -2.7 2.2 -2.2M511.0 192.5l-1.0 -4.0 0.9 -5.1 1.3 -3.4 0.9 -4.6 0.7 -3.9 -1.1 -3.9 2.9 -2.7 0.2 -2.9 0.7 -4.7 2.5 -3.7 0.5 -3.9 1.0 -3.4 2.6 -3.6 1.9 -2.7 0.9 -2.3 -0.4 -3.1 0.9 -1.6M511.7 206.0l1.4 -2.1 0.8 -2.9 0.4 -2.4 -0.4 -3.5 -0.3 -3.5 2.0 -3.0 2.3 -4.9 0.5 -3.8 1.2 -3.6 -0.5 -3.5 1.9 -3.4 1.3 -3.8 0.1 -3.0 1.6 -3.7 2.3 -3.0 0.6 -3.8 1.6 -4.0 0.8 -3.8 1.3 -2.1 0.6 -2.4 1.1 -2.6 0.7 -1.2M507.4 207.3l-1.5 -3.0 1.5 -4.0 -1.1 -4.1 -0.8 -5.5 1.8 -5.0 -1.2 -5.7 0.6 -6.0 -1.8 -5.0 -0.0 -6.1 -0.1 -4.5 -1.6 -5.1 1.0 -4.6 -1.5 -3.9 -1.2 -4.4 -0.2 -4.3 -1.0 -4.8 -1.3 -3.5 -0.5 -4.5 -2.4 -3.2 -0.5 -3.4 0.4 -3.0 -0.7 -2.0M499.0 210.7l-0.0 -5.1 1.1 -5.8 -2.7 -6.2 1.5 -6.3 -1.2 -4.6 -0.9 -5.5 0.4 -4.7 -1.5 -5.0 -0.1 -5.1 1.2 -4.1 0.8 -3.7 -1.4 -6.0 0.2 -3.8 1.2 -3.8 -1.0 -3.5 0.8 -3.5 -1.9 -2.6 0.7 -2.2M515.1 206.0l-0.5 -4.1 0.2 -5.2 -0.2 -4.9 2.0 -5.3 -0.5 -4.2 -1.9 -5.0 2.1 -4.9 -2.1 -4.8 3.9 -3.6 -3.8 -4.7 1.1 -3.2 -1.3 -5.0 -0.7 -3.6 -0.6 -3.1 -1.7 -4.2 -1.4 -4.0 0.8 -2.7 -1.9 -2.3 0.7 -2.1M507.1 201.9l2.3 -7.5 0.2 -7.0 0.9 -7.1 3.1 -6.1 -0.3 -5.5 1.0 -5.3 1.6 -5.6 2.6 -4.9 2.9 -5.0 0.5 -5.6 2.0 -4.5 2.5 -4.1 2.3 -4.0 1.8 -3.4 0.9 -2.9 0.6 -2.8M498.8 202.7l-0.5 -5.7 -1.1 -7.0 0.5 -6.0 -3.1 -6.2 -1.2 -6.3 -0.2 -4.5 -1.4 -5.0 0.2 -4.6 -2.3 -5.1 -1.3 -5.0 0.6 -4.8 -1.6 -4.0 -3.2 -4.1 1.2 -4.2 -0.8 -3.3 -2.4 -3.0 0.5 -2.3M497.2 199.5l-0.6 -4.2 -1.0 -5.1 -1.3 -4.1 0.4 -4.8 -1.3 -2.7 -0.1 -3.6 -0.4 -3.6 -1.4 -3.1 -1.2 -2.1 -0.2 -3.2 -0.1 -2.4 0.2 -2.9 -3.7 -2.3 -0.2 -2.2 -0.9 -2.1 -0.5 -1.7 -1.8 -2.1 0.3 -1.8 -3.2 -2.9 0.2 -1.7 -0.8 -1.4 -1.8 -2.9 -0.1 -3.0 -1.4 -1.7 -1.0 -2.6 -1.9 -2.0 -1.6 -2.0 0.9 -1.9 -1.0 -1.4M506.7 202.3l-0.6 -6.7 0.7 -6.8 -0.3 -6.6 -2.7 -5.5 -1.6 -6.5 1.8 -4.7 -4.4 -5.4 -2.1 -3.9 -1.6 -4.8 -1.3 -5.1 -1.9 -5.2 -1.9 -3.5 -0.9 -5.5 -2.1 -3.5 -1.9 -3.6 -0.5 -2.6 -1.5 -2.3M499.8 200.2l-0.0 -4.6 0.1 -4.2 -1.7 -5.3 0.0 -4.1 -1.8 -4.3 0.9 -4.2 -1.2 -4.3 -2.2 -3.1 0.3 -5.0 -1.4 -3.4 -2.0 -3.9 -0.1 -3.4 -0.3 -3.9 -0.6 -2.7 -1.4 -3.9 -1.5 -3.5 0.6 -2.1 -2.1 -2.0M499.8 191.3l-0.9 -6.5 0.6 -5.8 -1.4 -5.4 2.4 -4.4 -3.9 -6.2 2.6 -3.6 -2.2 -5.4 0.6 -4.6 -2.6 -4.3 -1.0 -4.7 -1.4 -3.4 -0.5 -4.5 -0.1 -3.1 -2.2 -3.6 -0.2 -3.2 -0.8 -1.5M506.1 194.3l-0.7 -3.9 -1.2 -4.6 0.3 -4.3 -1.3 -4.2 -2.0 -3.3 -0.1 -4.3 -2.2 -3.7 -2.7 -4.3 -2.8 -2.0 -1.3 -5.7 -1.5 -2.4 -3.4 -2.7 -1.0 -3.1 -1.0 -3.1 -1.8 -1.9 -1.1 -2.4M506.9 208.7l0.1 -6.2 2.9 -8.1 -0.9 -6.9 2.6 -6.1 0.7 -7.3 1.3 -4.5 0.2 -5.4 0.4 -5.7 -0.7 -4.7 3.4 -6.0 0.7 -5.0 0.2 -3.6 1.3 -3.7 1.1 -5.0 0.6 -3.0 2.2 -3.5 -0.9 -2.6M503.7 208.0l1.2 -2.5 -0.1 -2.3 0.5 -3.7 0.8 -4.9 0.9 -4.8 -0.1 -4.1 0.0 -5.1 1.8 -4.5 0.7 -4.6 1.1 -4.5 2.9 -3.8 0.5 -3.9 1.6 -3.8 2.9 -4.3 3.2 -3.7 2.2 -3.9 2.3 -2.9 3.1 -4.7 1.7 -2.6 3.3 -2.6 1.8 -2.8 1.2 -1.9M515.4 213.0l1.2 -5.0 2.2 -4.1 1.7 -4.1 2.1 -5.1 1.1 -4.4 2.3 -5.3 2.0 -5.9 0.5 -4.7 0.9 -5.8 1.4 -5.8 1.2 -5.2 2.3 -3.8 0.8 -4.9 0.1 -2.2M496.4 194.3l-0.6 -4.9 -0.8 -3.4 -1.2 -4.0 0.6 -3.3 -0.1 -3.1 -2.1 -3.5 -0.5 -2.9 -0.3 -3.2 -0.5 -2.8 -2.4 -3.1 -0.9 -3.1 -2.0 -3.0 -0.3 -3.2 -2.0 -2.7 -1.7 -3.0 -0.4 -2.8 -3.5 -2.9 -1.0 -1.9 -1.4 -3.4 -2.6 -3.6 0.3 -3.0 -2.3 -2.9 -1.0 -3.5 -2.3 -3.3 -1.2 -4.2 -2.2 -2.1 0.2 -2.3 -1.8 -1.6M501.1 193.9l-0.8 -7.8 0.2 -6.6 -1.1 -7.2 1.4 -6.3 -0.4 -4.8 -1.1 -6.0 -0.3 -5.5 1.7 -5.0 0.1 -5.9 -0.1 -4.6 -1.1 -4.2 1.6 -4.3 0.5 -5.0 1.1 -4.0 -0.6 -2.7 0.5 -2.4M510.0 195.4l-2.6 -6.7 1.0 -5.7 -0.4 -5.8 1.2 -5.4 -2.9 -3.6 0.9 -5.1 -0.7 -4.6 0.1 -5.0 1.8 -4.2 -1.1 -5.3 0.5 -2.9 0.1 -4.7 -0.4 -2.6 -1.4 -3.8 1.7 -1.8M509.5 214.3l0.2 -5.8 1.9 -6.4 0.5 -6.7 0.7 -6.4 0.4 -6.3 2.3 -6.6 -1.9 -6.6 1.5 -6.0 0.9 -5.4 0.9 -4.4 1.3 -5.4 1.4 -4.7 0.5 -5.0 0.4 -4.4 2.1 -5.6 1.9 -4.5 -1.5 -3.3 -0.0 -3.4 3.7 -2.9 -1.1 -2.7M507.0 202.9l-0.4 -2.8 -0.4 -3.4 0.4 -4.2 1.1 -3.4 0.4 -3.0 0.6 -3.3 0.6 -3.3 0.3 -3.9 0.0 -2.4 2.8 -3.7 -4.0 -3.7 3.2 -3.5 -0.2 -2.7 -0.1 -3.1 -0.3 -2.7 -0.5 -2.6 1.5 -1.8 -0.1 -1.9M500.8 197.8l0.8 -5.6 -1.8 -4.3 0.8 -5.0 -1.1 -4.6 0.4 -4.6 -1.2 -3.7 -0.5 -5.9 -1.1 -3.2 0.9 -4.5 -1.8 -4.0 -3.6 -4.4 0.2 -2.2 0.9 -2.2 -0.1 -2.7M513.8 209.3l-3.1 -2.4 0.3 -3.6 -0.0 -2.9 -2.8 -4.5 0.8 -3.5 -2.8 -5.1 -2.7 -3.2 -0.2 -5.2 -2.6 -2.6 1.2 -4.4 -1.7 -2.7 -3.3 -3.6 -0.8 -4.2 -2.8 -3.4 -0.6 -3.7 -3.3 -2.9 -1.7 -4.0 -1.8 -3.0 -2.5 -2.4 -1.5 -2.9 -0.1 -1.4M508.6 210.0l1.7 -3.9 -2.8 -6.0 0.4 -5.9 -0.5 -5.9 -1.2 -3.9 1.2 -6.6 -2.8 -5.4 1.9 -3.8 0.7 -5.0 0.5 -4.3 -1.2 -4.1 -1.5 -5.3 -0.1 -3.9 2.1 -4.0 -0.8 -4.1 -1.0 -3.5 0.3 -3.2 -0.7 -3.3 1.0 -1.3M514.7 207.5l-0.2 -3.3 -1.1 -3.2 -1.7 -4.7 0.2 -3.6 -1.1 -4.9 -0.5 -4.6 -3.0 -4.3 -1.4 -5.4 -0.8 -4.0 0.1 -3.4 -2.1 -4.0 -3.3 -4.1 0.1 -3.6 -1.0 -4.1 -2.8 -3.5 -2.4 -3.9 -1.3 -3.7 -0.9 -3.0 -2.0 -2.8 -2.4 -2.2 -0.5 -2.2M511.2 217.2l-2.1 -5.8 2.5 -4.7 -3.0 -6.8 1.6 -5.7 -1.0 -6.5 -1.9 -4.7 -2.3 -4.1 1.1 -6.3 -0.7 -3.3 -0.7 -5.1 -3.0 -3.8 -1.0 -5.4 -0.7 -3.3 -2.9 -4.1 -1.1 -3.7 -0.2 -2.4 -2.0 -3.2 -0.7 -2.5M504.9 203.2l-0.1 -5.2 -1.2 -5.8 1.2 -6.5 0.8 -6.3 -1.5 -5.9 0.3 -5.9 -0.6 -6.5 1.2 -4.0 -2.1 -4.8 -0.5 -4.2 -0.2 -5.2 -0.4 -4.0 -1.3 -5.1 -1.8 -4.8 -0.9 -4.0 -0.2 -3.1 -0.0 -3.2 -0.8 -4.7 -1.0 -1.1M505.7 209.2l0.1 -6.2 -1.3 -6.9 1.0 -6.6 0.9 -6.1 1.1 -5.7 -0.3 -4.9 3.2 -4.9 -1.9 -5.0 -0.5 -5.5 2.7 -3.3 2.5 -5.7 1.5 -4.2 -0.0 -4.4 2.2 -2.6 1.1 -4.1 -0.3 -2.7 0.7 -2.8M515.1 190.8l0.7 -5.1 -2.7 -5.4 2.1 -5.0 1.1 -4.9 -1.0 -6.9 3.2 -4.1 -0.6 -3.9 1.1 -4.2 0.0 -4.8 2.0 -4.1 -0.7 -4.5 0.8 -3.1 -0.0 -5.3 0.9 -2.7 -0.2 -3.7 0.7 -2.3 0.5 -2.1M509.8 202.9l0.6 -5.6 -0.3 -4.5 -2.2 -5.9 -0.6 -6.2 0.6 -5.3 -2.7 -4.4 1.6 -4.8 -0.8 -4.1 -0.9 -4.6 -0.7 -4.3 -0.6 -4.3 -1.1 -4.9 -0.5 -3.1 -1.3 -4.2 -0.9 -3.5 -0.2 -3.0 -2.1 -2.8 1.0 -2.1M515.8 197.1l1.1 -5.9 1.0 -8.0 1.0 -6.9 2.0 -6.5 0.8 -5.5 0.2 -6.6 1.6 -4.6 1.8 -5.8 0.4 -5.3 2.0 -5.5 1.5 -5.3 2.5 -4.3 0.8 -3.9 1.3 -3.5 0.6 -2.6 0.8 -3.3M507.6 195.8l-1.1 -7.1 2.2 -6.2 -0.1 -6.4 0.2 -4.8 0.3 -6.4 -0.1 -5.4 1.1 -5.0 0.9 -4.5 1.2 -5.5 0.9 -4.2 -1.1 -5.2 2.3 -3.7 -1.1 -4.2 1.3 -3.7 1.0 -2.7 0.1 -2.5M505.8 216.0l1.6 -6.1 -3.2 -6.7 -2.2 -6.8 -0.3 -6.8 -0.1 -6.9 -0.6 -6.8 -3.3 -6.0 -0.1 -6.3 -1.3 -4.3 -2.1 -5.5 -1.3 -5.0 -2.6 -5.0 -1.0 -4.5 0.5 -5.8 -2.3 -3.4 -1.4 -4.8 -1.7 -2.8 -2.2 -3.8 -0.0 -2.1M508.8 205.5l0.5 -6.1 -0.0 -5.3 -2.8 -5.6 -1.0 -4.9 0.3 -4.8 -3.1 -4.9 -0.1 -4.5 -1.1 -4.1 -2.5 -4.9 -0.9 -4.2 -2.1 -3.7 -3.7 -4.9 -1.4 -3.6 -3.1 -3.7 -0.5 -3.2 -1.5 -3.2 -2.1 -1.6M507.0 209.2l0.4 -3.2 0.7 -3.1 1.3 -4.1 2.0 -3.8 -0.7 -4.0 2.1 -4.4 -0.7 -4.5 3.0 -4.0 -0.1 -4.8 2.6 -3.5 0.9 -2.6 1.0 -5.8 3.7 -2.4 2.6 -4.1 0.8 -3.7 3.3 -3.4 2.4 -3.4 1.5 -3.4 3.3 -2.7 2.4 -2.6 -0.1 -1.5M500.2 204.1l0.3 -6.3 -1.1 -6.5 -0.1 -5.0 -0.0 -7.1 0.6 -5.8 -2.4 -5.2 -0.1 -4.0 0.0 -5.2 0.5 -3.9 0.7 -5.5 1.0 -4.6 -0.6 -3.8 0.0 -4.6 0.7 -3.8 -1.0 -3.8 -0.8 -3.4 0.4 -2.7 0.6 -2.1M514.3 210.4l-2.4 -5.4 -1.1 -5.0 0.9 -6.5 -1.2 -7.2 -1.4 -5.4 -0.8 -6.0 -0.3 -5.0 -0.9 -4.7 -2.4 -5.2 -1.4 -5.1 -2.9 -4.3 -2.6 -5.0 -1.3 -4.4 -2.3 -4.7 -1.8 -3.2 -3.9 -4.1 0.1 -3.1 -2.1 -2.4 -0.9 -2.9M495.9 199.4l-0.6 -4.9 1.3 -4.7 -2.2 -3.7 0.2 -3.6 -0.8 -4.3 -0.8 -2.7 0.1 -2.8 -1.6 -4.1 -1.5 -2.4 1.1 -3.7 -1.7 -2.2 -1.9 -2.7 -0.9 -3.1 -0.8 -2.7 -0.6 -2.3 -1.3 -2.9 -1.0 -2.6 -2.6 -3.1 -1.2 -1.5 -1.7 -3.4 -0.3 -2.2 -2.2 -2.6 -1.7 -3.9 -0.3 -2.6 -1.8 -3.2 -1.8 -3.2 -0.9 -2.4 -2.3 -1.5 0.1 -1.8M514.6 206.2l-1.4 -4.5 1.7 -3.1 -1.0 -4.6 -1.2 -4.9 -0.0 -4.8 1.6 -4.0 -2.3 -5.1 -0.1 -4.1 1.0 -4.0 -1.6 -3.5 0.9 -3.1 -2.6 -4.4 -0.0 -4.3 -0.7 -3.7 -2.6 -4.1 0.3 -4.2 -2.3 -2.3 0.0 -2.9 -0.7 -2.1 -0.7 -2.3M501.2 216.6l-1.7 -5.8 -1.5 -5.6 -1.0 -5.4 -1.3 -5.1 -2.3 -4.9 -0.1 -4.2 -1.9 -3.4 -0.4 -3.4 -1.4 -2.9 -0.2 -3.4 -0.5 -4.4 -0.9 -2.9 -2.5 -2.4 0.1 -2.8 -2.5 -2.6 1.2 -3.8 -1.5 -2.0 -2.9 -2.4 -0.9 -2.6 -1.5 -3.0 -3.0 -2.6 0.8 -2.5 -3.9 -2.6 -1.0 -2.6 -1.1 -3.5 -2.4 -2.9 -0.7 -3.5 -1.6 -2.9 -3.1 -3.3 1.0 -0.9 -2.5 -3.0 -0.8 -1.6M520.7 204.6l0.7 -5.3 0.2 -3.6 2.1 -5.3 2.2 -4.6 0.7 -5.4 2.2 -4.9 2.3 -5.3 2.2 -5.7 1.0 -3.8 2.8 -4.1 0.7 -3.3 0.8 -2.9M504.8 202.2l1.1 -6.1 2.8 -6.5 -0.9 -5.7 0.1 -7.0 1.8 -5.2 1.1 -7.2 1.1 -5.2 0.8 -5.1 3.5 -4.8 1.8 -5.0 3.3 -5.5 3.0 -4.4 1.3 -5.1 3.9 -3.6 2.0 -4.1 1.7 -4.5 3.2 -3.3 2.9 -3.4 0.5 -1.9M510.3 201.0l-0.7 -5.2 1.8 -5.0 -2.7 -5.1 0.3 -6.2 0.6 -6.0 -0.8 -6.2 2.2 -6.7 -1.7 -5.0 0.7 -5.5 -1.3 -3.9 0.4 -5.5 -1.2 -4.5 -1.1 -5.3 -1.8 -3.6 1.1 -4.5 -1.4 -4.5 -0.7 -3.3 -0.8 -3.2 -0.7 -2.6 0.1 -2.4" fill="none" stroke="#828282" stroke-width="0.65" stroke-linejoin="round" />
<path d="M505.9 200.5l0.2 -4.2 2.2 -6.3 -0.4 -6.5 1.1 -5.3 -2.1 -7.4 2.1 -5.9 -2.4 -4.1 1.4 -6.0 1.3 -7.2 -0.6 -6.3 2.7 -4.8 -0.5 -5.2 0.2 -4.3 0.3 -3.6M507.7 185.6l0.2 -2.6 -0.2 -2.9 2.4 -4.6 1.6 -3.2 0.6 -4.3 2.5 -3.9 1.6 -5.3 3.2 -3.7 -0.8 -2.8 3.8 -5.5 -1.4 -5.0 4.2 -4.7 0.3 -4.0 1.4 -3.8 0.4 -2.4 1.7 -2.4M508.3 202.9l-0.9 -4.8 1.3 -6.7 -0.3 -5.7 0.5 -4.9 -1.0 -4.8 1.6 -6.2 0.4 -5.5 1.9 -6.0 0.3 -5.2 1.6 -6.3 0.5 -3.9 0.1 -3.4 1.4 -3.5M502.8 215.9l-2.4 -4.4 2.5 -4.1 -1.7 -5.4 -1.1 -6.1 0.9 -6.0 -1.2 -6.7 -2.0 -5.9 0.6 -4.6 1.3 -5.8 0.7 -7.0 -3.1 -5.0 1.7 -6.0 -0.0 -6.0 -1.4 -3.7 0.3 -2.9M502.9 191.1l-0.8 -3.2 0.7 -3.5 1.6 -3.9 0.5 -6.2 0.1 -4.9 -0.5 -6.2 1.1 -4.4 1.1 -4.5 3.0 -5.3 -1.0 -5.7 1.1 -5.7 0.2 -4.5 1.1 -5.1 0.7 -5.3 2.2 -3.5 0.1 -2.9M501.2 189.8l0.5 -2.9 -0.4 -3.1 -1.3 -4.3 -0.0 -4.8 -0.8 -4.3 -0.8 -5.9 1.0 -4.7 -1.7 -3.8 -1.3 -5.2 -0.3 -5.5 0.3 -4.5 -1.5 -3.8 -0.1 -5.1 -1.0 -4.6 -1.3 -3.6 0.8 -2.7M505.0 200.2l1.5 -4.7 2.4 -6.1 -0.3 -6.0 1.6 -6.9 2.6 -6.0 -0.8 -6.7 1.5 -5.4 2.0 -7.1 0.1 -6.0 4.1 -5.3 0.6 -6.6 1.0 -7.3 1.8 -4.4 -0.5 -4.9 1.3 -3.9M503.6 196.4l0.6 -3.4 1.7 -5.0 1.0 -5.8 2.6 -4.8 -0.3 -5.7 1.9 -6.7 0.9 -6.1 3.0 -6.3 1.7 -5.0 1.7 -6.4 0.9 -6.2 1.9 -6.4 0.8 -6.9 0.9 -3.9 1.9 -4.3 0.5 -3.7M504.9 186.8l1.2 -3.1 1.3 -3.3 2.2 -4.2 -0.5 -4.6 3.4 -4.3 0.9 -6.2 1.4 -5.0 2.1 -3.9 0.4 -4.8 4.5 -4.7 0.3 -4.9 1.3 -5.0 2.9 -4.1 -0.1 -5.2 3.4 -3.5 1.5 -2.6M506.6 200.8l-0.7 -3.3 -0.2 -3.7 0.2 -4.2 -2.6 -6.5 1.8 -5.2 -1.4 -5.6 -0.8 -4.8 -0.3 -5.8 -0.7 -5.6 1.1 -4.7 -1.8 -5.7 -1.2 -6.2 -0.9 -5.1 -1.8 -4.5 -0.0 -3.8 -0.9 -3.2M498.1 203.0l-0.2 -3.2 1.1 -4.8 5.0 -4.6 -0.3 -5.6 0.4 -6.1 1.4 -6.0 3.2 -5.9 0.2 -6.3 2.3 -6.0 2.7 -4.8 2.0 -5.9 1.4 -6.7 3.5 -5.5 3.9 -5.5 1.2 -3.7 1.3 -3.4M496.4 200.0l0.1 -7.1 0.8 -6.0 -1.7 -6.5 1.9 -5.6 -0.8 -6.9 0.8 -5.5 -2.5 -7.7 0.3 -5.8 -0.0 -5.2 1.4 -5.4 -0.6 -3.4M504.6 198.6l3.7 -4.8 4.5 -7.0 3.3 -5.7 -0.9 -5.7 0.9 -5.9 1.8 -5.9 2.1 -6.8 0.6 -5.9 2.1 -5.3 1.3 -5.5 -0.7 -5.5 2.8 -2.6M499.7 189.4l2.0 -2.3 -3.4 -4.1 0.4 -2.7 0.1 -4.3 -1.6 -4.2 1.7 -4.0 -2.2 -4.5 -0.9 -4.8 -0.7 -3.8 -0.3 -3.7 -0.7 -3.9 -2.1 -5.3 0.2 -3.8 -0.7 -3.1 0.1 -3.1 -1.4 -2.8M502.1 202.5l0.3 -3.3 -0.8 -4.6 0.4 -6.6 -0.6 -5.2 -0.5 -7.0 2.1 -6.2 0.1 -7.1 0.1 -5.7 -1.1 -6.2 1.2 -6.9 0.3 -6.8 0.8 -6.3 -0.0 -6.0 3.5 -5.4 -1.0 -4.2 0.1 -4.0M499.4 192.6l-0.6 -2.3 -0.6 -5.0 -1.1 -5.2 -1.0 -5.3 1.0 -6.2 1.1 -4.3 -1.8 -5.4 -0.8 -6.8 0.9 -4.3 -1.3 -5.4 -1.6 -5.9 2.3 -6.2 -1.1 -4.9 0.4 -4.8 -1.4 -4.7 -0.1 -2.7M504.5 203.3l1.6 -8.1 -1.0 -6.5 -0.9 -7.3 -0.2 -6.1 -0.3 -7.3 0.2 -7.0 -3.1 -7.3 -1.1 -7.5 -0.9 -6.8 -2.1 -6.7 -2.2 -4.8 0.9 -4.2M500.8 210.3l-0.1 -6.4 0.3 -7.8 -1.1 -6.7 -1.0 -9.1 -0.5 -6.4 -0.1 -7.3 -0.0 -7.2 0.5 -7.7 0.0 -7.3 -0.2 -8.0 -0.5 -6.0 -0.2 -6.0 -0.4 -3.8M500.1 201.8l1.9 -4.0 -0.6 -4.4 0.9 -5.0 2.4 -5.3 3.3 -7.1 0.6 -5.9 1.0 -7.1 3.1 -4.9 2.0 -7.2 5.2 -5.9 1.5 -5.5 2.5 -6.3 3.2 -6.1 1.4 -5.8 1.6 -4.4 1.8 -3.3M504.8 202.6l0.6 -4.8 0.3 -6.3 0.9 -4.8 -0.1 -6.4 2.0 -6.9 0.8 -6.5 3.1 -4.6 -0.3 -6.8 -0.2 -6.2 2.3 -6.5 2.8 -6.8 -0.4 -5.0 3.9 -5.6 0.9 -4.7 0.2 -3.3M496.4 196.3l1.3 -2.9 2.1 -1.7 0.2 -4.7 1.8 -4.1 3.7 -3.3 1.1 -5.7 2.9 -3.7 -1.0 -3.5 4.0 -4.3 0.0 -4.6 1.1 -3.7 1.8 -4.9 0.5 -4.7 -0.4 -3.5 2.5 -2.7 0.4 -2.0M507.8 205.3l1.6 -2.5 -0.2 -3.5 0.2 -4.2 1.2 -4.8 1.6 -4.3 0.3 -5.5 0.9 -4.0 1.4 -4.7 -0.6 -4.4 0.6 -5.8 -0.8 -4.6 1.0 -4.5 -1.4 -4.8 1.2 -4.1 -0.0 -3.6 0.4 -2.5M499.5 202.8l1.2 -4.0 -0.3 -4.5 1.2 -5.3 -1.5 -5.1 1.3 -6.5 0.9 -6.0 1.8 -6.4 1.2 -5.4 0.5 -6.1 1.4 -6.6 1.2 -5.4 1.4 -7.1 0.9 -5.7 1.3 -5.0 1.1 -4.1 0.9 -3.8M498.3 208.8l2.1 -6.6 1.1 -6.2 3.5 -7.2 0.5 -6.6 2.8 -5.3 -0.4 -7.3 0.6 -6.1 2.0 -6.7 2.6 -6.6 1.1 -5.4 -0.4 -6.4 1.6 -4.1 1.2 -3.7M498.7 185.7l1.7 -3.1 1.7 -2.9 0.9 -2.7 3.2 -5.0 3.2 -3.9 3.2 -4.3 1.3 -4.2 2.8 -4.2 2.9 -3.5 1.4 -4.7 2.1 -4.8 1.1 -4.2 1.4 -3.7 2.6 -4.9 2.6 -3.3 0.7 -1.9M507.2 189.4l-0.6 -2.2 0.5 -3.2 1.9 -3.8 1.3 -5.0 -0.5 -3.5 1.8 -4.6 -1.3 -5.3 0.6 -2.8 0.2 -3.9 -0.6 -4.2 1.6 -5.3 -1.2 -4.2 -0.4 -4.0 1.2 -3.1 -2.1 -3.2 0.5 -2.6M504.8 193.8l1.3 -2.9 -2.3 -3.8 0.5 -4.4 -0.9 -5.4 0.4 -5.7 -1.0 -5.2 0.8 -5.0 0.4 -5.4 -1.4 -4.9 -0.9 -4.6 -0.5 -6.1 0.3 -5.1 -0.8 -5.6 0.2 -4.9 -2.1 -3.0 1.0 -3.1M497.7 202.3l2.0 -3.6 0.1 -4.0 2.3 -4.8 1.9 -5.4 1.4 -6.5 2.0 -6.8 4.7 -5.8 1.1 -5.2 2.3 -5.3 1.5 -5.5 2.7 -6.5 3.5 -5.5 2.3 -6.4 0.7 -4.8 2.7 -4.9 2.3 -2.7M502.0 202.4l0.6 -2.6 -1.9 -2.7 1.7 -4.1 -0.9 -5.4 0.2 -3.2 -0.3 -5.6 0.3 -3.4 1.9 -4.7 -0.1 -3.7 -0.3 -4.5 0.0 -4.2 0.4 -5.8 -0.1 -3.5 -1.2 -3.5 0.8 -3.3 1.4 -2.7M499.0 204.2l1.2 -7.3 0.5 -7.4 1.1 -7.7 3.4 -6.0 -0.2 -6.5 0.9 -6.5 2.5 -6.9 1.7 -6.4 1.4 -6.9 0.9 -6.2 0.8 -5.9 -0.4 -6.0 2.1 -3.1M506.6 201.1l2.3 -7.3 -0.2 -7.9 -0.0 -6.6 1.6 -6.4 -2.5 -7.3 2.6 -6.8 -1.9 -6.9 -0.6 -7.8 2.0 -7.3 -0.3 -6.0 -0.4 -4.8 -0.8 -4.0M496.0 205.0l1.5 -3.7 1.4 -3.4 0.7 -4.1 0.4 -6.5 1.1 -4.9 2.6 -7.1 0.6 -4.4 -0.6 -6.1 3.8 -5.4 2.0 -5.4 0.9 -5.3 2.7 -6.0 2.8 -4.7 0.7 -6.3 2.8 -3.7 0.5 -3.0M501.6 201.1l-0.7 -4.4 2.4 -3.6 2.7 -5.0 0.5 -4.7 1.3 -5.1 1.1 -5.1 2.0 -4.6 -0.2 -4.4 1.0 -4.6 0.3 -4.8 0.9 -5.5 1.7 -4.4 -0.1 -4.2 0.9 -3.5 -0.2 -2.7M502.8 209.3l0.0 -3.9 1.2 -5.4 -0.3 -5.5 -0.0 -7.6 2.4 -6.2 0.6 -7.9 -1.6 -6.4 2.0 -6.6 -1.4 -7.7 1.8 -6.2 -0.1 -7.5 0.8 -7.1 0.8 -6.3 0.1 -7.1 -0.1 -4.4 -0.2 -4.2M501.7 202.1l-0.3 -8.0 1.2 -4.2 2.5 -5.8 1.7 -6.1 1.4 -4.6 3.4 -6.4 0.8 -6.9 3.7 -5.3 4.0 -5.4 -0.2 -5.0 3.0 -4.7 1.1 -2.7M505.3 197.8l-0.3 -2.8 3.2 -2.5 -0.3 -4.5 2.2 -4.0 1.3 -4.4 0.7 -4.7 1.7 -5.4 -0.7 -3.7 2.9 -3.4 1.7 -5.5 0.9 -4.0 2.7 -4.2 2.5 -4.3 0.1 -3.6 1.2 -2.5 0.7 -3.3M508.4 204.2l1.2 -5.3 2.8 -5.0 -0.1 -5.8 4.7 -4.0 1.2 -6.9 1.8 -4.5 3.4 -4.9 -0.1 -6.3 3.5 -5.7 0.1 -6.0 2.6 -3.7 0.1 -5.7 1.3 -4.1 0.9 -2.6M500.3 191.8l-0.0 -2.1 1.1 -3.4 0.4 -3.4 -1.6 -5.0 1.1 -4.3 2.3 -4.3 -1.0 -4.1 0.8 -3.8 1.1 -4.4 0.9 -4.3 1.8 -4.3 -0.2 -4.7 1.0 -2.8 2.3 -4.9 -1.3 -3.1 1.0 -2.3M505.3 209.3l-0.3 -2.2 1.4 -4.8 1.6 -3.8 2.4 -4.9 1.5 -4.8 -1.1 -5.3 4.3 -5.5 -0.5 -5.2 3.0 -4.1 0.2 -5.7 3.9 -4.8 1.4 -4.9 3.4 -5.5 1.6 -4.8 0.3 -3.4 1.5 -2.4M498.7 188.3l1.9 -3.2 0.0 -3.3 4.2 -5.0 0.1 -5.2 -0.0 -6.1 5.1 -5.2 0.2 -6.7 2.3 -3.9 2.8 -4.9 2.7 -5.5 1.3 -5.8 3.0 -5.5 2.3 -5.0 2.3 -4.4 1.2 -4.4 1.6 -2.7M496.4 214.5l4.0 -5.7 1.4 -5.4 1.9 -7.9 3.6 -6.9 1.6 -7.9 1.9 -8.1 1.6 -6.8 4.5 -7.4 2.8 -6.7 1.2 -8.1 3.9 -6.6 0.2 -7.1 2.8 -7.1 3.1 -4.8 -0.1 -4.5M499.3 187.3l2.0 -2.5 -0.5 -2.5 -0.7 -2.9 3.7 -3.5 -0.5 -3.6 2.0 -4.3 3.0 -3.5 -0.6 -3.6 1.6 -3.7 2.6 -3.5 1.8 -4.2 2.5 -3.3 -0.6 -4.8 4.8 -1.8 0.6 -4.3 1.8 -1.2M504.7 213.4l0.3 -8.2 0.9 -6.8 0.8 -9.2 0.5 -7.7 -0.4 -8.8 1.0 -6.4 0.7 -8.5 1.1 -7.9 0.4 -8.7 2.9 -7.3 -0.4 -8.9 0.9 -6.2 -0.1 -5.8 1.8 -5.1M507.0 211.8l0.1 -7.0 -1.5 -6.6 -1.0 -8.3 -0.9 -7.6 0.8 -7.8 -3.0 -6.4 1.1 -8.2 0.1 -7.1 -1.5 -8.2 -0.1 -7.8 0.2 -6.8 0.4 -7.0 -0.8 -4.9 -0.7 -4.3M501.2 214.5l-0.3 -3.7 -0.1 -5.0 -2.1 -6.4 -0.2 -6.0 0.8 -7.8 0.5 -7.2 -3.5 -7.3 -1.5 -6.3 1.3 -6.0 -1.5 -7.4 -2.8 -6.4 -0.5 -7.7 -2.4 -6.6 1.0 -5.6 -1.0 -5.8 -1.0 -3.8M503.9 201.8l-0.8 -3.6 1.0 -3.7 1.3 -5.8 -0.0 -5.7 -0.6 -5.4 0.6 -6.5 -2.5 -6.1 1.7 -5.4 1.4 -5.4 -2.3 -5.9 3.0 -5.7 -2.2 -6.5 0.2 -4.8 -0.5 -6.0 0.6 -3.9 0.4 -3.4M505.6 189.0l0.5 -2.0 0.5 -3.3 0.8 -1.9 3.4 -4.7 0.1 -4.1 0.0 -2.9 2.6 -4.6 1.6 -2.7 1.1 -4.4 1.0 -3.8 2.2 -3.3 2.7 -5.1 0.6 -3.7 1.9 -2.0 1.4 -3.3 0.6 -2.3M507.8 202.7l-0.2 -5.4 -1.0 -7.0 -0.3 -6.5 1.0 -6.7 0.3 -6.7 1.5 -5.9 -0.9 -6.0 0.4 -6.4 -1.1 -7.8 -1.2 -6.5 -0.0 -6.3 0.0 -5.8 0.2 -5.9 0.7 -2.8M500.0 208.2l2.0 -5.7 -2.0 -6.2 -0.1 -5.1 0.5 -6.0 1.2 -4.9 -3.0 -6.4 -1.7 -4.4 1.8 -7.6 -0.9 -5.1 -0.4 -5.5 2.5 -5.0 -1.5 -4.4 0.4 -2.8M494.8 206.8l0.1 -5.7 -3.6 -5.7 1.0 -6.7 -0.8 -4.8 -0.3 -5.9 -0.3 -5.7 -0.7 -6.6 -1.6 -5.7 1.6 -5.9 -3.3 -5.3 0.3 -5.3 -1.4 -4.8 0.4 -3.4" fill="none" stroke="#ff7aaa" stroke-width="0.65" stroke-linejoin="round" />
<path d="M515.4 202.7l-0.4 -4.7 1.1 -4.5 0.3 -5.9 0.2 -3.5 1.1 -4.8 1.4 -4.8 -0.5 -4.5 2.4 -4.7 1.8 -3.5 0.8 -4.0 3.2 -4.6 -0.0 -3.8 0.2 -4.7 4.0 -3.5 0.6 -3.6 0.0 -2.8 3.9 -2.6 0.1 -3.1 0.9 -1.8M498.8 191.7l-0.2 -5.4 -0.9 -5.4 -0.3 -4.5 -0.9 -5.5 -1.6 -4.1 0.0 -4.5 -3.1 -4.0 -2.6 -4.3 -0.1 -4.8 -2.3 -3.9 -2.3 -4.1 -1.0 -3.7 -2.7 -3.6 -0.2 -3.4 -3.5 -1.7 1.5 -2.7M517.0 204.1l-0.1 -5.0 1.6 -4.4 0.7 -5.0 -1.5 -4.4 1.8 -4.1 2.0 -4.9 1.9 -2.7 -1.4 -4.7 1.6 -4.4 -0.9 -4.0 1.6 -3.7 -0.6 -3.6 2.5 -3.4 0.6 -2.8 -0.1 -2.3 0.6 -2.0M510.2 202.3l0.5 -7.2 0.0 -7.4 0.9 -6.9 0.6 -6.1 0.3 -6.3 1.0 -6.2 1.4 -4.5 0.6 -5.1 3.1 -5.5 2.2 -5.2 1.8 -5.0 0.5 -4.8 2.7 -3.8 2.7 -4.1 1.3 -3.2 -0.8 -3.8 1.7 -2.1M505.3 209.3l-0.4 -3.9 -0.3 -4.4 -1.6 -6.5 0.4 -5.3 -0.7 -7.0 -1.3 -5.4 1.0 -6.9 -0.5 -5.2 -1.6 -6.2 0.8 -4.7 0.9 -4.9 -0.6 -4.9 -1.4 -4.8 0.4 -4.2 0.1 -4.4 -2.6 -5.0 2.1 -4.1 -0.7 -4.4 0.0 -2.7 -0.5 -2.7 0.7 -2.2M506.7 197.9l-1.5 -8.2 2.8 -6.6 2.2 -7.5 0.0 -7.2 2.3 -6.2 1.1 -5.9 0.9 -5.5 4.6 -5.4 2.8 -6.4 0.7 -4.7 3.1 -4.9 2.8 -5.0 3.3 -4.5 3.3 -3.3 3.7 -4.3 -1.1 -3.0 2.4 -2.6M495.9 205.2l-0.7 -5.1 -0.9 -5.9 -1.5 -4.1 -0.7 -4.3 -0.3 -3.1 -1.8 -3.2 -0.4 -3.7 -1.6 -3.5 -0.1 -4.0 -0.7 -1.9 -1.0 -2.8 -2.2 -3.6 -1.5 -3.4 -2.0 -2.1 -1.5 -2.6 -0.1 -2.4 -1.2 -3.4 -3.1 -2.5 -0.8 -1.9 -1.1 -3.1 -2.3 -2.0 -0.8 -3.3 -3.1 -2.4 -0.9 -3.8 -1.3 -3.0 -1.1 -2.8 -2.1 -2.8 -1.8 -2.3 -0.8 -2.8 -0.9 -1.1M503.6 209.7l-0.7 -2.6 0.4 -4.1 -0.5 -3.8 -2.0 -5.7 1.0 -5.3 -0.3 -5.2 -0.6 -5.1 1.0 -4.8 -2.1 -4.9 -1.3 -5.0 -1.3 -4.3 0.3 -4.5 -2.2 -3.5 -0.0 -4.8 -2.3 -3.6 -2.2 -4.5 -0.2 -2.6 -0.3 -4.2 -3.0 -2.9 -1.1 -2.8 0.2 -2.0M511.6 211.5l0.9 -7.4 -0.2 -7.2 -0.9 -6.8 -1.2 -8.7 1.2 -6.3 0.8 -6.9 -0.6 -5.6 -1.1 -4.5 -0.2 -6.0 0.1 -5.6 -0.5 -5.7 2.8 -4.8 -1.2 -5.0 0.6 -4.8 -0.8 -3.9 1.2 -3.8 -0.8 -2.4 0.1 -3.3M507.4 210.5l1.9 -7.7 0.9 -7.5 -0.2 -7.8 1.6 -8.6 -1.6 -7.0 0.8 -6.1 2.0 -7.7 0.6 -5.3 -0.7 -5.7 2.2 -5.3 1.1 -6.5 -0.1 -4.9 1.4 -4.8 1.7 -5.2 3.1 -4.1 -1.9 -3.6 0.7 -3.9 0.4 -2.1M507.1 207.9l0.9 -4.0 -2.2 -4.2 -0.0 -4.3 -0.2 -4.4 2.7 -4.9 -2.0 -3.7 -1.3 -2.9 3.1 -4.9 -2.5 -3.1 -0.9 -4.9 0.2 -2.3 0.5 -3.9 -1.3 -3.9 0.1 -3.8 0.1 -2.9 -0.6 -2.6 0.7 -3.1 -1.0 -1.3M507.5 208.2l1.9 -2.9 -1.1 -4.5 -0.6 -4.5 0.4 -5.3 0.3 -5.5 -1.5 -4.8 1.2 -4.5 -0.2 -4.1 -2.7 -5.0 1.2 -4.0 0.3 -3.5 -1.7 -4.5 0.4 -3.2 -1.8 -5.1 -1.2 -4.0 -1.1 -3.0 1.0 -2.5 -0.0 -3.9 -1.4 -2.8 -0.5 -1.4M504.9 197.3l0.2 -3.8 -1.0 -5.4 -1.9 -4.7 0.7 -5.0 0.4 -3.9 -2.1 -4.5 0.2 -3.9 -0.9 -3.4 -2.6 -3.8 -1.4 -3.8 0.0 -4.5 -2.8 -3.7 -2.7 -3.8 0.3 -3.2 -2.3 -3.7 -1.0 -2.7 -1.1 -2.6 -1.4 -1.9M507.9 211.2l0.5 -3.9 1.5 -3.6 -0.3 -4.3 0.3 -4.1 -0.7 -5.7 0.9 -5.5 0.4 -5.0 0.9 -5.3 -0.8 -4.9 -1.3 -3.7 2.3 -4.2 -0.2 -4.4 0.7 -5.0 0.4 -3.2 0.9 -4.3 -1.9 -4.7 4.1 -3.8 -1.1 -3.5 0.7 -2.4 0.7 -2.8 -0.3 -1.6M510.1 208.2l0.1 -3.6 -0.9 -4.2 -1.1 -4.4 0.8 -5.8 -0.3 -5.3 0.2 -5.5 -0.1 -5.4 -1.7 -5.7 -2.9 -3.7 1.5 -5.2 -3.3 -4.2 -1.7 -4.6 -3.4 -4.9 -0.3 -3.8 -3.1 -4.1 -3.7 -3.9 -0.9 -3.9 -1.8 -3.8 -3.7 -2.2 0.1 -3.2 -1.6 -2.4M517.1 194.2l-0.3 -6.1 1.8 -6.0 0.4 -6.4 1.0 -5.6 0.4 -5.1 0.0 -4.7 -0.6 -4.6 1.5 -5.6 0.9 -4.0 0.6 -4.8 1.8 -4.2 1.0 -5.4 0.3 -3.0 1.0 -3.7 1.1 -2.6 -0.0 -2.2M517.2 212.6l-1.1 -6.5 1.4 -8.0 -2.1 -8.7 1.9 -7.8 -2.2 -7.6 1.5 -6.6 -0.3 -6.2 -0.2 -5.8 -0.3 -5.8 -1.2 -5.3 -0.1 -5.8 0.6 -5.7 -0.9 -4.5 -0.6 -4.9 2.2 -4.1 -1.1 -4.0 -2.0 -3.9 2.0 -1.9M510.4 212.3l-1.8 -6.1 0.5 -5.1 -2.5 -6.5 1.7 -4.7 -1.1 -5.5 -1.1 -4.4 1.0 -4.6 -1.3 -3.8 -0.2 -5.3 -0.9 -4.1 -3.5 -5.4 2.2 -3.0 -4.3 -2.8 0.7 -4.8 -0.6 -2.6 0.0 -2.9 -1.2 -2.6M511.3 206.9l2.6 -3.3 -2.1 -2.4 -0.4 -3.4 0.4 -3.9 0.4 -3.4 0.7 -3.4 -0.7 -2.9 1.0 -4.7 1.8 -3.0 -0.4 -3.5 1.2 -2.5 1.2 -2.9 1.8 -4.1 1.8 -3.1 -0.1 -4.2 1.9 -3.5 0.3 -3.1 1.8 -2.1 -0.1 -3.0 1.9 -2.3 -0.1 -1.4M514.6 203.1l0.6 -5.7 -0.7 -6.3 0.6 -5.9 -0.3 -5.9 -0.7 -6.4 2.0 -5.8 -0.2 -4.2 -2.2 -5.4 0.8 -5.1 1.2 -4.5 0.3 -4.1 -1.1 -5.3 0.0 -4.1 0.3 -3.6 1.8 -3.6 -0.9 -3.8 1.4 -3.0 -0.8 -2.0M505.2 206.4l0.4 -4.2 1.1 -3.5 -0.7 -4.5 -2.7 -4.6 1.6 -4.8 -1.7 -5.6 -0.2 -4.5 0.1 -5.0 -0.3 -4.8 -0.4 -4.4 -1.5 -4.1 0.5 -4.1 -2.0 -3.6 -0.8 -4.3 -1.1 -4.3 1.0 -4.1 -1.3 -3.3 -2.6 -2.3 1.2 -3.8 -1.7 -2.8 -0.2 -1.5" fill="none" stroke="#828282" stroke-width="0.65" stroke-linejoin="round" />
<path d="M507.3 203.6l1.6 -3.5 0.7 -4.9 -0.3 -5.7 1.7 -5.8 1.8 -6.9 1.2 -6.8 -0.3 -5.8 0.8 -6.5 0.5 -5.8 2.5 -5.3 3.5 -7.5 1.9 -6.6 -1.2 -6.4 0.8 -6.2 1.3 -3.9 1.7 -3.8M497.2 201.9l1.6 -3.0 -1.6 -2.3 3.2 -4.6 -1.2 -4.7 -0.0 -4.0 1.2 -4.6 1.7 -5.7 -0.2 -3.0 0.8 -5.0 1.5 -4.2 2.3 -4.8 -0.6 -5.3 2.5 -4.3 0.5 -3.3 0.0 -3.6 1.1 -2.7M498.5 204.7l-3.4 -6.9 2.5 -5.5 -2.6 -6.7 0.8 -5.6 -1.9 -6.2 0.7 -5.3 -0.3 -7.0 0.5 -5.6 -1.0 -5.0 -1.6 -6.6 -0.7 -3.7 0.4 -3.4M500.8 193.7l-0.8 -2.5 1.0 -4.3 -1.9 -3.4 -0.9 -4.2 1.1 -4.9 0.2 -5.4 -3.1 -5.0 0.1 -4.5 -1.4 -3.1 -0.2 -5.7 -2.9 -4.9 -1.1 -5.2 -1.2 -3.9 0.7 -4.1 -3.1 -3.8 1.0 -3.1M508.7 204.6l-1.8 -4.6 -0.8 -5.7 0.3 -6.5 -0.6 -7.0 -1.0 -6.5 -0.3 -7.1 2.1 -6.0 -0.4 -6.5 -0.6 -6.7 1.2 -6.9 -0.5 -6.6 -1.1 -7.3 1.3 -5.3 0.9 -4.7 -0.4 -4.0M505.1 207.4l1.7 -3.1 1.1 -5.0 2.0 -4.3 -0.4 -5.7 5.5 -5.5 1.6 -6.7 0.8 -5.5 1.0 -6.1 2.9 -4.1 4.0 -6.3 -0.4 -6.1 0.3 -5.9 2.0 -6.1 1.0 -4.8 3.3 -4.5 -0.5 -2.8M504.8 215.8l0.9 -5.7 2.1 -6.1 0.3 -7.5 0.3 -8.4 3.7 -5.5 0.6 -7.1 1.3 -6.0 1.9 -6.8 1.3 -6.6 2.7 -6.9 -0.3 -6.9 1.7 -5.6 1.8 -5.6 -0.1 -3.4M510.9 208.2l1.9 -6.0 2.4 -6.9 1.1 -7.7 2.9 -5.9 0.5 -7.2 2.5 -6.3 2.2 -6.7 1.1 -7.7 2.6 -6.4 -0.6 -5.6 2.1 -5.9 0.6 -5.8 1.0 -3.5M503.4 215.5l0.2 -6.6 2.4 -8.0 0.6 -8.2 -4.1 -8.0 2.2 -8.5 1.2 -6.6 -0.1 -7.8 -1.4 -8.1 0.4 -8.7 -0.3 -6.9 -1.5 -7.4 0.4 -7.7 -0.7 -5.0 -0.0 -4.2M496.0 188.1l2.4 -2.8 0.7 -2.9 3.6 -3.8 0.5 -4.1 2.5 -4.8 2.8 -5.0 1.5 -5.2 3.5 -4.0 1.2 -4.5 3.0 -4.5 -0.1 -4.8 2.4 -5.0 0.7 -4.1 0.1 -3.6 3.2 -4.6 -0.5 -1.5M503.6 200.7l1.1 -3.0 0.9 -3.5 -1.4 -4.5 2.8 -5.6 -0.5 -5.0 1.1 -5.0 1.5 -6.3 -1.3 -5.0 0.2 -4.4 1.0 -4.9 1.4 -5.8 -0.1 -4.7 0.6 -6.0 0.7 -4.1 -3.9 -3.5 2.5 -3.1M496.8 195.7l-0.4 -2.4 0.3 -3.6 -1.9 -4.1 -0.7 -4.0 0.2 -4.9 -0.2 -4.3 -0.2 -5.2 -1.8 -4.5 1.0 -3.0 -1.2 -4.7 -0.5 -6.1 0.1 -3.8 0.8 -4.8 -1.1 -3.8 0.2 -3.2 -1.1 -2.7M499.0 205.3l0.4 -4.8 -0.2 -5.5 1.1 -7.1 -0.7 -7.2 2.9 -7.4 -0.2 -6.7 -0.9 -6.1 2.5 -6.7 0.1 -7.5 1.8 -8.1 -0.9 -6.0 0.7 -6.5 1.3 -6.4 1.3 -5.3 -0.7 -3.4M501.9 214.0l-0.1 -6.5 0.6 -7.7 3.6 -7.9 -2.3 -8.4 4.2 -7.4 1.5 -8.0 -1.0 -7.2 0.8 -7.7 0.8 -8.6 1.4 -7.9 0.2 -7.9 2.2 -6.7 -2.6 -5.2 1.5 -4.7M496.2 200.0l1.1 -8.0 -1.1 -8.0 -0.1 -7.5 0.7 -6.5 2.7 -7.4 -1.2 -7.1 -0.3 -7.7 -0.2 -9.2 2.7 -5.9 0.3 -7.3 1.3 -5.2 1.4 -4.3M498.0 185.7l-0.9 -3.0 0.7 -3.7 0.5 -4.5 -0.3 -4.9 -1.4 -5.1 1.9 -5.8 -0.4 -5.0 0.2 -5.1 -2.1 -3.7 0.7 -6.0 -0.1 -5.1 -2.2 -4.8 -0.4 -6.6 -2.5 -4.1 2.3 -4.3 -0.9 -2.1M502.4 197.9l-0.5 -2.3 -2.3 -3.5 -1.3 -5.3 -1.5 -4.2 0.9 -3.9 -0.4 -4.1 0.7 -3.9 -0.8 -4.8 -0.0 -3.8 -1.2 -5.5 0.1 -4.0 2.6 -4.1 -0.5 -4.1 0.4 -2.4 -0.5 -3.0M499.8 200.9l-1.9 -5.5 -0.2 -6.0 -0.6 -5.8 -1.5 -7.9 -0.2 -5.7 0.1 -7.1 -1.5 -5.9 -0.8 -5.5 0.2 -6.9 0.1 -7.1 -0.4 -5.8 0.3 -6.3 0.7 -4.6 -0.2 -3.2M505.7 188.1l-1.6 -2.0 0.6 -4.0 -1.1 -2.3 2.1 -4.7 -2.1 -4.0 -1.6 -4.3 -0.5 -3.9 -0.6 -3.5 -1.2 -4.4 -0.1 -5.1 -0.8 -4.4 0.5 -2.9 -0.5 -5.1 -1.5 -3.5 0.7 -2.2 0.4 -2.7M498.8 198.0l-0.8 -3.0 2.7 -4.1 1.7 -4.1 1.2 -6.3 3.8 -4.3 1.0 -5.9 -0.5 -5.3 0.5 -5.5 1.7 -5.3 2.0 -6.2 1.2 -5.0 3.2 -5.7 -0.8 -5.5 1.8 -4.4 0.6 -3.1 0.5 -3.3M500.4 191.0l-0.2 -2.7 -0.8 -2.9 -1.4 -3.4 -0.9 -3.5 -0.9 -5.3 0.0 -3.2 -3.0 -4.3 1.1 -4.2 -1.6 -3.8 2.1 -3.2 -2.1 -5.6 0.3 -2.8 -0.3 -4.2 0.2 -4.7 -0.4 -3.2 0.8 -1.6M496.3 208.6l-0.4 -5.9 0.8 -5.7 -3.1 -7.5 1.0 -6.2 -0.7 -6.6 -0.5 -5.4 -0.9 -7.1 2.6 -5.4 -3.6 -8.3 -0.8 -5.8 0.7 -5.1 -2.9 -4.6 0.9 -4.4M507.3 201.6l2.5 -6.4 4.3 -6.3 -1.0 -5.5 2.6 -6.1 0.7 -6.6 -0.8 -6.4 3.4 -6.7 -0.2 -5.8 1.0 -6.6 0.4 -4.7 -0.1 -4.7 1.0 -3.5M499.4 203.8l0.1 -3.4 1.9 -3.2 -1.6 -6.3 1.4 -4.6 -0.6 -6.5 0.7 -5.6 0.6 -6.9 -1.9 -4.6 2.6 -5.8 -1.5 -6.0 0.2 -5.2 -0.7 -6.9 -0.7 -4.2 0.9 -6.3 -1.0 -3.8 0.1 -3.4M501.7 211.6l0.3 -6.3 0.4 -7.3 -1.0 -6.5 -0.6 -8.8 1.9 -6.9 -0.7 -6.3 -1.5 -8.2 0.6 -6.7 0.1 -7.7 1.2 -8.5 -1.3 -7.7 1.2 -5.7 -1.6 -4.9 0.1 -4.4M498.9 208.2l1.6 -7.0 2.4 -6.5 -0.3 -6.6 2.9 -8.1 2.2 -5.9 0.3 -7.1 1.7 -6.9 4.0 -6.9 -1.0 -7.7 2.0 -5.9 1.8 -6.6 1.7 -4.2 0.7 -4.1M505.6 185.9l0.2 -2.2 2.2 -4.6 0.2 -4.0 -0.1 -4.8 1.3 -5.6 0.4 -5.4 0.8 -4.9 0.9 -4.5 -1.4 -5.7 1.6 -5.1 0.0 -4.8 -0.5 -5.3 0.7 -5.4 0.3 -3.8 -0.8 -4.3 0.5 -2.6M496.1 191.8l0.5 -3.7 0.4 -2.6 2.0 -5.5 0.4 -4.5 1.3 -4.2 0.3 -5.3 2.7 -5.2 -0.0 -4.4 2.7 -5.0 0.8 -5.1 -0.4 -4.9 1.0 -4.7 -0.7 -6.0 0.9 -3.3 2.1 -4.4 -0.3 -2.5M504.0 191.3l-1.0 -0.8 1.9 -3.2 -0.4 -4.0 -1.4 -3.4 0.2 -3.9 1.8 -4.2 -1.0 -3.5 0.2 -3.4 -0.2 -3.5 0.1 -3.4 0.5 -3.1 0.1 -3.7 0.7 -3.4 2.4 -3.5 -0.8 -3.0 0.7 -2.3M495.3 191.7l0.1 -1.8 2.4 -2.9 0.5 -3.4 1.5 -3.4 1.2 -3.4 0.3 -4.4 0.5 -3.3 0.6 -4.2 1.5 -2.1 2.4 -4.5 1.5 -3.5 -0.2 -5.0 3.0 -3.8 -1.7 -2.0 1.1 -2.9 2.0 -2.4M506.3 185.2l-1.1 -1.2 0.3 -2.8 0.9 -3.3 -0.7 -2.8 -1.7 -3.7 0.4 -3.6 -0.3 -3.4 0.9 -2.6 -1.0 -4.1 -0.8 -3.5 -2.2 -2.7 1.1 -2.6 -1.9 -3.4 -2.3 -3.6 -0.0 -2.6 -0.4 -1.4M502.2 199.3l0.3 -5.7 1.1 -6.1 1.4 -5.9 1.0 -5.5 2.1 -4.9 2.7 -5.5 0.8 -6.7 2.0 -5.8 2.7 -6.0 1.1 -6.1 3.9 -3.9 0.3 -4.8 1.7 -3.3M496.9 198.3l-0.2 -2.6 -1.1 -5.1 1.2 -3.9 2.2 -5.3 -0.2 -4.5 0.5 -5.6 0.1 -6.3 0.9 -4.2 0.9 -6.3 1.0 -3.9 1.0 -5.1 -0.7 -5.6 1.7 -5.4 1.1 -4.6 -0.0 -3.6 1.0 -3.5M507.1 195.9l0.2 -3.0 -0.1 -4.1 -1.2 -3.6 -0.3 -5.6 1.8 -5.6 -1.9 -5.4 1.8 -5.1 -0.5 -5.0 -0.0 -4.2 0.8 -5.4 0.0 -5.2 3.9 -5.2 -3.6 -5.8 3.6 -5.1 -1.3 -2.4 0.7 -3.5M499.5 205.4l0.3 -2.4 0.9 -4.1 1.9 -5.7 0.6 -5.4 -0.5 -4.7 1.8 -6.9 -0.3 -5.9 1.0 -5.5 1.7 -5.1 -0.1 -4.9 -0.4 -6.3 1.9 -5.7 -1.4 -5.4 -0.3 -5.2 0.9 -3.4 0.0 -3.7M505.0 200.8l1.6 -4.2 1.8 -6.9 0.2 -5.7 1.3 -7.3 1.7 -6.3 1.1 -6.7 2.4 -6.8 1.2 -6.5 3.5 -5.6 1.0 -7.8 3.6 -7.4 -0.1 -6.1 5.0 -5.1 -0.6 -4.8 1.2 -4.0M497.3 204.7l1.5 -3.2 1.7 -4.3 0.7 -4.7 1.9 -6.0 3.8 -6.5 1.6 -5.6 2.7 -6.9 0.0 -6.2 2.4 -5.3 1.0 -5.6 2.0 -5.9 1.4 -6.2 0.2 -5.9 3.0 -5.8 -0.1 -3.9 1.2 -3.5M502.0 204.1l0.5 -6.9 -0.3 -8.8 1.4 -8.1 -1.4 -6.9 3.7 -7.6 -0.0 -7.3 2.2 -7.2 1.5 -7.8 3.4 -7.4 -0.6 -7.2 1.5 -7.3 1.0 -5.2 1.1 -4.3M505.0 212.6l-2.1 -4.1 0.4 -4.9 -0.4 -6.0 -1.8 -5.2 1.5 -6.6 -4.0 -5.4 0.3 -5.7 -0.2 -5.4 -2.4 -5.6 -1.2 -6.2 -0.1 -6.1 -1.8 -4.8 -2.8 -6.0 -1.3 -4.6 -0.9 -2.6M501.9 206.6l0.3 -3.5 0.1 -5.5 0.6 -5.8 1.7 -5.2 1.6 -4.6 0.4 -5.8 -0.3 -4.2 0.5 -5.1 0.4 -5.5 -2.2 -5.8 3.4 -4.4 -1.3 -4.6 -1.1 -4.5 1.0 -2.7M500.6 204.7l1.6 -6.4 3.7 -6.5 1.8 -5.6 3.3 -5.8 2.2 -5.0 1.0 -7.3 3.3 -6.4 5.0 -6.5 0.8 -5.3 2.1 -6.2 2.4 -4.8 1.8 -3.4M494.5 204.8l0.4 -7.1 -0.3 -7.0 -2.8 -7.1 1.4 -7.5 1.7 -6.5 -2.4 -6.3 1.8 -7.2 -0.2 -7.5 -0.4 -6.8 -0.8 -7.0 2.3 -6.0 -0.2 -5.1 -0.7 -3.5M503.7 208.3l-2.2 -8.1 1.3 -7.4 0.7 -8.2 1.1 -9.2 -0.2 -7.3 -0.2 -7.4 3.4 -8.2 -0.6 -8.1 -0.5 -9.4 0.1 -7.6 1.1 -6.8 1.0 -5.9 -1.7 -4.3M498.4 191.6l-0.9 -3.2 1.7 -4.1 0.9 -3.2 0.2 -5.4 1.5 -4.3 2.7 -5.5 -0.0 -5.3 0.9 -4.8 0.1 -5.9 1.1 -5.1 2.6 -4.8 0.5 -4.8 2.5 -5.5 0.0 -5.2 2.6 -2.9 -0.2 -2.8M501.3 202.3l-0.4 -6.2 -0.4 -7.9 -1.6 -6.1 2.6 -8.1 -0.5 -5.1 0.2 -6.4 -1.7 -7.2 0.8 -7.3 -1.8 -7.0 -0.7 -6.7 -1.1 -5.3 0.6 -5.2 -0.4 -3.8M495.4 186.2l0.6 -2.0 0.5 -4.5 2.4 -3.4 0.4 -4.3 0.1 -5.5 -0.7 -4.4 2.9 -5.3 0.8 -4.6 -0.9 -3.6 0.1 -6.5 -0.6 -3.9 0.7 -5.1 0.9 -4.9 -1.5 -3.6 0.4 -2.9 0.8 -3.3M500.6 196.6l0.5 -1.9 -0.7 -4.7 0.5 -4.5 0.2 -6.8 -0.9 -5.9 2.4 -5.1 -0.9 -6.3 -0.3 -4.3 -0.2 -5.9 0.4 -5.5 -1.9 -6.4 2.4 -5.7 -1.6 -5.3 -0.8 -4.6 0.5 -3.1 0.0 -4.2M498.2 187.6l0.7 -2.3 -0.1 -4.2 -0.4 -1.5 -0.3 -4.7 1.1 -3.8 1.1 -3.5 1.1 -5.0 0.0 -3.2 0.1 -4.7 0.7 -3.6 2.3 -4.4 -1.4 -4.2 0.7 -4.0 -0.2 -3.3 2.5 -3.0 -0.1 -1.8M501.3 205.6l0.5 -2.7 1.9 -3.4 0.8 -4.3 1.5 -4.7 -0.3 -5.3 3.3 -4.4 1.9 -4.6 -0.4 -4.3 1.7 -4.8 -1.2 -5.3 0.4 -4.5 4.1 -4.8 -1.4 -4.5 -0.7 -4.2 0.3 -3.1 0.9 -3.3M495.7 187.0l2.5 -2.4 0.1 -3.2 2.6 -4.3 1.0 -4.3 2.0 -4.1 0.9 -3.5 3.5 -5.5 1.8 -4.2 1.8 -3.3 3.1 -4.6 1.2 -4.3 3.6 -4.2 2.6 -5.0 1.2 -3.8 2.5 -2.9 1.3 -2.4" fill="none" stroke="#ff7aaa" stroke-width="0.65" stroke-linejoin="round" />
<path d="M518.5 204.0l2.0 -4.4 1.3 -4.4 1.8 -5.1 1.7 -4.4 2.0 -5.5 2.5 -6.1 2.0 -5.2 2.2 -5.4 2.6 -5.7 0.7 -3.9 1.4 -4.4 0.9 -2.3M496.7 205.5l-0.6 -6.2 -2.1 -4.8 -0.2 -4.5 -1.3 -3.5 0.2 -4.1 -1.5 -3.4 -1.3 -3.8 -0.4 -2.6 -1.7 -2.9 -0.7 -4.0 -1.2 -2.8 0.1 -3.1 -2.5 -3.1 -2.1 -2.8 -1.2 -4.0 -0.8 -2.7 -2.3 -3.0 -1.2 -3.6 -2.7 -3.3 -2.7 -3.2 -0.6 -2.3 -2.3 -3.6 -1.6 -3.8 -1.6 -3.8 -2.5 -3.3 -0.4 -4.3 -2.5 -2.6 -4.2 -3.4 0.7 -1.9 -1.4 -2.4M520.2 199.7l0.6 -4.8 3.4 -4.5 0.9 -5.0 1.0 -4.7 1.8 -5.5 3.0 -4.3 2.6 -5.9 -1.0 -4.5 2.2 -3.5 0.4 -3.6 1.8 -2.5M511.4 210.3l0.9 -5.0 -0.2 -4.5 -0.1 -4.3 -0.6 -3.9 1.2 -4.6 0.2 -4.6 -0.3 -3.0 -0.1 -4.8 2.1 -3.0 -1.5 -3.8 -0.1 -4.3 0.8 -3.4 0.2 -4.0 0.3 -3.0 -0.1 -2.9 -0.1 -3.1 0.9 -2.0 0.1 -2.3M504.2 198.5l2.1 -6.6 -3.0 -6.8 0.1 -5.5 -3.0 -6.8 0.2 -4.7 -1.2 -4.3 -2.9 -5.8 -1.5 -4.2 -2.2 -4.4 -3.2 -5.8 -3.4 -3.7 -0.4 -5.0 -3.0 -3.7 -0.6 -3.4 -3.8 -2.4 -0.4 -2.9M507.7 210.6l1.1 -5.7 1.2 -4.8 0.1 -5.8 1.8 -5.6 1.1 -4.8 0.3 -5.2 1.9 -4.2 1.6 -3.6 1.3 -6.1 1.9 -3.9 2.1 -3.7 0.2 -4.3 2.3 -4.3 2.3 -3.2 -0.1 -2.3 1.2 -3.8 0.7 -1.7M503.5 211.7l2.5 -4.6 -0.3 -5.5 -0.7 -5.1 1.9 -4.4 -1.5 -5.7 1.8 -4.6 0.0 -3.4 0.0 -4.6 0.4 -4.1 1.2 -4.0 1.2 -4.0 -0.0 -3.3 1.8 -5.0 -0.5 -3.1 0.4 -3.7 1.9 -2.5 1.0 -3.3 0.7 -2.0M514.3 198.0l-0.4 -5.9 -1.0 -6.9 -0.1 -6.5 1.1 -5.3 -0.9 -5.1 -0.3 -6.2 -0.9 -4.2 0.8 -5.1 -1.2 -4.9 -0.3 -5.1 0.1 -4.3 -1.3 -3.8 0.3 -4.1 0.5 -2.8 0.5 -3.2 -1.1 -2.7M496.6 199.6l-1.6 -4.8 -1.9 -5.7 -1.0 -3.1 -1.0 -4.3 -1.5 -3.6 -0.4 -2.8 -0.7 -3.2 -1.0 -3.6 0.3 -3.6 -1.1 -2.2 -2.4 -2.8 -0.6 -2.6 -0.9 -2.0 -1.1 -2.1 -1.8 -2.3 -0.9 -1.6 -0.3 -1.6 -1.8 -1.7 0.2 -1.6 -1.3 -1.8 -2.4 -2.4 -0.1 -2.4 -2.8 -1.6 -0.3 -2.6 -0.1 -1.4 -1.9 -3.1 -0.4 -0.8 -2.7 -1.4 0.4 -1.6M521.4 198.9l0.8 -3.8 1.4 -4.5 1.6 -4.3 1.3 -5.1 1.3 -4.6 1.3 -4.8 1.4 -4.8 2.1 -4.0 0.3 -4.6 2.4 -3.1 0.2 -2.3M510.4 202.0l-0.0 -6.0 -1.3 -5.3 1.0 -5.4 -1.0 -3.9 0.5 -5.3 -1.2 -4.7 -1.4 -4.2 0.3 -4.0 -2.0 -4.0 0.5 -4.1 0.2 -4.7 -0.7 -2.9 -0.8 -3.3 -1.0 -2.9 0.8 -2.3M508.0 205.6l2.5 -3.6 1.6 -5.1 -1.5 -3.4 3.0 -5.3 -0.0 -5.1 1.7 -6.0 0.6 -5.1 1.9 -5.6 2.0 -5.3 1.3 -3.6 0.8 -4.8 0.1 -3.1 1.1 -4.0 3.7 -4.9 2.5 -4.6 1.5 -3.6 2.0 -3.6 0.4 -4.0 2.6 -3.3 -0.0 -2.0 0.8 -2.2M504.6 195.1l1.0 -4.4 1.8 -5.9 0.3 -5.0 -1.1 -5.6 0.6 -4.8 1.7 -4.6 -0.3 -4.6 -0.0 -3.6 0.6 -4.9 -0.4 -3.8 1.2 -4.2 0.4 -4.2 0.9 -3.0 -1.8 -3.5 1.2 -3.9 -0.6 -3.1 1.7 -1.8M514.7 196.3l0.8 -5.6 -1.1 -5.4 0.6 -4.8 1.4 -4.6 -1.7 -4.2 0.7 -4.2 0.0 -4.4 -0.2 -4.4 -0.1 -3.2 -1.0 -5.6 1.6 -3.2 -2.3 -4.4 1.0 -3.0 -2.6 -3.9 3.2 -2.1 -2.0 -1.9M508.7 211.6l1.7 -5.0 1.2 -5.6 1.6 -6.4 -0.4 -5.2 1.7 -6.2 -0.5 -5.8 2.8 -5.3 -1.5 -4.4 1.9 -5.6 -0.2 -4.6 1.2 -4.3 1.4 -3.8 2.2 -5.1 1.3 -4.2 0.1 -4.5 2.0 -4.4 -0.3 -2.1 1.4 -3.1 -0.2 -2.3M516.4 210.4l-1.9 -6.0 0.8 -6.1 -1.2 -6.0 0.7 -6.2 -0.2 -5.1 0.3 -5.9 -0.6 -4.0 0.2 -4.4 -0.2 -5.5 -0.1 -5.0 -2.9 -4.0 -1.3 -4.4 0.4 -3.9 -0.8 -4.2 -0.9 -3.7 0.4 -3.0 -0.9 -1.8M514.0 194.6l0.4 -3.5 -0.6 -4.2 0.9 -4.2 -1.0 -2.7 1.1 -4.0 1.9 -3.9 -0.3 -3.6 0.8 -2.9 -0.2 -4.0 1.5 -4.1 0.9 -2.7 -1.7 -3.7 3.3 -3.2 -1.9 -3.3 1.4 -1.8 1.4 -2.1 -0.1 -1.9M495.0 199.4l-1.3 -4.5 -1.0 -4.3 -0.9 -4.0 -1.8 -4.2 -1.2 -3.1 0.6 -3.9 -1.6 -3.8 -0.7 -2.3 -2.0 -3.6 -0.2 -3.0 -2.0 -2.7 -1.6 -2.9 -1.5 -1.9 0.7 -2.3 -2.3 -2.5 -0.6 -2.0 -1.3 -2.3 -1.5 -1.6 -1.2 -1.8 -2.6 -2.2 0.5 -2.6 -1.2 -2.4 -1.8 -1.8 -1.9 -2.7 -0.5 -2.9 -2.2 -2.4 -0.8 -1.4 -1.7 -1.7 0.0 -1.5M512.2 193.1l-0.4 -4.4 0.6 -4.6 1.3 -4.2 -0.4 -3.7 0.6 -3.8 -0.6 -4.1 0.2 -3.3 1.8 -3.5 1.2 -4.5 -0.9 -2.9 1.5 -4.4 1.1 -3.2 -0.0 -1.7 -0.5 -2.8 1.3 -2.3M509.6 199.7l2.5 -5.8 -0.8 -6.1 3.5 -4.3 -0.4 -4.7 3.3 -4.6 0.9 -4.6 2.8 -5.2 2.8 -4.9 1.3 -4.3 3.5 -4.5 0.7 -3.6 3.2 -4.6 2.4 -2.8 0.0 -1.9 1.6 -2.9" fill="none" stroke="#828282" stroke-width="0.65" stroke-linejoin="round" />
<path d="M503.7 196.8l0.3 -3.0 -0.9 -3.5 -0.0 -3.1 -1.3 -5.1 0.3 -5.2 -0.1 -4.5 1.3 -5.1 -2.8 -2.9 0.3 -5.1 1.8 -4.5 -2.0 -5.7 -0.1 -4.1 1.4 -4.6 -2.7 -5.0 1.5 -3.0 -0.5 -2.0M499.9 211.1l0.9 -4.5 1.8 -7.8 -0.1 -5.5 0.9 -8.4 2.3 -7.1 1.7 -7.6 0.6 -7.2 0.6 -7.1 1.1 -6.5 2.1 -8.5 -0.9 -6.8 1.8 -7.4 1.3 -5.4 0.9 -6.9 -0.0 -3.4M499.5 216.1l0.6 -5.4 -1.6 -5.8 2.0 -6.1 0.2 -6.3 -1.1 -6.2 0.3 -6.0 -1.4 -5.7 2.3 -7.3 0.4 -5.3 -2.1 -7.0 2.1 -5.9 -0.7 -5.9 0.2 -6.5 1.8 -3.5 -0.9 -3.3M506.1 191.4l-0.4 -3.6 2.4 -3.5 0.7 -5.0 0.5 -5.2 3.2 -4.7 -1.4 -6.9 2.0 -5.5 1.0 -4.3 1.6 -6.1 0.3 -5.3 -0.6 -6.1 -0.0 -5.4 -0.3 -5.2 3.2 -4.8 1.0 -3.7 -0.3 -3.4M498.2 210.8l-0.5 -2.8 -0.6 -4.1 -1.5 -4.4 -1.7 -5.0 0.5 -5.9 -1.3 -5.1 0.0 -5.6 -1.3 -4.7 0.7 -5.9 -0.6 -4.2 -0.0 -5.1 -1.2 -5.5 1.1 -4.8 0.2 -5.0 -0.7 -3.7 -1.6 -3.0M503.5 192.2l0.3 -2.1 -1.3 -3.8 -0.4 -4.0 -1.4 -2.8 1.6 -5.1 -2.4 -3.8 -0.8 -5.6 0.1 -2.4 -0.5 -4.8 -0.9 -3.3 -1.3 -5.2 0.6 -4.6 -4.0 -3.2 -0.1 -3.4 -0.4 -3.8 -0.6 -2.3M504.2 207.2l1.2 -6.7 -0.8 -6.6 2.9 -7.5 0.7 -7.6 1.6 -6.9 -0.3 -7.2 0.3 -6.6 0.2 -8.0 0.1 -6.7 1.3 -7.9 -1.3 -6.7 1.6 -6.5 2.1 -4.7 -1.4 -4.1M501.8 209.5l0.1 -6.1 3.2 -6.2 1.6 -7.3 -0.2 -8.2 0.0 -7.0 -0.0 -8.2 0.1 -5.6 1.3 -8.1 1.5 -6.5 1.4 -7.5 -2.2 -6.8 2.2 -8.3 -1.6 -6.6 2.0 -5.3 -2.2 -3.5M500.0 203.3l0.4 -5.3 0.3 -4.1 2.9 -5.9 -0.7 -5.8 1.9 -6.9 1.1 -5.4 0.9 -5.8 2.1 -6.0 2.7 -5.9 -0.7 -5.8 3.3 -6.4 0.2 -5.4 0.1 -5.9 1.9 -3.7 1.4 -3.7M500.4 192.3l-0.5 -2.6 2.4 -4.3 0.6 -5.4 2.8 -5.4 3.0 -6.0 -0.8 -5.5 2.6 -5.9 2.9 -5.3 1.0 -5.8 2.0 -4.2 1.6 -7.3 1.6 -5.2 3.3 -5.3 1.1 -5.8 4.1 -2.7 -0.6 -3.6M506.0 200.8l0.0 -5.6 1.4 -6.1 1.4 -6.2 3.2 -4.4 -1.0 -5.5 1.0 -6.0 3.6 -5.3 0.8 -5.6 -0.6 -6.3 1.3 -4.3 1.4 -4.0 0.2 -3.3M506.7 204.5l-1.3 -5.5 1.7 -6.7 1.7 -7.8 -0.0 -7.6 -1.6 -7.3 1.4 -6.7 -0.8 -7.2 2.0 -6.5 -2.0 -6.8 1.0 -8.1 -0.4 -7.4 2.2 -5.4 0.2 -5.5 -1.2 -4.1M502.8 187.2l-0.3 -2.7 3.0 -4.0 -2.5 -3.7 -0.2 -4.0 2.5 -5.4 -3.0 -6.1 2.7 -4.3 0.0 -4.5 1.1 -4.6 -0.5 -5.3 3.5 -3.8 -1.7 -4.3 0.9 -6.1 1.1 -3.9 -0.9 -4.0 2.4 -2.4M505.8 203.6l0.6 -7.3 -0.6 -8.1 -2.2 -6.1 2.9 -6.3 -2.4 -5.5 -0.2 -8.0 -0.5 -6.8 -1.3 -7.6 -1.3 -6.5 0.3 -6.6 -1.6 -4.3 -0.3 -3.8M501.1 211.0l3.0 -7.1 0.6 -7.5 2.5 -7.7 2.2 -8.1 1.9 -6.0 1.6 -7.6 3.3 -7.1 0.4 -7.2 3.9 -8.2 -0.9 -7.6 0.3 -6.7 1.1 -4.9 2.8 -3.7M499.5 193.3l0.2 -1.8 -0.0 -3.5 0.2 -4.2 1.1 -4.1 2.8 -5.0 -2.6 -4.0 3.2 -4.8 -0.1 -2.5 0.6 -4.0 2.3 -5.4 0.2 -4.4 0.4 -4.5 2.2 -5.3 -0.6 -2.4 1.6 -3.8 1.4 -2.0M499.0 210.6l-1.4 -7.3 -1.6 -7.6 -0.7 -7.3 -0.8 -7.8 -1.9 -5.9 -0.7 -7.2 -1.5 -7.9 2.3 -6.2 -2.7 -8.2 -1.3 -6.2 1.8 -7.1 -0.7 -4.7 -0.1 -4.1M503.5 211.1l-2.3 -5.9 -0.7 -5.8 -0.9 -7.1 2.4 -7.2 -3.1 -6.9 -0.3 -6.8 0.2 -6.5 -2.0 -6.5 1.8 -7.3 -1.7 -7.4 0.4 -7.2 0.2 -6.5 -0.5 -6.3 -1.1 -4.7 0.5 -4.0M502.1 187.1l1.1 -1.2 -0.2 -3.8 3.1 -3.5 1.2 -2.6 4.2 -3.3 2.0 -5.1 0.5 -3.1 0.7 -2.7 3.2 -4.3 4.1 -2.8 -1.1 -4.3 2.3 -3.3 -1.1 -3.5 1.1 -3.6 1.8 -3.1 1.2 -1.6M504.2 198.7l2.9 -7.5 3.2 -6.0 3.3 -6.8 1.3 -6.0 2.7 -5.9 1.3 -7.3 4.1 -4.8 0.3 -7.9 0.2 -5.1 4.3 -5.4 0.0 -5.3 1.7 -3.4M507.0 200.4l2.7 -4.4 0.3 -5.8 1.8 -4.8 0.5 -6.6 2.5 -4.6 2.1 -6.4 3.1 -4.4 0.4 -5.8 1.5 -6.2 2.5 -4.7 0.3 -5.5 1.3 -5.1 2.7 -3.9 0.7 -2.9M495.4 193.0l0.8 -3.8 -0.6 -3.9 2.8 -4.6 0.9 -4.9 1.7 -7.0 0.4 -5.8 2.1 -5.6 -0.8 -5.6 2.9 -5.8 -2.2 -5.5 1.0 -6.0 0.7 -5.6 1.3 -5.9 -1.2 -4.8 0.9 -4.5 0.4 -3.2M497.9 198.0l0.5 -1.8 3.8 -4.3 -1.7 -4.4 4.3 -4.9 1.7 -3.6 2.3 -6.5 0.9 -4.2 0.8 -3.4 3.7 -5.9 1.4 -4.8 1.4 -4.5 1.9 -4.6 1.8 -4.8 0.5 -4.4 0.9 -3.8 1.3 -2.3M501.9 192.6l0.5 -3.2 0.2 -4.1 -0.4 -4.7 -0.8 -5.9 -0.0 -6.0 0.1 -5.5 -1.1 -5.6 -1.3 -5.8 1.9 -5.3 -1.5 -5.1 -1.5 -7.3 0.3 -4.9 0.5 -6.1 -1.7 -4.6 1.1 -4.0 -0.3 -2.9M495.0 204.0l-0.6 -6.6 -3.0 -5.6 -0.6 -6.7 -0.3 -5.9 0.9 -5.0 0.8 -5.7 -2.3 -6.0 0.2 -5.8 -0.6 -6.2 -1.9 -4.9 1.7 -5.0 -1.6 -4.0 -0.0 -4.1M499.6 214.5l-2.0 -3.2 -0.1 -4.5 -1.0 -3.5 1.2 -5.7 -0.7 -7.0 -1.0 -4.6 -1.9 -5.3 -1.5 -5.8 -1.0 -6.0 -1.6 -5.6 1.5 -5.6 -1.3 -6.3 -1.1 -5.2 0.8 -5.1 -0.7 -3.5 -0.5 -3.2M498.5 205.3l-0.0 -6.0 1.1 -6.6 1.6 -6.3 1.6 -6.0 0.5 -6.4 0.4 -6.4 0.1 -6.7 0.6 -6.0 3.2 -6.5 -0.2 -6.6 -0.4 -5.0 -0.1 -4.9 1.1 -3.9M504.5 185.1l0.3 -2.8 -2.3 -2.3 1.0 -3.4 -2.6 -4.2 -0.0 -4.2 -1.1 -3.6 2.3 -3.4 -2.8 -4.5 -0.6 -3.7 -1.3 -5.0 -0.2 -3.1 -1.9 -3.8 -1.7 -4.3 0.0 -2.3 0.4 -4.4 -2.6 -1.8M496.3 216.2l1.5 -5.7 1.6 -6.4 2.3 -5.5 -0.4 -6.7 1.6 -7.0 1.4 -5.1 0.1 -6.1 0.4 -6.6 2.8 -6.8 2.0 -5.7 0.2 -7.0 0.5 -5.5 -1.0 -4.7 2.3 -3.1M502.3 194.7l-0.5 -2.9 1.9 -2.9 -0.1 -3.3 1.3 -5.3 1.8 -4.5 1.0 -5.6 -0.1 -2.6 2.7 -4.8 1.2 -4.7 2.4 -5.5 1.9 -4.5 0.9 -4.3 2.2 -4.7 2.5 -2.7 0.1 -4.3 1.4 -2.4M495.1 186.8l2.3 -2.4 -0.9 -4.7 2.7 -5.6 0.2 -4.2 1.5 -6.6 3.3 -4.3 1.5 -6.0 0.7 -4.7 2.4 -5.5 2.5 -5.3 -0.0 -5.4 2.5 -6.2 2.0 -5.4 0.1 -5.0 2.4 -3.3 1.0 -3.2M496.1 200.4l-1.0 -4.0 1.5 -3.0 -0.9 -5.8 1.1 -5.8 -0.4 -5.5 3.2 -7.1 -1.0 -5.4 -1.5 -6.0 0.7 -5.9 2.0 -5.2 0.1 -6.7 2.9 -6.1 -1.1 -5.7 1.7 -4.7 1.7 -4.7 -0.2 -3.0M500.9 205.8l0.1 -4.1 2.5 -3.6 1.9 -6.4 1.4 -4.6 0.8 -7.3 2.6 -6.9 2.9 -6.3 0.6 -5.9 3.2 -6.5 3.1 -5.5 -0.5 -6.9 3.4 -6.5 -0.3 -6.2 1.7 -4.5 1.4 -6.4 1.4 -2.8M499.6 216.8l3.2 -5.7 0.7 -5.9 -0.5 -6.9 1.6 -6.5 0.7 -5.9 1.8 -5.3 -0.8 -6.1 1.0 -6.2 1.5 -5.7 -0.1 -6.8 0.5 -7.0 2.3 -4.9 0.4 -4.6 -1.0 -3.3M495.3 190.7l-0.7 -3.3 2.0 -3.0 -1.5 -3.2 1.0 -5.0 -0.8 -4.4 -0.6 -4.8 1.2 -4.0 -1.6 -4.3 0.1 -5.0 0.1 -3.3 -0.3 -5.2 2.5 -4.7 -4.0 -4.7 0.4 -2.6 -0.5 -4.7 -0.2 -1.8M500.7 197.6l1.4 -2.7 1.8 -3.3 0.1 -5.3 2.1 -5.4 1.8 -4.2 0.8 -6.3 3.4 -3.5 1.0 -5.0 0.1 -4.3 1.1 -6.7 2.5 -5.2 0.5 -4.6 1.2 -4.8 2.2 -5.8 0.2 -2.7 0.4 -3.2M503.7 205.5l-0.4 -3.7 1.2 -5.2 0.7 -5.2 -1.2 -6.6 0.6 -6.2 1.8 -5.9 -0.2 -7.0 0.5 -6.3 -1.1 -5.9 1.4 -7.8 0.7 -5.1 2.1 -6.8 2.1 -7.5 -0.8 -5.1 0.5 -5.0 1.1 -3.5M501.6 204.7l0.9 -4.0 1.4 -6.8 -1.0 -5.8 2.1 -6.4 1.5 -6.5 1.0 -6.3 2.7 -4.7 0.7 -6.5 3.3 -6.3 -0.4 -7.1 2.9 -5.1 2.1 -5.7 0.8 -4.4 1.0 -3.2M503.6 213.9l0.6 -4.0 0.3 -5.8 1.7 -4.7 -1.2 -6.4 0.7 -4.5 1.1 -6.3 -0.0 -5.0 3.0 -5.6 -1.7 -5.1 -2.0 -6.2 2.6 -6.1 -1.1 -5.2 -0.6 -4.8 3.4 -4.6 -1.8 -2.3M507.2 194.1l0.6 -3.4 -1.2 -3.5 1.9 -4.7 2.6 -5.3 -1.3 -6.1 3.0 -4.4 2.7 -6.2 -0.7 -4.9 1.4 -5.2 2.0 -4.8 2.5 -6.7 2.3 -4.6 1.4 -6.6 1.2 -4.4 1.6 -3.4 1.2 -3.5M495.1 204.7l1.1 -3.2 2.0 -5.5 -0.3 -5.8 3.7 -5.8 2.0 -6.4 0.3 -6.2 0.6 -6.6 3.1 -5.6 2.6 -6.8 1.5 -5.9 1.8 -6.5 1.5 -7.0 2.0 -7.1 4.0 -5.3 -0.2 -4.1 0.9 -3.6M508.0 196.2l-0.5 -3.6 -0.5 -4.0 -1.4 -5.4 -1.7 -5.3 -0.8 -6.5 -1.5 -5.5 -0.7 -6.9 -1.4 -4.1 0.0 -7.1 -1.7 -6.0 0.3 -6.1 -1.5 -6.3 -2.4 -5.5 0.7 -5.2 -1.6 -3.5 -0.3 -3.7M496.0 205.8l-1.1 -6.5 -0.0 -6.5 -1.1 -5.7 1.2 -4.9 -0.5 -5.8 -1.4 -6.5 0.9 -6.1 -0.1 -6.3 -0.9 -5.9 0.9 -4.8 -0.1 -3.7 -0.8 -4.0M501.6 209.6l-0.0 -5.6 -0.6 -5.4 -0.3 -5.7 -0.1 -8.5 -1.3 -5.6 -0.1 -7.8 -0.1 -6.9 0.5 -6.4 -1.1 -6.4 -0.5 -6.6 0.2 -7.4 0.8 -5.8 -1.3 -6.0 -1.2 -4.9 0.3 -4.4M495.5 203.0l-0.0 -2.5 -0.4 -4.1 -2.0 -4.3 -0.8 -5.5 -0.6 -6.2 1.3 -6.0 -3.2 -5.7 1.9 -4.7 0.1 -6.1 -1.1 -4.1 -0.4 -7.0 -0.6 -5.6 -0.1 -5.0 -0.5 -5.0 3.6 -3.8 -1.6 -3.2M496.8 199.5l1.8 -3.2 -1.4 -4.5 1.1 -4.2 -0.2 -4.3 2.2 -6.6 -0.1 -5.4 0.6 -5.8 1.2 -4.4 0.3 -5.7 1.3 -4.9 2.1 -6.2 0.6 -5.4 1.0 -5.6 -1.5 -4.3 5.6 -3.5 -1.6 -3.5M502.3 199.3l0.8 -7.6 -1.4 -6.1 0.4 -8.2 0.8 -5.8 -0.9 -6.8 1.0 -5.7 0.8 -7.5 2.2 -6.2 -0.7 -7.4 1.2 -6.6 0.5 -6.0 -0.8 -4.1 0.9 -4.3M505.0 212.0l-0.7 -6.0 0.5 -7.0 1.1 -8.0 -1.0 -6.6 0.6 -6.2 2.7 -7.5 -2.0 -6.2 0.2 -7.4 0.2 -6.3 1.2 -8.5 3.0 -4.9 -1.3 -5.8 0.6 -3.2M496.9 201.0l0.3 -5.8 1.1 -4.3 -0.6 -5.7 1.7 -5.9 -0.4 -4.6 0.4 -4.6 -0.8 -6.1 1.5 -5.1 0.2 -5.5 1.3 -5.3 -0.1 -4.7 0.6 -3.1 0.1 -3.2M497.2 203.9l0.7 -4.4 -0.8 -5.4 2.0 -6.1 -0.8 -6.2 -1.5 -5.6 1.0 -6.2 -0.6 -4.2 -0.7 -6.2 -2.5 -6.2 1.1 -6.3 -0.1 -4.7 -0.5 -5.1 -1.7 -4.6 -0.3 -2.8" fill="none" stroke="#ff7aaa" stroke-width="0.65" stroke-linejoin="round" />
<path d="M514.5 204.6l-0.4 -2.2 1.4 -2.9 0.9 -2.0 1.8 -4.2 -2.1 -2.8 2.4 -4.0 -0.7 -2.9 0.9 -2.4 -0.0 -4.4 1.7 -2.1 -1.2 -3.7 0.6 -3.2 0.7 -2.9 -0.4 -3.8 0.5 -3.3 0.8 -2.6 0.3 -3.3 -0.5 -2.8 -0.1 -1.8 -0.6 -2.6 1.0 -2.0M506.8 198.0l-0.5 -5.1 -1.4 -5.1 0.1 -5.8 -1.3 -5.8 -1.8 -5.9 -1.4 -5.2 -1.3 -5.2 0.3 -4.4 -4.2 -5.2 -0.6 -3.0 -0.6 -6.4 -0.9 -3.6 -3.9 -4.8 -1.2 -3.7 -0.0 -3.9 -2.7 -4.0 0.4 -2.6 -3.0 -2.4 0.0 -3.1M497.3 204.5l-1.1 -4.5 -3.0 -5.6 0.0 -4.4 -1.6 -3.1 -0.1 -4.9 -1.1 -3.5 -3.1 -3.9 0.7 -3.2 -1.2 -3.0 -1.4 -3.8 -1.3 -2.1 -0.7 -2.9 -0.3 -1.4 -0.6 -2.9 -2.8 -2.8 1.0 -0.9 -1.9 -0.8 -0.4 -1.7 -2.6 -2.2 0.8 -1.6 -2.0 -0.9 -0.0 -2.4 -1.5 -2.4 -3.3 -2.6 0.9 -0.9 -1.9 -3.0 -0.7 -1.3 -0.1 -1.9 -1.8 -1.6 -0.3 -1.0M509.4 196.1l-0.8 -5.1 -1.1 -4.0 1.2 -4.3 -0.4 -3.9 0.2 -3.5 -0.1 -4.1 1.1 -4.0 1.2 -3.5 0.3 -3.5 -0.2 -2.8 0.8 -3.2 -0.4 -3.3 3.4 -2.6 -1.9 -1.7M514.5 206.9l-1.9 -5.6 1.2 -5.8 -1.0 -4.9 0.5 -6.3 0.0 -5.1 -1.1 -5.5 1.7 -4.6 -0.6 -4.8 -1.0 -4.7 -1.8 -3.8 3.2 -4.4 -2.6 -4.6 -2.3 -3.9 0.9 -5.4 -0.5 -3.4 -1.1 -3.2 -1.7 -3.6 0.2 -2.4 0.2 -2.1M501.4 203.2l2.0 -7.6 -1.7 -5.7 -0.6 -6.7 0.1 -6.1 -0.7 -5.8 -0.7 -5.2 0.2 -5.3 -0.5 -4.9 -1.2 -5.2 -1.3 -4.8 0.1 -4.9 -0.8 -4.8 -0.1 -3.7 1.3 -3.3 -2.0 -3.0 -0.5 -2.5M502.9 204.8l1.3 -5.2 -0.8 -5.6 0.8 -5.6 2.3 -6.0 -2.2 -4.9 2.3 -5.2 1.6 -4.0 0.3 -4.0 -1.8 -5.6 2.2 -4.0 -0.6 -4.4 1.8 -4.7 -0.4 -4.2 0.9 -3.4 -0.4 -3.6 2.8 -2.5 -0.6 -2.9 -0.3 -2.4M497.5 211.7l-0.9 -5.7 -0.4 -6.6 -0.6 -4.3 -1.0 -5.4 -0.2 -3.9 -1.2 -3.6 -0.6 -3.4 -0.0 -3.7 -0.9 -3.4 0.3 -2.8 -2.4 -3.2 0.7 -2.7 -1.9 -3.0 -0.6 -1.9 -2.3 -2.8 0.3 -2.6 -1.6 -1.7 -0.9 -1.6 -1.9 -1.6 0.7 -1.5 -2.0 -2.1 -0.1 -2.1 -2.4 -2.2 -0.8 -1.9 0.2 -2.0 -2.0 -2.8 -1.1 -2.2 -1.3 -1.9 0.7 -2.1 -1.8 -1.1 -0.7 -1.5M511.0 196.4l-0.9 -3.8 -1.3 -4.7 1.2 -4.6 -1.4 -5.7 1.0 -3.8 -2.3 -5.7 -0.9 -4.2 1.6 -4.6 -1.1 -4.3 0.6 -3.5 -0.3 -4.4 0.2 -3.6 1.1 -4.1 -0.2 -4.1 0.1 -3.9 -2.0 -2.8 0.0 -2.9 1.5 -2.6 -0.5 -2.1M509.2 201.2l0.9 -6.1 0.6 -6.1 -2.8 -6.9 1.5 -5.2 -0.7 -7.0 -1.7 -5.9 1.6 -6.5 -1.2 -5.3 0.3 -3.9 -1.1 -5.4 -0.8 -5.1 -1.3 -3.9 2.2 -5.9 -2.8 -4.0 0.9 -4.6 -0.6 -3.8 -1.6 -3.7 -1.0 -2.0 -0.7 -2.7M503.2 199.5l-0.2 -2.9 -1.2 -3.3 2.0 -3.0 -0.9 -2.6 -1.9 -2.8 0.8 -3.1 0.0 -3.3 -1.4 -3.3 1.6 -2.4 -0.8 -3.8 0.0 -1.3 0.2 -3.6 -3.0 -3.4 1.8 -3.4 -1.0 -3.1 -0.6 -2.2 0.5 -2.8 -0.3 -1.8 -0.3 -1.7M506.8 204.1l0.5 -5.7 0.6 -4.0 1.3 -3.5 0.6 -4.8 2.5 -4.0 1.7 -3.5 1.6 -3.9 1.5 -3.6 0.0 -4.3 2.5 -3.8 0.6 -3.1 1.9 -3.4 1.8 -2.6 0.3 -2.8 1.0 -1.7M513.9 195.4l-1.0 -4.5 -1.0 -6.0 0.3 -5.5 -0.1 -5.0 2.4 -4.8 -2.5 -4.5 -0.7 -4.8 0.6 -4.8 -0.1 -3.7 1.4 -4.9 -1.4 -3.5 0.1 -3.8 -2.1 -3.4 0.7 -2.5 0.6 -2.8M504.5 206.7l-1.3 -5.2 1.1 -6.9 -0.8 -5.5 0.4 -7.4 -0.1 -5.6 0.0 -6.7 -0.4 -6.3 0.5 -4.8 2.3 -4.9 -0.8 -4.9 1.0 -4.7 0.3 -5.1 -0.7 -4.8 -0.1 -4.1 1.5 -4.4 -2.1 -3.8 3.6 -2.9 -1.3 -3.6 -0.2 -2.1M494.8 205.6l-0.8 -5.9 -0.5 -4.9 -1.3 -4.4 -1.0 -4.5 -0.9 -3.1 -1.0 -4.2 -1.7 -3.2 0.2 -3.6 -0.9 -2.6 -1.6 -3.5 -1.5 -2.4 -1.0 -3.3 -0.3 -3.2 -2.1 -2.1 -1.5 -2.1 -1.8 -3.9 0.1 -1.1 -2.2 -2.4 -1.6 -1.2 -2.4 -3.6 -0.1 -1.1 -1.1 -3.4 -0.7 -2.3 -2.6 -3.4 -2.6 -2.6 -0.7 -2.1 -0.8 -2.9 -2.8 -2.3 0.2 -0.9 -1.3 -2.0M505.9 192.4l0.5 -4.7 -1.7 -4.8 -1.3 -4.4 0.8 -4.9 -3.1 -4.7 0.4 -2.8 -1.5 -4.6 -1.0 -4.6 -1.1 -4.1 -0.2 -3.3 -0.9 -3.9 -0.1 -3.2 -0.8 -3.3 -0.6 -2.7 -3.3 -2.9 0.3 -2.0M517.3 213.9l0.7 -4.7 0.0 -3.7 -0.4 -5.4 -1.2 -5.8 0.3 -5.7 -0.4 -6.2 0.6 -5.4 -0.0 -6.1 -1.0 -4.7 0.1 -5.7 -0.7 -4.0 -0.6 -4.5 -1.0 -4.2 -0.2 -5.4 -1.8 -4.4 1.2 -4.5 -1.8 -3.1 -2.3 -3.4 -1.6 -3.8 1.3 -3.0 -0.7 -1.9M507.4 209.5l-0.5 -7.5 1.6 -6.7 0.1 -7.3 2.2 -7.1 -1.2 -5.7 2.2 -6.1 1.0 -5.4 2.4 -5.2 0.1 -5.0 4.0 -5.3 0.5 -4.8 3.9 -5.5 0.7 -4.7 2.1 -3.1 1.3 -3.9 2.4 -2.4 -0.1 -3.0M518.2 209.2l2.3 -4.5 -0.7 -4.4 1.3 -5.1 2.0 -5.4 0.8 -6.5 1.3 -6.3 -0.2 -6.7 1.5 -7.1 0.8 -6.4 0.1 -6.3 1.1 -5.6 0.4 -4.3 0.4 -3.6M515.1 209.2l-1.1 -2.3 1.8 -4.4 -2.6 -5.7 0.6 -5.9 -0.7 -5.6 -1.4 -5.0 -1.1 -6.7 0.8 -6.2 0.2 -6.9 -1.5 -5.1 -2.8 -5.4 1.3 -4.2 0.4 -5.4 -0.4 -4.9 -0.3 -4.0 -0.7 -4.8 -0.8 -4.4 -0.2 -4.1 0.2 -3.3 -0.2 -3.2 -1.5 -4.2 1.2 -1.4" fill="none" stroke="#828282" stroke-width="0.65" stroke-linejoin="round" />
<path d="M506.1 140.1l-2.3 -1.8 -2.0 -0.5 0.2 -2.1 -3.4 -2.0 1.1 -3.0 -3.8 -0.7 1.6 -0.9 -1.5 -1.2 -2.9 -2.2 0.5 -2.9 0.1 -1.8 -0.7 -2.7 0.3 -4.3 0.4 -0.9 2.5 -3.4 0.2 -1.7 -1.1 -0.8 -0.5 -3.0 0.8 -2.7 2.3 -1.2M542.1 130.3l-1.9 -2.0 -1.6 -1.6 -1.2 -0.9 -2.9 -3.6 -0.1 -4.1 0.6 -1.5 -1.4 -2.4 -2.6 -1.4 -1.8 -0.6 -3.9 -0.5 1.5 -0.3 -3.2 -3.0 -2.4 -2.6 -4.5 -1.0 -3.7 -2.3 -0.3 -1.5 -2.1 -1.4 -2.6 -2.1 -2.1 -0.7 -0.7 -0.6M516.9 120.6l-1.6 -0.5 0.8 -0.6 -1.1 -1.7 -0.2 -3.3 4.2 -3.3 -0.4 -1.2 0.0 -1.8 -2.8 -1.2 -1.6 -1.7 -0.1 -0.1 -2.9 -3.7 -0.6 -1.7 -0.5 -2.0 -3.0 -1.6 -3.2 -0.6 0.7 -1.2 0.9 -1.7 -3.3 -2.3 0.2 -2.6 0.5 -2.6M534.7 126.3l-0.7 -0.9 0.9 -2.2 1.3 -2.4 -1.1 -1.7 -2.4 -4.0 -1.4 -1.9 -3.0 -1.8 0.2 -3.2 -1.6 -1.6 2.2 -3.8 -1.8 -1.6 2.1 -4.6 0.7 -0.6 -0.5 -2.4 1.2 -2.4 -2.8 -1.9 2.1 -1.6 -1.9 -2.5 -0.1 -2.6 0.1 -2.8M538.8 110.6l-5.0 -0.1 -1.1 -1.4 -1.0 -2.0 -2.8 -2.5 0.0 -2.5 -1.1 -3.3 -1.9 -2.5 -0.5 -1.1 -2.6 -1.3 -0.8 -2.2 -2.0 -2.7 -2.0 -2.0 -2.5 -1.7 -0.6 -2.2 -3.6 -0.9 -4.4 -2.1 -3.8 -1.2 -2.0 -2.6 -2.9 -3.8 -3.9 -2.0M530.0 118.1l0.5 -2.3 -1.8 -2.8 -2.5 -0.5 0.6 -4.2 -1.7 -3.3 -0.1 -2.5 0.3 -1.5 2.6 -4.1 -5.2 -2.5 -0.3 -2.1 -2.8 -1.3 -3.1 -3.2 -4.4 -2.3 -0.7 -2.4 -0.9 -1.9 0.1 -1.8 -1.2 -1.7 -1.7 -2.7 1.5 -2.2 0.2 -2.5M520.5 127.7l-1.7 -2.1 -4.9 -2.9 -0.9 -1.8 -0.4 -2.5 1.7 -1.9 -1.9 -1.8 1.5 -2.2 3.1 -2.7 -0.4 -0.5 2.0 -1.5 -0.2 -2.5 0.1 -0.7 2.4 -4.4 0.4 -2.6 -2.0 -1.4 1.4 -1.6 -4.7 -3.4 -1.9 -1.2 1.9 -0.5 2.0 -2.3M505.9 109.2l0.8 -3.4 2.4 -1.7 -1.3 -4.6 -0.2 -1.9 -3.6 -3.5 -0.5 -1.9 -3.4 -3.8 -1.9 -1.7 2.6 -5.5 -1.6 -1.6 -2.9 -2.7 -1.0 -2.8 -1.0 -4.3 -3.6 -3.4 0.4 -2.9 0.7 -2.4 3.1 -2.6 5.1 -4.1 -3.0 -1.3 -0.3 -4.1M543.7 132.7l-2.6 -1.9 -0.3 -1.4 2.0 -3.0 -0.0 -1.6 -1.1 -2.6 -2.9 -1.0 0.1 -1.3 -2.8 -1.2 1.9 0.3 0.7 -2.3 -1.4 -0.5 -0.7 -2.5 0.7 -2.2 -1.6 -1.9 -5.2 -2.2 3.2 -2.6 -0.6 -0.6 -1.8 -2.1 -4.5 -0.9 -1.2 -1.5M547.4 120.9l-5.1 -3.7 0.6 -2.3 -2.7 -4.3 -0.4 -3.3 -4.1 -3.7 -5.9 -2.8 -3.0 -2.4 -2.0 -4.1 -0.8 -3.3 -2.4 -2.6 -4.1 -4.1 -0.3 -4.3 -3.8 -4.1 0.2 -4.7 -2.7 -2.3 -0.8 -4.0 -3.1 -3.7 -1.8 -3.4 0.6 -3.6 -1.2 -5.0M512.8 127.9l-0.3 -0.2 0.6 -1.1 -3.3 -2.6 -1.0 -1.4 -1.4 -0.7 1.2 -2.1 1.1 -1.1 0.6 -3.4 -2.2 -1.1 -1.0 -1.8 -1.4 -2.0 0.2 -1.8 -3.5 -1.9 -0.9 -2.2 -4.1 -1.4 -1.6 -0.7 -0.8 -0.9 4.2 -2.8 0.4 -1.5 -0.1 -0.8M505.7 126.7l-0.1 -3.0 -0.5 -1.5 -2.3 -1.4 -1.4 -0.7 -1.2 -1.6 1.4 -1.8 1.7 -2.6 -1.0 -2.5 1.2 -4.0 -0.2 -1.5 0.6 -2.7 1.1 -1.8 0.9 -2.0 -2.6 -2.7 -0.1 -2.3 -1.9 -1.2 -2.5 -2.7 0.9 -4.7 0.3 -3.1 0.6 -2.7M530.9 117.4l1.7 -1.8 -2.0 -2.5 0.6 -1.9 -4.3 -2.3 -0.4 -1.8 0.0 -2.4 -4.3 -0.8 -1.4 -3.2 -3.1 -3.1 -3.5 -2.1 -3.0 -2.4 -2.7 -0.0 2.3 -3.5 0.6 -1.5 -0.1 -2.3 -0.5 -2.1 -5.8 -3.5 -0.6 -2.2 -0.2 -2.5 -0.7 -1.4M530.6 117.2l-2.3 -3.0 -3.3 -0.8 -0.4 -3.3 -1.2 -2.9 -3.8 -2.5 -2.2 -3.2 -1.0 -3.2 -7.6 -2.8 -3.6 -2.3 -0.1 -1.8 -1.2 -2.0 -0.2 -1.1 -0.9 -3.3 -2.4 -3.3 -3.7 -2.4 1.1 -3.6 0.4 -3.3 -0.0 -1.7 -1.4 -1.7 0.5 -1.7M541.2 136.1l-3.6 -5.5 -1.4 -4.8 -2.0 -4.8 -2.4 -2.0 -1.8 -1.6 -3.5 -5.8 1.5 -7.3 -1.0 -3.1 -1.0 -4.2 -1.0 -4.4 -1.5 -2.1 0.1 -4.9 -2.1 -2.2 0.6 -1.9 0.0 -3.6 -1.3 -3.0 -0.6 -3.7 -2.7 -2.7 -1.6 -3.4 0.3 -2.9M538.9 111.5l-1.9 -3.8 -0.6 -5.1 -3.9 -2.9 -1.1 -2.0 0.4 -1.9 -1.3 -4.9 -0.6 -3.9 -1.6 -3.1 -1.6 -3.5 -0.7 -3.0 0.3 -3.7 -3.4 -2.8 -0.8 -2.1 -4.7 -2.3 -2.1 -3.1 -4.3 -1.4 0.4 -3.0 -4.5 -4.1 -2.0 -2.3 -0.1 -2.9M523.2 114.7l1.6 -1.0 -1.4 -2.4 0.7 -3.3 0.4 -1.9 -1.4 -2.3 1.3 -1.6 -1.7 -3.9 -0.0 -2.7 2.7 -1.0 -0.3 -2.2 -1.6 -3.5 1.8 -2.5 -0.9 -1.9 -2.6 -2.6 0.7 -2.2 0.1 -4.8 3.4 -2.2 -4.8 -1.8 -2.0 -2.9 1.8 -2.3M510.6 113.1l-2.3 -0.4 1.7 -1.6 -0.1 -2.9 -2.1 -0.2 0.4 -1.1 -2.7 -2.5 -2.0 -2.2 -1.5 -2.2 0.6 -3.0 -0.1 -1.4 -0.1 -0.8 0.6 -1.9 -3.0 -1.4 2.4 -2.0 -3.2 -1.1 -3.2 -2.5 0.4 -2.8 2.7 -1.4 -4.0 -1.6 -2.6 -1.1M494.0 112.4l0.7 -2.4 2.2 -1.3 0.5 -3.6 1.5 -4.1 1.9 -2.3 -2.4 -3.9 -0.2 -2.8 -3.8 -2.9 2.6 -3.4 -0.9 -2.9 -1.4 -1.6 -3.6 -3.3 2.8 -4.0 -1.6 -4.4 0.8 -3.8 1.8 -3.2 -0.7 -2.9 -2.3 -3.0 2.8 -3.0 -1.8 -4.4M506.0 117.7l-1.7 -2.4 -0.2 -2.0 5.6 -1.9 0.3 -2.3 -0.6 -1.3 -1.4 -2.9 -2.6 -2.4 -1.6 -3.4 -2.4 -0.8 0.2 -2.3 -0.3 -2.7 -2.7 -2.2 3.0 -3.7 -1.5 -1.8 -0.2 -2.0 0.5 -2.3 -2.0 -1.6 4.1 -3.1 0.6 -0.4 1.2 -1.5M542.2 132.9l3.1 -1.6 -3.6 -2.0 -1.9 -1.9 1.1 -2.0 0.6 -2.3 -1.2 -2.1 -1.1 -1.9 -1.8 -1.7 1.6 -0.5 2.1 -3.9 0.9 -4.1 -5.3 -3.2 1.6 -2.1 0.2 -0.2 -3.2 -3.5 1.4 -2.0 0.4 -2.5 1.2 -0.9 -0.6 -2.0 1.4 -1.2M518.6 106.4l-1.4 -1.0 -3.1 0.4 -1.8 2.4 1.4 -2.7 -0.4 -0.5 -1.1 -2.3 2.2 0.3 -2.2 -1.2 -2.8 -0.9 1.4 0.3 -3.4 0.6 -0.9 -0.4 -5.2 0.1 -1.0 1.8 -1.4 1.4 1.2 -1.7 1.9 -2.9 -4.7 -0.8 -1.6 -0.7 1.2 -1.9M528.7 120.8l-3.6 -2.8 0.2 -1.6 -1.0 -1.2 -1.2 0.4 -1.6 -1.6 -0.5 -1.8 0.7 -2.0 -2.4 -1.5 -2.0 -1.2 -0.5 -1.6 1.1 -0.5 -2.1 -2.0 -3.3 -2.0 -0.7 -1.3 0.4 -1.5 -3.3 -1.7 3.3 -2.6 -1.8 -1.0 -3.5 -1.6 -2.1 -1.9M512.8 122.6l-3.1 -1.2 -1.4 -1.5 -2.4 -1.9 1.6 -3.3 -1.8 -4.0 0.1 -2.4 -1.6 -2.6 2.4 -2.3 2.8 -3.5 -1.4 -2.4 0.1 -2.7 -1.3 -3.0 -1.0 -2.1 -2.8 -3.3 -1.8 -3.0 -0.2 -1.5 -2.0 -2.9 1.4 -0.9 1.1 -3.5 -1.4 -2.1M520.1 111.3l1.1 -0.4 0.4 -1.0 1.5 -1.6 -2.4 -2.0 -1.0 -0.9 0.8 -2.4 -5.4 0.2 -0.9 -1.2 0.5 -1.1 -0.5 0.7 -2.5 -1.1 0.8 -2.3 -0.9 -2.9 -0.8 -2.3 0.2 -2.8 1.6 -1.2 -2.1 -0.9 -2.3 -0.4 -1.1 -2.0 -2.0 -1.7M527.0 122.8l-2.1 -1.6 -0.6 -2.4 2.2 -1.3 2.1 -3.8 -3.3 -0.9 -1.0 -2.9 -2.9 -2.2 -0.9 -1.2 -0.2 -2.4 -2.6 -2.5 -1.3 -4.2 -3.1 -2.4 -0.9 -3.6 -2.3 -3.5 -1.4 -2.3 -1.2 -1.1 -3.5 -0.4 2.3 -1.7 0.5 -0.2 1.9 -1.2M513.8 128.6l-1.6 -5.1 -2.6 -3.7 -2.5 -4.8 1.9 -1.5 -0.6 -4.8 -2.1 -5.8 0.5 -3.9 -1.4 -1.9 -2.4 -3.3 1.6 -3.8 -1.1 -4.2 -0.2 -4.5 -0.3 -3.7 1.9 -3.6 0.3 -3.9 1.4 -4.1 -4.6 -4.4 -1.3 -5.8 0.3 -4.1 3.3 -3.0M543.0 122.6l-3.0 -2.9 0.1 -3.6 -1.8 -3.0 1.2 -2.8 -1.1 -1.7 -0.3 -3.8 -1.1 -2.9 0.6 -3.4 -3.0 -2.4 1.5 -3.2 -1.9 -2.9 -2.6 -2.5 -1.6 -3.8 -2.4 -2.0 0.0 -3.4 -1.1 -2.6 -1.2 -1.0 -2.0 -3.2 -2.5 -2.2 -1.8 -3.4M521.2 129.1l2.8 -0.5 0.8 -1.9 -2.1 -0.2 -1.7 -2.4 -1.4 -1.6 -3.4 -3.1 -1.5 -3.2 -3.2 0.1 -2.4 -2.0 0.3 -2.9 -4.2 -0.8 -1.2 -2.1 0.2 -1.5 -0.8 -2.3 2.0 -1.6 -2.4 -2.3 0.7 -2.1 0.2 -0.8 2.9 -2.8 -2.4 -2.1M516.7 131.1l-0.0 -2.5 2.2 -3.0 -2.2 -2.4 0.0 -4.4 0.9 -2.3 1.6 -2.5 1.0 -2.4 -2.2 -3.0 -1.2 -3.5 -1.8 -3.1 0.4 -2.0 2.7 -5.8 2.4 -4.3 -0.1 -2.6 -2.4 -3.0 -0.3 -5.4 0.4 -3.3 -2.5 -3.9 -2.9 -3.4 1.3 -2.5M522.3 127.3l-3.4 -2.9 -1.6 -3.3 -1.5 -2.5 -3.9 -3.4 -1.6 -3.2 -0.7 -2.3 -1.5 -2.3 1.4 -2.7 2.0 -3.6 -1.2 -1.5 0.3 -1.7 0.5 -1.8 -4.2 -1.2 0.9 -3.1 -0.9 -4.8 -1.9 -1.1 -1.5 -2.0 -2.9 -3.5 -0.4 -1.2 2.4 -1.9M516.2 111.4l-0.5 -2.5 -5.4 -2.7 2.2 -1.9 -2.4 -3.4 -0.7 -2.4 -1.5 -1.6 -3.1 -2.3 -1.3 -2.7 -1.9 -1.2 0.1 -3.2 2.3 -0.9 0.0 -2.9 -1.5 -2.1 1.0 -4.5 -0.4 -1.9 -2.4 -2.3 -0.6 -3.7 -1.5 -1.6 1.4 -2.8 -1.6 -3.5M530.5 117.9l0.6 -4.1 0.9 -1.8 -0.7 -1.7 -0.6 -2.4 -3.1 -4.3 -0.3 -1.3 -0.1 -1.4 -0.9 -2.7 2.0 -5.2 -0.3 -2.5 0.5 -2.9 -2.7 -2.4 -1.4 -2.1 -1.2 -3.4 1.0 -2.3 -1.8 -2.2 2.1 -0.7 -1.9 -2.8 -0.3 -3.3 -1.6 -3.6M524.3 123.0l-1.2 -1.4 -0.5 -2.1 1.2 -2.5 -0.2 -1.4 0.6 -2.8 -1.3 -0.3 1.1 0.1 -0.3 -3.0 1.3 -0.8 0.9 -2.0 0.4 -0.7 0.1 -3.3 0.5 -0.7 -1.1 -2.2 2.3 -3.2 -2.6 -1.8 -1.4 -1.0 -0.9 -1.0 0.0 -1.5 0.8 -1.4M544.0 124.9l-1.0 -1.5 -3.7 -0.6 1.4 -2.7 -1.7 -0.2 -0.7 -0.8 0.8 -2.3 1.3 -1.0 3.5 -1.9 -4.4 -2.1 -4.3 -1.1 -6.6 -2.5 -4.0 -0.9 -1.1 -2.1 -5.1 -1.4 -0.3 0.7 0.2 -1.8 -6.8 -1.1 -5.6 -1.4 -2.8 -1.6 -3.7 -3.1M500.8 120.6l-1.4 -4.8 -0.1 -4.6 -0.4 -3.3 -2.9 -4.2 1.2 -3.0 0.9 -2.1 -3.7 -2.8 2.9 -3.7 1.8 -3.4 2.5 -2.9 0.6 -3.9 0.6 -4.8 0.1 -4.6 -1.1 -2.1 -1.9 -5.3 2.6 -3.7 -4.4 -3.2 -1.2 -3.3 1.0 -5.5 -1.6 -4.1M523.7 120.2l0.7 -2.5 1.0 -0.8 -0.1 -2.8 -3.3 -2.2 -3.9 -3.9 -0.4 -0.1 1.2 -2.3 -2.5 -3.3 -4.3 -1.2 -3.7 -0.7 -2.8 -2.3 -2.8 -3.1 -2.6 -1.7 -2.8 -1.9 -0.8 -2.2 1.3 -2.5 1.2 -1.6 -0.7 -2.3 1.4 -2.7 -0.2 -2.3M525.4 122.1l0.2 -3.8 1.3 -3.9 -4.9 -3.0 -1.8 -4.3 -1.3 -3.8 -1.3 -3.5 0.8 -2.6 1.2 -4.5 -0.3 -3.9 -3.1 -3.9 -2.0 -4.4 -1.9 -3.6 -2.1 -2.1 1.8 -4.9 0.8 -3.1 -0.5 -2.7 -2.4 -1.9 1.5 -4.4 -5.1 -2.0 -0.7 -2.7" fill="none" stroke="#ff0000" stroke-width="0.7" stroke-linejoin="round" />
<path d="M515.4 144.9l-0.7 -4.0 -2.4 -4.6 2.2 -2.2 -3.5 -2.8 2.5 -2.3 0.6 -5.2 0.1 -3.7 -0.2 -4.1 -3.8 -4.2 -4.9 -5.5 -0.5 -4.3 -2.3 -5.7 -3.0 -3.6 -0.5 -3.9 -0.7 -4.6 -2.4 -3.8 -1.6 -3.6 -2.9 -2.7 -1.7 -5.2 -2.7 -3.3M525.4 130.2l-1.5 -1.7 -0.1 -3.7 2.1 -3.4 -5.3 -2.2 -1.7 -3.6 -3.1 -3.2 1.6 -2.8 -3.6 -3.6 -1.6 -3.7 -0.4 -3.8 -2.7 -4.4 -3.8 -4.8 -0.7 -3.1 -1.2 -4.0 -2.6 -2.9 -1.6 -4.6 -3.1 -2.3 -3.8 -3.7 -1.9 -2.5 -1.8 -3.5M504.5 113.6l-1.0 -3.0 -1.5 -4.5 1.0 -2.4 -1.9 -3.0 -5.1 -1.8 -2.0 -2.3 -0.5 -2.7 -2.4 -3.5 -1.3 -1.7 -2.6 -1.9 -1.6 -4.0 -3.3 -4.3 -1.9 -1.9 -1.6 -1.5 -1.3 -4.1 0.4 -1.9 -3.3 -3.9 -3.2 -0.8 -0.4 -4.2 -2.8 -2.1M479.2 111.2l-1.5 -2.7 0.8 -2.3 -1.0 -3.0 2.1 -3.0 1.2 -3.5 -0.8 -2.3 1.6 -3.8 0.7 -4.2 -2.9 -2.3 -2.2 -2.6 -1.3 -2.8 -1.9 -3.3 2.5 -3.3 -2.7 -2.7 -1.1 -3.3 1.6 -0.5 -5.0 -4.9 -1.8 -2.3 -2.4 -1.8 -2.5 -2.4M530.2 113.7l-4.6 -3.1 -0.8 -4.3 2.5 -3.2 -3.1 -3.0 -0.1 -1.3 -3.7 -4.4 -0.9 -2.8 0.1 -3.3 -0.7 -4.0 -2.1 -2.2 2.5 -1.6 -3.6 -2.5 -4.4 -4.6 -2.1 -2.5 -5.5 -3.6 -2.8 -3.6 -2.9 -2.6 -5.4 -2.9 -2.9 -1.5 -0.4 -2.8M519.1 113.7l-1.5 -4.1 -5.0 -2.3 -2.0 -4.2 -1.3 -4.2 -0.7 -2.9 -1.0 -1.9 -3.1 -3.5 0.8 -2.5 -2.2 -2.9 -1.3 -3.0 -0.7 -1.4 -1.5 -1.9 -4.5 -1.8 -0.2 -3.4 -2.5 -4.1 -0.8 -3.0 -3.5 -3.5 -0.2 -3.8 -3.4 -2.9 -1.3 -3.6M488.9 110.6l-2.0 -1.6 -2.5 -1.2 -0.8 -0.5 -0.4 -2.2 -0.6 -1.7 -0.7 -1.9 0.5 -0.6 1.3 -1.1 -4.9 -1.7 -1.2 -3.6 -1.3 -1.4 -3.8 0.2 0.7 -1.4 -2.1 -1.2 -2.8 -2.8 1.7 -1.8 -2.2 -2.5 0.4 -1.7 -2.7 -2.8 -3.6 -0.9M492.3 118.7l-1.7 -2.5 -2.7 -4.6 -0.8 -4.1 -1.8 -1.6 -2.4 -2.7 -2.8 -2.7 -1.0 -2.6 -1.6 -3.8 0.1 -2.1 0.6 -2.5 -3.2 -2.6 -0.6 -4.9 -2.0 -3.7 -1.2 -2.8 -2.8 -3.6 -1.4 -4.9 -0.8 -1.6 -0.5 -3.3 -1.4 -2.6 1.2 -2.0M480.8 113.5l3.3 -0.5 0.0 -3.7 0.2 -1.8 -1.9 -2.1 -4.5 -1.5 -0.8 -1.0 -1.9 -1.7 -2.0 -1.7 -1.7 -2.6 -1.8 -2.2 -1.0 -1.9 -3.6 -2.1 -2.8 -3.2 -0.4 -1.0 0.4 -2.7 -1.1 -2.9 -1.1 -1.8 1.6 -1.8 -1.7 -1.1 -0.9 -1.5M512.5 114.9l0.2 -1.4 -2.2 -2.7 -1.6 -1.6 -0.9 -2.8 0.5 -2.7 -0.3 -2.3 0.0 -1.5 -4.1 -4.1 2.1 -1.6 -2.6 -1.9 -1.3 -2.2 -0.6 -2.1 -4.5 -2.2 -2.1 -1.7 -3.1 -2.3 2.3 -4.3 -1.1 -2.9 -2.6 -2.1 0.4 -2.3 -4.3 -2.6M479.1 102.7l1.2 -1.9 -1.9 -2.1 -1.1 -0.6 -1.2 -1.5 -1.4 -2.8 -4.1 -2.0 -2.2 -1.5 -1.5 -1.7 -1.2 -1.7 -1.3 -2.7 3.0 -1.6 -1.7 -1.6 -1.3 -1.0 -0.2 -2.9 -0.8 -1.4 -3.1 -1.3 -2.3 -3.6 0.4 -1.0 -0.7 -2.9 -5.0 -4.3M504.2 113.7l1.5 -1.2 -2.0 -0.1 1.5 -3.0 -1.3 -2.2 2.6 -2.3 -2.7 -3.0 -4.0 -1.2 2.5 -2.2 -2.7 -1.6 -0.3 0.0 -1.7 0.3 -3.6 -1.0 -3.2 0.1 -0.5 -3.1 -0.9 -1.3 2.2 -1.4 -1.8 -1.9 -3.0 -3.0 1.6 -0.8 -1.5 -1.8M511.1 116.8l-5.8 -1.4 -3.3 -2.1 -2.6 -1.8 -3.5 -2.3 -1.3 -2.6 -0.1 -1.6 -1.1 -2.1 -1.9 -1.2 1.7 -4.9 -4.0 -1.7 -1.1 -3.3 -4.6 -1.6 -2.8 -1.5 -0.9 -2.4 -0.6 -1.2 -0.3 0.1 0.5 -1.7 -3.3 -2.5 -2.9 -1.7 -1.8 -2.2M486.9 131.1l-1.2 -1.2 -1.9 -2.0 -0.4 -2.7 0.7 -2.1 -1.6 -0.7 -0.4 -3.1 -2.4 -2.7 0.6 -3.1 -2.8 -2.1 -5.0 -2.9 3.0 -2.5 -4.7 -2.3 -1.6 -2.0 -2.0 -2.9 -1.1 -3.2 -5.6 -0.6 0.7 -2.3 1.6 -3.4 -0.2 -2.2 -3.1 -1.1M480.7 101.6l-2.6 1.1 -3.2 1.4 -2.6 0.8 -0.9 0.7 -1.5 0.5 -2.1 1.0 -1.2 0.1 -0.3 1.1 -2.0 1.4 -1.8 1.9 -1.1 1.1 0.2 1.6 -1.4 1.4 -0.6 1.4M483.2 122.3l-1.6 -0.0 0.5 -1.1 0.5 -2.3 -1.5 -1.4 -3.5 -1.9 0.0 -0.6 0.9 -2.1 0.9 -3.7 -2.0 -2.2 -1.4 -1.3 -1.4 -0.8 1.5 -2.0 1.0 -2.3 -1.1 -1.0 -1.1 -1.8 -2.7 -2.4 -1.1 -3.0 -2.9 -1.7 -1.0 -2.1 -1.2 -1.9M478.4 102.4l-1.7 -0.0 -1.0 -3.1 -3.0 -0.8 1.7 -1.3 1.4 -1.3 0.9 -2.7 -1.3 -0.6 -4.4 -1.9 -0.1 -0.1 1.9 -2.3 0.0 -1.2 -2.4 -1.4 -4.2 -0.6 0.2 -1.5 -0.1 -1.1 -2.2 -1.4 0.3 0.2 0.2 -2.2 0.0 0.0 0.3 -2.0M489.9 120.0l0.1 -4.1 0.7 -4.7 -0.1 -2.3 -1.5 -2.6 -2.6 -5.6 -1.6 -2.4 -1.7 -2.8 -1.6 -3.8 -3.9 -4.1 2.2 -4.1 -1.6 -3.5 1.6 -4.2 -2.4 -2.7 -2.7 -3.8 -2.3 -3.0 0.2 -4.7 -1.9 -1.8 -2.5 -4.2 -0.9 -4.4 2.9 -4.2M482.7 114.8l-1.4 -3.2 0.1 -3.4 -1.0 -3.5 -0.0 -1.3 -1.6 -3.5 0.4 -2.4 -2.0 -3.8 -3.8 -3.4 -2.6 -3.1 0.6 -4.2 -4.7 -4.3 -0.8 -2.2 -0.1 -3.3 0.6 -4.1 1.1 -3.7 -3.7 -3.8 -0.5 -2.9 -1.4 -1.9 -0.3 -3.0 0.4 -1.6M485.1 118.8l-2.1 -3.5 -1.8 -4.6 -0.6 -2.0 -1.2 -1.7 -0.5 -1.5 -0.5 -2.5 -4.4 -3.0 0.1 -3.0 0.9 -0.9 -1.4 -2.3 -1.9 -1.9 0.8 -2.7 -2.3 -1.8 -1.3 -3.2 -2.0 -2.0 -2.6 -3.5 -1.2 -1.5 -3.4 -1.4 0.0 -2.6 -0.2 -2.5M501.8 116.4l-2.1 -1.5 0.3 -2.6 0.3 -2.4 -0.6 -2.8 -2.7 -2.2 -1.6 -3.2 -2.5 -3.2 0.7 -1.3 -4.2 -3.7 -1.3 -2.6 -1.7 -2.9 2.0 -1.7 1.0 -2.3 1.9 -2.6 -2.4 -1.2 -0.3 -2.3 -3.9 -1.9 2.4 -2.2 -3.1 -2.5 -5.8 -2.3M505.3 134.5l0.5 -5.0 -4.7 -3.7 -1.8 -5.7 -1.1 -5.0 -0.9 -6.2 0.0 -4.0 -2.9 -6.1 -4.1 -4.2 0.4 -3.5 -3.3 -3.4 -3.0 -5.6 -4.5 -4.3 -1.1 -3.3 -4.5 -3.1 -1.8 -3.5 -6.7 -3.3 -2.0 -4.7 -2.3 -4.6 -2.2 -3.0 1.7 -5.0M490.1 115.4l-1.8 -2.3 -1.8 -3.9 -2.8 -3.3 -1.5 -2.0 2.1 -0.9 -3.5 -4.3 1.2 -1.5 1.9 -2.8 1.4 -3.7 0.3 -2.8 -2.0 -2.1 -1.5 -2.7 -0.0 -2.4 -1.9 -1.7 -2.4 -2.1 -2.9 -2.5 -5.8 -3.5 -2.0 -2.0 -2.2 -3.3 -2.3 -1.6M489.3 102.7l-1.5 -0.3 -2.9 0.3 0.5 -2.1 1.9 0.9 -0.0 -0.9 1.0 -0.1 2.8 -0.8 -3.4 -2.1 -1.9 -0.2 0.3 -1.1 0.0 -1.0 1.1 -1.6 -0.5 -1.6 0.1 -1.1 -1.6 -0.3 -0.6 -1.5 1.3 -1.0 -2.0 -1.0 -0.5 0.8 -4.1 -0.3M480.5 123.0l-1.1 -3.6 -4.1 -0.7 -1.7 -3.5 -0.9 -3.2 -2.4 -2.1 -0.4 -2.1 0.5 -3.9 -2.6 -2.4 0.4 -0.7 -3.3 -3.2 1.1 -1.7 -0.2 -2.3 -2.4 -0.8 -0.7 -2.4 -2.3 -2.5 -0.1 -2.2 1.0 -2.1 -0.1 -1.3 0.3 -2.1 -1.6 -1.3M483.0 117.4l-0.9 -1.1 -1.9 -2.5 0.5 -1.1 1.7 -0.4 -2.2 -0.5 -0.4 -1.6 3.9 -0.9 2.2 0.2 -1.6 -1.8 -1.0 -1.0 0.7 -0.2 -0.4 0.1 1.2 -0.2 1.1 -3.7 -2.3 -0.9 -2.2 0.2 1.8 -2.5 -0.5 -3.9 -0.8 0.0 0.7 -0.5M528.3 113.8l-2.6 -1.3 -3.1 -0.4 -1.6 -2.9 -5.0 -1.5 -2.3 -3.6 -3.2 -2.4 -3.6 -2.5 -1.6 -2.7 0.1 -2.4 -2.1 -3.3 -0.6 -2.2 -5.3 -4.4 -0.8 -2.4 -2.3 -1.9 -2.1 -3.6 -1.1 -3.5 -2.5 -1.7 -1.6 -1.9 1.9 -5.5 -1.1 -1.5M497.7 130.2l-2.2 -4.2 -3.3 -4.8 2.7 -2.5 -3.1 -3.5 -0.1 -3.7 -3.0 -3.6 -1.0 -2.5 -2.8 -3.8 1.5 -5.4 1.6 -2.4 -3.2 -3.5 -0.3 -3.6 -1.9 -2.8 -0.3 -2.2 -1.0 -2.9 -5.2 -4.1 -2.0 -2.9 -3.2 -5.2 1.2 -3.3 -0.7 -4.7M481.9 112.1l-0.7 -2.0 -0.8 -2.1 -2.7 -1.7 0.9 -1.3 -0.1 -2.2 1.0 0.2 -2.0 -1.5 -0.3 -1.7 -0.7 -1.5 -2.7 -1.8 -0.6 -1.9 -1.6 -2.3 1.8 -1.7 -0.9 -3.3 -3.3 -1.8 -0.5 -1.8 -1.5 -1.0 2.1 -0.2 -2.7 -2.0 -0.8 -0.9M511.8 108.8l-1.6 -2.1 -3.6 -2.1 -1.7 -3.7 -1.4 -2.3 -4.0 -2.4 -0.2 -2.1 0.3 -0.5 -0.8 -2.0 -1.1 -3.1 -0.2 -2.9 -2.7 -4.1 -4.5 -3.5 0.7 -2.8 -2.5 -3.3 0.8 -2.5 -5.6 -1.5 -0.2 -1.1 -4.6 -2.1 0.6 -1.9 -1.0 -2.2M524.7 119.9l-2.0 -4.0 -1.3 -3.3 -2.6 -1.7 -0.5 -2.9 -0.9 -2.5 -6.3 -3.8 -3.0 -2.5 -1.4 -3.0 0.3 -4.0 -5.3 -1.3 -4.0 -4.7 -1.6 -3.3 0.3 -3.3 -0.5 -3.2 -0.0 -3.9 0.8 -4.5 -2.5 -2.0 -7.5 -3.4 -5.5 -2.9 -0.8 -3.1M483.4 107.1l-0.1 0.3 -1.7 -1.2 -2.1 -0.2 1.0 -1.0 -4.1 -1.5 -4.6 0.3 -0.2 -0.8 -1.7 -1.1 0.7 -0.6 0.5 -1.2 -1.9 -0.2 -1.5 -0.4 -0.9 -1.3 -0.1 -0.8 -3.9 0.4 -4.2 -0.9 -1.2 -1.0 -2.8 -0.1 -2.1 -1.1 3.5 -0.6M478.4 113.0l-0.4 -2.2 -1.1 -1.6 0.2 -0.2 0.2 -0.8 -0.7 -3.7 -2.3 -2.5 -3.6 -1.6 -0.2 -2.0 -2.1 -3.0 1.4 -2.4 -0.7 -2.4 -2.5 -1.1 -1.7 -0.6 -1.0 -1.1 2.6 -0.8 -3.5 -0.8 0.8 -0.4 -4.1 -2.0 -0.3 -1.6 0.6 -2.7M480.2 122.6l-2.5 -2.6 -0.8 -2.0 -3.4 -1.7 1.2 -2.8 0.1 -1.5 -1.9 -2.4 -3.4 -1.1 -1.4 1.3 -1.4 0.4 -1.1 -1.2 -2.3 0.8 0.8 -1.2 2.5 0.0 -2.2 -2.2 -1.3 -0.6 -2.0 -2.5 0.7 0.1 -1.1 0.2 -1.2 -1.9 0.3 -0.0M489.5 100.2l0.3 -0.6 -0.8 -0.6 -4.1 -0.9 -2.3 -1.2 -0.5 -1.6 -1.7 -1.3 -2.2 -0.9 1.7 -0.2 -2.0 -0.3 0.1 -1.1 -0.4 -1.2 -3.4 -2.2 -0.0 1.1 0.2 -0.5 1.7 -0.5 -0.9 -0.4 4.5 0.3 -0.4 -1.3 -2.8 -2.7 -2.6 -1.9M501.5 112.9l-4.9 -2.2 -1.4 -3.0 -0.9 -2.2 -2.5 -1.8 -3.6 -2.1 -0.5 -3.7 -0.8 -1.0 2.3 -0.9 -3.7 -3.0 -3.9 0.8 0.2 -2.1 -0.7 -2.4 -3.9 -1.3 0.2 -2.5 -0.7 -2.8 -2.6 -1.2 1.3 -2.1 -1.2 -2.0 1.9 -1.8 -1.2 -3.0M507.2 126.3l-3.5 -4.3 -2.7 -3.1 -1.7 -3.5 -0.0 -0.7 -0.8 -3.6 0.0 -4.2 -5.1 -5.3 1.9 -3.1 -3.0 -3.0 -4.0 -1.4 -1.8 -1.0 -2.4 -5.3 -3.1 -4.3 -3.9 -2.2 -1.3 -3.8 -3.0 -5.2 -1.3 -2.2 -1.5 -4.3 0.4 -3.8 -1.3 -3.6M489.7 109.3l3.2 -0.7 -1.0 -1.0 -1.2 -0.5 -6.8 0.3 -1.9 -1.0 -6.4 -0.5 -2.4 -0.3 -2.7 -1.4 -3.8 -0.7 -0.2 -0.2 1.1 -1.7 0.1 0.3 -0.9 1.0 -1.9 1.5 -0.2 -2.1 -1.8 -0.6 -2.3 -2.1 -0.5 -0.8 -2.0 -2.2 -2.1 -2.5M511.4 114.2l1.5 -2.2 -2.4 -2.5 -2.4 -4.2 -0.4 -1.9 -2.9 -2.8 -0.4 -2.3 -5.1 -3.5 0.2 -4.7 -3.2 -3.0 -1.1 -4.4 -5.5 -3.3 1.2 -4.9 -0.1 -3.4 -3.4 -4.0 -5.7 -3.9 -3.0 -2.9 0.2 -1.1 -1.6 -3.5 3.1 -2.3 0.2 -3.7M509.6 117.5l0.1 -2.1 -4.7 -0.2 -0.6 -2.2 -1.1 -0.5 0.0 -1.1 -0.6 -1.3 -1.9 -2.3 -3.5 -0.6 -0.8 -2.4 -0.7 -2.3 2.0 -0.7 -0.7 -2.3 -2.3 -0.2 0.9 -1.1 -0.4 -1.3 -4.5 -1.3 -4.6 -3.1 1.2 -0.9 -3.0 -1.9 -1.7 -1.8M485.6 122.5l1.4 -2.9 1.0 -2.3 -0.0 -0.4 -2.4 -2.4 -5.4 -2.7 0.6 -0.0 -1.9 -3.0 2.0 -2.6 0.9 -1.4 -2.0 -1.2 0.2 -2.9 1.5 -3.0 -2.0 -2.1 -0.6 -1.5 -1.3 -2.2 0.9 -0.4 -0.0 -0.9 0.5 -1.4 -0.7 -2.9 -0.5 -2.1M500.5 101.7l-0.7 -1.7 -0.2 -1.7 -4.5 -2.6 -3.0 -3.4 0.1 -2.5 -3.7 -0.9 -1.1 -0.1 -0.5 -1.3 2.3 -1.0 0.1 -3.6 0.4 -1.3 -0.3 -1.0 -2.6 -3.6 -1.2 -2.6 0.9 -2.2 0.6 -0.9 -0.9 -1.7 -0.3 -3.3 0.7 -1.4 0.4 -1.6M487.1 109.9l-0.2 -1.1 0.0 -1.1 2.2 -0.2 -0.5 0.3 2.1 -2.5 0.2 -0.3 -1.3 0.5 -3.8 -1.6 1.9 -0.8 0.0 0.2 -2.0 -1.1 -1.3 -0.7 -1.1 -0.4 -1.6 -0.8 1.0 1.2 1.5 0.6 -0.2 -1.3 2.2 -0.7 -0.4 0.3 -0.6 -0.4M498.0 126.1l-4.6 -2.1 -1.9 -1.3 -2.7 -1.1 -3.8 -2.0 -2.1 -1.4 -5.0 -1.6 -3.8 -2.2 -3.2 -1.8 -4.4 -3.2 -2.2 -1.1 -2.0 -2.1 -3.9 -1.3 -4.4 -1.2 -1.2 -2.2M495.3 122.8l-3.2 -3.6 1.5 -2.9 0.3 -2.6 -0.4 -3.6 0.1 -4.2 1.5 -3.4 1.1 -2.4 -5.5 -3.5 -3.3 -3.8 -0.3 -4.2 3.1 -4.7 -3.1 -2.3 -2.0 -4.3 -2.0 -3.1 -3.7 -3.9 -1.6 -2.4 -0.7 -2.8 -2.2 -3.6 -1.5 -4.2 -4.0 -3.4M479.2 118.6l-1.1 -2.3 -1.1 -1.8 -1.6 -3.0 -3.2 -2.9 3.8 -3.2 -0.5 -3.7 0.6 -2.3 -0.3 -3.6 2.4 -1.2 -3.0 -3.3 -1.9 -4.8 -1.7 -2.1 -0.0 -2.5 -1.2 -1.7 1.3 -2.4 4.1 -2.9 -0.1 -2.6 2.4 -4.0 -1.7 -2.7 0.7 -3.5M480.6 104.0l1.5 -1.4 -3.9 -2.8 -1.7 -2.2 -4.1 -1.5 -1.0 -3.0 -0.7 -1.0 -1.0 -2.1 0.8 -2.6 -0.8 -2.2 -2.7 -2.2 -2.6 -1.5 -2.3 -2.4 1.8 -2.0 -2.1 -0.7 -1.2 -1.6 -0.4 -0.4 0.6 -0.8 -0.5 -0.7 -2.4 -1.2 -1.4 -2.1M529.3 122.8l-1.1 -3.1 -2.0 -2.7 -4.2 -2.1 -1.2 -2.9 -2.8 -5.0 1.5 -2.4 -3.1 -4.0 0.8 -2.3 -5.5 -3.6 -3.7 -3.4 -1.4 -3.0 -4.2 -2.4 -0.7 -3.9 -2.2 -2.0 -2.3 -4.7 -2.6 -2.2 -1.8 -3.6 -2.2 -3.5 -0.3 -4.1 -4.8 -1.3M521.1 116.9l-0.6 -3.8 -4.8 -3.5 -3.0 -3.7 -2.8 -2.4 0.5 -3.7 0.8 -4.5 -0.5 -3.4 -3.0 -2.4 0.6 -3.2 0.7 -1.5 -3.6 -2.3 -1.9 -3.8 -2.9 -3.4 -1.6 -1.8 -3.3 -3.5 -4.0 -4.0 -4.2 -2.3 -0.1 -4.1 -6.8 -3.5 -0.3 -3.3M509.4 121.6l-1.2 -4.3 -0.3 -4.8 2.3 -5.0 -3.7 -3.4 -0.8 -3.2 -2.5 -3.0 -0.9 -1.8 -2.0 -3.6 0.7 -2.1 -1.9 -3.6 -4.9 -3.1 -4.2 -4.3 0.4 -0.5 -0.9 -4.0 -0.6 -2.2 -3.7 -3.1 -3.8 -1.9 -5.6 -3.4 -2.0 -2.5 -2.1 -2.4M490.1 112.1l-3.5 -2.5 -3.3 -2.5 -3.1 -4.0 -3.4 -4.0 -0.6 -1.9 0.2 -3.6 -2.5 -1.0 -1.2 -3.3 -2.3 -3.4 0.9 -3.1 -1.7 -1.7 -3.7 -1.3 -1.9 -2.2 -1.3 -3.3 -2.3 -6.0 0.1 -3.4 -2.2 -3.6 -2.8 -2.5 -1.0 -1.7 -2.9 -4.8M502.0 117.3l-0.5 -1.5 -5.0 -1.9 -6.9 -3.8 -2.9 -3.2 -1.1 -2.5 -0.4 -1.3 2.3 -3.5 -1.3 -1.1 -1.5 -0.6 -1.1 -3.1 -0.7 -1.9 -1.6 -1.6 -1.9 -1.6 1.8 -0.9 0.1 -1.1 -1.8 -0.9 -2.1 -2.9 -1.2 -0.8 -3.6 -2.6 -1.9 -1.4M501.4 104.9l0.6 -3.5 -2.1 -2.5 2.9 -3.2 -2.9 -4.4 -0.3 -3.7 -2.1 -1.6 -3.6 -2.8 -1.9 -1.8 -0.6 -4.0 -1.9 -3.2 -2.4 -2.0 1.4 -2.3 -1.5 -3.2 -0.1 -2.6 0.4 -2.5 -2.8 -3.6 -1.1 -2.8 -1.7 -2.1 0.5 -1.7 -0.2 -4.0M526.8 121.7l-1.6 -1.6 -1.9 -2.7 -1.0 -2.1 0.6 -3.2 -3.3 -1.6 -1.6 -3.1 -1.6 -1.7 -1.8 -2.6 -2.0 -3.9 -3.8 -2.1 -3.8 -1.4 -2.0 -3.0 -4.2 -2.1 -1.8 -2.8 -2.5 -2.8 -0.4 -2.3 -2.9 -2.4 -2.5 -3.1 0.3 -3.4 -2.9 -2.9M494.1 108.6l-1.7 -2.0 -2.2 -3.5 -5.6 -2.7 -1.7 -3.1 -2.8 -2.1 -2.2 -2.8 -1.8 -1.8 -0.3 -4.1 0.2 -3.3 -3.3 -2.3 -2.9 -4.9 -0.5 -3.5 0.4 -3.3 -4.3 -2.0 -3.0 -3.9 -0.4 -3.6 -1.1 -2.8 -0.9 -2.7 0.0 -3.6 -4.0 -4.3M480.0 102.2l-1.9 -0.4 -3.2 1.3 -2.4 -1.5 0.8 -2.3 -3.1 -1.1 -1.0 1.9 1.3 -2.3 -0.9 -0.6 -2.8 -0.3 -1.4 -1.1 -3.5 -0.7 1.1 -2.1 -3.9 -0.1 1.2 -0.5 -0.3 -0.4 -1.5 -2.3 -2.7 -1.9 -2.0 -0.8 1.8 -0.5 -0.5 -0.4M501.9 119.9l1.5 -0.5 -3.0 0.6 -3.5 0.1 -1.5 -0.5 -3.1 -0.5 0.3 -2.5 -2.8 -1.0 -0.2 -1.3 1.7 0.1 0.3 -1.2 -0.7 -0.9 -0.7 -1.9 -0.7 -1.4 -0.1 -1.1 -0.4 -1.1 0.7 -1.9 0.3 -0.8 -3.4 -1.6 0.7 0.0 -0.7 -2.1M480.9 121.3l-0.9 -2.5 0.5 -2.1 -1.8 -1.7 0.5 -1.3 -2.1 -1.4 -2.4 -2.4 -1.9 -1.8 -0.8 -2.0 -0.5 -1.4 0.1 -1.0 2.1 -2.3 -3.2 -2.7 -2.3 -1.5 -0.9 -0.3 -3.1 -2.1 1.2 -1.1 -0.5 -1.7 -3.7 -0.7 -1.5 -1.6 -4.6 -3.0M482.3 128.5l0.6 -3.7 -2.7 -1.6 -0.4 -4.2 0.2 -3.2 -3.4 -3.2 -2.4 -3.3 0.9 -2.2 -0.6 -2.7 -0.4 -3.6 -3.0 -3.0 1.4 -3.7 0.6 -2.0 -1.8 -3.8 -3.1 -3.7 -0.3 -2.0 -2.1 -3.3 -4.3 -2.9 3.2 -2.4 -3.7 -1.8 -3.8 -2.0M493.6 131.1l-3.0 -3.3 -0.6 -2.0 -2.0 -3.3 -2.5 -5.0 1.7 -4.0 -1.9 -2.4 -4.1 -2.1 -0.7 -5.4 -2.7 -3.8 -3.2 -3.1 1.2 -4.6 -3.2 -3.3 -0.4 -4.0 1.6 -3.8 0.9 -2.7 -3.8 -3.8 -3.7 -2.8 0.7 -3.2 -1.4 -2.2 -0.6 -3.1M485.9 118.6l2.7 -1.8 -2.2 -1.1 -3.7 -3.1 0.5 -3.3 -0.7 -1.2 -0.7 -1.4 -3.1 -1.2 -2.0 -4.0 -0.6 -2.7 -1.6 -1.2 -0.4 -4.6 -0.6 -3.3 -0.2 -1.9 -3.3 -1.9 -0.3 -2.4 -1.7 -0.5 -0.4 -2.1 -0.7 -2.6 -0.0 -2.5 -2.8 -1.7M515.1 116.4l-1.7 -2.4 -2.0 -3.3 -2.6 -1.9 -2.1 -3.9 2.5 -4.0 -3.5 -2.5 -2.5 -3.8 2.8 -3.3 -2.9 -3.9 0.0 -1.9 -4.0 -3.3 -2.4 -3.4 -5.1 -3.6 -4.3 -2.0 -2.7 -2.8 2.2 -3.4 0.5 -2.4 -0.1 -4.4 -0.3 -3.4 -0.5 -3.2M484.7 107.7l1.3 -1.5 1.6 -2.7 -3.7 -2.1 -0.3 -3.1 -1.4 -2.6 -1.5 -0.8 2.6 -1.2 -2.5 -2.6 1.9 -3.6 -1.1 -3.3 -1.1 -2.9 -1.8 -1.9 0.9 -1.8 -0.3 -3.1 -0.2 -2.8 -3.6 -2.8 -0.5 -1.2 1.2 -2.2 -2.6 -1.1 2.8 -5.1M517.8 118.2l-1.0 -1.2 0.0 -1.7 -1.0 -4.4 -3.5 -1.8 -5.1 -3.7 -0.2 -2.5 -5.3 -2.4 0.7 -2.9 -2.4 -3.0 -3.3 -3.8 -1.1 -2.4 -1.5 -3.2 -2.4 -2.3 -2.8 -0.8 1.7 -2.8 -2.5 -2.3 -5.4 -1.5 -4.8 -1.9 -2.9 -0.9 -0.7 -1.0M491.7 127.7l-0.7 -3.4 -1.1 -3.4 -4.0 -3.4 -4.2 -3.2 0.3 -4.4 2.9 -2.8 4.6 -2.6 -1.0 -3.3 -3.6 -3.2 -0.8 -2.7 -0.4 -3.0 -3.5 -2.9 -0.8 -2.9 1.2 -2.8 -2.6 -3.5 -1.0 -2.5 -4.3 -3.3 -2.2 -2.5 -2.4 -1.9 -2.3 -3.3M497.3 114.9l-2.9 -2.1 -0.3 -2.8 -3.0 -1.8 -4.3 -0.5 -1.6 -2.9 -3.8 -1.9 -2.4 -2.1 1.0 -2.5 1.9 0.0 -2.4 -0.2 -4.2 -2.1 -3.3 -1.6 -2.1 -2.2 -0.0 -2.7 -1.6 -0.8 -2.2 -2.3 1.0 -1.4 -1.1 -3.3 -4.6 -0.2 -2.3 -0.8M500.7 108.9l-3.9 -1.7 -4.3 0.6 1.4 0.5 -3.6 -1.4 -2.6 -2.2 -2.3 -0.3 -3.0 -0.6 -0.9 -1.2 -3.6 0.3 -3.3 -0.4 -0.2 1.1 -0.1 -1.7 -4.0 -0.8 -1.1 -0.0 0.5 -0.9 -4.5 -1.9 -0.6 -0.4 -0.4 0.0 -2.6 -1.6 -3.3 -1.4M521.6 131.0l-1.8 -3.2 -2.5 -3.0 -1.5 -2.0 -1.7 -1.5 -3.0 -1.5 -1.6 -1.3 -3.0 -2.3 0.4 -3.1 -5.0 -1.7 -2.1 -0.6 0.8 -2.4 0.3 -3.7 -3.0 -2.1 -3.8 -1.9 0.5 -3.4 0.1 -3.8 -4.2 -3.2 -2.5 -2.4 0.0 0.2 -3.2 -1.6M485.0 121.8l1.2 -4.4 -2.2 -1.0 -0.5 -3.4 -2.0 -3.0 0.5 -3.6 -0.3 -4.4 -2.4 -2.8 -1.2 -2.4 -1.9 -3.0 -1.0 -3.7 -3.4 -1.8 0.7 -4.3 -2.4 -2.9 -0.8 -2.6 0.5 -3.3 -2.1 -2.9 -1.1 -4.2 -3.8 -3.6 -3.1 -3.5 -1.3 -2.3M487.2 138.0l-1.2 -0.8 0.2 -2.0 3.6 -0.7 0.5 -2.7 -1.8 -1.6 2.0 -2.1 -0.3 -1.8 -1.7 -1.7 -2.4 -2.8 -2.0 -3.2 -0.8 -2.5 -4.9 -1.7 -0.7 -2.5 0.2 -2.9 2.4 -2.9 -1.4 -2.1 -0.2 -3.1 -2.6 -2.0 -0.5 -3.3 -1.7 -3.5M492.1 121.2l-3.5 -1.8 0.6 -1.6 -0.8 -1.5 -0.4 -0.0 -2.2 -1.1 4.0 -2.2 -2.2 -1.1 -1.5 -1.0 -1.8 -1.8 -1.9 -2.8 -0.6 0.2 1.5 -2.3 -0.3 -1.8 -4.2 -1.3 -1.9 -3.2 -1.2 -0.9 -1.5 -0.4 -0.9 -1.5 0.4 -1.9 -0.1 1.0M519.2 127.0l-3.7 -5.3 0.8 -1.9 -0.3 -4.4 -0.3 -3.9 -3.6 -3.6 -0.3 -1.7 0.7 -3.3 -2.1 -3.1 0.8 -4.2 0.7 -5.0 -1.3 -3.6 -0.5 -4.5 -4.1 -2.7 -5.5 -2.8 -0.9 -3.7 0.6 -3.2 -1.1 -5.3 -0.6 -1.5 -2.0 -3.9 -5.4 -3.1M499.4 113.6l-4.6 -1.9 -4.4 -1.5 -2.0 -1.2 -2.2 -1.5 -3.1 -0.9 -1.6 -1.4 -3.4 -1.7 -3.2 -1.8 -0.1 -2.0 -4.6 -1.6 -3.2 -2.1 -3.3 -1.8 -2.3 -0.5 -2.8 -1.5M488.6 115.6l-3.1 -1.0 -3.9 -1.0 0.2 -1.6 -0.4 -0.6 -2.6 -0.3 -0.3 -1.1 -1.8 -1.9 -0.9 -1.0 -2.8 -1.9 -0.9 -0.3 -1.4 -1.3 -0.8 -1.5 -1.1 -1.3 -1.4 -1.1M509.9 123.1l-3.1 -2.7 -2.3 -1.7 -2.7 -2.7 -1.9 -2.5 -0.6 -2.3 -1.5 -1.4 -1.6 -0.8 0.9 -2.7 -0.8 -2.8 -4.4 0.1 0.3 -1.1 -0.8 -2.8 -1.8 -1.3 -1.6 -4.6 -3.1 -2.1 -0.9 -0.7 -0.8 -4.1 -0.0 -1.3 -1.2 -3.1 0.6 -0.4M494.6 109.2l-1.3 -3.0 0.3 -1.5 -2.7 -2.5 -1.4 -1.3 -3.5 -3.0 1.7 -1.5 -2.0 -1.5 0.2 -3.1 -0.9 -0.2 -0.6 -1.8 -2.7 -2.6 -0.1 -1.1 -1.8 -0.3 -0.4 -2.7 -2.7 -1.7 -1.8 -2.7 -0.9 -1.9 -0.5 -1.7 -1.1 -1.0 -1.6 -1.5M522.9 133.5l-1.9 -4.6 0.5 -5.7 -0.6 -3.5 -1.7 -5.3 -1.5 -5.6 -4.9 -3.7 -2.2 -4.2 -2.7 -3.5 -1.6 -3.8 -2.0 -3.4 -1.5 -3.9 -3.9 -5.1 -1.1 -3.7 -1.4 -6.0 -2.4 -4.1 -1.7 -3.5 -3.0 -5.4 -4.4 -4.3 -3.1 -5.5 -1.1 -2.9M478.5 120.2l-1.8 -1.8 1.8 -0.6 -1.9 -1.7 -1.9 -1.1 1.5 -2.1 -2.5 -1.7 -2.4 -0.2 -3.5 -1.3 -0.5 -0.3 -1.8 -1.3 -3.1 -1.6 -2.3 -2.4 0.6 -2.7 0.8 -1.2 -0.8 0.7 0.9 1.8 -0.8 -0.7 -0.0 -0.6 1.7 -2.1 2.3 -0.7M483.0 117.3l-2.5 -3.0 -4.6 -3.2 -0.0 -4.3 -0.5 -2.6 0.7 -4.2 2.2 -3.7 -2.4 -1.6 -1.3 -2.9 0.7 -2.3 0.5 -3.4 -3.2 -3.8 -1.6 -3.6 -0.9 -3.3 2.0 -2.2 -0.1 -3.0 1.7 -4.1 -1.1 -3.5 -0.5 -2.2 0.4 -4.0 -3.6 -3.6M485.7 115.7l-2.5 -1.9 -2.3 -2.0 -1.3 -0.9 -1.7 -1.8 -0.6 -1.2 -2.0 -2.6 1.5 -2.7 -0.9 -1.9 -0.4 -4.1 -1.0 -1.1 -5.5 -1.9 -1.9 -2.3 -2.3 -2.1 -3.2 -2.4 -2.5 -4.1 0.2 -2.7 -1.5 -2.1 -0.4 -2.8 -3.0 -0.7 0.9 -1.0M474.0 125.7l-0.9 -1.5 -1.4 -2.4 -1.6 -2.4 -0.5 -0.9 -3.2 -2.2 -3.0 -2.1 -1.6 -1.5 -2.1 -1.9 -0.6 -0.2 0.4 -1.3 0.8 -1.6 -0.8 -2.2 -2.7 -1.2 -1.2 -1.3M500.4 110.7l-0.5 -1.7 -4.3 -2.6 -2.9 -2.9 -1.5 -3.7 1.3 -4.2 -0.3 -3.0 -2.9 -3.7 -1.8 -4.5 0.1 -2.5 1.6 -1.4 -0.5 -0.9 -1.0 -0.9 0.0 -4.4 0.3 -3.7 -0.3 -3.6 -3.6 -2.6 -0.7 -5.7 0.7 -4.4 0.6 -3.2 0.1 -4.1M499.8 113.5l-4.1 -0.7 0.4 -0.7 -3.1 -0.5 -0.8 -0.5 -3.1 -1.5 -4.0 -2.2 -1.8 -0.6 -0.7 0.4 -0.5 -1.5 1.0 -2.1 -4.2 0.5 -1.1 -1.4 -4.0 -0.8 -2.7 -2.6 0.7 -1.1 -4.6 -1.1 -2.2 -1.8 0.3 -1.5 0.3 -1.9 -7.4 -1.7M495.9 106.5l1.1 -1.2 -2.0 0.5 -2.1 -0.5 -4.5 -0.2 -2.1 0.4 -0.7 -0.6 -1.0 -1.3 -7.3 -0.3 0.6 -0.1 -0.4 0.4 -1.9 -1.0 -2.5 -0.2 -1.9 -0.3 0.9 -1.6 -1.5 -0.5 -4.5 -0.3 -0.9 0.6 1.5 -1.7 0.9 1.5 -1.6 0.5M508.2 133.6l-0.2 -5.2 -2.4 -4.2 -2.2 -3.3 -0.2 -5.1 -4.4 -3.0 0.3 -4.7 -1.2 -5.3 -0.0 -5.2 0.7 -2.9 0.0 -4.8 -4.4 -5.8 -1.3 -4.1 -7.4 -2.8 1.9 -3.6 -0.9 -4.5 -1.3 -5.0 -2.8 -3.6 -5.6 -4.2 -1.8 -5.0 -3.0 -4.2M518.9 121.8l-1.8 -4.4 -1.6 -4.1 -1.2 -4.4 -4.7 -3.1 2.2 -4.8 0.9 -2.9 -2.1 -4.2 -4.0 -1.9 -4.9 -3.9 -2.9 -3.0 -1.8 -3.4 -5.0 -4.5 -1.7 -2.5 -3.0 -5.8 -4.2 -2.5 -1.3 -3.5 -0.9 -2.9 -3.1 -3.1 -3.1 -3.5 0.4 -3.3M482.0 120.4l-2.6 -3.4 2.5 -3.2 -3.5 -2.2 2.4 -3.5 -2.2 -3.4 -2.0 -4.1 -0.5 -4.0 -2.5 -3.8 -2.4 -4.6 -1.5 -3.3 -0.3 -2.9 -1.9 -1.2 -4.8 -3.2 -1.0 -3.4 1.0 -2.8 -2.3 -1.0 0.0 -2.5 0.2 -2.7 0.7 -3.9 0.5 -4.2M481.7 113.6l-1.6 -2.5 -2.4 -3.8 -1.4 -1.7 0.3 -2.7 -0.7 -2.9 -0.7 -0.9 1.3 -2.3 -1.9 -1.0 -3.8 -0.6 -3.9 -2.3 -2.9 -2.7 -0.4 -2.5 -2.6 -2.6 0.3 -2.9 2.9 -3.0 -2.2 -2.8 0.5 -2.0 4.4 -2.8 -3.4 -1.2 2.7 -1.5M482.6 115.6l1.1 -1.6 -2.8 -1.1 -4.9 -0.2 -2.4 0.1 -1.5 -1.6 -2.8 -2.3 -0.7 -0.2 -0.8 -1.6 -0.9 -1.7 -0.3 -3.5 1.7 -2.6 -0.3 -2.1 -2.6 -0.8 -1.7 -2.1 -4.2 -2.1 2.7 -1.1 -0.0 -1.2 -2.9 -2.2 0.1 -0.5 -4.2 -2.1M521.8 112.0l-2.8 -1.0 -1.1 -0.2 -1.0 0.1 -0.5 -0.8 -1.0 -1.9 -1.5 -1.9 0.8 -1.6 -0.9 -0.4 -2.0 -2.1 -3.1 -1.3 -4.7 -1.0 -4.6 -2.2 -0.2 -1.6 -0.4 -0.7 1.3 -0.9 2.7 -1.0 -4.4 -1.2 -1.9 -0.8 -2.5 -1.6 -4.0 -1.5M525.8 111.6l-0.6 -3.2 -2.1 -2.8 -4.1 -3.1 2.4 -3.3 -4.5 -3.3 -4.4 -2.2 -3.3 -3.7 -1.3 -2.9 -1.3 -1.2 -2.4 -3.4 -3.9 -2.8 -2.2 -1.8 0.4 -1.2 -2.9 -2.5 -1.8 -4.6 -0.3 -3.5 -1.0 -5.0 -1.6 -1.2 -2.2 -3.2 1.4 -2.0M485.7 117.4l-1.7 -3.6 -4.7 -2.5 -1.4 -3.8 -2.4 -2.4 -1.5 -4.3 -0.2 -3.0 -1.1 -2.9 -1.4 -3.2 -0.1 -4.5 -0.9 -3.4 -2.1 -3.4 -3.2 -3.4 -1.1 -3.2 -2.4 -3.8 -1.9 -3.9 -1.4 -1.7 -3.0 -1.7 -2.9 -1.3 -2.2 -3.3 1.5 -3.1M485.3 123.5l-0.2 -2.8 -2.7 -1.6 -4.2 0.5 -0.2 -1.8 0.0 -0.4 -4.1 -2.2 -3.0 -0.1 -1.8 -0.7 -6.3 -1.0 -1.3 -1.8 1.0 -1.3 -1.4 -0.7 0.4 -2.1 -2.8 -0.8 -1.6 -1.3 -3.7 -2.6 2.2 -1.0 3.2 -2.8 -0.2 0.4 4.2 -0.7M500.0 124.9l-1.1 -1.9 -1.5 -2.1 -1.3 -3.3 0.5 -2.2 -1.4 -2.3 -2.9 -1.4 -2.0 -0.5 -0.6 -2.7 1.0 -1.8 -0.8 -1.6 -0.5 -2.7 -4.2 -2.1 0.0 -2.5 -1.8 -2.1 0.7 -2.5 1.7 -1.3 -3.0 -1.2 -3.5 -1.1 -1.1 -1.6 -3.9 -1.6M503.9 120.6l1.5 -2.6 -1.1 -2.5 -4.7 -1.8 -2.6 -3.4 -3.8 -2.9 -1.3 -0.8 -3.9 -2.4 2.1 -1.6 -1.7 -1.4 -2.0 -2.2 -2.7 -0.7 -2.7 -2.1 -2.5 -3.7 -0.1 -3.0 -0.8 -3.1 -3.1 -3.9 -3.1 -3.5 -1.4 -3.3 -1.8 -3.6 -1.5 -1.4M515.7 127.3l0.4 -3.7 0.8 -1.6 -2.6 -2.2 -1.7 -1.5 -1.3 -1.5 -1.0 -1.9 -6.0 -2.9 -2.7 -1.6 -0.8 -1.7 -4.9 -1.6 -1.6 -0.0 -4.0 -2.5 -4.3 -2.0 1.8 -1.7 -3.6 -3.7 -3.7 -3.1 -5.4 -3.3 -0.5 -2.4 -2.8 -0.8 -0.0 -2.1M514.4 106.0l0.3 -1.2 -3.4 0.3 -3.6 -0.2 0.6 -1.0 -0.9 -0.6 -0.0 -0.7 0.4 -0.9 -4.4 0.6 0.5 -1.7 -1.0 -1.1 -0.7 0.3 -3.5 -1.2 -1.5 -0.3 -3.5 -0.9 0.3 -1.3 -2.1 -0.8 -2.1 0.1 -0.5 -1.3 2.4 -0.9 -1.3 0.0M510.3 111.9l-1.4 -0.9 1.6 0.8 -0.8 -1.4 -1.3 0.2 -1.3 -1.0 -1.6 -0.5 0.6 -0.9 -0.7 0.1 1.9 -1.6 -3.9 -0.5 -1.3 -0.7 -0.8 -0.9 -4.7 0.7 -2.2 -1.3 -2.4 -1.6 -3.1 1.4 -1.6 -0.2 0.3 -0.5 -0.5 -1.4 -0.2 -0.1M505.9 124.3l-0.6 -4.7 -1.6 -2.0 -2.3 -3.5 -1.6 -3.0 -1.4 -1.9 2.7 -1.9 -1.3 -2.9 3.2 -2.3 -2.9 -3.8 -0.9 -1.4 2.3 -3.3 -3.1 -3.9 -4.6 -3.1 -0.5 -1.7 0.0 -4.8 -1.8 -3.5 -4.6 -2.4 1.7 -2.1 -0.5 -2.7 -2.8 -5.0M481.0 102.8l-2.2 -2.2 -0.9 -3.4 -1.4 -2.1 -1.5 -2.2 -2.1 -2.8 -1.5 -1.4 -3.4 -3.5 -3.2 -1.2 -1.1 -1.3 -3.1 -3.2 -0.1 -3.4 0.8 -0.7 -3.5 -1.4 -0.5 -3.1 -0.1 -1.2 1.2 -2.3 -2.5 -1.5 -3.8 -1.5 -0.1 -0.9 0.3 -3.1M505.8 113.9l-0.7 -0.6 -1.0 -2.1 -2.5 -2.1 -4.3 -2.3 0.5 0.0 -4.0 -0.2 -4.0 0.4 1.8 -0.3 -5.7 -0.5 -0.8 0.5 1.3 0.5 -5.3 -1.1 1.8 -1.8 -2.8 -0.9 -1.9 1.1 1.6 -2.1 -5.8 -1.3 -3.1 0.6 -4.7 -0.6 0.5 -0.1M492.3 109.5l-0.3 -3.3 -1.7 -2.6 -1.9 -3.6 -1.2 -2.3 1.1 -3.3 -0.8 -0.4 -0.7 -4.9 -3.4 -3.6 -0.8 -3.0 1.8 -2.9 -0.1 -1.8 -2.7 -4.2 -2.1 -2.4 2.0 -2.3 0.0 -3.5 -0.8 -2.8 -0.2 -3.4 -1.3 -1.5 -1.4 -3.8 -1.7 -1.3M488.4 116.0l0.1 -1.6 -0.6 0.4 -1.0 -1.8 -3.0 -3.4 -0.8 -0.5 -2.3 -0.9 -4.3 0.9 -3.5 -1.0 -1.3 -2.3 -0.2 -0.9 1.8 -0.3 -2.3 -1.0 -1.8 -1.1 -1.4 -1.1 1.3 -0.2 -6.0 -2.4 -0.2 -0.5 -1.2 -1.9 -0.3 0.3 -4.6 0.1M492.3 111.6l-1.8 -2.5 0.2 -2.5 0.6 -1.9 1.2 -3.5 -1.9 -1.6 -2.5 -2.9 1.4 -2.7 -0.8 -1.5 -0.5 -3.0 0.1 -1.6 1.1 -2.8 -1.6 -0.8 -4.7 -1.0 -0.3 -3.0 0.1 -4.0 -2.9 0.2 0.9 -1.3 -2.2 -1.2 0.6 -2.0 -0.7 -3.1" fill="none" stroke="#ff0000" stroke-width="0.7" stroke-linejoin="round" />
<path d="M374.0 52.0l2.4 2.3 2.8 0.9 -0.3 1.6 2.9 0.7 1.5 0.7 2.4 0.5 3.3 1.3 1.6 1.3 2.6 0.6 5.4 1.6 4.3 0.7 5.4 0.1 4.2 1.6 1.9 0.8 2.5 0.3 2.9 1.6 4.0 1.5 5.0 0.8 2.7 0.7 1.2 2.0 4.3 0.5 4.6 1.5 5.6 1.8 2.8 0.9 2.3 1.0 1.8 1.2 2.3 1.8 3.3 0.5 6.3 1.0 3.9 1.1 2.0 1.8 3.8 1.7 -0.7 1.3 3.4 2.5M389.0 54.0l2.8 1.5 1.7 1.2 3.8 0.5 1.8 1.8 3.5 1.7 6.2 -0.0 3.0 1.7 0.7 1.3 2.2 1.4 -0.0 1.4 3.4 1.0 2.7 0.9 3.4 0.3 3.2 1.7 3.0 1.3 1.5 0.4 2.9 0.9 2.5 0.3 4.3 1.3 5.5 1.7 2.5 1.7 2.5 1.1 4.8 1.4 4.7 1.1 3.4 0.8 2.5 2.1M395.0 44.0l3.7 0.7 2.7 2.7 2.6 1.3 4.0 1.4 2.8 3.1 3.7 1.5 4.3 1.4 4.4 1.9 5.0 0.7 2.7 0.9 1.5 0.7 1.0 2.2 1.8 1.1 2.4 1.2 2.0 1.0 2.3 0.4 3.6 1.3 3.7 0.3 4.1 1.6 2.1 1.4 3.4 1.7 2.8 1.0 0.3 4.2 3.2 1.2 6.7 2.0 3.5 0.5 2.3 2.6 4.5 1.6 2.0 0.3 2.0 2.1M404.0 56.0l5.3 0.4 2.8 0.5 1.4 0.9 2.4 1.3 3.2 1.7 3.3 -0.2 1.6 2.1 2.8 2.2 2.7 1.8 1.1 1.5 3.0 1.5 5.1 1.2 3.4 0.5 2.0 1.4 4.5 2.3 3.1 0.7 2.1 1.1 3.3 1.2 5.5 0.3 2.0 1.6 3.2 0.6M416.0 49.0l2.6 0.7 1.3 1.6 6.5 1.0 3.2 1.6 3.0 1.0 3.8 0.4 2.4 0.0 2.3 1.3 3.0 1.7 2.7 2.1 2.0 0.6 2.3 1.2 4.0 0.8 3.5 1.7 1.7 0.7 4.1 1.5 3.7 2.3M429.0 48.0l3.0 0.5 2.8 -0.3 4.3 1.6 4.9 0.7 3.8 0.2 2.7 1.0 4.6 2.2 5.2 1.5 2.4 1.5 4.1 1.2 -0.3 1.5 1.9 1.3 2.6 1.4M435.0 43.0l1.7 0.3 3.3 1.4 3.3 0.1 1.5 0.6 5.7 1.1 -0.0 1.2 0.9 1.1 2.3 0.2 4.1 -0.1 0.2 1.9 3.2 1.2 2.3 0.9M441.0 44.0l2.3 1.2 3.6 1.8 3.5 0.8 2.6 1.7 4.4 0.4 0.2 0.2 1.9 1.9 2.7 0.7 3.5 1.7 2.5 1.1 1.9 1.1 4.4 0.3M422.0 58.0l2.5 2.1 0.5 0.0 2.1 2.3 1.9 1.4 4.6 2.1 4.7 0.9 3.3 1.4 5.3 1.9 5.0 2.1 3.3 1.2 0.8 1.6 2.5 0.6 2.6 1.0 4.0 1.6 3.5 2.4M410.0 62.0l3.5 1.8 3.6 0.9 2.5 1.5 2.0 -0.1 5.4 0.2 2.5 0.5 3.3 1.5 1.2 1.3 3.1 1.2 2.7 1.1 3.1 0.2 2.5 2.1 3.8 2.2 4.3 0.7 2.2 1.1 0.6 2.3 1.6 1.8 2.8 0.7 5.0 2.0 1.8 1.9 5.8 2.4M454.0 28.0l1.9 4.7 -0.1 4.7 5.4 4.2 4.2 4.1 5.9 4.7 3.6 5.4 2.2 5.3 0.8 4.3 2.2 4.5 2.8 3.9 4.0 4.1 3.4 4.7 3.0 4.9 1.3 3.8 2.4 4.2 5.9 4.4M462.0 37.0l5.0 4.7 3.5 4.3 3.6 4.0 3.7 3.8 1.9 3.3 1.2 4.2 1.3 3.8 2.1 3.8 3.3 3.9 3.2 4.2 -0.1 5.1 3.6 4.2M477.0 36.0l2.0 2.6 1.2 4.5 2.5 3.3 0.5 4.4 3.5 5.2 0.5 3.4 2.5 4.8 1.5 3.4 1.9 4.1 -0.4 4.5 5.0 4.3 2.4 4.1M487.0 40.0l2.0 3.3 -0.8 5.0 0.8 3.9 -1.2 4.2 3.3 4.0 3.4 4.2 1.3 3.4 -1.7 4.1 1.3 3.8 0.4 4.6 2.1 3.5 1.1 3.3M494.0 45.0l-1.6 5.4 1.1 5.6 0.9 3.1 0.0 4.5 0.6 4.3 1.1 5.7 -0.8 5.5 0.5 4.9 0.8 4.8 1.0 4.7 1.8 5.0 1.9 4.2M447.0 50.0l1.7 2.2 3.5 2.0 0.6 2.3 1.2 3.4 3.3 3.8 0.3 3.5 4.1 2.7 6.3 2.5 2.5 3.6 4.0 3.0 3.6 1.9 4.9 2.5 3.0 3.2 3.6 3.6 3.3 2.4M466.0 45.0l1.4 3.8 3.0 2.4 1.7 4.7 1.5 4.6 1.9 2.8 3.2 3.9 2.7 3.3 4.6 3.4 2.3 3.9 4.4 4.0 1.5 3.0 2.3 2.7M470.0 52.0l2.4 3.5 2.8 2.2 3.4 2.2 3.8 3.6 0.5 3.2 1.0 3.6 0.4 3.9 2.7 2.9 4.3 3.1 0.3 4.3 2.2 3.1 3.4 2.2M458.0 55.0l2.7 2.2 3.2 2.2 4.2 3.7 2.7 2.0 3.2 3.2 3.0 2.4 2.3 3.7 2.5 2.7 2.7 3.1 2.6 4.2 2.2 3.9 3.9 3.6 3.7 3.8 4.3 3.6M480.0 50.0l1.0 4.3 1.3 4.8 1.6 5.7 2.5 4.9 -0.9 3.2 2.4 4.5 3.8 3.8 2.9 3.7 3.7 4.6 0.1 4.3 2.1 4.8 3.6 3.9M450.0 38.0l3.0 4.0 3.6 4.5 4.5 2.9 2.8 3.6 3.2 4.4 2.4 4.5 2.2 4.2 3.9 3.1 3.8 3.9 5.0 4.6 2.8 4.3 2.9 3.7 1.2 3.0 2.5 2.7M472.0 30.0l2.8 3.4 0.5 5.2 2.6 4.6 1.6 3.4 2.7 4.3 2.7 4.4 2.7 3.5 1.8 4.5 5.2 4.3 2.5 4.4 2.2 5.1 1.1 5.0M500.0 48.0l3.0 4.6 0.3 4.6 0.9 3.3 -1.2 5.1 -0.0 4.1 2.8 3.7 -0.5 3.9 -2.1 4.8 0.0 3.7 2.5 3.9 -2.7 3.2 -1.2 2.5M484.0 58.0l0.0 2.6 1.7 1.7 4.4 3.1 1.5 3.5 1.8 1.4 2.2 2.2 0.3 3.0 1.0 2.9 3.5 2.2 2.0 2.0 0.6 1.8 -0.3 2.5M462.0 62.0l4.1 2.8 1.9 4.1 4.8 2.4 2.0 3.8 2.6 4.6 2.5 2.8 2.8 3.3 1.8 2.8 2.9 2.4 1.6 3.1 3.3 2.2 3.7 2.5M444.0 58.0l2.5 0.4 3.2 1.5 4.3 1.8 3.7 0.9 1.9 0.5 3.6 1.4 2.0 1.3 3.2 1.6 3.5 1.2 4.5 0.6 2.3 1.7 3.8 1.4 3.0 0.7 2.5 2.3" fill="none" stroke="#000" stroke-width="0.95" stroke-linejoin="round" />
<path d="M506.6 114.9l-0.4 -3.4 0.4 -3.7 -1.1 -5.2 2.6 -2.8 -3.0 -3.0 -3.6 -4.4 -1.3 -3.5 -1.8 -3.5 -2.7 -3.7 0.4 -4.9 4.1 -2.9 0.2 -1.8 0.3 -2.8 0.6 -2.6 -2.9 -3.9 1.8 -1.5 -1.4 -1.9 0.6 -3.4 0.2 -5.1 -0.4 -2.2M540.5 131.8l3.0 -3.5 1.0 -2.1 2.2 -3.6 0.1 -3.1 -1.0 -2.5 -2.3 -4.5 0.9 -1.7 -0.8 -0.9 -2.3 -2.7 -1.5 -5.1 -4.8 -1.5 -0.4 -3.5 -0.9 -0.7 -3.9 -1.3 -0.3 -0.5 -2.8 -3.4 1.4 -2.7 -1.9 -3.4 2.8 -2.8 -1.4 -2.8M542.3 127.2l-1.4 -3.2 -2.2 -3.9 -4.3 -3.0 -1.0 -3.5 1.3 -2.3 -1.9 -3.9 3.0 -2.9 -1.4 -3.2 0.6 -2.7 -0.6 -1.8 0.7 -1.7 1.1 -1.4 -0.9 -2.7 -2.5 -4.5 -0.9 -2.5 -1.8 -2.3 0.0 -4.3 -2.7 -3.9 -1.3 -4.4 -3.3 -2.9M534.6 128.9l-2.3 -2.7 -1.3 -1.3 0.9 -4.0 -0.2 -2.9 -1.4 -2.4 -2.4 -1.9 -1.9 -3.2 -1.0 -2.8 -3.6 -2.2 -1.0 -2.9 -2.7 -1.5 -0.2 -4.4 0.9 -1.9 -1.5 -3.0 -3.5 -4.1 -0.4 -2.6 -0.7 -3.5 -1.3 -5.1 -0.6 -2.5 -2.5 -3.7M527.6 139.9l-1.0 -3.0 1.2 -3.7 1.5 -2.5 1.4 -2.3 1.2 -2.5 -3.7 -3.2 0.8 -2.9 -2.4 -3.4 -1.9 -2.4 0.4 -3.1 2.1 -2.2 -2.7 -1.3 1.3 -2.3 -2.6 -2.8 -0.2 -2.9 0.1 -1.7 0.8 -2.1 1.7 -1.5 0.9 -2.2 0.4 -2.5M508.0 107.3l-0.8 -3.1 -1.2 -2.4 3.1 -1.8 -0.5 -0.3 -0.7 -1.6 -1.1 -2.3 -1.1 -0.1 0.1 -2.2 0.0 -3.0 -2.0 -1.0 2.3 -1.4 -0.1 -2.7 -2.1 -2.6 -2.7 -1.6 1.6 -2.2 0.1 -2.6 -1.4 -3.8 -1.3 -2.2 -4.2 -1.3 -1.9 -2.8M499.8 135.1l-0.4 -3.8 -0.2 -1.1 -0.4 -2.7 2.6 -5.3 -1.8 -2.2 0.3 -3.4 -1.9 -4.1 0.7 -2.2 1.5 -3.2 -1.1 -4.0 -1.2 -3.6 -1.0 -3.5 3.2 -2.6 -0.3 -2.2 2.6 -3.1 -2.7 -2.3 -1.6 -2.1 -1.0 -4.3 -1.9 -2.5 -0.1 -1.8M534.4 131.2l-2.4 -1.2 -0.4 -1.8 -0.5 -2.6 -0.5 -2.8 -2.2 -2.3 -3.8 -2.9 -0.4 -2.4 0.8 -1.9 -0.4 -3.1 -0.1 -2.4 -1.2 -1.9 -2.6 -2.1 -1.0 -3.2 -0.5 -1.3 -1.9 -3.2 -6.6 -1.9 -2.8 -1.6 -1.0 -2.4 -1.3 -0.8 -3.4 -1.8M532.3 130.8l-1.0 -2.4 -5.8 -1.3 -0.4 -0.8 -6.1 -2.9 2.7 -1.2 -2.1 -1.0 1.2 -0.9 1.4 -2.6 2.1 -3.8 -3.1 -3.4 0.3 0.6 -1.1 -1.3 -1.5 -2.0 -2.4 -4.6 -2.6 0.1 -2.1 -1.7 -2.6 -2.3 -0.9 -2.8 0.5 -0.7 -5.1 -2.8M532.0 123.8l1.7 -2.7 -0.6 -0.8 0.3 -3.4 -1.7 -1.2 0.7 -1.6 0.9 -2.1 -0.3 -2.9 -1.4 -3.0 -1.2 -1.3 3.1 -2.3 0.6 -0.6 0.6 -3.1 0.3 -1.2 -3.1 -1.2 -0.6 -1.1 1.5 -1.9 -0.9 -2.0 -1.9 0.1 -0.5 -1.9 -0.9 -0.9M510.0 120.2l-2.3 -0.9 -1.2 -1.7 1.8 -1.1 -0.5 -3.5 0.1 -2.0 -1.6 -0.4 -4.6 -0.5 -1.9 -2.8 2.8 -1.4 -0.7 -1.3 -1.7 -0.2 -0.4 -2.2 -0.6 -2.7 3.4 -0.2 -3.1 -1.5 0.1 -1.9 1.2 -2.2 -0.8 -1.5 -4.5 -1.7 -0.3 -3.2M535.5 132.5l0.3 -3.9 -2.3 -1.6 -0.1 0.4 2.5 -0.5 -0.9 -2.6 1.3 -3.0 -3.3 -2.3 -1.2 -0.4 3.0 -2.1 -0.5 -2.6 0.8 -2.8 0.1 -2.0 -1.3 -1.7 1.2 -2.9 1.4 -1.4 -0.8 -2.8 0.3 -2.3 -0.9 -2.4 -1.1 -2.4 -1.7 -2.0M518.9 122.5l-1.3 -1.1 3.3 -1.7 -1.5 -1.2 -1.1 -1.9 -3.8 -1.8 -3.0 -1.7 -0.9 -1.1 -3.2 -1.8 4.2 -1.8 -3.6 -1.4 -0.4 -3.3 -0.4 -1.3 -2.6 -2.2 0.7 0.2 -1.7 -1.1 -2.4 -3.2 -2.2 -0.8 -1.1 -0.3 -0.1 0.9 -0.3 -0.1M544.2 124.0l-2.5 -2.8 0.5 -2.8 -0.3 -1.7 0.6 -1.2 0.0 -3.6 -2.5 -2.9 -1.1 -3.8 -5.3 -2.7 -3.0 -3.7 -2.0 -1.8 -3.0 -2.5 0.3 -2.4 -1.1 -4.4 0.2 -1.8 -0.2 -2.9 -2.6 -3.1 -1.3 -3.8 1.4 -5.2 -2.0 -3.5 -3.0 -2.9M539.7 139.7l-0.9 -3.1 -0.9 -2.3 -2.0 -3.2 -2.0 -3.9 1.0 -3.1 -0.6 0.0 -0.2 -3.0 -1.2 -2.1 0.5 -3.6 0.4 -0.6 -1.3 -3.4 -0.9 -1.6 -1.7 -3.5 -1.4 -2.8 -1.3 -2.9 -2.2 -2.8 -2.3 -2.4 -0.7 -3.3 -3.9 -1.6 0.7 -1.5M512.7 112.1l-2.1 -2.1 2.7 -3.2 -3.7 -2.7 0.9 -3.2 1.5 -2.9 -0.8 -2.7 -0.7 -2.2 -1.5 -2.5 -3.2 -4.0 -3.7 -3.6 1.5 -2.4 2.7 -2.7 -0.6 -3.0 -5.2 -2.1 -0.5 -0.3 -0.2 -2.9 -2.4 -4.3 0.6 -2.2 -3.6 -2.8 3.3 -2.6M527.1 113.8l-2.3 -2.0 2.2 -1.4 1.2 -1.8 1.5 -0.6 0.3 -2.0 -2.7 -4.0 -0.2 -3.1 1.8 -2.0 0.6 -3.0 1.9 -2.9 0.2 -2.4 1.0 -2.1 2.5 -0.1 -1.7 -0.8 -3.6 -2.8 0.1 -0.8 -1.8 -1.0 -2.0 -1.2 -2.4 -2.6 0.3 -1.3M532.4 127.8l-2.4 -5.1 -0.3 -2.1 -2.6 -4.2 -1.0 -2.0 0.9 -4.1 -1.1 -5.0 -0.7 -2.8 3.8 -4.4 -0.0 -2.8 -3.4 -5.4 -0.1 -2.9 -1.7 -2.5 1.2 -2.7 -1.5 -3.2 -2.2 -6.2 -1.5 -4.2 1.2 -3.0 -0.5 -2.7 -5.0 -4.3 -2.3 -3.6M536.3 115.6l2.6 -1.2 -1.6 -1.3 0.1 -1.1 -1.3 -1.7 -0.1 -1.4 -1.1 -2.4 -3.2 -0.7 -3.7 -2.3 1.3 -2.7 -3.2 -2.8 -2.5 -2.3 -3.2 -2.0 2.0 -3.7 0.0 -1.0 -3.0 -1.2 -7.6 -0.9 -0.8 0.1 0.6 -0.6 -2.2 -0.7 -0.5 -0.9M539.2 125.9l-0.3 -3.1 -2.5 -3.2 -0.6 -4.3 -5.3 -3.9 1.7 -2.8 -1.7 -3.5 -0.4 -2.9 -2.4 -1.9 0.0 -3.9 -2.3 -5.2 -3.4 -2.3 -1.5 -2.7 -1.3 -4.3 1.1 -2.7 -4.8 -4.5 0.6 -3.1 -0.8 -2.3 -1.7 -4.1 1.4 -3.6 -2.9 -5.6M530.3 118.7l1.0 -0.1 -1.7 -2.4 0.2 -1.1 -1.8 0.5 -2.4 0.0 0.4 0.3 -4.1 -2.1 -2.9 -0.6 -0.2 -1.8 -2.3 -1.2 -1.5 -0.4 -0.7 -1.0 -4.1 -1.4 2.4 -0.3 -5.6 -0.2 -2.5 -1.6 0.8 -1.3 -1.2 0.8 -5.8 -1.9 -3.1 -2.4M515.9 106.6l1.7 -2.1 -0.2 -1.7 -0.5 -2.8 -4.1 -1.7 0.5 -1.3 -0.9 -2.9 -0.8 -2.0 -4.4 -1.9 -1.9 -1.5 -2.1 -1.4 -1.1 -0.3 0.2 -1.9 -1.1 -1.7 -2.0 -0.6 0.9 -2.4 2.2 -3.2 -2.2 -2.0 0.1 -1.8 0.0 -0.4 1.3 -1.8M541.0 122.0l1.2 -1.7 -7.1 -3.6 0.8 -2.6 -3.9 -1.0 -3.2 -1.8 -1.9 -2.2 -1.6 -4.4 -2.3 -2.6 0.5 -2.6 -2.9 -2.7 -1.9 -2.0 -0.9 -2.6 -2.2 -2.0 -2.8 -1.4 -2.9 -1.6 -1.7 -2.1 -1.1 -2.3 -1.0 -1.5 -2.3 -3.1 -2.4 -1.7M512.0 129.7l0.8 -2.0 -3.7 -1.4 -1.9 -1.5 -2.9 -3.7 -1.1 -3.7 -0.3 -3.3 0.9 -2.8 -0.5 -2.7 2.0 -2.7 -1.2 -3.2 0.5 -2.1 -1.3 -2.3 -0.3 -2.0 -2.5 -1.3 0.1 -2.2 2.3 -2.1 -0.4 -1.2 -1.4 -1.0 -0.2 -1.6 -1.3 -1.6M508.4 116.7l3.2 -1.9 -1.7 -1.0 2.5 -3.8 -1.0 -2.9 0.1 -3.5 0.1 -4.6 -0.1 -3.3 -3.0 -1.6 -4.2 -1.9 0.9 -1.6 -4.3 -2.3 -0.3 -2.3 2.0 -2.6 -1.2 0.3 3.5 -0.7 0.2 -2.7 0.2 -2.5 -1.6 -1.9 0.9 -2.7 0.9 -4.3M541.8 119.0l0.3 -2.1 -4.1 -1.8 -0.8 -2.3 -2.7 -0.1 -2.1 -0.8 -0.5 -0.8 -2.8 -1.8 -2.9 -0.1 -3.7 -1.3 -0.9 -2.2 -2.0 -1.2 -2.5 -1.9 -0.9 -1.1 -3.6 -0.5 -1.6 -1.9 -2.9 -0.7 -1.7 -1.8 -1.9 -1.0 -1.3 -0.8 -4.5 0.6M546.5 131.1l-2.4 -4.6 1.4 -5.3 -1.8 -4.2 -1.5 -2.5 -4.6 -3.7 -3.5 -4.7 -4.4 -2.4 -3.0 -5.6 -3.5 -3.9 -2.4 -2.4 -2.5 -4.2 -3.8 -5.4 0.6 -3.7 0.0 -3.7 -0.1 -4.7 -0.6 -5.1 0.8 -2.0 -3.3 -3.4 0.0 -2.7 -2.0 -4.6M532.7 115.4l-0.0 -1.1 -1.4 -0.5 0.1 -0.0 -0.1 -2.4 1.5 -0.9 1.7 -0.8 4.8 -0.2 -1.5 -1.6 -1.6 -0.7 -2.0 -0.8 -4.8 0.2 -4.7 -2.1 1.4 -2.3 -0.8 -1.9 3.0 -2.1 -4.6 0.7 -0.6 -3.3 -2.6 -0.9 -3.1 -2.1 1.3 -0.8M530.4 117.2l0.3 -3.1 0.3 -4.2 -4.2 -4.2 -2.1 -2.8 2.3 -3.3 1.8 -2.0 -0.1 -3.2 -1.7 -3.2 -4.7 -4.5 -0.5 -2.4 -1.8 -1.7 -1.5 -3.0 0.0 -1.7 -4.7 -3.8 -2.7 -2.2 -0.4 -3.2 -2.7 -5.1 -1.4 -4.3 2.7 -3.0 -3.5 -5.0M518.8 112.1l1.9 -2.1 -1.4 -3.7 -0.2 -1.8 -2.7 -2.3 -0.8 -2.4 -0.8 -3.2 1.7 -3.2 -0.4 -2.0 -2.5 -4.8 1.9 -2.8 -1.8 -4.1 -1.1 -3.1 -1.1 -3.7 -0.4 -4.3 -5.6 -2.7 -2.6 -2.1 -3.0 -2.5 -3.1 -4.0 1.0 -3.1 -3.1 -3.6M516.8 128.9l-0.2 -4.1 0.4 -4.0 0.2 -3.4 -0.7 -2.3 -1.5 -2.8 1.0 -3.7 -1.3 -3.1 -0.4 -3.2 -2.9 -3.9 -1.1 -3.4 0.2 -3.5 -3.9 -5.0 1.0 -1.9 1.7 -3.1 -0.1 -4.8 -1.8 -3.3 -1.7 -3.5 3.2 -3.1 -3.7 -3.9 6.1 -4.4M543.7 125.6l0.2 -3.8 -1.6 -2.3 -0.8 -2.5 -4.4 -5.2 0.1 -3.5 -5.3 -4.9 -1.4 -5.1 -5.8 -2.3 1.4 -3.7 -4.8 -4.3 -1.6 -3.2 -1.6 -3.9 -0.2 -5.0 -2.7 -3.2 -2.5 -3.7 -2.4 -3.7 0.7 -5.6 0.5 -5.3 -3.9 -4.0 -3.4 -4.6M539.1 116.1l1.2 1.8 1.1 -1.4 -0.8 -1.4 4.0 -0.4 2.5 -2.0 2.4 1.3 0.4 -1.1 -2.5 -1.5 -4.0 -0.9 -0.8 -1.0 -0.2 -0.6 -0.7 -1.3 -2.1 -0.1 -2.3 -1.1 -0.7 -1.1 1.1 -1.0 -1.7 -1.6 0.0 -2.7 -0.5 0.0 -3.9 -1.2M522.7 106.0l-1.8 -1.4 -2.0 -1.8 2.2 -0.5 -0.8 -3.0 -0.3 -2.0 -1.4 0.2 -0.1 0.2 -0.1 -2.0 -4.8 0.5 -0.3 -0.4 -1.5 -0.9 -0.3 -1.9 0.5 -0.5 2.8 -1.0 -0.2 -0.9 1.0 -1.4 0.9 -0.7 0.6 -0.2 -1.2 -1.2 -0.3 -2.2M537.6 127.7l3.8 -2.4 0.3 0.1 -1.0 -1.9 1.5 -1.2 -2.2 -1.8 0.9 -1.2 -0.0 -0.0 -1.0 -1.7 -1.2 -1.0 -3.6 -2.1 0.3 -2.1 -0.2 -2.5 -1.7 -1.5 -0.7 -1.6 -0.4 -3.3 -3.0 -2.6 -0.7 -2.7 5.9 -1.7 -0.3 -3.5 -1.0 -4.8M525.4 113.2l-0.7 -1.1 -1.2 0.8 1.5 -2.0 2.1 -1.0 -2.0 -2.3 -1.8 1.7 -1.8 -0.6 -4.2 -0.9 -1.9 -2.9 -3.2 -0.9 -3.1 -1.2 0.2 0.1 1.6 0.1 0.1 -1.8 -2.3 -1.7 3.6 -0.8 -3.5 -0.3 -1.9 -2.3 -1.1 0.1 1.4 -0.2M514.8 114.1l3.7 -3.4 -2.8 -0.8 -3.9 -3.7 2.3 -1.7 -1.1 -2.1 -1.8 -2.6 0.2 -4.8 1.1 -3.5 2.4 -2.5 -1.2 -1.2 -0.2 -3.4 -0.2 -1.4 -1.6 -2.0 -1.1 -3.1 -3.3 -1.7 1.6 -3.0 3.3 -0.2 -0.9 -3.3 2.4 -3.4 -3.2 -4.1M537.1 136.7l-3.8 -2.0 -1.7 -2.5 0.5 -0.6 1.4 -2.9 -2.8 -2.0 -0.6 -1.6 1.0 -3.3 -1.9 -1.8 1.1 -1.5 -3.7 -3.5 1.3 -3.2 -0.9 -2.2 1.9 -1.5 0.9 -2.1 -3.2 -3.7 1.2 -1.9 -1.9 -2.5 2.3 -2.9 -1.6 -0.6 -0.3 -0.4" fill="none" stroke="#ff0000" stroke-width="0.7" stroke-linejoin="round" />
<path d="M533.0 131.0l0.7 -0.8 0.4 -0.4 1.5 -1.6 2.8 -1.4 4.1 -1.9 1.5 -1.0 3.1 -1.5 2.0 -1.4 7.0 -1.0 8.0 -1.0" fill="none" stroke="#ff0000" stroke-width="0.8" stroke-linejoin="round" />
<circle cx="564" cy="119" r="0.9" fill="#f00"/>
<path d="M539.3 147.6l2.8 -0.1 3.4 0.4 1.0 0.1 1.8 0.4 3.1 0.9 3.5 0.6 2.2 0.2 2.3 -0.3 4.0 0.8 3.3 0.2 1.8 0.1 1.8 0.6 2.3 -0.3 2.5 0.4M529.6 146.7l3.8 -1.0 2.7 -0.3 3.4 -0.1 4.6 -1.1 2.6 0.2 3.4 0.2 4.2 -0.1 3.8 -0.5 2.4 -0.8 3.9 0.4 2.9 0.9 2.8 0.5 3.6 0.2 3.5 0.5M537.5 149.5l2.1 -0.3 0.8 -0.1 2.7 -0.7 1.1 -0.1 2.2 0.1 1.1 0.2 2.3 -0.5 2.1 -0.9 2.2 -1.0 2.1 -0.7 1.8 -1.0 0.5 -0.7 3.5 -1.3 1.9 -1.4M529.4 137.0l2.7 0.9 3.2 0.1 3.3 0.1 1.3 1.7 2.5 -0.0 4.5 0.8 2.7 0.8 2.2 0.2 5.3 1.1 4.4 0.6 3.1 0.6 3.5 0.4 3.4 0.7 1.0 1.2M539.8 138.1l3.5 0.6 0.6 0.3 0.6 1.6 3.4 1.8 1.7 1.7 2.5 1.9 2.6 0.5 0.9 1.4 1.8 1.0 2.5 1.0 0.8 0.6 3.4 1.0 0.7 1.6 -0.6 1.1M533.8 134.7l0.6 -0.0 3.2 0.3 3.1 0.7 2.3 0.5 2.4 1.1 1.6 0.6 1.2 0.7 1.9 -0.1 1.8 1.1 2.3 0.7 2.6 -0.1 -0.2 0.3 4.0 1.2 1.9 0.7M536.8 150.9l1.7 -1.3 3.0 -0.3 1.2 -0.2 1.5 -0.8 1.2 -0.6 1.4 -0.9 0.7 -0.5 1.9 -1.2 2.2 -0.4 2.3 -0.7 2.1 -0.1 2.3 -1.3 2.6 -1.2 3.1 -0.4M529.8 139.8l2.9 0.5 2.7 0.3 2.7 -0.3 2.7 0.6 2.4 1.4 1.7 0.6 1.7 1.4 2.4 0.6 1.5 0.4 1.5 0.9 1.7 1.1 3.5 1.2 0.2 0.6 2.7 0.5M538.4 150.4l2.6 -0.7 3.6 -0.4 2.7 -1.1 2.4 -1.3 2.9 0.1 3.0 -0.5 2.8 -1.1 3.0 -0.5 2.9 -0.3 2.9 -0.8 2.1 -0.6 3.6 0.1 5.3 -0.3 3.8 -0.2M532.9 146.9l4.0 -0.4 4.5 0.1 3.2 0.5 3.8 0.0 2.3 -0.2 3.2 0.4 1.9 0.4 3.1 0.5 1.5 0.7 2.1 0.1 2.9 0.2 3.0 1.3 1.6 0.2 2.8 0.6M544.2 138.2l2.0 -0.1 1.1 0.1 1.6 0.4 1.1 0.5 2.7 0.6 1.8 0.7 1.3 1.5 0.1 0.4 2.2 0.9 2.1 0.8 1.9 0.2 1.6 0.4 1.7 -0.4 1.3 0.5M541.7 148.2l2.1 0.5 2.2 0.3 0.7 0.0 0.7 0.9 1.9 0.4 0.7 1.1 2.6 0.4 3.5 0.4 4.0 -0.2 3.1 0.9 2.6 -0.1 2.3 0.8 1.2 1.2 2.7 0.6M530.0 140.0l2.6 0.2 2.5 -0.3 3.3 0.2 3.6 0.1 2.7 0.3 3.4 -0.2 3.8 0.4 2.9 -0.3 2.9 -0.4 0.5 0.1 2.9 -0.4 0.4 0.2 3.6 -0.4 1.9 0.0M532.4 149.0l2.0 -0.9 3.9 -0.0 2.7 0.0 1.8 -0.5 3.5 -0.0 2.4 -0.2 4.4 -0.6 3.3 -0.1 2.7 0.2 3.1 -0.5 5.7 -0.6 2.0 0.4 2.3 0.8 1.9 0.6M544.5 151.0l0.9 0.1 2.1 0.3 1.3 1.0 -0.4 0.6 1.5 0.3 3.2 -0.1 2.3 0.7 0.7 0.1 0.3 0.8 0.4 0.2 0.4 0.7 2.5 -0.1 1.6 -0.2 0.5 0.2M535.9 136.6l1.2 0.6 4.6 0.6 1.9 0.6 1.8 -0.1 0.8 0.3 1.0 0.6 1.9 0.3 1.5 0.6 1.6 0.5 -0.1 0.4 3.5 0.6 1.3 -0.0 1.9 0.7 1.7 0.2M535.3 152.5l2.3 0.3 0.4 0.1 2.5 0.4 3.3 -0.6 0.6 0.3 0.5 -0.0 0.9 0.4 1.6 0.3 1.0 0.1 0.8 -0.1 1.9 0.9 2.4 0.6 0.6 0.1 2.9 -0.0M535.1 146.8l1.1 -0.2 3.3 0.2 3.7 0.1 2.0 1.1 2.7 0.2 2.9 -0.0 3.1 0.3 3.0 1.1 2.2 -0.0 2.2 -0.3 3.5 -0.1 3.0 0.7 2.7 -0.8 1.4 0.1M529.4 140.0l2.7 0.3 4.5 0.6 2.8 -0.1 3.3 0.4 1.6 0.6 3.7 1.0 1.8 0.9 2.5 0.2 2.4 0.5 2.0 0.5 2.6 1.0 2.7 0.8 3.6 1.0 3.6 1.0M536.9 154.6l1.6 -1.0 2.9 -1.1 3.4 -1.2 2.1 -0.5 0.8 -0.3 2.3 -0.3 3.6 -1.3 2.5 -1.9 2.6 -0.7 1.8 -1.4 1.5 -0.6 3.2 -1.7 3.6 -1.6 2.6 -0.7M539.0 141.5l2.0 1.1 2.8 1.5 2.4 1.2 3.1 1.4 3.8 1.1 3.2 1.1 2.2 1.3 2.2 0.4 3.2 0.5 2.0 0.9 3.2 1.5 3.6 0.7 3.7 1.0 2.1 0.8M539.7 147.2l1.6 0.5 1.5 0.9 2.3 -0.4 2.4 0.5 1.9 0.3 2.5 -0.4 3.1 0.7 1.8 0.6 0.7 -0.1 2.5 1.0 2.1 -0.6 1.6 0.2 1.0 0.3 2.3 0.1M539.2 149.7l1.9 0.7 0.4 -0.0 1.6 0.7 1.4 0.8 1.2 0.6 1.0 -0.2 1.4 0.1 2.0 0.9 0.3 0.2 0.8 0.8 1.4 -0.1 2.0 0.1 0.2 0.7 2.0 0.1M537.3 140.1l1.9 0.2 2.8 0.2 2.0 0.9 2.1 0.0 0.6 0.3 1.9 0.7 2.7 0.5 0.8 0.4 -0.0 1.2 2.0 0.0 2.6 -0.0 2.4 -0.3 1.2 0.5 0.1 0.2M535.4 152.9l0.7 0.1 0.9 0.6 2.1 -0.2 0.5 -0.2 2.3 -0.1 1.1 0.2 1.3 0.7 3.6 0.3 1.6 0.9 2.6 0.2 2.9 -0.2 1.6 -0.5 2.0 -0.4 1.5 0.7M533.9 135.2l0.5 0.9 3.7 -0.2 2.4 1.0 2.9 -0.1 2.8 0.4 2.0 0.9 1.7 0.1 3.7 0.6 4.0 -0.1 2.9 0.9 3.0 0.5 3.1 -0.1 1.5 0.1 2.7 1.1M538.6 146.3l0.6 -0.6 0.6 -0.2 -0.8 -0.0 -0.8 0.4 -0.5 -0.8 -2.1 -0.5 0.9 0.7M533.6 140.3l0.5 -0.2 1.2 0.1 0.7 0.5 -0.4 1.5 -2.4 0.3 1.0 1.5 -0.7 -0.1M541.8 144.4l-0.5 -1.4 2.2 0.2 0.4 0.2 0.4 -0.9 1.2 -0.1 1.4 0.4 -0.5 -0.3M544.8 137.5l1.7 -0.6 -0.6 0.1 -1.4 1.1 -0.7 -0.2 -0.4 0.4 -0.3 0.0 2.7 1.5M542.6 145.0l0.9 0.2 -0.4 -0.3 0.3 -0.2 3.0 -0.7 2.7 0.4 -0.5 -1.1 1.6 -0.6M544.3 146.5l0.3 0.8 0.7 0.8 0.7 -0.5 1.3 -0.1 0.2 1.0 -0.2 1.1 0.7 0.2M545.3 128.5l-0.7 0.2 -0.6 0.3 -0.2 0.7 -2.1 1.4 1.8 -0.1 -1.2 -0.1 -0.7 0.6M546.2 145.0l-0.5 0.2 -1.2 1.8 -0.2 -0.2 0.6 0.6 1.2 -0.1 0.6 0.6 0.4 -0.6M538.8 141.0l3.4 -0.1 1.6 -0.2 -0.5 0.6 1.3 -0.6 1.3 -0.4 -1.1 0.1 1.6 -0.1M541.8 147.5l0.3 -1.3 -2.2 -1.2 -1.5 -0.7 1.4 -0.5 -0.3 0.2 -0.6 0.3 0.0 1.5M549.0 146.4l0.6 -0.5 -0.2 -0.3 -0.9 0.2 -1.0 -0.8 3.5 0.2 1.8 -0.6 1.3 0.1M542.2 141.7l1.5 1.6 -1.9 -0.1 0.5 0.8 -0.6 1.0 -1.1 -0.6 -0.6 -0.5 0.1 1.1M549.4 144.8l0.6 1.2 0.6 0.1 -1.2 -0.8 0.6 0.2 -2.0 0.6 -0.4 0.9 -1.5 0.3M537.2 140.4l0.4 0.3 -1.0 0.1 2.3 -0.4 0.3 -1.0 -3.6 -0.7 0.8 -0.7 0.8 -0.7M538.0 134.0l4.0 -3.0 5.0 0.0 5.0 2.0 3.0 3.0 -4.0 1.0 -5.0 -2.0" fill="none" stroke="#000" stroke-width="0.8" stroke-linejoin="round" />
</g>
<path d="M31.8 -1V233.9H291.9V-1" fill="none" stroke="#8a8a8a" stroke-width="1.3"/>
<path d="M31.8 0.05H291.9" fill="none" stroke="#8a8a8a" stroke-width="1.2"/>
<line x1="27.3" y1="225.42" x2="31.8" y2="225.42" stroke="#8a8a8a" stroke-width="1.1"/>
<text transform="translate(22.1,225.42) rotate(-90) scale(0.96,1)" text-anchor="middle" font-size="9.5" >-1</text>
<line x1="27.3" y1="189.25" x2="31.8" y2="189.25" stroke="#8a8a8a" stroke-width="1.1"/>
<text transform="translate(22.1,189.25) rotate(-90) scale(0.96,1)" text-anchor="middle" font-size="9.5" >0</text>
<line x1="27.3" y1="153.08" x2="31.8" y2="153.08" stroke="#8a8a8a" stroke-width="1.1"/>
<text transform="translate(22.1,153.08) rotate(-90) scale(0.96,1)" text-anchor="middle" font-size="9.5" >1</text>
<line x1="27.3" y1="116.91" x2="31.8" y2="116.91" stroke="#8a8a8a" stroke-width="1.1"/>
<text transform="translate(22.1,116.91) rotate(-90) scale(0.96,1)" text-anchor="middle" font-size="9.5" >2</text>
<line x1="27.3" y1="80.74" x2="31.8" y2="80.74" stroke="#8a8a8a" stroke-width="1.1"/>
<text transform="translate(22.1,80.74) rotate(-90) scale(0.96,1)" text-anchor="middle" font-size="9.5" >3</text>
<line x1="27.3" y1="44.57" x2="31.8" y2="44.57" stroke="#8a8a8a" stroke-width="1.1"/>
<text transform="translate(22.1,44.57) rotate(-90) scale(0.96,1)" text-anchor="middle" font-size="9.5" >4</text>
<line x1="27.3" y1="8.40" x2="31.8" y2="8.40" stroke="#8a8a8a" stroke-width="1.1"/>
<text transform="translate(22.1,8.40) rotate(-90) scale(0.96,1)" text-anchor="middle" font-size="9.5" >5</text>
<line x1="41.37" y1="233.7" x2="41.37" y2="238.8" stroke="#8a8a8a" stroke-width="1.1"/>
<text transform="translate(42.16,250.9) scale(0.96,1)" text-anchor="middle" font-size="9.5" >-500</text>
<line x1="81.50" y1="233.7" x2="81.50" y2="238.8" stroke="#8a8a8a" stroke-width="1.1"/>
<text transform="translate(82.30,250.9) scale(0.96,1)" text-anchor="middle" font-size="9.5" >0</text>
<line x1="121.63" y1="233.7" x2="121.63" y2="238.8" stroke="#8a8a8a" stroke-width="1.1"/>
<text transform="translate(122.43,250.9) scale(0.96,1)" text-anchor="middle" font-size="9.5" >500</text>
<line x1="161.77" y1="233.7" x2="161.77" y2="238.8" stroke="#8a8a8a" stroke-width="1.1"/>
<text transform="translate(162.57,250.9) scale(0.96,1)" text-anchor="middle" font-size="9.5" >1000</text>
<line x1="201.90" y1="233.7" x2="201.90" y2="238.8" stroke="#8a8a8a" stroke-width="1.1"/>
<text transform="translate(202.70,250.9) scale(0.96,1)" text-anchor="middle" font-size="9.5" >1500</text>
<line x1="242.04" y1="233.7" x2="242.04" y2="238.8" stroke="#8a8a8a" stroke-width="1.1"/>
<text transform="translate(242.84,250.9) scale(0.96,1)" text-anchor="middle" font-size="9.5" >2000</text>
<line x1="282.17" y1="233.7" x2="282.17" y2="238.8" stroke="#8a8a8a" stroke-width="1.1"/>
<text transform="translate(282.97,250.9) scale(0.96,1)" text-anchor="middle" font-size="9.5" >2500</text>
<text x="169.00" y="264.6" text-anchor="middle" font-size="8.75" >Cumulative carbon uptake (PgC)</text>
<text transform="translate(6.5,112.6) rotate(-90)" text-anchor="middle" font-size="8.95" >Increase in TA (K)</text>
<text x="35.7" y="23.6" font-size="20.3" >a</text>
<path d="M337.1 -1V233.9H597.2V-1" fill="none" stroke="#8a8a8a" stroke-width="1.3"/>
<path d="M337.1 0.05H597.2" fill="none" stroke="#8a8a8a" stroke-width="1.2"/>
<line x1="332.6" y1="225.42" x2="337.1" y2="225.42" stroke="#8a8a8a" stroke-width="1.1"/>
<text transform="translate(327.40000000000003,225.42) rotate(-90) scale(0.96,1)" text-anchor="middle" font-size="9.5" >-1</text>
<line x1="332.6" y1="189.25" x2="337.1" y2="189.25" stroke="#8a8a8a" stroke-width="1.1"/>
<text transform="translate(327.40000000000003,189.25) rotate(-90) scale(0.96,1)" text-anchor="middle" font-size="9.5" >0</text>
<line x1="332.6" y1="153.08" x2="337.1" y2="153.08" stroke="#8a8a8a" stroke-width="1.1"/>
<text transform="translate(327.40000000000003,153.08) rotate(-90) scale(0.96,1)" text-anchor="middle" font-size="9.5" >1</text>
<line x1="332.6" y1="116.91" x2="337.1" y2="116.91" stroke="#8a8a8a" stroke-width="1.1"/>
<text transform="translate(327.40000000000003,116.91) rotate(-90) scale(0.96,1)" text-anchor="middle" font-size="9.5" >2</text>
<line x1="332.6" y1="80.74" x2="337.1" y2="80.74" stroke="#8a8a8a" stroke-width="1.1"/>
<text transform="translate(327.40000000000003,80.74) rotate(-90) scale(0.96,1)" text-anchor="middle" font-size="9.5" >3</text>
<line x1="332.6" y1="44.57" x2="337.1" y2="44.57" stroke="#8a8a8a" stroke-width="1.1"/>
<text transform="translate(327.40000000000003,44.57) rotate(-90) scale(0.96,1)" text-anchor="middle" font-size="9.5" >4</text>
<line x1="332.6" y1="8.40" x2="337.1" y2="8.40" stroke="#8a8a8a" stroke-width="1.1"/>
<text transform="translate(327.40000000000003,8.40) rotate(-90) scale(0.96,1)" text-anchor="middle" font-size="9.5" >5</text>
<line x1="346.46" y1="233.7" x2="346.46" y2="238.8" stroke="#8a8a8a" stroke-width="1.1"/>
<text transform="translate(347.26,250.9) scale(0.96,1)" text-anchor="middle" font-size="9.5" >-2000</text>
<line x1="386.60" y1="233.7" x2="386.60" y2="238.8" stroke="#8a8a8a" stroke-width="1.1"/>
<text transform="translate(387.40,250.9) scale(0.96,1)" text-anchor="middle" font-size="9.5" >-1500</text>
<line x1="426.73" y1="233.7" x2="426.73" y2="238.8" stroke="#8a8a8a" stroke-width="1.1"/>
<text transform="translate(427.53,250.9) scale(0.96,1)" text-anchor="middle" font-size="9.5" >-1000</text>
<line x1="466.87" y1="233.7" x2="466.87" y2="238.8" stroke="#8a8a8a" stroke-width="1.1"/>
<text transform="translate(467.67,250.9) scale(0.96,1)" text-anchor="middle" font-size="9.5" >-500</text>
<line x1="507.00" y1="233.7" x2="507.00" y2="238.8" stroke="#8a8a8a" stroke-width="1.1"/>
<text transform="translate(507.80,250.9) scale(0.96,1)" text-anchor="middle" font-size="9.5" >0</text>
<line x1="547.13" y1="233.7" x2="547.13" y2="238.8" stroke="#8a8a8a" stroke-width="1.1"/>
<text transform="translate(547.93,250.9) scale(0.96,1)" text-anchor="middle" font-size="9.5" >500</text>
<line x1="587.27" y1="233.7" x2="587.27" y2="238.8" stroke="#8a8a8a" stroke-width="1.1"/>
<text transform="translate(588.07,250.9) scale(0.96,1)" text-anchor="middle" font-size="9.5" >1000</text>
<text x="469.90" y="264.6" text-anchor="middle" font-size="8.75" >Cumulative carbon uptake (PgC)</text>
<text transform="translate(311.8,112.6) rotate(-90)" text-anchor="middle" font-size="8.95" >Increase in TA (K)</text>
<text x="341" y="25.6" font-size="20.3" >b</text>
</svg>
</body></html>
